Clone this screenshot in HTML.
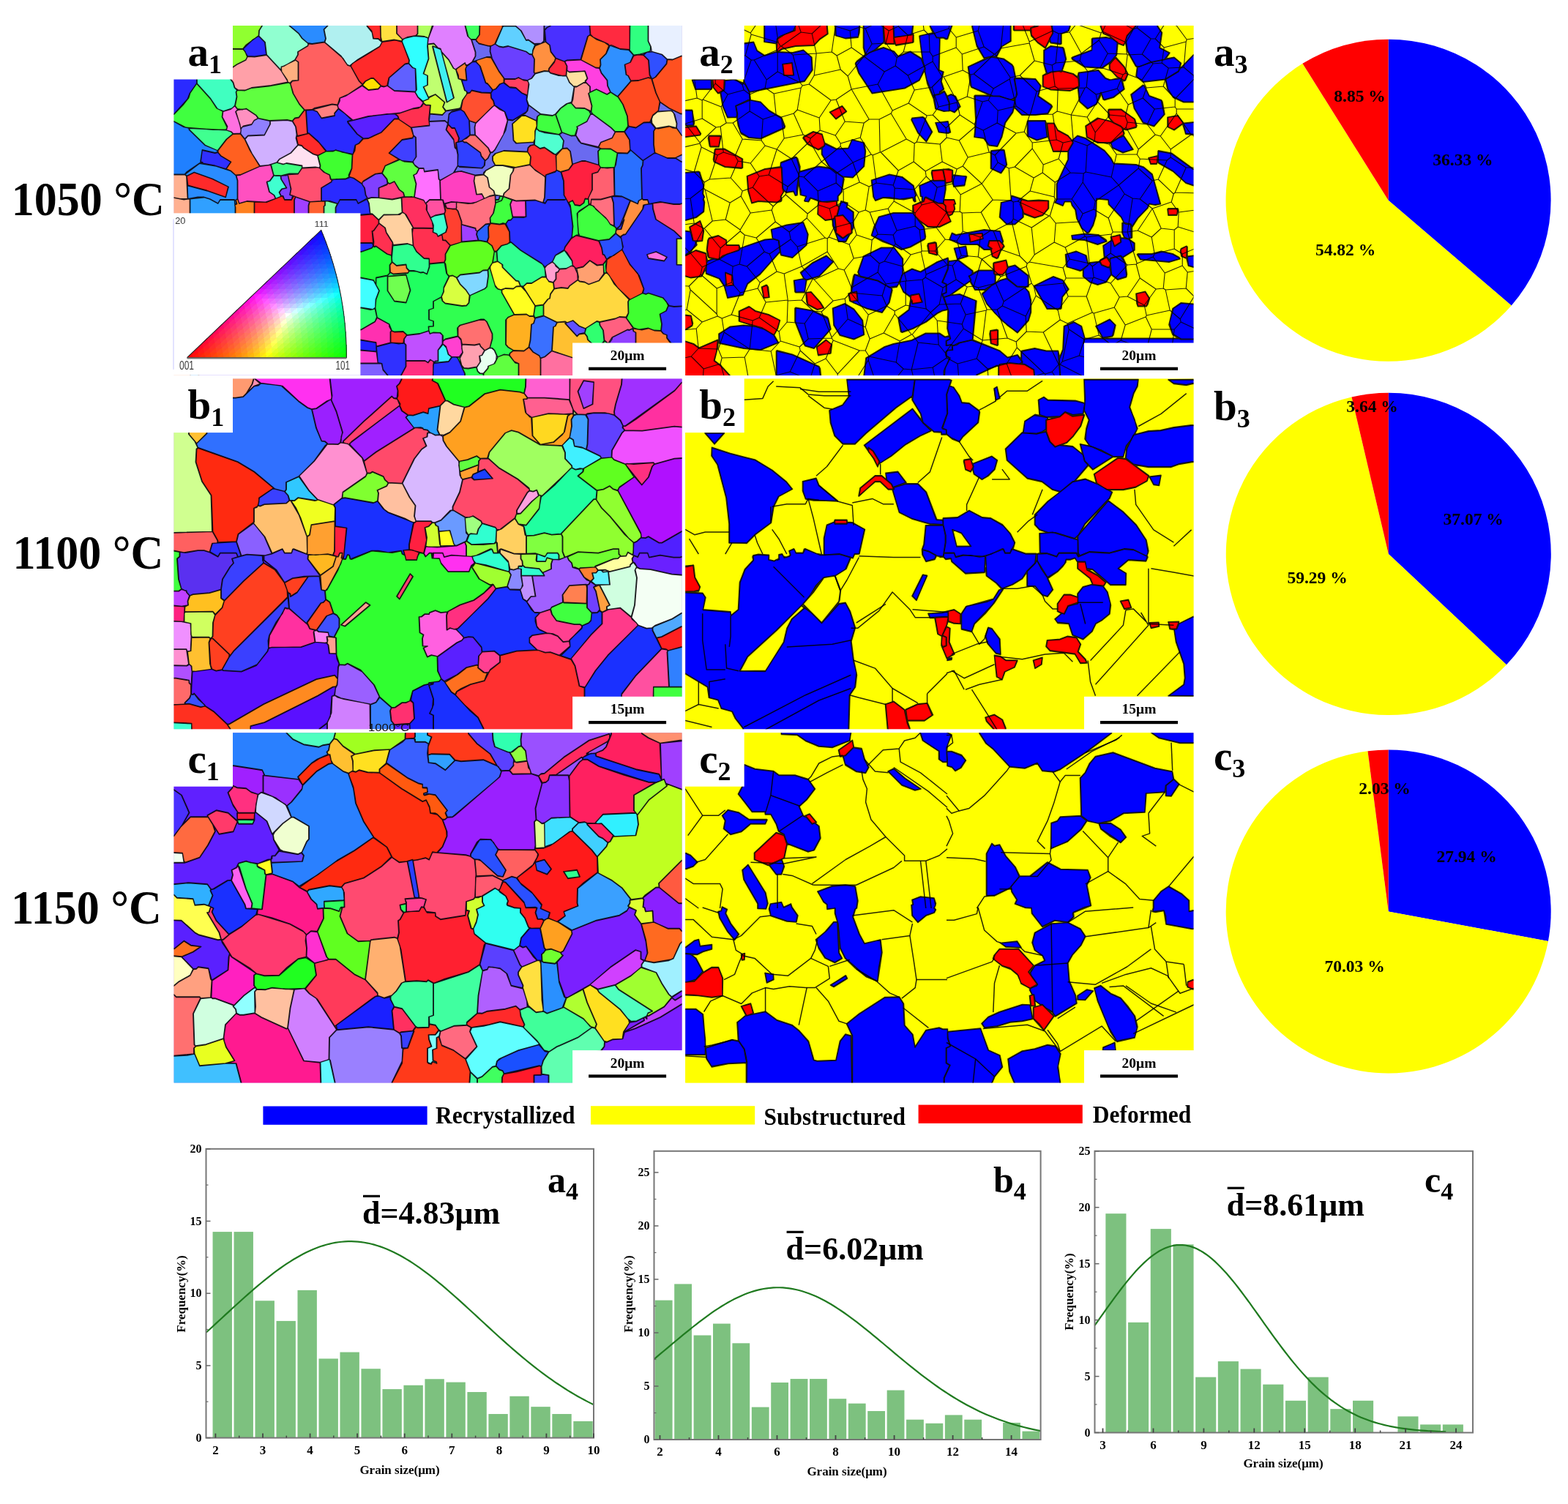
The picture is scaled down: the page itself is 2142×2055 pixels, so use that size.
<!DOCTYPE html>
<html><head><meta charset="utf-8"><title>EBSD figure</title><style>html,body{margin:0;padding:0;background:#fff;width:2142px;height:2055px;overflow:hidden}svg{display:block}</style></head><body>
<svg xmlns="http://www.w3.org/2000/svg" width="2142" height="2055" viewBox="0 0 2142 2055">
<rect x="0" y="0" width="2142" height="2055" fill="#fff"/>
<svg x="237.5" y="35.0" width="694.1" height="478.0" viewBox="0 0 694.1 478.0" preserveAspectRatio="none" overflow="hidden">
<rect width="694.1" height="478.0" fill="#9a7ad8"/>
<g transform="translate(-5.75,-5.75) scale(0.5)">
<path d="M890 475l0 12l9 0l3 -11zM1382 373l16 10l13 0l0 -18l-12 0zM1065 309l12 17l-3 21l12 -1l9 9l6 35l25 -9l10 0l36 11l-2 -37l6 -7l-2 -2l-50 -13l-7 -7l-7 -14l-13 1l-24 -9zM819 272l2 38l13 0l-1 -21l3 -11zM1316 271l-3 4l4 2zM1148 246l2 6l5 1l-4 -7zM795 236l-4 3l-36 6l-10 11l-34 -3l-2 20l43 -2l8 7l3 -25l8 -7l23 -5zM1013 253l-32 -24l-3 15l-7 8l-34 19l-13 -2l-6 29l-29 53l-7 7l-5 1l-7 15l-8 7l-1 12l-7 8l-62 -3l-5 -3l-9 17l20 -3l37 11l22 -2l1 -5l6 -6l25 -14l-7 -13l0 -11l7 -8l24 -8l64 3l2 -11l6 -6l10 -2l0 -7l-49 3l-7 -8l-3 -45l26 -23l10 0l30 14l2 -11zM1340 221l-5 25l37 -2l8 11l6 24l-1 12l14 20l12 0l0 -58l-15 0l-31 -15zM1299 86l-14 4l10 1zM1013 61l-15 2l2 3zM825 50l11 34l0 11l-8 15l38 -13l10 0l4 3l-5 -18l1 -14l-31 -7l-9 -11zM1040 0l-16 0l0 52l-6 7l9 -4l-3 -31l7 -8l9 -4zM910 0l0 14l3 -2l31 0l0 -12z" fill="#6a6af0" fill-rule="evenodd"/>
<path d="M786 918l21 44l0 17l50 0l0 -16l-10 -1l-6 -6l-3 -11l-22 4l-12 -1l-7 -8l-5 -23zM1104 920l2 3l0 56l305 0l0 -94l-39 -4l-9 11l-156 0l-19 -20l-2 6l-8 7l-22 -2l3 28l-7 8zM1021 775l-22 3l-4 24l3 8l23 -6zM962 725l8 9l-4 -8zM875 673l-5 6l1 17l-4 29l-6 6l-40 18l-3 20l-7 8l-12 1l-46 -7l-8 -7l-3 -10l-21 11l0 19l-12 4l0 27l12 4l0 14l-13 1l0 10l3 9l9 -3l20 1l7 8l0 14l6 -5l34 -8l-1 -22l7 -8l56 -16l10 0l8 7l15 33l0 13l-7 25l7 1l6 6l8 18l17 -7l15 2l1 -5l10 -8l-14 -8l-7 -8l0 -67l7 -8l16 -7l-34 -60l0 -7l-11 -3l-6 -6zM1194 652l-9 12l2 24l6 -1l-2 -19zM893 629l-6 1l-4 29l12 -4zM1144 486l-9 -1l-3 11l-11 8l-14 -2l-6 -12l-10 5l4 8l7 57l-3 31l12 -7l6 0l-4 -59l7 -8l25 -16zM911 479l-8 -2l-4 11l-9 0l1 7l16 -6z" fill="#30ff50" fill-rule="evenodd"/>
<path d="M0 0l0 13l12 0l23 24l28 37l137 1l9 -11l34 -25l1 -14l8 -13l0 -12z" fill="#90ff30" fill-rule="evenodd"/>
<path d="M243 40l-16 10l-26 25l12 20l19 1l32 -5l-4 -34z" fill="#2a2aff" fill-rule="evenodd"/>
<path d="M64 75l10 14l75 47l10 -2l25 -17l24 -12l4 -8l-6 -15l-6 -6z" fill="#90ff30" fill-rule="evenodd"/>
<path d="M322 163l-18 -29l-39 -42l-33 5l-19 -1l-5 10l-24 12l-25 17l-8 2l23 30l4 14l10 7l18 0l18 -7l53 -6l45 -9z" fill="#ffa0a8" fill-rule="evenodd"/>
<path d="M253 0l0 12l-8 13l-1 15l17 17l4 34l39 42l1 -9l8 -2l29 -17l8 -14l0 -8l28 -17l0 -6l-17 -14l-9 -13l-25 -21l0 -12z" fill="#90ffd0" fill-rule="evenodd"/>
<path d="M328 0l0 12l24 20l10 14l15 13l12 2l34 -5l3 -9l-5 -25l10 -10l0 -12z" fill="#2a8cff" fill-rule="evenodd"/>
<path d="M422 22l5 25l-3 10l44 37l17 24l7 3l22 -17l60 -36l6 -11l-10 -9l-14 -1l-3 -17l-14 -17l0 -13l-107 0l0 12z" fill="#b0f0f0" fill-rule="evenodd"/>
<path d="M423 57l-34 5l-10 -1l-1 6l-27 16l0 8l-8 14l9 6l0 50l-17 2l-5 7l8 27l17 29l14 16l20 -1l6 -4l49 -11l15 2l6 -19l23 -10l39 -26l-10 -10l-22 -40l-9 -3l-12 -19z" fill="#ff6060" fill-rule="evenodd"/>
<path d="M344 106l-39 19l1 12l15 22l2 7l6 2l6 -6l16 -1l0 -50z" fill="#ffb080" fill-rule="evenodd"/>
<path d="M635 56l-18 -5l-36 5l-7 13l-75 46l-4 7l23 41l9 9l8 -9l15 -8l7 0l21 21l8 2l8 -2l5 -22l44 -38l10 -2l1 -8z" fill="#ff2a2a" fill-rule="evenodd"/>
<path d="M668 40l-25 6l-6 4l-2 5l20 51l-1 9l10 11l8 3l3 58l-4 6l8 14l13 11l16 -7l-15 -32l11 -5l0 -26l-11 -5l14 -41l-3 -34l2 -22l-10 -4z" fill="#30ffff" fill-rule="evenodd"/>
<path d="M459 230l2 7l40 33l42 -11l86 -9l35 -12l21 -4l8 -12l-15 -15l-8 -14l-56 -3l-19 -14l-9 3l-9 -2l-7 8l-27 3l-17 -12l-45 28l-16 6l0 7z" fill="#ff40d0" fill-rule="evenodd"/>
<path d="M368 242l-14 -16l-17 -29l-7 -26l-4 -4l-55 10l-47 5l-18 7l-21 -1l-3 5l2 13l-5 25l6 8l15 2l9 -3l27 18l7 9l29 6l49 -2l14 3l7 -8l11 -2z" fill="#60ff40" fill-rule="evenodd"/>
<path d="M74 90l1 80l37 41l19 28l16 6l24 -8l7 -7l5 -24l-2 -13l3 -5l-7 -7l-4 -14l-23 -30z" fill="#40ffc0" fill-rule="evenodd"/>
<path d="M0 254l0 19l12 0l33 17l74 6l35 0l3 -6l-14 -29l2 -15l-17 -9l-17 -26l-37 -41l-18 26l-4 13l-15 19l-25 26z" fill="#40ff40" fill-rule="evenodd"/>
<path d="M0 14l0 239l12 0l37 -41l6 -16l19 -27l-1 -80l-45 -59l-16 -16z" fill="#2a2aff" fill-rule="evenodd"/>
<path d="M373 243l4 63l3 -1l24 21l25 29l18 -1l7 -3l16 6l31 6l6 -25l10 -5l11 -13l-16 -12l-25 -31l-1 -4l12 -3l-19 -18l-18 -13l-10 12l0 7l-36 7l-12 -18l-13 -5z" fill="#2a2aff" fill-rule="evenodd"/>
<path d="M625 266l-2 -7l-8 -6l-21 0l-51 7l-57 14l27 34l17 12l13 -1l35 -16l36 -37z" fill="#5a20ff" fill-rule="evenodd"/>
<path d="M659 290l-34 -23l-11 0l-36 37l-35 16l-14 1l-12 13l-9 4l-2 16l-6 10l-2 38l-8 22l13 4l22 15l4 -7l32 -19l19 -3l9 -20l37 -17l-27 -17l36 -37l29 -5l2 -6z" fill="#ff5020" fill-rule="evenodd"/>
<path d="M335 273l-14 -3l-46 2l0 9l-16 30l-45 2l-8 9l19 39l22 34l21 -2l25 -8l7 -9l31 -17l19 -21l-5 -19l2 -9l-3 -22z" fill="#d0b0ff" fill-rule="evenodd"/>
<path d="M132 353l1 6l7 8l28 17l-13 19l12 5l13 12l13 -1l53 -23l-27 -44l-14 -30l-12 -15l-20 1l-17 14z" fill="#ff6020" fill-rule="evenodd"/>
<path d="M54 292l0 4l43 42l34 15l24 -31l18 -15l-5 -5l-14 -5z" fill="#40ff90" fill-rule="evenodd"/>
<path d="M0 274l0 144l41 0l6 -7l35 -24l8 0l-6 -3l5 -33l35 8l8 -2l-3 -5l-32 -13l-44 -43l0 -4l-16 -4l-25 -14z" fill="#2080ff" fill-rule="evenodd"/>
<path d="M89 352l-4 32l5 1l1 3l33 6l30 9l13 -19l-27 -16l-8 -10l-8 2z" fill="#3030ff" fill-rule="evenodd"/>
<path d="M42 418l5 4l20 -10l50 18l44 22l-8 29l-51 -18l-52 -14l-2 -10l2 46l27 -5l17 0l16 5l22 12l6 -10l39 0l2 13l4 -1l-3 -11l5 -3l0 -50l-4 -14l-14 -12l-43 -14l-42 -7z" fill="#2a8cff" fill-rule="evenodd"/>
<path d="M47 423l3 25l52 14l51 18l7 -28l-43 -21l-50 -18z" fill="#ff2a2a" fill-rule="evenodd"/>
<path d="M0 419l0 60l29 6l20 0l-3 -62l-4 -4z" fill="#ffb090" fill-rule="evenodd"/>
<path d="M276 392l-29 4l-54 24l-11 1l4 14l0 50l4 12l21 -6l50 3l28 -10l-4 -9l-13 -9l-7 -27l9 -4l10 -14z" fill="#ff50c0" fill-rule="evenodd"/>
<path d="M294 386l16 4l9 -3l43 7l0 6l36 -2l11 2l2 -5l-7 -28l-12 -4l-26 -17l-5 -6l-10 -2l-20 22l-31 17z" fill="#ffe0f0" fill-rule="evenodd"/>
<path d="M405 367l7 27l-1 8l13 11l13 6l4 13l40 -2l9 -5l-1 -5l8 -18l2 -38l-45 -12l-7 3l-19 0z" fill="#40ff30" fill-rule="evenodd"/>
<path d="M443 434l-4 -3l-2 -11l-16 -8l-11 -11l-7 -2l-41 2l-11 16l-34 2l2 2l4 -2l9 39l-3 16l56 19l29 -2l0 -36l28 -17z" fill="#ff5070" fill-rule="evenodd"/>
<path d="M540 483l-5 -9l-3 -19l-7 -11l-22 -15l-9 -3l-13 5l-27 0l-10 3l-2 5l-27 16l0 36l24 0l21 7l5 -11l45 0l5 10z" fill="#2a2aff" fill-rule="evenodd"/>
<path d="M589 395l-8 20l13 16l2 9l5 3l13 -6l14 23l11 8l3 11l26 1l5 -36l-7 -24l8 -4l7 -14l-9 -6l-8 -11l-24 -2l-11 -5z" fill="#60ff40" fill-rule="evenodd"/>
<path d="M580 415l-17 2l-36 22l-1 6l7 10l3 19l5 10l11 -3l19 1l0 -27l24 -11l-2 -13z" fill="#8040ff" fill-rule="evenodd"/>
<path d="M638 468l-11 -8l-13 -22l-13 6l-4 -2l-4 5l-21 8l0 27l36 4l33 -7z" fill="#ff4080" fill-rule="evenodd"/>
<path d="M672 317l-6 -4l-2 6l-29 5l-35 36l35 21l29 3l9 -14z" fill="#4040ff" fill-rule="evenodd"/>
<path d="M710 284l-2 -17l4 -38l-12 0l-7 -5l-4 8l-9 5l-16 2l-35 12l-13 1l8 7l3 9l33 22z" fill="#ff3050" fill-rule="evenodd"/>
<path d="M372 243l-4 0l-15 20l-11 2l-6 7l9 16l4 25l27 -6z" fill="#ff4040" fill-rule="evenodd"/>
<path d="M346 315l5 22l10 2l5 6l28 18l11 3l22 -11l-18 -23l-29 -26z" fill="#ff2a2a" fill-rule="evenodd"/>
<path d="M461 238l-3 -9l-14 -2l-54 14l13 5l12 18l36 -7l-1 -6z" fill="#ff8080" fill-rule="evenodd"/>
<path d="M653 115l-10 2l-43 37l-4 22l18 13l57 3l2 -3l-2 -60l-7 -2z" fill="#6060ff" fill-rule="evenodd"/>
<path d="M527 174l16 13l27 -3l7 -8l-20 -20l-7 0l-15 8z" fill="#ffe000" fill-rule="evenodd"/>
<path d="M576 0l1 43l3 12l33 -5l22 4l0 -6l-15 -15l0 -33z" fill="#ffe040" fill-rule="evenodd"/>
<path d="M540 0l0 13l12 13l5 21l13 0l7 5l-2 -52z" fill="#ff2a2a" fill-rule="evenodd"/>
<path d="M621 0l0 33l15 16l13 -6l23 -4l5 -5l0 -34z" fill="#ff6080" fill-rule="evenodd"/>
<path d="M274 272l-32 -7l-11 6l-7 11l-25 6l-4 6l-1 13l11 14l9 -9l45 -2l15 -29z" fill="#9080ff" fill-rule="evenodd"/>
<path d="M178 231l-11 9l-21 6l-2 15l14 26l-3 10l13 4l6 6l19 -1l2 -7l-3 -18l-12 -34l6 -6z" fill="#ff70e0" fill-rule="evenodd"/>
<path d="M209 239l-22 3l-6 4l14 47l6 -7l23 -5l7 -11l10 -5l-5 -8z" fill="#ff90c0" fill-rule="evenodd"/>
<path d="M678 0l0 34l-5 5l23 2l11 4l14 -45z" fill="#b0ff60" fill-rule="evenodd"/>
<path d="M304 422l1 9l15 24l-13 3l-7 9l5 10l5 0l4 10l19 0l3 -11l-8 -2l3 -16l-8 -38z" fill="#8040ff" fill-rule="evenodd"/>
<path d="M303 422l-18 -1l-11 15l-8 2l7 28l13 9l4 9l14 -6l-5 -11l7 -9l13 -3l-15 -24z" fill="#40ffd0" fill-rule="evenodd"/>
<path d="M277 391l7 28l5 3l18 -1l20 -5l24 0l10 -15l1 -6l-43 -7l-9 3l-17 -5z" fill="#40ff80" fill-rule="evenodd"/>
<path d="M722 0l-2 12l-13 34l-2 16l17 -2l11 12l7 2l3 9l20 22l13 23l5 3l26 -18l2 6l5 0l12 -8l9 -16l0 -11l-11 -34l-10 -10l-7 -28l0 -12z" fill="#e080ff" fill-rule="evenodd"/>
<path d="M705 63l3 39l-14 41l11 5l0 26l-11 5l13 28l19 -8l26 22l-5 13l8 10l36 -6l4 -3l5 -20l12 -17l-1 -7l-5 -2l-9 -29l-8 -3l-7 -25l-7 -4l-13 -23l-19 -21l34 125l-20 12l-39 -152l1 -2l13 5l-10 -11z" fill="#c0ff70" fill-rule="evenodd"/>
<path d="M719 68l39 153l18 -11l-35 -133z" fill="#40f0f0" fill-rule="evenodd"/>
<path d="M848 0l-1 36l-10 14l1 4l7 6l25 7l8 0l10 -5l21 -46l0 -16z" fill="#ff6020" fill-rule="evenodd"/>
<path d="M910 15l-20 47l10 6l11 2l14 -3l49 15l9 7l8 1l1 -11l6 -15l-18 -13l-6 1l-15 -27l-14 -12l-32 0z" fill="#60d0ff" fill-rule="evenodd"/>
<path d="M808 0l0 12l8 30l7 7l14 0l9 -13l1 -36z" fill="#40ff60" fill-rule="evenodd"/>
<path d="M945 0l0 12l16 14l13 25l6 -1l17 11l18 -1l7 -6l1 -54z" fill="#b090ff" fill-rule="evenodd"/>
<path d="M1041 0l0 12l-10 5l-6 7l3 32l11 9l3 18l13 17l23 9l7 -3l38 -2l19 -63l7 -5l-3 -36z" fill="#4a30ff" fill-rule="evenodd"/>
<path d="M1147 0l3 36l7 7l40 18l4 5l7 -1l23 10l26 2l0 -77z" fill="#ff2a40" fill-rule="evenodd"/>
<path d="M1258 0l-1 79l11 13l16 -2l29 -9l1 -12l-7 -15l0 -54z" fill="#30ff80" fill-rule="evenodd"/>
<path d="M1308 0l0 54l7 15l2 13l28 8l14 13l15 1l24 -10l13 0l0 -94z" fill="#e8f0ff" fill-rule="evenodd"/>
<path d="M1148 37l-5 4l-19 64l40 21l10 1l3 -8l-1 -15l16 -16l8 -22l-11 -8l-22 -8z" fill="#ff7020" fill-rule="evenodd"/>
<path d="M1027 56l-28 11l-6 12l-2 12l6 12l-1 36l2 3l26 -7l11 1l1 -7l16 -21l2 -8l-13 -17l-3 -18z" fill="#ff9040" fill-rule="evenodd"/>
<path d="M1203 66l-10 22l-16 16l1 15l-3 9l5 13l16 20l1 15l8 17l19 12l36 -42l-8 -15l-5 -2l-4 -28l15 -6l9 -20l-13 -14l-23 -2z" fill="#3090ff" fill-rule="evenodd"/>
<path d="M1294 92l-15 -1l-11 3l-9 18l-15 6l4 28l5 2l7 14l21 -1l27 -8l7 2l-4 -9l-3 -40z" fill="#ff2a40" fill-rule="evenodd"/>
<path d="M1304 84l-9 8l14 14l3 40l6 11l9 -5l30 -36l2 -12l-14 -13l-27 -8z" fill="#3050ff" fill-rule="evenodd"/>
<path d="M1398 95l-24 10l-14 -1l-2 12l-30 36l-10 6l11 37l11 25l25 17l31 15l15 0l0 -157z" fill="#ff5020" fill-rule="evenodd"/>
<path d="M1316 156l-8 -2l-27 8l-20 1l-36 42l14 22l12 32l2 25l3 3l18 3l21 -14l17 -1l8 -19l15 -12l4 -25l-11 -24z" fill="#ff4a20" fill-rule="evenodd"/>
<path d="M1080 110l6 12l0 12l6 4l43 -2l7 20l-6 9l13 13l0 15l17 -8l29 14l9 -6l-8 -17l-1 -15l-16 -20l-5 -13l-10 -1l-41 -22l-38 2z" fill="#ff40e0" fill-rule="evenodd"/>
<path d="M1085 134l-1 14l9 19l10 10l9 1l19 -11l5 0l-1 -4l6 -7l-7 -20l-42 3z" fill="#ffe0a0" fill-rule="evenodd"/>
<path d="M1106 179l-4 34l-4 11l11 12l25 1l17 8l2 -14l-9 -34l4 -3l0 -16l-10 -10l-7 0l-19 11z" fill="#ff9a90" fill-rule="evenodd"/>
<path d="M1055 101l-4 11l-14 17l-1 7l5 5l33 8l9 -1l2 -26l-6 -12z" fill="#ff2a40" fill-rule="evenodd"/>
<path d="M999 143l-10 13l-11 5l4 11l-6 42l5 14l33 25l32 4l8 -4l14 -16l16 -12l14 -5l7 -41l-13 -12l-8 -18l-23 -1l-20 -6l-5 -5l-12 -1z" fill="#b8e0ff" fill-rule="evenodd"/>
<path d="M877 68l-1 14l5 19l19 35l15 21l29 0l9 -4l11 6l13 2l12 -6l9 -12l-3 -4l1 -36l-6 -12l-7 -1l-9 -7l-49 -15l-14 3l-11 -2l-11 -7z" fill="#6a40ff" fill-rule="evenodd"/>
<path d="M810 124l-1 6l3 31l-14 0l9 28l5 2l1 5l8 -2l4 -6l27 6l26 1l4 -8l-11 -14l-8 -5l-16 -47l-11 -11l-9 1z" fill="#3030ff" fill-rule="evenodd"/>
<path d="M840 106l-3 4l12 13l15 45l4 1l15 18l8 -3l11 -13l11 -4l0 -12l-14 -19l-21 -37l-12 -1z" fill="#ff7a20" fill-rule="evenodd"/>
<path d="M807 114l-22 15l-2 4l6 14l1 10l21 4l-3 -31l5 -10l-4 0z" fill="#ff8030" fill-rule="evenodd"/>
<path d="M915 158l-1 9l14 12l18 2l16 14l14 6l2 -2l3 -31l-4 -6l-10 -1l-14 -7l-9 4z" fill="#ff4060" fill-rule="evenodd"/>
<path d="M912 168l-10 4l-11 13l-8 3l-5 8l1 13l6 8l3 12l28 18l8 21l13 2l39 -24l4 -15l-5 -17l1 -11l-14 -7l-16 -14l-16 -1z" fill="#2020ff" fill-rule="evenodd"/>
<path d="M877 196l-25 -1l-27 -6l-4 6l-8 2l-12 18l-5 26l9 6l14 24l18 6l50 -48l-3 -12l-6 -8z" fill="#ff5030" fill-rule="evenodd"/>
<path d="M693 218l1 5l6 5l13 1l-2 23l34 3l9 -9l-8 -12l5 -13l-25 -21l-18 9l0 3z" fill="#d0ff30" fill-rule="evenodd"/>
<path d="M1145 196l9 35l-2 16l4 6l50 37l11 11l25 0l10 -15l-2 -27l-12 -32l-13 -20l-20 -13l-10 6l-29 -14z" fill="#40ff40" fill-rule="evenodd"/>
<path d="M1088 224l-20 14l-13 16l17 49l25 9l10 0l7 -21l-2 -3l28 -15l10 -20l-4 -8l-12 -7l-25 -1l-12 -14z" fill="#40ff50" fill-rule="evenodd"/>
<path d="M1005 260l-2 33l7 6l53 10l8 -6l-17 -49l-8 4l-34 -4z" fill="#40ff40" fill-rule="evenodd"/>
<path d="M1002 293l-3 7l-2 37l15 10l12 -3l30 20l19 -17l3 -21l-11 -16l-42 -6l-13 -4z" fill="#50ffd0" fill-rule="evenodd"/>
<path d="M795 241l-26 7l-6 7l-2 26l10 10l8 0l12 28l-2 10l10 -3l21 -15l-2 -41l-14 -23z" fill="#2a30ff" fill-rule="evenodd"/>
<path d="M888 230l-6 3l-46 46l-2 10l1 21l36 36l6 12l5 -1l6 -6l24 -42l11 -38l-8 -24l-13 -6z" fill="#ff80f0" fill-rule="evenodd"/>
<path d="M962 258l-25 22l3 45l8 8l46 -3l4 -9l0 -21l5 -14l-1 -14l-30 -14z" fill="#ffe020" fill-rule="evenodd"/>
<path d="M761 282l-5 14l20 26l4 23l3 2l-1 -16l6 -2l2 -10l-11 -27l-8 0z" fill="#ff3050" fill-rule="evenodd"/>
<path d="M801 324l-1 2l5 4l6 0l38 28l3 10l10 12l7 -6l7 -14l-6 -14l-35 -35l-14 0l-10 9z" fill="#ff7070" fill-rule="evenodd"/>
<path d="M661 290l5 21l7 6l1 53l-9 13l3 8l13 10l13 0l2 9l37 -5l3 26l3 3l36 -20l12 -20l0 -30l-3 -14l-5 -5l-3 -21l-21 -28l5 -17l-8 -7l-43 2l1 11z" fill="#9070ff" fill-rule="evenodd"/>
<path d="M783 331l5 33l-1 29l3 3l62 5l7 -6l2 -15l-10 -12l-2 -9l-38 -28l-6 0l-5 -4z" fill="#3040ff" fill-rule="evenodd"/>
<path d="M980 345l-2 11l9 14l-2 22l10 11l31 22l2 -6l27 -10l2 -4l-2 -38l2 -3l-9 -2l-24 -17l-12 3l-16 -11l-9 2z" fill="#ff3030" fill-rule="evenodd"/>
<path d="M1086 347l-13 1l-17 19l1 39l11 5l22 -6l10 -14l-6 -36z" fill="#ff9030" fill-rule="evenodd"/>
<path d="M883 369l0 11l7 13l20 0l35 6l39 -8l2 -21l-8 -13l-65 -3l-22 7z" fill="#ffe020" fill-rule="evenodd"/>
<path d="M1173 393l-37 -11l-10 0l-24 8l-12 16l-20 6l7 24l1 39l11 20l12 -6l6 12l14 2l10 -7l4 -12l8 1l11 -25l0 -44l16 -5l7 -12z" fill="#ff2040" fill-rule="evenodd"/>
<path d="M1213 399l-17 2l-18 -2l-8 13l-15 4l0 44l-11 22l2 18l5 -1l1 -13l26 0l37 -10z" fill="#ff6070" fill-rule="evenodd"/>
<path d="M1224 360l-5 32l-4 8l1 76l20 2l43 20l2 -8l9 -5l-2 -84l4 -8l1 -12l-33 -29l-9 9z" fill="#2a70ff" fill-rule="evenodd"/>
<path d="M1294 380l-1 13l-4 8l2 83l3 3l12 0l4 12l30 -6l37 6l17 0l17 -5l0 -110l-13 0l-16 -10l-22 0l-31 -14l-6 1z" fill="#2a30ff" fill-rule="evenodd"/>
<path d="M1328 292l-5 8l0 36l3 23l34 14l21 0l18 -9l12 0l0 -52l-12 0l-14 -20l-11 -1l-8 -4l-31 6z" fill="#ff7020" fill-rule="evenodd"/>
<path d="M1256 324l-14 -22l-24 0l-9 17l-31 12l-6 13l8 4l25 0l18 11l28 1l7 -9z" fill="#ff6a30" fill-rule="evenodd"/>
<path d="M1150 254l-10 20l-27 14l2 3l-5 20l14 21l47 11l7 -13l31 -12l8 -16l-11 -11l-50 -37z" fill="#c080ff" fill-rule="evenodd"/>
<path d="M1314 276l-19 1l-21 14l-19 -4l-12 14l14 23l1 26l35 30l32 -21l-3 -23l0 -36l5 -8z" fill="#2a30ff" fill-rule="evenodd"/>
<path d="M1177 348l-6 7l2 37l4 6l4 2l35 -1l7 -39l-18 -11z" fill="#40ff40" fill-rule="evenodd"/>
<path d="M1377 250l-7 -6l-37 3l-13 11l-3 9l1 11l11 14l35 -6l20 5l1 -12z" fill="#fff0b0" fill-rule="evenodd"/>
<path d="M739 435l2 52l6 1l3 10l20 -5l53 4l15 -3l21 -10l-6 -12l-15 1l-7 -37l3 -16l-36 -10l-10 0l-11 3z" fill="#ff40c0" fill-rule="evenodd"/>
<path d="M941 400l-2 9l-7 11l-4 37l-14 13l-2 8l35 12l52 -2l21 7l4 -14l2 -54l-2 -4l-24 -15l-16 -16z" fill="#ffa090" fill-rule="evenodd"/>
<path d="M889 394l-25 14l-6 10l11 9l5 26l12 10l3 11l22 4l2 -8l14 -13l4 -37l7 -11l1 -8l-29 -7z" fill="#f0ffc0" fill-rule="evenodd"/>
<path d="M1057 407l-4 5l-25 8l-3 61l-4 12l4 4l7 -10l47 0l4 -2l-6 -10l-1 -39l-7 -24z" fill="#2a40ff" fill-rule="evenodd"/>
<path d="M682 402l-7 14l-8 4l7 24l-5 36l25 8l5 9l11 -10l30 0l-2 -53l-3 -3l-2 -25l-37 5l-2 -9z" fill="#ff70ff" fill-rule="evenodd"/>
<path d="M834 422l-2 14l7 37l14 -2l7 13l14 -7l14 -3l-3 -11l-12 -10l-5 -26l-10 -8z" fill="#ffc0a0" fill-rule="evenodd"/>
<path d="M0 480l0 499l56 0l-1 -494l-16 2z" fill="#ffb090" fill-rule="evenodd"/>
<path d="M177 488l-39 0l-6 10l-22 -12l-16 -5l-38 4l1 494l21 0l0 -12l101 -102l0 -357z" fill="#30a0ff" fill-rule="evenodd"/>
<path d="M186 486l-5 2l3 11l-6 3l2 6l0 356l50 -49l1 -322l-20 -1l-21 6z" fill="#ff8020" fill-rule="evenodd"/>
<path d="M339 477l-6 11l-19 0l-6 -11l-42 17l-34 -1l-1 321l109 -109l0 -217l4 -9z" fill="#ff2020" fill-rule="evenodd"/>
<path d="M344 480l-3 8l0 216l38 -38l0 -163l3 -10z" fill="#a040ff" fill-rule="evenodd"/>
<path d="M424 491l-41 2l-3 10l0 162l41 -41l0 -119l3 -2z" fill="#ff6030" fill-rule="evenodd"/>
<path d="M432 491l-7 0l0 12l-3 2l0 118l31 -31l0 -83l5 -11z" fill="#80ffa0" fill-rule="evenodd"/>
<path d="M417 629l107 0l30 -11l2 -6l-3 -6l-113 0zM539 486l-24 12l-5 -10l-45 0l-11 21l0 82l62 -62l32 -3l-4 -29z" fill="#2a30ff" fill-rule="evenodd"/>
<path d="M540 486l5 11l3 28l6 1l17 16l14 -14l38 0l12 -6l-2 -40l-25 5l-38 -5l-18 0z" fill="#d0ffb0" fill-rule="evenodd"/>
<path d="M634 481l2 40l10 7l20 36l54 1l-3 -18l-16 -33l1 -12l-8 -13l-32 -10z" fill="#ff3060" fill-rule="evenodd"/>
<path d="M571 543l-17 -16l-38 3l-75 75l112 0l3 2l-3 -34l4 -1l14 -19z" fill="#ff2040" fill-rule="evenodd"/>
<path d="M572 543l0 8l17 13l3 12l17 27l2 8l39 -4l15 5l-3 -45l3 -3l-22 -38l-7 -4l-7 6l-44 1z" fill="#ffd0a0" fill-rule="evenodd"/>
<path d="M572 552l-14 20l-4 1l4 29l-1 13l7 -1l30 21l12 4l3 -34l-17 -27l-4 -14z" fill="#ff3050" fill-rule="evenodd"/>
<path d="M606 640l-12 -4l-30 -21l-4 2l-4 -2l-4 5l-28 10l-108 0l-70 70l176 0l35 7l6 11l1 -18l31 -6l6 -6l0 -22l6 -8z" fill="#20ff40" fill-rule="evenodd"/>
<path d="M610 613l-3 34l1 10l12 10l26 -3l2 10l7 7l12 0l18 5l8 -1l10 5l6 -19l0 -22l-14 -1l-21 -19l-9 -16l-15 -5z" fill="#30ff90" fill-rule="evenodd"/>
<path d="M602 666l1 19l8 5l40 -3l3 -5l-7 -8l-1 -9l-26 3l-12 -10z" fill="#ff9040" fill-rule="evenodd"/>
<path d="M751 659l-41 4l0 8l-7 20l-10 -5l-8 1l-12 -4l-18 -1l-4 6l-40 3l-8 -5l-8 9l-31 6l0 19l9 16l-9 24l-2 23l5 26l33 18l7 18l7 3l24 -1l11 10l34 -4l25 -8l-1 -11l13 -1l0 -14l-12 -4l0 -27l12 -4l0 -19l22 -12l6 -14l1 -13l14 -29l-7 -9zM646 692l12 43l-12 34l-32 -4l-19 -29l0 -39z" fill="#20ff60" fill-rule="evenodd"/>
<path d="M646 693l-50 4l0 39l18 28l32 4l11 -33z" fill="#70ff50" fill-rule="evenodd"/>
<path d="M264 782l260 0l31 5l7 -5l1 -22l9 -24l-15 -28l-35 -7l-177 0z" fill="#40ffff" fill-rule="evenodd"/>
<path d="M204 842l319 0l38 -22l5 -12l-5 -23l-12 3l-25 -5l-261 0z" fill="#30ff70" fill-rule="evenodd"/>
<path d="M606 845l-6 -11l0 -6l-33 -18l-6 11l-38 22l-320 0l-27 27l346 0l42 7l1 11l38 -10l0 -29z" fill="#ff30b0" fill-rule="evenodd"/>
<path d="M606 846l-2 3l0 29l34 2l2 -12l8 -11l-10 -9l-24 1z" fill="#ff3030" fill-rule="evenodd"/>
<path d="M565 889l4 44l11 2l3 16l13 16l0 12l36 0l0 -12l13 -24l0 -59l-5 -5l-14 2l-19 -3z" fill="#3030ff" fill-rule="evenodd"/>
<path d="M745 857l-7 -6l-18 0l-9 3l-3 -8l-25 8l-35 4l-7 10l0 11l5 5l0 43l52 0l8 5l6 -8l11 7l3 -3l7 0l0 -30l12 -17z" fill="#c050ff" fill-rule="evenodd"/>
<path d="M148 898l374 0l43 4l-1 -24l-42 -7l-347 0z" fill="#2020ff" fill-rule="evenodd"/>
<path d="M112 934l457 0l-4 -31l-43 -4l-375 0z" fill="#ff40d0" fill-rule="evenodd"/>
<path d="M79 967l0 12l516 0l0 -12l-12 -14l-4 -18l-468 0z" fill="#8060ff" fill-rule="evenodd"/>
<path d="M721 929l-9 -4l-6 8l-8 -5l-52 0l0 15l-13 24l0 12l86 0z" fill="#ff3080" fill-rule="evenodd"/>
<path d="M753 499l4 11l17 3l8 -1l2 -3l-1 -15l-13 0zM700 498l3 4l0 15l10 19l12 -6l25 -5l3 -6l-7 -31l-36 0z" fill="#ff50a0" fill-rule="evenodd"/>
<path d="M889 475l-15 3l-44 19l-15 1l-31 -4l-1 19l5 5l10 29l0 8l38 10l1 6l4 2l22 -19l13 -2l-1 -15l9 -13l6 -26z" fill="#ff7080" fill-rule="evenodd"/>
<path d="M665 565l-2 14l3 34l9 16l20 18l14 1l1 14l40 -4l3 -7l0 -15l13 -24l-12 -13l-8 -1l-2 -15l-11 5l-3 -7l-11 -5l1 -10z" fill="#ff3050" fill-rule="evenodd"/>
<path d="M750 499l4 18l-3 9l8 37l-4 13l-11 6l3 16l7 0l13 14l30 -9l0 -56l-10 -29l-5 -5l-25 -2z" fill="#ff4030" fill-rule="evenodd"/>
<path d="M750 526l-25 5l-12 6l8 20l-1 19l10 4l3 7l21 -11l4 -13z" fill="#40ffd0" fill-rule="evenodd"/>
<path d="M797 555l1 47l45 -4l-5 -16l2 -9l-4 -2l0 -5z" fill="#a040ff" fill-rule="evenodd"/>
<path d="M874 553l-11 2l-22 19l-2 8l5 16l23 4l4 -12l-1 -28z" fill="#2a60ff" fill-rule="evenodd"/>
<path d="M916 553l-15 2l-24 -3l-6 10l1 28l-4 13l13 10l6 15l6 0l13 -15l18 -5l5 -5l-1 -28z" fill="#ff5020" fill-rule="evenodd"/>
<path d="M935 488l-23 -9l-5 11l-16 6l-6 28l-9 13l1 14l24 3l9 -3l8 2l7 -10l7 -1l5 -5l-7 -37z" fill="#40ff40" fill-rule="evenodd"/>
<path d="M936 488l-5 12l6 32l2 2l34 0l-1 -44l-25 1z" fill="#ff50c0" fill-rule="evenodd"/>
<path d="M1084 486l-5 2l-47 0l-6 10l-27 -9l-26 1l1 44l-6 2l-29 -1l-7 8l-7 1l-6 9l10 22l1 28l3 0l26 22l56 35l10 11l21 -15l8 -17l24 -15l2 -8l19 -27l2 -29l-6 -51z" fill="#2a30ff" fill-rule="evenodd"/>
<path d="M1241 541l-10 18l-10 9l12 0zM1297 501l-4 12l-47 69l-8 2l-5 5l6 27l-3 8l22 40l25 31l13 36l-3 12l8 2l7 -3l40 13l17 22l13 2l33 -2l0 -111l-26 -1l0 -71l26 -1l-12 0l-21 -20l-50 -32l-8 -29l-1 -14zM1304 637l25 -8l30 15l-8 11l-43 -7z" fill="#3030ff" fill-rule="evenodd"/>
<path d="M1320 497l1 15l8 29l49 31l21 20l12 0l0 -97l-17 5l-17 0l-33 -6z" fill="#ff5080" fill-rule="evenodd"/>
<path d="M1152 487l-2 14l9 4l5 8l28 24l12 17l10 4l-2 -62l-5 -17l-29 8z" fill="#ff7080" fill-rule="evenodd"/>
<path d="M1208 478l5 18l2 63l6 7l9 -7l28 -69l-22 -11z" fill="#3040ff" fill-rule="evenodd"/>
<path d="M1306 488l-12 0l-3 -3l-9 5l-3 9l-20 -9l-19 50l2 2l-8 26l-13 1l-2 7l2 5l10 7l9 -6l5 0l47 -69l2 -11l15 -3z" fill="#ff9040" fill-rule="evenodd"/>
<path d="M1115 523l-1 18l3 37l3 8l52 13l29 -4l17 -16l2 -13l-3 -4l-13 -7l-8 -13l-40 -38l-10 -3z" fill="#40ff40" fill-rule="evenodd"/>
<path d="M1081 616l-3 9l8 7l14 22l1 12l9 9l20 -5l18 -17l21 13l15 -2l10 -13l-7 -13l-4 -1l-3 -18l-8 -19l-61 -15l-14 9z" fill="#ff2060" fill-rule="evenodd"/>
<path d="M1219 580l-18 16l-28 3l8 20l3 18l4 1l6 12l9 -7l10 -3l22 -16l3 -5l-4 -26z" fill="#2a50ff" fill-rule="evenodd"/>
<path d="M1234 625l-39 26l-3 31l33 47l33 31l33 -17l4 -12l-16 -42l-22 -25l-20 -39z" fill="#ff4a20" fill-rule="evenodd"/>
<path d="M1256 761l-3 5l1 31l-6 14l19 26l16 5l25 -4l16 6l18 1l2 -18l-5 -27l17 -9l6 -14l-5 -11l-9 -10l-40 -13l-7 3l-9 -3z" fill="#40ff30" fill-rule="evenodd"/>
<path d="M1363 777l-6 14l-17 9l5 27l-2 19l6 7l10 4l0 8l12 15l40 4l0 -106l-33 2z" fill="#3030ff" fill-rule="evenodd"/>
<path d="M1255 760l-41 -43l-13 -23l-6 -6l-5 0l-17 21l-28 10l-11 -6l-14 -2l-5 -4l-22 16l-5 7l-18 -2l-19 3l-10 14l-2 12l-4 1l-13 16l0 30l37 18l22 -2l5 3l16 -6l17 15l17 7l31 -20l8 2l42 -9l12 -5l18 1l6 -11l-1 -31z" fill="#ffd840" fill-rule="evenodd"/>
<path d="M1028 699l-11 0l-28 17l-13 0l-10 9l33 52l22 -3l12 -15l5 -2l2 -12l10 -14l-2 -17l-12 -3z" fill="#ffee20" fill-rule="evenodd"/>
<path d="M882 660l-6 10l0 8l13 43l7 9l9 3l12 -4l22 1l8 -6l11 -1l-5 -13l-7 -1l-37 -37l-1 -8l-12 -8z" fill="#ffff30" fill-rule="evenodd"/>
<path d="M908 734l0 7l34 60l33 -1l8 5l11 0l4 -28l-25 -39l-13 -14l-13 1l-8 6l-22 -1z" fill="#ffff20" fill-rule="evenodd"/>
<path d="M894 628l2 27l14 10l0 7l36 36l8 2l5 13l7 1l10 -9l13 0l28 -17l10 0l-2 -23l-6 -11l-60 -38l-26 -22l-27 10z" fill="#30ff90" fill-rule="evenodd"/>
<path d="M869 680l-13 1l-9 6l-53 6l-9 8l9 17l16 16l10 15l41 -19l5 -5l4 -29z" fill="#80d8ff" fill-rule="evenodd"/>
<path d="M765 696l-16 33l0 10l-6 13l3 12l7 6l46 7l12 -1l6 -7l2 -20l-10 -15l-16 -16l-10 -18l-10 -5z" fill="#d8ff40" fill-rule="evenodd"/>
<path d="M880 613l-13 -10l-20 -4l-49 4l-31 10l-13 23l0 15l-3 7l3 5l4 27l6 6l9 -2l12 6l9 -8l53 -6l9 -6l13 -1l13 -20l5 -30z" fill="#60ff20" fill-rule="evenodd"/>
<path d="M1185 665l-18 2l-19 -13l-18 17l-18 4l5 23l-1 8l4 4l14 2l11 6l28 -10l13 -18z" fill="#ffa070" fill-rule="evenodd"/>
<path d="M1045 658l-15 9l-5 7l5 28l6 8l12 3l7 -9l0 -18l6 -2l4 -7l-10 -8l-3 -7z" fill="#ffa0d0" fill-rule="evenodd"/>
<path d="M1106 671l-9 -3l-14 8l-17 1l-5 8l-5 1l0 18l-7 9l2 17l19 -3l18 2l5 -7l22 -16l-1 -17z" fill="#ff6080" fill-rule="evenodd"/>
<path d="M1079 626l-25 14l-8 17l19 19l18 -1l18 -8l-2 -13z" fill="#60ffc0" fill-rule="evenodd"/>
<path d="M994 806l-11 0l-8 -5l-34 1l-16 7l-5 5l-1 69l6 7l15 9l28 1l13 -10l4 -19l3 -43l6 -3l4 -12z" fill="#ffb020" fill-rule="evenodd"/>
<path d="M1022 805l-23 6l-4 14l-6 3l-3 43l-4 18l11 14l17 10l3 7l12 -4l19 -16l4 -65l5 -2l5 -10z" fill="#3a70ff" fill-rule="evenodd"/>
<path d="M1059 823l-5 10l-5 2l-4 65l57 19l48 0l7 -6l1 -14l-3 -17l-13 -12l-2 -9l-6 -8l-15 2l-6 6l-33 -36l3 -1l-2 -3z" fill="#ffc030" fill-rule="evenodd"/>
<path d="M1246 809l-17 -1l-12 5l-42 9l1 8l9 14l3 27l10 9l11 -17l42 -21l5 1l10 -5z" fill="#ff6080" fill-rule="evenodd"/>
<path d="M1266 839l2 8l6 3l0 41l89 0l8 -8l-13 -18l0 -8l-9 -3l-7 -8l-18 -1l-16 -6l-18 4z" fill="#ff8030" fill-rule="evenodd"/>
<path d="M1273 850l-6 -3l-2 -7l-9 4l-5 -1l-42 21l0 4l-10 15l8 8l66 0z" fill="#9040ff" fill-rule="evenodd"/>
<path d="M1081 825l32 35l6 -6l15 -3l2 -11l-17 -7l-17 -15z" fill="#6050ff" fill-rule="evenodd"/>
<path d="M1167 820l-29 18l-4 14l7 9l2 9l13 12l22 2l9 -11l-3 -29l-9 -14l-1 -8z" fill="#30ff70" fill-rule="evenodd"/>
<path d="M788 836l0 24l8 8l3 14l34 2l14 -3l3 7l11 11l14 -8l6 -24l0 -13l-15 -33l-5 -5l-16 0l-50 14z" fill="#ff7070" fill-rule="evenodd"/>
<path d="M847 882l-14 3l-34 -2l-1 10l3 12l-8 16l5 19l6 7l12 1l23 -4l9 -13l-2 -17l7 -2l7 -13l-11 -11z" fill="#ffa0b0" fill-rule="evenodd"/>
<path d="M880 893l-6 0l-13 7l-7 12l-7 2l3 15l-11 17l3 10l7 6l8 0l12 -14l1 -6l16 -6l6 -11l1 -12l-6 -14z" fill="#e8fff0" fill-rule="evenodd"/>
<path d="M747 882l-13 16l0 30l-8 1l-3 4l39 -4l8 -12l-9 -7l-5 -18z" fill="#40f0ff" fill-rule="evenodd"/>
<path d="M788 861l-35 8l-6 5l-1 7l9 7l7 22l9 7l20 0l9 -12l-4 -34z" fill="#ff40d0" fill-rule="evenodd"/>
<path d="M788 921l-6 -4l-10 0l-10 13l-39 4l-3 4l0 41l86 0l0 -17z" fill="#2a30ff" fill-rule="evenodd"/>
<path d="M930 907l-1 6l12 16l13 6l0 44l59 0l0 -58l-3 -7l-17 -10l-11 -13l-14 10l-29 -1z" fill="#ff7a30" fill-rule="evenodd"/>
<path d="M1014 921l0 58l91 0l0 -56l-2 -3l-59 -19l-19 16z" fill="#ff70a0" fill-rule="evenodd"/>
<path d="M953 935l-9 -2l-15 -19l-6 -3l-10 0l-16 6l-9 18l-17 7l-1 6l-12 14l0 17l95 0z" fill="#60ff40" fill-rule="evenodd"/>
<path d="M1305 637l3 10l43 7l7 -10l-29 -14z" fill="#ff70e0" fill-rule="evenodd"/>
<path d="M1386 594l0 71l25 0l0 -71z" fill="#d0ff40" fill-rule="evenodd"/>
<path d="M890 475l0 12l9 0l3 -11zM1382 373l16 10l13 0l0 -18l-12 0zM1065 309l12 17l-3 21l12 -1l9 9l6 35l25 -9l10 0l36 11l-2 -37l6 -7l-2 -2l-50 -13l-7 -7l-7 -14l-13 1l-24 -9zM819 272l2 38l13 0l-1 -21l3 -11zM1316 271l-3 4l4 2zM1148 246l2 6l5 1l-4 -7zM795 236l-4 3l-36 6l-10 11l-34 -3l-2 20l43 -2l8 7l3 -25l8 -7l23 -5zM1013 253l-32 -24l-3 15l-7 8l-34 19l-13 -2l-6 29l-29 53l-7 7l-5 1l-7 15l-8 7l-1 12l-7 8l-62 -3l-5 -3l-9 17l20 -3l37 11l22 -2l1 -5l6 -6l25 -14l-7 -13l0 -11l7 -8l24 -8l64 3l2 -11l6 -6l10 -2l0 -7l-49 3l-7 -8l-3 -45l26 -23l10 0l30 14l2 -11zM1340 221l-5 25l37 -2l8 11l6 24l-1 12l14 20l12 0l0 -58l-15 0l-31 -15zM1299 86l-14 4l10 1zM1013 61l-15 2l2 3zM825 50l11 34l0 11l-8 15l38 -13l10 0l4 3l-5 -18l1 -14l-31 -7l-9 -11zM1040 0l-16 0l0 52l-6 7l9 -4l-3 -31l7 -8l9 -4zM910 0l0 14l3 -2l31 0l0 -12zM786 918l21 44l0 17l50 0l0 -16l-10 -1l-6 -6l-3 -11l-22 4l-12 -1l-7 -8l-5 -23zM1104 920l2 3l0 56l305 0l0 -94l-39 -4l-9 11l-156 0l-19 -20l-2 6l-8 7l-22 -2l3 28l-7 8zM1021 775l-22 3l-4 24l3 8l23 -6zM962 725l8 9l-4 -8zM875 673l-5 6l1 17l-4 29l-6 6l-40 18l-3 20l-7 8l-12 1l-46 -7l-8 -7l-3 -10l-21 11l0 19l-12 4l0 27l12 4l0 14l-13 1l0 10l3 9l9 -3l20 1l7 8l0 14l6 -5l34 -8l-1 -22l7 -8l56 -16l10 0l8 7l15 33l0 13l-7 25l7 1l6 6l8 18l17 -7l15 2l1 -5l10 -8l-14 -8l-7 -8l0 -67l7 -8l16 -7l-34 -60l0 -7l-11 -3l-6 -6zM1194 652l-9 12l2 24l6 -1l-2 -19zM893 629l-6 1l-4 29l12 -4zM1144 486l-9 -1l-3 11l-11 8l-14 -2l-6 -12l-10 5l4 8l7 57l-3 31l12 -7l6 0l-4 -59l7 -8l25 -16zM911 479l-8 -2l-4 11l-9 0l1 7l16 -6zM0 0l0 13l12 0l23 24l28 37l137 1l9 -11l34 -25l1 -14l8 -13l0 -12zM243 40l-16 10l-26 25l12 20l19 1l32 -5l-4 -34zM64 75l10 14l75 47l10 -2l25 -17l24 -12l4 -8l-6 -15l-6 -6zM322 163l-18 -29l-39 -42l-33 5l-19 -1l-5 10l-24 12l-25 17l-8 2l23 30l4 14l10 7l18 0l18 -7l53 -6l45 -9zM253 0l0 12l-8 13l-1 15l17 17l4 34l39 42l1 -9l8 -2l29 -17l8 -14l0 -8l28 -17l0 -6l-17 -14l-9 -13l-25 -21l0 -12zM328 0l0 12l24 20l10 14l15 13l12 2l34 -5l3 -9l-5 -25l10 -10l0 -12zM422 22l5 25l-3 10l44 37l17 24l7 3l22 -17l60 -36l6 -11l-10 -9l-14 -1l-3 -17l-14 -17l0 -13l-107 0l0 12zM423 57l-34 5l-10 -1l-1 6l-27 16l0 8l-8 14l9 6l0 50l-17 2l-5 7l8 27l17 29l14 16l20 -1l6 -4l49 -11l15 2l6 -19l23 -10l39 -26l-10 -10l-22 -40l-9 -3l-12 -19zM344 106l-39 19l1 12l15 22l2 7l6 2l6 -6l16 -1l0 -50zM635 56l-18 -5l-36 5l-7 13l-75 46l-4 7l23 41l9 9l8 -9l15 -8l7 0l21 21l8 2l8 -2l5 -22l44 -38l10 -2l1 -8zM668 40l-25 6l-6 4l-2 5l20 51l-1 9l10 11l8 3l3 58l-4 6l8 14l13 11l16 -7l-15 -32l11 -5l0 -26l-11 -5l14 -41l-3 -34l2 -22l-10 -4zM459 230l2 7l40 33l42 -11l86 -9l35 -12l21 -4l8 -12l-15 -15l-8 -14l-56 -3l-19 -14l-9 3l-9 -2l-7 8l-27 3l-17 -12l-45 28l-16 6l0 7zM368 242l-14 -16l-17 -29l-7 -26l-4 -4l-55 10l-47 5l-18 7l-21 -1l-3 5l2 13l-5 25l6 8l15 2l9 -3l27 18l7 9l29 6l49 -2l14 3l7 -8l11 -2zM74 90l1 80l37 41l19 28l16 6l24 -8l7 -7l5 -24l-2 -13l3 -5l-7 -7l-4 -14l-23 -30zM0 254l0 19l12 0l33 17l74 6l35 0l3 -6l-14 -29l2 -15l-17 -9l-17 -26l-37 -41l-18 26l-4 13l-15 19l-25 26zM0 14l0 239l12 0l37 -41l6 -16l19 -27l-1 -80l-45 -59l-16 -16zM373 243l4 63l3 -1l24 21l25 29l18 -1l7 -3l16 6l31 6l6 -25l10 -5l11 -13l-16 -12l-25 -31l-1 -4l12 -3l-19 -18l-18 -13l-10 12l0 7l-36 7l-12 -18l-13 -5zM625 266l-2 -7l-8 -6l-21 0l-51 7l-57 14l27 34l17 12l13 -1l35 -16l36 -37zM659 290l-34 -23l-11 0l-36 37l-35 16l-14 1l-12 13l-9 4l-2 16l-6 10l-2 38l-8 22l13 4l22 15l4 -7l32 -19l19 -3l9 -20l37 -17l-27 -17l36 -37l29 -5l2 -6zM335 273l-14 -3l-46 2l0 9l-16 30l-45 2l-8 9l19 39l22 34l21 -2l25 -8l7 -9l31 -17l19 -21l-5 -19l2 -9l-3 -22zM132 353l1 6l7 8l28 17l-13 19l12 5l13 12l13 -1l53 -23l-27 -44l-14 -30l-12 -15l-20 1l-17 14zM54 292l0 4l43 42l34 15l24 -31l18 -15l-5 -5l-14 -5zM0 274l0 144l41 0l6 -7l35 -24l8 0l-6 -3l5 -33l35 8l8 -2l-3 -5l-32 -13l-44 -43l0 -4l-16 -4l-25 -14zM89 352l-4 32l5 1l1 3l33 6l30 9l13 -19l-27 -16l-8 -10l-8 2zM42 418l5 4l20 -10l50 18l44 22l-8 29l-51 -18l-52 -14l-2 -10l2 46l27 -5l17 0l16 5l22 12l6 -10l39 0l2 13l4 -1l-3 -11l5 -3l0 -50l-4 -14l-14 -12l-43 -14l-42 -7zM47 423l3 25l52 14l51 18l7 -28l-43 -21l-50 -18zM0 419l0 60l29 6l20 0l-3 -62l-4 -4zM276 392l-29 4l-54 24l-11 1l4 14l0 50l4 12l21 -6l50 3l28 -10l-4 -9l-13 -9l-7 -27l9 -4l10 -14zM294 386l16 4l9 -3l43 7l0 6l36 -2l11 2l2 -5l-7 -28l-12 -4l-26 -17l-5 -6l-10 -2l-20 22l-31 17zM405 367l7 27l-1 8l13 11l13 6l4 13l40 -2l9 -5l-1 -5l8 -18l2 -38l-45 -12l-7 3l-19 0zM443 434l-4 -3l-2 -11l-16 -8l-11 -11l-7 -2l-41 2l-11 16l-34 2l2 2l4 -2l9 39l-3 16l56 19l29 -2l0 -36l28 -17zM540 483l-5 -9l-3 -19l-7 -11l-22 -15l-9 -3l-13 5l-27 0l-10 3l-2 5l-27 16l0 36l24 0l21 7l5 -11l45 0l5 10zM589 395l-8 20l13 16l2 9l5 3l13 -6l14 23l11 8l3 11l26 1l5 -36l-7 -24l8 -4l7 -14l-9 -6l-8 -11l-24 -2l-11 -5zM580 415l-17 2l-36 22l-1 6l7 10l3 19l5 10l11 -3l19 1l0 -27l24 -11l-2 -13zM638 468l-11 -8l-13 -22l-13 6l-4 -2l-4 5l-21 8l0 27l36 4l33 -7zM672 317l-6 -4l-2 6l-29 5l-35 36l35 21l29 3l9 -14zM710 284l-2 -17l4 -38l-12 0l-7 -5l-4 8l-9 5l-16 2l-35 12l-13 1l8 7l3 9l33 22zM372 243l-4 0l-15 20l-11 2l-6 7l9 16l4 25l27 -6zM346 315l5 22l10 2l5 6l28 18l11 3l22 -11l-18 -23l-29 -26zM461 238l-3 -9l-14 -2l-54 14l13 5l12 18l36 -7l-1 -6zM653 115l-10 2l-43 37l-4 22l18 13l57 3l2 -3l-2 -60l-7 -2zM527 174l16 13l27 -3l7 -8l-20 -20l-7 0l-15 8zM576 0l1 43l3 12l33 -5l22 4l0 -6l-15 -15l0 -33zM540 0l0 13l12 13l5 21l13 0l7 5l-2 -52zM621 0l0 33l15 16l13 -6l23 -4l5 -5l0 -34zM274 272l-32 -7l-11 6l-7 11l-25 6l-4 6l-1 13l11 14l9 -9l45 -2l15 -29zM178 231l-11 9l-21 6l-2 15l14 26l-3 10l13 4l6 6l19 -1l2 -7l-3 -18l-12 -34l6 -6zM209 239l-22 3l-6 4l14 47l6 -7l23 -5l7 -11l10 -5l-5 -8zM678 0l0 34l-5 5l23 2l11 4l14 -45zM304 422l1 9l15 24l-13 3l-7 9l5 10l5 0l4 10l19 0l3 -11l-8 -2l3 -16l-8 -38zM303 422l-18 -1l-11 15l-8 2l7 28l13 9l4 9l14 -6l-5 -11l7 -9l13 -3l-15 -24zM277 391l7 28l5 3l18 -1l20 -5l24 0l10 -15l1 -6l-43 -7l-9 3l-17 -5zM722 0l-2 12l-13 34l-2 16l17 -2l11 12l7 2l3 9l20 22l13 23l5 3l26 -18l2 6l5 0l12 -8l9 -16l0 -11l-11 -34l-10 -10l-7 -28l0 -12zM705 63l3 39l-14 41l11 5l0 26l-11 5l13 28l19 -8l26 22l-5 13l8 10l36 -6l4 -3l5 -20l12 -17l-1 -7l-5 -2l-9 -29l-8 -3l-7 -25l-7 -4l-13 -23l-19 -21l34 125l-20 12l-39 -152l1 -2l13 5l-10 -11zM719 68l39 153l18 -11l-35 -133zM848 0l-1 36l-10 14l1 4l7 6l25 7l8 0l10 -5l21 -46l0 -16zM910 15l-20 47l10 6l11 2l14 -3l49 15l9 7l8 1l1 -11l6 -15l-18 -13l-6 1l-15 -27l-14 -12l-32 0zM808 0l0 12l8 30l7 7l14 0l9 -13l1 -36zM945 0l0 12l16 14l13 25l6 -1l17 11l18 -1l7 -6l1 -54zM1041 0l0 12l-10 5l-6 7l3 32l11 9l3 18l13 17l23 9l7 -3l38 -2l19 -63l7 -5l-3 -36zM1147 0l3 36l7 7l40 18l4 5l7 -1l23 10l26 2l0 -77zM1258 0l-1 79l11 13l16 -2l29 -9l1 -12l-7 -15l0 -54zM1308 0l0 54l7 15l2 13l28 8l14 13l15 1l24 -10l13 0l0 -94zM1148 37l-5 4l-19 64l40 21l10 1l3 -8l-1 -15l16 -16l8 -22l-11 -8l-22 -8zM1027 56l-28 11l-6 12l-2 12l6 12l-1 36l2 3l26 -7l11 1l1 -7l16 -21l2 -8l-13 -17l-3 -18zM1203 66l-10 22l-16 16l1 15l-3 9l5 13l16 20l1 15l8 17l19 12l36 -42l-8 -15l-5 -2l-4 -28l15 -6l9 -20l-13 -14l-23 -2zM1294 92l-15 -1l-11 3l-9 18l-15 6l4 28l5 2l7 14l21 -1l27 -8l7 2l-4 -9l-3 -40zM1304 84l-9 8l14 14l3 40l6 11l9 -5l30 -36l2 -12l-14 -13l-27 -8zM1398 95l-24 10l-14 -1l-2 12l-30 36l-10 6l11 37l11 25l25 17l31 15l15 0l0 -157zM1316 156l-8 -2l-27 8l-20 1l-36 42l14 22l12 32l2 25l3 3l18 3l21 -14l17 -1l8 -19l15 -12l4 -25l-11 -24zM1080 110l6 12l0 12l6 4l43 -2l7 20l-6 9l13 13l0 15l17 -8l29 14l9 -6l-8 -17l-1 -15l-16 -20l-5 -13l-10 -1l-41 -22l-38 2zM1085 134l-1 14l9 19l10 10l9 1l19 -11l5 0l-1 -4l6 -7l-7 -20l-42 3zM1106 179l-4 34l-4 11l11 12l25 1l17 8l2 -14l-9 -34l4 -3l0 -16l-10 -10l-7 0l-19 11zM1055 101l-4 11l-14 17l-1 7l5 5l33 8l9 -1l2 -26l-6 -12zM999 143l-10 13l-11 5l4 11l-6 42l5 14l33 25l32 4l8 -4l14 -16l16 -12l14 -5l7 -41l-13 -12l-8 -18l-23 -1l-20 -6l-5 -5l-12 -1zM877 68l-1 14l5 19l19 35l15 21l29 0l9 -4l11 6l13 2l12 -6l9 -12l-3 -4l1 -36l-6 -12l-7 -1l-9 -7l-49 -15l-14 3l-11 -2l-11 -7zM810 124l-1 6l3 31l-14 0l9 28l5 2l1 5l8 -2l4 -6l27 6l26 1l4 -8l-11 -14l-8 -5l-16 -47l-11 -11l-9 1zM840 106l-3 4l12 13l15 45l4 1l15 18l8 -3l11 -13l11 -4l0 -12l-14 -19l-21 -37l-12 -1zM807 114l-22 15l-2 4l6 14l1 10l21 4l-3 -31l5 -10l-4 0zM915 158l-1 9l14 12l18 2l16 14l14 6l2 -2l3 -31l-4 -6l-10 -1l-14 -7l-9 4zM912 168l-10 4l-11 13l-8 3l-5 8l1 13l6 8l3 12l28 18l8 21l13 2l39 -24l4 -15l-5 -17l1 -11l-14 -7l-16 -14l-16 -1zM877 196l-25 -1l-27 -6l-4 6l-8 2l-12 18l-5 26l9 6l14 24l18 6l50 -48l-3 -12l-6 -8zM693 218l1 5l6 5l13 1l-2 23l34 3l9 -9l-8 -12l5 -13l-25 -21l-18 9l0 3zM1145 196l9 35l-2 16l4 6l50 37l11 11l25 0l10 -15l-2 -27l-12 -32l-13 -20l-20 -13l-10 6l-29 -14zM1088 224l-20 14l-13 16l17 49l25 9l10 0l7 -21l-2 -3l28 -15l10 -20l-4 -8l-12 -7l-25 -1l-12 -14zM1005 260l-2 33l7 6l53 10l8 -6l-17 -49l-8 4l-34 -4zM1002 293l-3 7l-2 37l15 10l12 -3l30 20l19 -17l3 -21l-11 -16l-42 -6l-13 -4zM795 241l-26 7l-6 7l-2 26l10 10l8 0l12 28l-2 10l10 -3l21 -15l-2 -41l-14 -23zM888 230l-6 3l-46 46l-2 10l1 21l36 36l6 12l5 -1l6 -6l24 -42l11 -38l-8 -24l-13 -6zM962 258l-25 22l3 45l8 8l46 -3l4 -9l0 -21l5 -14l-1 -14l-30 -14zM761 282l-5 14l20 26l4 23l3 2l-1 -16l6 -2l2 -10l-11 -27l-8 0zM801 324l-1 2l5 4l6 0l38 28l3 10l10 12l7 -6l7 -14l-6 -14l-35 -35l-14 0l-10 9zM661 290l5 21l7 6l1 53l-9 13l3 8l13 10l13 0l2 9l37 -5l3 26l3 3l36 -20l12 -20l0 -30l-3 -14l-5 -5l-3 -21l-21 -28l5 -17l-8 -7l-43 2l1 11zM783 331l5 33l-1 29l3 3l62 5l7 -6l2 -15l-10 -12l-2 -9l-38 -28l-6 0l-5 -4zM980 345l-2 11l9 14l-2 22l10 11l31 22l2 -6l27 -10l2 -4l-2 -38l2 -3l-9 -2l-24 -17l-12 3l-16 -11l-9 2zM1086 347l-13 1l-17 19l1 39l11 5l22 -6l10 -14l-6 -36zM883 369l0 11l7 13l20 0l35 6l39 -8l2 -21l-8 -13l-65 -3l-22 7zM1173 393l-37 -11l-10 0l-24 8l-12 16l-20 6l7 24l1 39l11 20l12 -6l6 12l14 2l10 -7l4 -12l8 1l11 -25l0 -44l16 -5l7 -12zM1213 399l-17 2l-18 -2l-8 13l-15 4l0 44l-11 22l2 18l5 -1l1 -13l26 0l37 -10zM1224 360l-5 32l-4 8l1 76l20 2l43 20l2 -8l9 -5l-2 -84l4 -8l1 -12l-33 -29l-9 9zM1294 380l-1 13l-4 8l2 83l3 3l12 0l4 12l30 -6l37 6l17 0l17 -5l0 -110l-13 0l-16 -10l-22 0l-31 -14l-6 1zM1328 292l-5 8l0 36l3 23l34 14l21 0l18 -9l12 0l0 -52l-12 0l-14 -20l-11 -1l-8 -4l-31 6zM1256 324l-14 -22l-24 0l-9 17l-31 12l-6 13l8 4l25 0l18 11l28 1l7 -9zM1150 254l-10 20l-27 14l2 3l-5 20l14 21l47 11l7 -13l31 -12l8 -16l-11 -11l-50 -37zM1314 276l-19 1l-21 14l-19 -4l-12 14l14 23l1 26l35 30l32 -21l-3 -23l0 -36l5 -8zM1177 348l-6 7l2 37l4 6l4 2l35 -1l7 -39l-18 -11zM1377 250l-7 -6l-37 3l-13 11l-3 9l1 11l11 14l35 -6l20 5l1 -12zM739 435l2 52l6 1l3 10l20 -5l53 4l15 -3l21 -10l-6 -12l-15 1l-7 -37l3 -16l-36 -10l-10 0l-11 3zM941 400l-2 9l-7 11l-4 37l-14 13l-2 8l35 12l52 -2l21 7l4 -14l2 -54l-2 -4l-24 -15l-16 -16zM889 394l-25 14l-6 10l11 9l5 26l12 10l3 11l22 4l2 -8l14 -13l4 -37l7 -11l1 -8l-29 -7zM1057 407l-4 5l-25 8l-3 61l-4 12l4 4l7 -10l47 0l4 -2l-6 -10l-1 -39l-7 -24zM682 402l-7 14l-8 4l7 24l-5 36l25 8l5 9l11 -10l30 0l-2 -53l-3 -3l-2 -25l-37 5l-2 -9zM834 422l-2 14l7 37l14 -2l7 13l14 -7l14 -3l-3 -11l-12 -10l-5 -26l-10 -8zM0 480l0 499l56 0l-1 -494l-16 2zM177 488l-39 0l-6 10l-22 -12l-16 -5l-38 4l1 494l21 0l0 -12l101 -102l0 -357zM186 486l-5 2l3 11l-6 3l2 6l0 356l50 -49l1 -322l-20 -1l-21 6zM339 477l-6 11l-19 0l-6 -11l-42 17l-34 -1l-1 321l109 -109l0 -217l4 -9zM344 480l-3 8l0 216l38 -38l0 -163l3 -10zM424 491l-41 2l-3 10l0 162l41 -41l0 -119l3 -2zM432 491l-7 0l0 12l-3 2l0 118l31 -31l0 -83l5 -11zM417 629l107 0l30 -11l2 -6l-3 -6l-113 0zM539 486l-24 12l-5 -10l-45 0l-11 21l0 82l62 -62l32 -3l-4 -29zM540 486l5 11l3 28l6 1l17 16l14 -14l38 0l12 -6l-2 -40l-25 5l-38 -5l-18 0zM634 481l2 40l10 7l20 36l54 1l-3 -18l-16 -33l1 -12l-8 -13l-32 -10zM571 543l-17 -16l-38 3l-75 75l112 0l3 2l-3 -34l4 -1l14 -19zM572 543l0 8l17 13l3 12l17 27l2 8l39 -4l15 5l-3 -45l3 -3l-22 -38l-7 -4l-7 6l-44 1zM572 552l-14 20l-4 1l4 29l-1 13l7 -1l30 21l12 4l3 -34l-17 -27l-4 -14zM606 640l-12 -4l-30 -21l-4 2l-4 -2l-4 5l-28 10l-108 0l-70 70l176 0l35 7l6 11l1 -18l31 -6l6 -6l0 -22l6 -8zM610 613l-3 34l1 10l12 10l26 -3l2 10l7 7l12 0l18 5l8 -1l10 5l6 -19l0 -22l-14 -1l-21 -19l-9 -16l-15 -5zM602 666l1 19l8 5l40 -3l3 -5l-7 -8l-1 -9l-26 3l-12 -10zM751 659l-41 4l0 8l-7 20l-10 -5l-8 1l-12 -4l-18 -1l-4 6l-40 3l-8 -5l-8 9l-31 6l0 19l9 16l-9 24l-2 23l5 26l33 18l7 18l7 3l24 -1l11 10l34 -4l25 -8l-1 -11l13 -1l0 -14l-12 -4l0 -27l12 -4l0 -19l22 -12l6 -14l1 -13l14 -29l-7 -9zM646 692l12 43l-12 34l-32 -4l-19 -29l0 -39zM646 693l-50 4l0 39l18 28l32 4l11 -33zM264 782l260 0l31 5l7 -5l1 -22l9 -24l-15 -28l-35 -7l-177 0zM204 842l319 0l38 -22l5 -12l-5 -23l-12 3l-25 -5l-261 0zM606 845l-6 -11l0 -6l-33 -18l-6 11l-38 22l-320 0l-27 27l346 0l42 7l1 11l38 -10l0 -29zM606 846l-2 3l0 29l34 2l2 -12l8 -11l-10 -9l-24 1zM565 889l4 44l11 2l3 16l13 16l0 12l36 0l0 -12l13 -24l0 -59l-5 -5l-14 2l-19 -3zM745 857l-7 -6l-18 0l-9 3l-3 -8l-25 8l-35 4l-7 10l0 11l5 5l0 43l52 0l8 5l6 -8l11 7l3 -3l7 0l0 -30l12 -17zM148 898l374 0l43 4l-1 -24l-42 -7l-347 0zM112 934l457 0l-4 -31l-43 -4l-375 0zM79 967l0 12l516 0l0 -12l-12 -14l-4 -18l-468 0zM721 929l-9 -4l-6 8l-8 -5l-52 0l0 15l-13 24l0 12l86 0zM753 499l4 11l17 3l8 -1l2 -3l-1 -15l-13 0zM700 498l3 4l0 15l10 19l12 -6l25 -5l3 -6l-7 -31l-36 0zM889 475l-15 3l-44 19l-15 1l-31 -4l-1 19l5 5l10 29l0 8l38 10l1 6l4 2l22 -19l13 -2l-1 -15l9 -13l6 -26zM665 565l-2 14l3 34l9 16l20 18l14 1l1 14l40 -4l3 -7l0 -15l13 -24l-12 -13l-8 -1l-2 -15l-11 5l-3 -7l-11 -5l1 -10zM750 499l4 18l-3 9l8 37l-4 13l-11 6l3 16l7 0l13 14l30 -9l0 -56l-10 -29l-5 -5l-25 -2zM750 526l-25 5l-12 6l8 20l-1 19l10 4l3 7l21 -11l4 -13zM797 555l1 47l45 -4l-5 -16l2 -9l-4 -2l0 -5zM874 553l-11 2l-22 19l-2 8l5 16l23 4l4 -12l-1 -28zM916 553l-15 2l-24 -3l-6 10l1 28l-4 13l13 10l6 15l6 0l13 -15l18 -5l5 -5l-1 -28zM935 488l-23 -9l-5 11l-16 6l-6 28l-9 13l1 14l24 3l9 -3l8 2l7 -10l7 -1l5 -5l-7 -37zM936 488l-5 12l6 32l2 2l34 0l-1 -44l-25 1zM1084 486l-5 2l-47 0l-6 10l-27 -9l-26 1l1 44l-6 2l-29 -1l-7 8l-7 1l-6 9l10 22l1 28l3 0l26 22l56 35l10 11l21 -15l8 -17l24 -15l2 -8l19 -27l2 -29l-6 -51zM1241 541l-10 18l-10 9l12 0zM1297 501l-4 12l-47 69l-8 2l-5 5l6 27l-3 8l22 40l25 31l13 36l-3 12l8 2l7 -3l40 13l17 22l13 2l33 -2l0 -111l-26 -1l0 -71l26 -1l-12 0l-21 -20l-50 -32l-8 -29l-1 -14zM1304 637l25 -8l30 15l-8 11l-43 -7zM1320 497l1 15l8 29l49 31l21 20l12 0l0 -97l-17 5l-17 0l-33 -6zM1152 487l-2 14l9 4l5 8l28 24l12 17l10 4l-2 -62l-5 -17l-29 8zM1208 478l5 18l2 63l6 7l9 -7l28 -69l-22 -11zM1306 488l-12 0l-3 -3l-9 5l-3 9l-20 -9l-19 50l2 2l-8 26l-13 1l-2 7l2 5l10 7l9 -6l5 0l47 -69l2 -11l15 -3zM1115 523l-1 18l3 37l3 8l52 13l29 -4l17 -16l2 -13l-3 -4l-13 -7l-8 -13l-40 -38l-10 -3zM1081 616l-3 9l8 7l14 22l1 12l9 9l20 -5l18 -17l21 13l15 -2l10 -13l-7 -13l-4 -1l-3 -18l-8 -19l-61 -15l-14 9zM1219 580l-18 16l-28 3l8 20l3 18l4 1l6 12l9 -7l10 -3l22 -16l3 -5l-4 -26zM1234 625l-39 26l-3 31l33 47l33 31l33 -17l4 -12l-16 -42l-22 -25l-20 -39zM1256 761l-3 5l1 31l-6 14l19 26l16 5l25 -4l16 6l18 1l2 -18l-5 -27l17 -9l6 -14l-5 -11l-9 -10l-40 -13l-7 3l-9 -3zM1363 777l-6 14l-17 9l5 27l-2 19l6 7l10 4l0 8l12 15l40 4l0 -106l-33 2zM1255 760l-41 -43l-13 -23l-6 -6l-5 0l-17 21l-28 10l-11 -6l-14 -2l-5 -4l-22 16l-5 7l-18 -2l-19 3l-10 14l-2 12l-4 1l-13 16l0 30l37 18l22 -2l5 3l16 -6l17 15l17 7l31 -20l8 2l42 -9l12 -5l18 1l6 -11l-1 -31zM1028 699l-11 0l-28 17l-13 0l-10 9l33 52l22 -3l12 -15l5 -2l2 -12l10 -14l-2 -17l-12 -3zM882 660l-6 10l0 8l13 43l7 9l9 3l12 -4l22 1l8 -6l11 -1l-5 -13l-7 -1l-37 -37l-1 -8l-12 -8zM908 734l0 7l34 60l33 -1l8 5l11 0l4 -28l-25 -39l-13 -14l-13 1l-8 6l-22 -1zM894 628l2 27l14 10l0 7l36 36l8 2l5 13l7 1l10 -9l13 0l28 -17l10 0l-2 -23l-6 -11l-60 -38l-26 -22l-27 10zM869 680l-13 1l-9 6l-53 6l-9 8l9 17l16 16l10 15l41 -19l5 -5l4 -29zM765 696l-16 33l0 10l-6 13l3 12l7 6l46 7l12 -1l6 -7l2 -20l-10 -15l-16 -16l-10 -18l-10 -5zM880 613l-13 -10l-20 -4l-49 4l-31 10l-13 23l0 15l-3 7l3 5l4 27l6 6l9 -2l12 6l9 -8l53 -6l9 -6l13 -1l13 -20l5 -30zM1185 665l-18 2l-19 -13l-18 17l-18 4l5 23l-1 8l4 4l14 2l11 6l28 -10l13 -18zM1045 658l-15 9l-5 7l5 28l6 8l12 3l7 -9l0 -18l6 -2l4 -7l-10 -8l-3 -7zM1106 671l-9 -3l-14 8l-17 1l-5 8l-5 1l0 18l-7 9l2 17l19 -3l18 2l5 -7l22 -16l-1 -17zM1079 626l-25 14l-8 17l19 19l18 -1l18 -8l-2 -13zM994 806l-11 0l-8 -5l-34 1l-16 7l-5 5l-1 69l6 7l15 9l28 1l13 -10l4 -19l3 -43l6 -3l4 -12zM1022 805l-23 6l-4 14l-6 3l-3 43l-4 18l11 14l17 10l3 7l12 -4l19 -16l4 -65l5 -2l5 -10zM1059 823l-5 10l-5 2l-4 65l57 19l48 0l7 -6l1 -14l-3 -17l-13 -12l-2 -9l-6 -8l-15 2l-6 6l-33 -36l3 -1l-2 -3zM1246 809l-17 -1l-12 5l-42 9l1 8l9 14l3 27l10 9l11 -17l42 -21l5 1l10 -5zM1266 839l2 8l6 3l0 41l89 0l8 -8l-13 -18l0 -8l-9 -3l-7 -8l-18 -1l-16 -6l-18 4zM1273 850l-6 -3l-2 -7l-9 4l-5 -1l-42 21l0 4l-10 15l8 8l66 0zM1081 825l32 35l6 -6l15 -3l2 -11l-17 -7l-17 -15zM1167 820l-29 18l-4 14l7 9l2 9l13 12l22 2l9 -11l-3 -29l-9 -14l-1 -8zM788 836l0 24l8 8l3 14l34 2l14 -3l3 7l11 11l14 -8l6 -24l0 -13l-15 -33l-5 -5l-16 0l-50 14zM847 882l-14 3l-34 -2l-1 10l3 12l-8 16l5 19l6 7l12 1l23 -4l9 -13l-2 -17l7 -2l7 -13l-11 -11zM880 893l-6 0l-13 7l-7 12l-7 2l3 15l-11 17l3 10l7 6l8 0l12 -14l1 -6l16 -6l6 -11l1 -12l-6 -14zM747 882l-13 16l0 30l-8 1l-3 4l39 -4l8 -12l-9 -7l-5 -18zM788 861l-35 8l-6 5l-1 7l9 7l7 22l9 7l20 0l9 -12l-4 -34zM788 921l-6 -4l-10 0l-10 13l-39 4l-3 4l0 41l86 0l0 -17zM930 907l-1 6l12 16l13 6l0 44l59 0l0 -58l-3 -7l-17 -10l-11 -13l-14 10l-29 -1zM1014 921l0 58l91 0l0 -56l-2 -3l-59 -19l-19 16zM953 935l-9 -2l-15 -19l-6 -3l-10 0l-16 6l-9 18l-17 7l-1 6l-12 14l0 17l95 0zM1305 637l3 10l43 7l7 -10l-29 -14zM1386 594l0 71l25 0l0 -71z" fill="none" stroke="#000" stroke-width="2.6" stroke-opacity="0.85" stroke-linejoin="round"/>
</g>
</svg>
<svg x="936.2" y="35.0" width="694.3" height="478.0" viewBox="0 0 694.3 478.0" preserveAspectRatio="none" overflow="hidden">
<rect width="694.3" height="478.0" fill="#ffff00"/>
<g transform="translate(-5.75,-5.75) scale(0.5)">
<path d="M867 942l-4 -1l-56 26l0 12l60 0zM1104 882l0 97l308 0l0 -97zM886 685l-8 8l-19 0l0 22l13 -8l18 -5zM912 210l-8 3l7 2zM311 18l-4 7l4 -1zM1302 0l0 13l12 18l-6 41l27 14l-11 16l23 -4l19 16l-4 16l38 -39l12 0l0 -91zM966 0l0 13l9 -1l0 -12zM680 0l-45 0l-3 32l3 4l0 20l-2 2l-46 8l-3 -6l-2 2l-24 0l-3 -12l0 6l-25 22l23 -7l29 11l11 13l33 -13l29 18l5 9l-9 -69l37 -9l-8 -17zM0 0l0 242l30 0l6 35l-2 8l-34 0l0 5l41 -4l13 21l-2 4l-52 7l0 96l47 -4l4 2l11 36l-2 23l4 9l-3 4l3 10l-2 26l-21 16l-29 8l-12 0l0 27l25 3l-2 -12l29 -17l10 27l-4 28l-17 2l2 9l-21 21l-10 7l-12 0l13 0l28 -14l26 8l5 21l15 -5l-11 -3l-3 -5l-3 -17l3 -26l3 -6l25 -7l23 13l0 13l34 0l3 9l68 -24l21 -2l-4 -25l42 -13l46 -7l13 33l-4 29l-39 35l-31 -7l-3 -9l-54 61l-34 26l-13 31l-42 8l-9 -32l-14 -21l-35 -13l-2 -13l-11 20l-29 4l-14 -4l-13 0l0 104l27 3l5 21l-2 7l-16 10l-14 1l0 31l12 0l22 7l15 11l51 -22l2 2l-2 18l-9 37l18 14l24 26l0 12l127 0l0 -78l2 -2l42 11l73 33l3 6l3 30l115 0l7 -59l51 -31l24 -8l50 -10l38 -19l38 0l15 10l11 -3l-5 -20l2 -51l-15 3l-14 7l-30 23l-37 19l-29 10l-4 -2l-7 -38l29 -22l5 -29l-1 -6l-19 -14l-11 -25l-7 12l-15 2l3 6l-8 34l-20 28l-42 -11l-46 -21l-4 -20l9 -4l-1 -12l6 -32l3 -5l12 3l-3 -9l15 -43l49 -24l35 0l24 31l0 40l25 -13l23 8l46 -27l29 -11l2 9l26 -3l40 30l0 6l17 -8l39 0l0 -19l2 -2l33 -7l5 19l19 -5l37 29l0 30l-10 2l11 12l6 24l0 32l-7 23l-30 33l-44 -35l-40 -44l-13 -28l20 -18l-12 8l-27 0l-14 -24l-53 38l25 -3l46 19l-10 106l74 30l21 18l27 -7l10 12l0 -21l2 -2l35 -7l32 7l32 0l4 18l9 -22l3 -63l26 -12l22 12l9 33l256 0l-16 -10l-10 -27l10 -44l23 -16l46 4l0 -101l-12 0l-14 -4l-5 -20l-14 -6l-3 -15l2 -6l15 -7l2 2l0 26l29 -4l0 -189l-12 0l-21 -7l-35 -32l-40 -23l-2 -7l-3 10l-16 0l-6 -17l25 -6l2 -14l36 7l59 43l13 0l0 -92l-33 -3l-8 -25l2 -5l39 -4l0 -53l-39 0l-28 -13l-16 -23l-6 -26l-61 7l-19 -16l3 -25l-4 -3l-23 -41l-5 -25l-5 10l-16 -6l-3 32l-17 20l-23 16l-47 -3l-34 -21l-2 -4l4 -3l51 -19l0 -30l2 -2l37 -3l16 4l-6 -6l-18 -8l-7 -19l0 -14l-83 0l0 14l-4 12l-20 8l0 27l-4 2l-25 -4l-4 -6l-11 20l-21 -15l-17 -18l-3 -15l-44 0l-2 -2l0 -23l-7 0l0 54l-24 14l-14 27l-9 2l27 5l23 16l4 6l6 30l54 3l15 19l-7 28l35 24l3 5l-12 19l-34 4l-37 0l-21 -21l-4 14l-20 28l-10 40l-12 25l-23 -3l-14 -19l-26 -4l4 -44l-4 -68l2 -2l41 0l-51 -22l-3 -6l-6 -50l51 -24l-7 1l-20 -33l-13 -53l0 -15l-65 0l2 4l10 3l-14 41l-4 1l-8 -4l-9 1l-2 87l12 5l-6 26l7 21l-8 5l-2 5l11 -5l8 14l11 -5l12 6l13 28l-16 16l-11 -5l-18 2l-23 -7l-5 -27l-17 -41l-8 -37l-14 27l-40 22l-89 14l-37 -56l-9 -25l4 -7l23 -18l-5 -19l0 -72l-9 0l-2 31l-4 13l-33 3l-29 -9l0 -38l-23 0l3 34l-22 15l-16 17l-50 2l-37 8l-11 7l40 2l29 -7l23 20l2 35l-22 31l-150 30l3 21l27 5l23 23l35 21l9 23l-2 5l-65 29l-32 -3l-21 -11l-8 -22l-4 -23l-25 1l-13 -30l-7 -38l-6 2l-13 -16l-3 -22l2 -2l31 0l2 4l24 -3l30 12l-9 -35l0 -73l2 -2l31 -4l10 24l20 13l33 -10l-1 -22l-33 -5l0 -56zM396 870l16 13l-3 24l-34 6l-5 -23zM845 845l17 -3l4 2l0 40l-2 2l-18 -6l-3 -26zM1171 814l16 16l-6 27l-3 4l-26 4l-19 -32zM313 782l46 8l40 18l3 4l7 29l-46 53l-24 -7l-4 -6l-24 -61l0 -36zM103 854l31 -20l37 -4l29 3l-42 -14l0 -27l27 -13l18 12l36 10l31 16l-6 22l-10 18l12 21l-49 20l-46 -4l-66 -14l-2 -2zM414 784l33 -13l25 15l24 31l4 39l-28 13l-38 -11l-17 -28zM341 741l14 -2l25 28l10 16l-18 5l-26 -14l-3 -7zM1268 738l12 19l-5 16l-4 6l-23 0l-3 -8l-2 -27zM233 720l5 6l3 28l-15 2l-6 -30zM964 723l53 -26l26 10l16 25l-17 21l-3 31l-2 2l-37 0zM416 657l-39 40l-34 10l-6 34l-24 0l-2 -2l-3 -31l27 -5l-9 -17l32 -26l39 -20zM1363 649l-30 9l-78 -7l-9 -14l2 -2l38 0l26 -7l31 7l18 10zM778 614l5 28l-28 9l-9 -31zM675 607l18 -4l4 2l4 27l-2 7l-22 -6l-4 -20zM1067 585l36 -5l37 3l21 14l2 4l-25 9l-36 -12l-33 -2zM883 615l-10 13l-7 18l-4 2l-12 -6l-4 -18l-18 0l-18 -14l-45 0l-32 -14l7 -18l11 5l77 -14l43 4l9 28l-2 5zM1329 513l2 -2l26 0l2 6l-5 13l-23 0zM870 535l4 -40l28 -7l1 -12l44 14l30 -2l27 2l0 21l-16 19l-22 7l-28 -10l-3 -4l0 12l-23 20l-22 0zM520 434l49 -16l35 7l31 24l7 27l-3 4l2 12l-3 1l-3 -3l-2 -8l-25 5l-56 -5l-21 8l-6 -11zM780 424l-6 25l-29 3l-4 -14l-18 5l0 16l-5 28l28 0l4 12l-4 1l2 13l-7 14l-10 5l6 15l-31 15l-31 0l-27 -20l16 20l4 26l-2 7l-40 22l-24 7l-23 -12l-28 -10l-31 -17l7 -24l13 -27l40 -11l53 0l0 -20l25 -11l0 -13l-4 -1l-3 -29l37 -16l-4 -19l2 -7l45 -4l11 4l0 12zM848 353l31 -3l4 2l7 40l-16 23l-28 -13l0 -47zM92 350l2 -2l24 0l50 28l0 24l-4 2l-44 -4l-30 -14l-2 -7zM76 312l31 0l2 2l-6 29l-23 0l-2 -2l-4 -22zM180 423l49 -20l42 -6l2 -12l40 -15l5 4l7 23l-1 13l51 -14l32 4l-23 -37l0 -16l-9 4l-29 -15l-13 -17l2 -4l26 -14l24 7l7 24l32 16l33 -2l10 -23l33 9l4 23l-4 41l-31 31l-26 -2l2 6l-6 35l-10 12l0 12l-3 1l0 12l7 1l4 -13l18 5l-2 12l18 13l0 43l-4 7l0 7l-7 6l-10 18l-20 0l-16 -45l0 -16l-20 3l-21 -17l2 -36l-21 -8l-6 10l-11 -2l4 -13l-15 -4l-5 -41l-4 42l-5 1l-5 -11l-19 3l-7 -5l-8 16l2 9l-2 4l-12 3l-50 -3l-18 5l-10 -34zM1000 278l19 0l10 19l28 15l11 13l15 -13l22 7l52 34l17 20l8 15l61 3l21 7l23 19l23 82l-14 3l-17 -3l-4 11l-27 28l-16 25l0 28l-10 3l17 12l0 19l-32 20l7 15l4 31l-2 8l-23 7l-18 -14l-14 21l-23 7l-21 -7l-19 -16l0 -18l-8 3l-37 -12l-3 -33l29 -9l28 12l5 22l5 -3l26 -3l2 -4l11 -6l-3 -33l23 -15l-2 -9l25 -6l3 9l9 -1l-6 -13l0 -27l4 -2l-7 -14l-34 -35l-1 -12l-32 -3l-1 45l-8 27l-11 19l-5 3l-16 -14l-13 -26l-4 -24l-9 -12l-3 -10l-17 0l-5 11l-22 -9l5 -9l0 -42l31 -67l0 -21l-40 0l-13 -36l-6 -36zM695 277l34 -4l7 30l-7 3l-25 -3zM946 273l2 -2l47 0l3 8l3 37l-29 9l-26 -12zM631 264l29 -3l5 3l21 38l-16 27l-23 -24l-18 -36zM1357 257l16 21l-26 19l-18 -9l0 -26zM1105 286l33 -22l41 11l-12 -14l0 -19l2 -2l33 0l38 28l5 17l-2 5l-27 7l-10 -5l5 14l-5 7l3 -1l26 38l-28 9l-28 -13l-6 -14l-35 0l-30 -16zM440 231l12 15l-29 21l-17 -19zM1262 174l4 2l13 27l33 12l3 5l6 34l-29 33l-30 -10l-24 -39l-9 -38zM30 160l2 -2l50 0l2 2l0 24l-2 2l-43 0zM991 79l19 -12l33 4l3 4l6 28l-11 32l30 8l12 9l3 -12l54 -7l20 22l13 5l22 -5l-25 -25l0 -13l18 -19l23 26l10 20l-7 17l-4 2l-5 -3l6 25l-30 23l-24 7l-4 -2l-6 -18l-2 11l-10 20l-25 13l-22 -20l-4 -38l-22 9l-52 -3l-22 -9l0 -30l10 -6l-7 -25z" fill="#ffff00" fill-rule="evenodd"/>
<path d="M228 56l33 4l1 -12l8 -7l36 -15l6 -12l0 -14l-84 0z" fill="#0000ff" fill-rule="evenodd"/>
<path d="M166 62l0 73l7 32l14 26l150 -30l21 -30l-2 -35l-22 -19l-29 7l-46 -2l-31 10l-21 -14l-9 -23zM303 113l5 34l-27 1l-4 -31z" fill="#0000ff" fill-rule="evenodd"/>
<path d="M144 159l-24 3l-2 25l-10 7l7 39l12 29l24 0l2 -9l-4 -22l34 -16l5 0l-2 -22l-11 -21z" fill="#0000ff" fill-rule="evenodd"/>
<path d="M150 231l4 22l-1 13l9 37l23 14l32 3l66 -30l-7 -24l-36 -22l-23 -23l-28 -6z" fill="#0000ff" fill-rule="evenodd"/>
<path d="M31 160l8 25l44 -1l-1 -25z" fill="#0000ff" fill-rule="evenodd"/>
<path d="M0 243l0 41l34 0l-3 -40z" fill="#0000ff" fill-rule="evenodd"/>
<path d="M422 0l1 39l25 7l36 -4l4 -42z" fill="#0000ff" fill-rule="evenodd"/>
<path d="M551 0l-52 0l0 72l6 19l24 -13l25 -22z" fill="#0000ff" fill-rule="evenodd"/>
<path d="M477 113l9 28l36 55l89 -14l40 -22l15 -32l-10 -26l-30 -19l-33 13l-11 -13l-29 -11l-38 13z" fill="#0000ff" fill-rule="evenodd"/>
<path d="M580 0l2 43l48 -6l4 -37z" fill="#0000ff" fill-rule="evenodd"/>
<path d="M685 32l-32 7l-1 6l9 66l6 17l-1 9l5 22l20 52l0 -10l15 -3l1 -6l10 -6l-7 -22l6 -26l-12 -5l3 -86l-5 -3l-4 1l-6 -12z" fill="#0000ff" fill-rule="evenodd"/>
<path d="M681 0l0 14l17 30l18 0l11 4l14 -41l-9 -2l-3 -5z" fill="#0000ff" fill-rule="evenodd"/>
<path d="M691 202l5 37l22 6l14 0l0 -23l-12 -30l-16 8z" fill="#0000ff" fill-rule="evenodd"/>
<path d="M631 265l-1 4l18 36l22 23l15 -26l-21 -38l-4 -2z" fill="#0000ff" fill-rule="evenodd"/>
<path d="M696 277l8 25l17 3l14 -2l-6 -29z" fill="#0000ff" fill-rule="evenodd"/>
<path d="M498 331l-31 -7l-10 23l-33 2l-32 -15l0 6l-7 6l0 17l18 32l28 23l11 6l27 2l30 -30l4 -41z" fill="#0000ff" fill-rule="evenodd"/>
<path d="M322 412l-1 20l2 20l4 9l0 13l15 4l-5 11l2 3l9 0l5 -10l32 11l43 -3l0 -12l10 -12l6 -39l-31 -24l-38 -6z" fill="#0000ff" fill-rule="evenodd"/>
<path d="M315 371l-43 16l0 10l3 2l3 57l3 6l7 5l19 -3l5 11l5 -1l-1 -15l8 -56z" fill="#0000ff" fill-rule="evenodd"/>
<path d="M49 411l-49 4l0 128l12 0l29 -8l20 -15l2 -26l-3 -7l3 -7l-4 -9l2 -23z" fill="#0000ff" fill-rule="evenodd"/>
<path d="M521 434l5 45l5 10l21 -8l18 0l27 5l36 -5l3 9l4 2l-2 -12l3 -4l-7 -27l-30 -23l-35 -7z" fill="#0000ff" fill-rule="evenodd"/>
<path d="M652 449l3 29l4 1l0 12l4 0l3 -10l3 -1l32 16l15 1l6 -38l-1 -24l-30 1l-3 -2z" fill="#0000ff" fill-rule="evenodd"/>
<path d="M397 0l-84 0l-2 25l-29 11l-19 12l-2 34l3 1l12 -8l37 -8l50 -2l16 -17l21 -14z" fill="#ff0000" fill-rule="evenodd"/>
<path d="M303 114l-25 3l3 30l26 0z" fill="#ff0000" fill-rule="evenodd"/>
<path d="M552 0l5 60l25 1l-3 -61z" fill="#ff0000" fill-rule="evenodd"/>
<path d="M634 36l-53 8l5 20l47 -7z" fill="#ff0000" fill-rule="evenodd"/>
<path d="M86 159l3 22l12 15l16 -9l1 -29z" fill="#ff0000" fill-rule="evenodd"/>
<path d="M53 307l-12 -20l-41 4l0 26l52 -7z" fill="#ff0000" fill-rule="evenodd"/>
<path d="M76 313l3 28l24 1l5 -28z" fill="#ff0000" fill-rule="evenodd"/>
<path d="M93 350l-3 33l30 14l47 3l-1 -25l-48 -26z" fill="#ff0000" fill-rule="evenodd"/>
<path d="M274 399l-45 5l-48 19l3 40l9 33l18 -5l50 3l13 -4l-2 -11l8 -13l-3 -10z" fill="#ff0000" fill-rule="evenodd"/>
<path d="M334 317l12 18l29 15l16 -10l1 -7l-7 -24l-24 -7z" fill="#ff0000" fill-rule="evenodd"/>
<path d="M440 232l-33 16l16 18l28 -20z" fill="#ff0000" fill-rule="evenodd"/>
<path d="M715 406l-30 3l3 23l3 3l30 -1z" fill="#ff0000" fill-rule="evenodd"/>
<path d="M796 0l0 15l12 50l20 35l18 -4l15 0l13 -26l26 -16l0 -54z" fill="#0000ff" fill-rule="evenodd"/>
<path d="M785 124l8 55l59 25l18 0l26 9l7 0l12 -6l2 -12l-7 -37l3 -5l-6 -29l-3 -5l-23 -16l-35 -6z" fill="#0000ff" fill-rule="evenodd"/>
<path d="M803 203l3 69l-4 44l25 3l14 19l23 3l12 -27l9 -37l21 -30l6 -30l-42 -12z" fill="#0000ff" fill-rule="evenodd"/>
<path d="M911 156l7 44l-5 10l-3 24l21 21l37 0l34 -4l11 -20l-38 -27l7 -28l-14 -18z" fill="#0000ff" fill-rule="evenodd"/>
<path d="M1043 72l-33 -4l-18 11l0 38l8 26l11 -5l29 -3l11 -32z" fill="#0000ff" fill-rule="evenodd"/>
<path d="M1062 0l-50 0l4 32l-9 15l3 11l28 3l0 -27l20 -8l4 -12z" fill="#0000ff" fill-rule="evenodd"/>
<path d="M1192 57l-13 -9l-18 -4l-37 3l-2 32l-51 19l-3 4l35 22l47 3l23 -16l16 -19z" fill="#0000ff" fill-rule="evenodd"/>
<path d="M1202 156l-32 4l-12 -5l-18 -21l-54 7l2 36l-3 4l4 38l23 19l22 -12l13 -32l8 20l26 -7l29 -22z" fill="#0000ff" fill-rule="evenodd"/>
<path d="M1243 0l0 12l-24 27l-4 11l5 31l23 41l8 2l33 -13l37 -7l13 -18l-27 -14l6 -41l-12 -18l0 -13z" fill="#0000ff" fill-rule="evenodd"/>
<path d="M1365 114l-18 -15l-63 13l-37 13l-3 25l18 15l61 -7l36 -22z" fill="#0000ff" fill-rule="evenodd"/>
<path d="M1412 92l-12 0l-38 39l-3 6l-35 21l6 27l13 20l30 15l39 0z" fill="#0000ff" fill-rule="evenodd"/>
<path d="M1262 175l-32 25l9 38l23 38l30 10l28 -32l-8 -38l-33 -12l-14 -28z" fill="#0000ff" fill-rule="evenodd"/>
<path d="M947 273l1 41l24 10l28 -8l-5 -44z" fill="#0000ff" fill-rule="evenodd"/>
<path d="M1069 325l2 7l-13 22l0 23l-31 67l0 42l-5 9l21 8l5 -11l17 0l4 11l9 12l4 24l13 26l15 13l4 -2l11 -19l8 -27l2 -46l32 3l2 13l34 35l7 15l19 4l2 8l16 -24l27 -28l5 -12l13 3l17 -2l-22 -80l-23 -20l-21 -7l-61 -3l-9 -16l-16 -19l-52 -34l-22 -7z" fill="#0000ff" fill-rule="evenodd"/>
<path d="M1174 332l5 13l28 13l27 -8l-25 -37l-15 6z" fill="#0000ff" fill-rule="evenodd"/>
<path d="M1303 355l1 31l40 23l35 32l21 7l12 0l0 -44l-13 0l-59 -43z" fill="#0000ff" fill-rule="evenodd"/>
<path d="M1412 275l-39 4l5 27l34 4z" fill="#0000ff" fill-rule="evenodd"/>
<path d="M737 200l-10 5l6 17l0 21l14 5l15 -17l-13 -26z" fill="#0000ff" fill-rule="evenodd"/>
<path d="M741 421l4 30l30 -4l3 -24z" fill="#0000ff" fill-rule="evenodd"/>
<path d="M848 354l-1 48l27 12l15 -22l-7 -40z" fill="#0000ff" fill-rule="evenodd"/>
<path d="M909 0l1 24l45 0l0 -6l10 -4l0 -14z" fill="#ff0000" fill-rule="evenodd"/>
<path d="M976 0l-1 13l-19 5l1 19l17 20l21 15l20 -40l-4 -32z" fill="#ff0000" fill-rule="evenodd"/>
<path d="M1147 0l0 14l7 19l17 7l22 19l14 6l5 -5l6 -21l24 -27l0 -12z" fill="#ff0000" fill-rule="evenodd"/>
<path d="M989 148l0 30l21 8l54 3l23 -12l-2 -22l-14 -11l-30 -8l-3 2l-6 -2l-21 3z" fill="#ff0000" fill-rule="evenodd"/>
<path d="M1186 99l-15 18l0 13l19 21l22 11l8 -18l-10 -20z" fill="#ff0000" fill-rule="evenodd"/>
<path d="M1168 242l2 22l12 13l19 9l9 8l6 2l28 -8l-6 -22l-36 -25z" fill="#ff0000" fill-rule="evenodd"/>
<path d="M1106 286l3 30l29 15l36 0l36 -22l-5 -18l-4 -4l-30 -15l-31 -7z" fill="#ff0000" fill-rule="evenodd"/>
<path d="M1000 279l5 41l11 34l41 1l13 -23l-2 -6l-11 -13l-28 -15l-10 -19z" fill="#ff0000" fill-rule="evenodd"/>
<path d="M1357 258l-27 4l1 27l16 7l25 -18z" fill="#ff0000" fill-rule="evenodd"/>
<path d="M1302 368l-24 5l5 16l17 -1z" fill="#ff0000" fill-rule="evenodd"/>
<path d="M716 404l7 38l17 -4l1 -31z" fill="#ff0000" fill-rule="evenodd"/>
<path d="M0 572l0 66l12 0l10 -7l20 -20l-4 -11l-6 -1l-6 -24z" fill="#0000ff" fill-rule="evenodd"/>
<path d="M266 599l-13 -4l-24 2l-65 22l-7 7l-32 10l-23 15l-14 -2l-14 5l-4 4l-2 30l37 15l14 21l8 31l42 -8l12 -30l35 -27l54 -61zM121 686l19 8l3 27l-20 2z" fill="#0000ff" fill-rule="evenodd"/>
<path d="M334 550l-46 7l-41 12l3 24l17 6l6 39l31 7l38 -34l4 -29z" fill="#0000ff" fill-rule="evenodd"/>
<path d="M422 578l8 23l20 0l10 -18l-4 0l-14 10zM418 538l-3 3l0 16l6 19l2 0l-3 -37zM437 492l-3 12l-3 1l1 5l-6 22l16 -3l23 26l0 14l2 1l3 -6l0 -43l-18 -13l3 -11z" fill="#0000ff" fill-rule="evenodd"/>
<path d="M521 582l1 4l80 37l24 -7l41 -23l-4 -31l-30 -38l-53 0l-40 11z" fill="#0000ff" fill-rule="evenodd"/>
<path d="M499 642l-15 43l5 11l48 12l32 19l22 -4l14 -32l0 -42l-23 -30l-35 0z" fill="#0000ff" fill-rule="evenodd"/>
<path d="M474 692l-8 45l3 4l11 -3l3 25l-12 1l-2 4l38 16l42 11l19 -27l8 -38l-39 -21l-44 -10z" fill="#0000ff" fill-rule="evenodd"/>
<path d="M729 647l-29 11l-46 27l-23 -8l-25 13l-3 4l-6 23l11 22l17 12l3 -3l22 -4l9 23l-27 5l-2 -9l-2 0l-5 25l-29 22l8 39l31 -10l37 -19l30 -23l14 -7l15 -3l-16 -41l11 -5l0 -23l-11 -5l16 -39z" fill="#0000ff" fill-rule="evenodd"/>
<path d="M342 706l-10 -2l-23 4l4 32l25 -1z" fill="#0000ff" fill-rule="evenodd"/>
<path d="M415 657l-18 -16l-39 20l-31 27l9 15l7 3l34 -10z" fill="#0000ff" fill-rule="evenodd"/>
<path d="M313 783l-1 37l27 66l24 7l45 -52l-7 -29l-42 -21z" fill="#0000ff" fill-rule="evenodd"/>
<path d="M415 784l3 46l16 27l38 11l27 -12l-4 -39l-23 -30l-25 -15z" fill="#0000ff" fill-rule="evenodd"/>
<path d="M104 854l1 25l66 14l46 4l48 -19l-12 -21l-24 -15l-25 -8l-33 -3l-37 4z" fill="#0000ff" fill-rule="evenodd"/>
<path d="M261 901l0 78l121 0l-5 -35l-73 -33z" fill="#0000ff" fill-rule="evenodd"/>
<path d="M733 861l-12 2l-15 -10l-38 0l-38 19l-50 10l-24 8l-50 30l-7 59l219 0l0 -24l16 -35l-10 -6l0 -11l5 -5l12 0l-1 -14l-16 2l0 -13l11 -5z" fill="#0000ff" fill-rule="evenodd"/>
<path d="M68 635l-29 -9l-26 14l-13 0l0 56l13 0l12 4l31 -4l14 -31z" fill="#ff0000" fill-rule="evenodd"/>
<path d="M52 546l-28 16l9 37l24 1l4 -28z" fill="#ff0000" fill-rule="evenodd"/>
<path d="M75 594l-4 30l5 21l26 5l13 -10l42 -15l2 -4l-1 -9l-34 0l-1 -14l-20 -12z" fill="#ff0000" fill-rule="evenodd"/>
<path d="M425 491l-26 3l-22 -2l-3 7l0 28l20 16l21 -3l4 -3l1 -5l5 0l6 -22l-1 -5l-5 -2z" fill="#ff0000" fill-rule="evenodd"/>
<path d="M420 533l4 39l-2 5l20 15l14 -10l10 -4l-2 -23l-22 -25z" fill="#ff0000" fill-rule="evenodd"/>
<path d="M634 503l2 25l18 19l21 14l31 0l31 -15l-13 -26l-2 -16l-6 -6l-15 -1l-34 -16l-4 11z" fill="#ff0000" fill-rule="evenodd"/>
<path d="M675 608l3 25l21 5l-3 -33z" fill="#ff0000" fill-rule="evenodd"/>
<path d="M121 687l3 36l19 -3l-4 -26z" fill="#ff0000" fill-rule="evenodd"/>
<path d="M342 741l4 32l26 14l17 -4l-10 -16l-24 -27z" fill="#ff0000" fill-rule="evenodd"/>
<path d="M479 738l-21 6l5 21l19 -2z" fill="#ff0000" fill-rule="evenodd"/>
<path d="M650 745l-22 4l-1 9l4 5l1 8l26 -4z" fill="#ff0000" fill-rule="evenodd"/>
<path d="M159 792l1 28l60 17l32 19l3 -1l8 -16l6 -19l-1 -4l-29 -14l-36 -10l-16 -12z" fill="#ff0000" fill-rule="evenodd"/>
<path d="M100 871l-51 22l-15 -11l-22 -7l-12 0l0 104l132 0l0 -12l-23 -25l-19 -15l7 -25z" fill="#ff0000" fill-rule="evenodd"/>
<path d="M0 802l0 40l12 0l19 -12l-4 -25z" fill="#ff0000" fill-rule="evenodd"/>
<path d="M411 883l-15 -12l-25 19l3 21l33 -3z" fill="#ff0000" fill-rule="evenodd"/>
<path d="M235 721l-14 5l5 29l14 -1z" fill="#ff0000" fill-rule="evenodd"/>
<path d="M930 486l-27 -9l-1 12l-27 6l-4 40l19 19l22 0l22 -19l-1 -20l-7 -15z" fill="#0000ff" fill-rule="evenodd"/>
<path d="M879 604l-8 -30l-41 -4l-79 14l-11 -5l-6 17l31 13l45 0l18 14l20 -1l-10 -8l4 -15l28 0l6 7zM823 579l2 15l-35 9l-3 -21z" fill="#0000ff" fill-rule="evenodd"/>
<path d="M778 615l-31 5l8 30l27 -8z" fill="#0000ff" fill-rule="evenodd"/>
<path d="M757 653l-26 3l-2 22l-15 35l11 5l0 23l-11 4l3 9l18 -6l55 -39l1 -3l-5 -10l9 -4l1 -10z" fill="#0000ff" fill-rule="evenodd"/>
<path d="M787 696l5 10l-1 4l12 23l27 0l28 -18l0 -23l-3 -2l-1 -9l-40 0z" fill="#0000ff" fill-rule="evenodd"/>
<path d="M805 763l-44 -17l-27 3l-16 5l13 38l-3 47l8 28l-11 6l0 13l12 -3l7 3l16 -8l36 -8z" fill="#0000ff" fill-rule="evenodd"/>
<path d="M890 703l-18 5l-24 14l-25 24l13 26l22 26l33 32l28 20l30 -34l6 -21l0 -32l-6 -24l-11 -12l-20 -2z" fill="#0000ff" fill-rule="evenodd"/>
<path d="M893 672l-6 11l4 19l27 22l30 1l0 -30l-36 -28z" fill="#0000ff" fill-rule="evenodd"/>
<path d="M965 723l35 62l38 -1l3 -31l17 -21l-15 -24l-26 -10z" fill="#0000ff" fill-rule="evenodd"/>
<path d="M1052 636l3 35l37 10l19 -14l1 -4l-7 -24l-24 -10z" fill="#0000ff" fill-rule="evenodd"/>
<path d="M1068 585l1 10l33 2l36 12l24 -8l-22 -17l-37 -3z" fill="#0000ff" fill-rule="evenodd"/>
<path d="M1238 606l-16 -11l-18 -3l-3 2l1 9l-18 12l-5 -16l-4 0l-21 14l3 31l2 2l4 -2l8 9l2 -6l28 -7l5 5l32 -20z" fill="#0000ff" fill-rule="evenodd"/>
<path d="M1117 660l-18 18l0 19l18 15l21 7l23 -7l14 -21l-4 -20l-4 2l-18 -7l-5 -9z" fill="#0000ff" fill-rule="evenodd"/>
<path d="M1201 641l-28 7l-1 5l4 39l17 13l24 -8l-4 -37z" fill="#0000ff" fill-rule="evenodd"/>
<path d="M1207 550l-1 28l5 12l9 4l10 -2l-1 -37l-13 -1z" fill="#0000ff" fill-rule="evenodd"/>
<path d="M1362 649l-1 -3l-18 -10l-31 -7l-26 7l-39 1l8 13l78 7z" fill="#0000ff" fill-rule="evenodd"/>
<path d="M1366 770l-21 14l-11 40l9 30l23 14l46 0l0 -94z" fill="#0000ff" fill-rule="evenodd"/>
<path d="M1383 643l3 24l14 4l12 0l0 -32z" fill="#0000ff" fill-rule="evenodd"/>
<path d="M1074 822l-27 11l-3 63l-11 28l4 55l66 0l0 -98l-3 -2l2 -16l-9 -30z" fill="#0000ff" fill-rule="evenodd"/>
<path d="M930 902l0 23l3 6l-3 4l9 2l25 15l3 27l69 0l-6 -78l-32 0l-32 -7z" fill="#0000ff" fill-rule="evenodd"/>
<path d="M719 979l87 0l1 -13l56 -26l5 1l2 -4l28 -4l27 3l7 -5l-13 -19l-27 7l-23 -19l-75 -29l-34 8l-7 5l-12 3l1 11l-13 1l-4 4l0 11l10 6l-14 28z" fill="#0000ff" fill-rule="evenodd"/>
<path d="M1171 815l-37 18l18 31l26 -4l8 -30z" fill="#0000ff" fill-rule="evenodd"/>
<path d="M1101 869l0 10l3 2l308 0l0 -12l-46 0l-5 -2l-258 0z" fill="#0000ff" fill-rule="evenodd"/>
<path d="M746 488l-28 0l-1 10l6 6l0 10l8 17l9 -4l7 -14l-2 -13l4 -1z" fill="#ff0000" fill-rule="evenodd"/>
<path d="M927 495l9 29l30 12l22 -7l15 -18l0 -21l-56 1l-16 -4z" fill="#ff0000" fill-rule="evenodd"/>
<path d="M842 600l-3 14l10 7l-2 3l4 18l13 5l8 -19l10 -15l-12 -13z" fill="#ff0000" fill-rule="evenodd"/>
<path d="M888 653l-34 8l2 29l22 2l8 -8l6 -10z" fill="#ff0000" fill-rule="evenodd"/>
<path d="M822 579l-35 4l4 20l34 -10z" fill="#ff0000" fill-rule="evenodd"/>
<path d="M1199 584l-24 5l9 25l17 -11z" fill="#ff0000" fill-rule="evenodd"/>
<path d="M1144 654l5 11l18 7l4 -2l2 -10l-10 -15z" fill="#ff0000" fill-rule="evenodd"/>
<path d="M1379 615l-13 7l-1 5l3 15l13 5l1 -31z" fill="#ff0000" fill-rule="evenodd"/>
<path d="M1330 513l1 16l24 -1l2 -16z" fill="#ff0000" fill-rule="evenodd"/>
<path d="M1268 739l-24 5l4 34l24 -1l7 -20z" fill="#ff0000" fill-rule="evenodd"/>
<path d="M868 942l0 37l98 0l-3 -27l-24 -14l-41 -4l-28 4z" fill="#ff0000" fill-rule="evenodd"/>
<path d="M845 846l2 34l17 5l1 -41z" fill="#ff0000" fill-rule="evenodd"/>
<path d="M867 942l-4 -1l-56 26l0 12l60 0zM1104 882l0 97l308 0l0 -97zM886 685l-8 8l-19 0l0 22l13 -8l18 -5zM912 210l-8 3l7 2zM311 18l-4 7l4 -1zM1302 0l0 13l12 18l-6 41l27 14l-11 16l23 -4l19 16l-4 16l38 -39l12 0l0 -91zM966 0l0 13l9 -1l0 -12zM680 0l-45 0l-3 32l3 4l0 20l-2 2l-46 8l-3 -6l-2 2l-24 0l-3 -12l0 6l-25 22l23 -7l29 11l11 13l33 -13l29 18l5 9l-9 -69l37 -9l-8 -17zM0 0l0 242l30 0l6 35l-2 8l-34 0l0 5l41 -4l13 21l-2 4l-52 7l0 96l47 -4l4 2l11 36l-2 23l4 9l-3 4l3 10l-2 26l-21 16l-29 8l-12 0l0 27l25 3l-2 -12l29 -17l10 27l-4 28l-17 2l2 9l-21 21l-10 7l-12 0l13 0l28 -14l26 8l5 21l15 -5l-11 -3l-3 -5l-3 -17l3 -26l3 -6l25 -7l23 13l0 13l34 0l3 9l68 -24l21 -2l-4 -25l42 -13l46 -7l13 33l-4 29l-39 35l-31 -7l-3 -9l-54 61l-34 26l-13 31l-42 8l-9 -32l-14 -21l-35 -13l-2 -13l-11 20l-29 4l-14 -4l-13 0l0 104l27 3l5 21l-2 7l-16 10l-14 1l0 31l12 0l22 7l15 11l51 -22l2 2l-2 18l-9 37l18 14l24 26l0 12l127 0l0 -78l2 -2l42 11l73 33l3 6l3 30l115 0l7 -59l51 -31l24 -8l50 -10l38 -19l38 0l15 10l11 -3l-5 -20l2 -51l-15 3l-14 7l-30 23l-37 19l-29 10l-4 -2l-7 -38l29 -22l5 -29l-1 -6l-19 -14l-11 -25l-7 12l-15 2l3 6l-8 34l-20 28l-42 -11l-46 -21l-4 -20l9 -4l-1 -12l6 -32l3 -5l12 3l-3 -9l15 -43l49 -24l35 0l24 31l0 40l25 -13l23 8l46 -27l29 -11l2 9l26 -3l40 30l0 6l17 -8l39 0l0 -19l2 -2l33 -7l5 19l19 -5l37 29l0 30l-10 2l11 12l6 24l0 32l-7 23l-30 33l-44 -35l-40 -44l-13 -28l20 -18l-12 8l-27 0l-14 -24l-53 38l25 -3l46 19l-10 106l74 30l21 18l27 -7l10 12l0 -21l2 -2l35 -7l32 7l32 0l4 18l9 -22l3 -63l26 -12l22 12l9 33l256 0l-16 -10l-10 -27l10 -44l23 -16l46 4l0 -101l-12 0l-14 -4l-5 -20l-14 -6l-3 -15l2 -6l15 -7l2 2l0 26l29 -4l0 -189l-12 0l-21 -7l-35 -32l-40 -23l-2 -7l-3 10l-16 0l-6 -17l25 -6l2 -14l36 7l59 43l13 0l0 -92l-33 -3l-8 -25l2 -5l39 -4l0 -53l-39 0l-28 -13l-16 -23l-6 -26l-61 7l-19 -16l3 -25l-4 -3l-23 -41l-5 -25l-5 10l-16 -6l-3 32l-17 20l-23 16l-47 -3l-34 -21l-2 -4l4 -3l51 -19l0 -30l2 -2l37 -3l16 4l-6 -6l-18 -8l-7 -19l0 -14l-83 0l0 14l-4 12l-20 8l0 27l-4 2l-25 -4l-4 -6l-11 20l-21 -15l-17 -18l-3 -15l-44 0l-2 -2l0 -23l-7 0l0 54l-24 14l-14 27l-9 2l27 5l23 16l4 6l6 30l54 3l15 19l-7 28l35 24l3 5l-12 19l-34 4l-37 0l-21 -21l-4 14l-20 28l-10 40l-12 25l-23 -3l-14 -19l-26 -4l4 -44l-4 -68l2 -2l41 0l-51 -22l-3 -6l-6 -50l51 -24l-7 1l-20 -33l-13 -53l0 -15l-65 0l2 4l10 3l-14 41l-4 1l-8 -4l-9 1l-2 87l12 5l-6 26l7 21l-8 5l-2 5l11 -5l8 14l11 -5l12 6l13 28l-16 16l-11 -5l-18 2l-23 -7l-5 -27l-17 -41l-8 -37l-14 27l-40 22l-89 14l-37 -56l-9 -25l4 -7l23 -18l-5 -19l0 -72l-9 0l-2 31l-4 13l-33 3l-29 -9l0 -38l-23 0l3 34l-22 15l-16 17l-50 2l-37 8l-11 7l40 2l29 -7l23 20l2 35l-22 31l-150 30l3 21l27 5l23 23l35 21l9 23l-2 5l-65 29l-32 -3l-21 -11l-8 -22l-4 -23l-25 1l-13 -30l-7 -38l-6 2l-13 -16l-3 -22l2 -2l31 0l2 4l24 -3l30 12l-9 -35l0 -73l2 -2l31 -4l10 24l20 13l33 -10l-1 -22l-33 -5l0 -56zM396 870l16 13l-3 24l-34 6l-5 -23zM845 845l17 -3l4 2l0 40l-2 2l-18 -6l-3 -26zM1171 814l16 16l-6 27l-3 4l-26 4l-19 -32zM313 782l46 8l40 18l3 4l7 29l-46 53l-24 -7l-4 -6l-24 -61l0 -36zM103 854l31 -20l37 -4l29 3l-42 -14l0 -27l27 -13l18 12l36 10l31 16l-6 22l-10 18l12 21l-49 20l-46 -4l-66 -14l-2 -2zM414 784l33 -13l25 15l24 31l4 39l-28 13l-38 -11l-17 -28zM341 741l14 -2l25 28l10 16l-18 5l-26 -14l-3 -7zM1268 738l12 19l-5 16l-4 6l-23 0l-3 -8l-2 -27zM233 720l5 6l3 28l-15 2l-6 -30zM964 723l53 -26l26 10l16 25l-17 21l-3 31l-2 2l-37 0zM416 657l-39 40l-34 10l-6 34l-24 0l-2 -2l-3 -31l27 -5l-9 -17l32 -26l39 -20zM1363 649l-30 9l-78 -7l-9 -14l2 -2l38 0l26 -7l31 7l18 10zM778 614l5 28l-28 9l-9 -31zM675 607l18 -4l4 2l4 27l-2 7l-22 -6l-4 -20zM1067 585l36 -5l37 3l21 14l2 4l-25 9l-36 -12l-33 -2zM883 615l-10 13l-7 18l-4 2l-12 -6l-4 -18l-18 0l-18 -14l-45 0l-32 -14l7 -18l11 5l77 -14l43 4l9 28l-2 5zM1329 513l2 -2l26 0l2 6l-5 13l-23 0zM870 535l4 -40l28 -7l1 -12l44 14l30 -2l27 2l0 21l-16 19l-22 7l-28 -10l-3 -4l0 12l-23 20l-22 0zM520 434l49 -16l35 7l31 24l7 27l-3 4l2 12l-3 1l-3 -3l-2 -8l-25 5l-56 -5l-21 8l-6 -11zM780 424l-6 25l-29 3l-4 -14l-18 5l0 16l-5 28l28 0l4 12l-4 1l2 13l-7 14l-10 5l6 15l-31 15l-31 0l-27 -20l16 20l4 26l-2 7l-40 22l-24 7l-23 -12l-28 -10l-31 -17l7 -24l13 -27l40 -11l53 0l0 -20l25 -11l0 -13l-4 -1l-3 -29l37 -16l-4 -19l2 -7l45 -4l11 4l0 12zM848 353l31 -3l4 2l7 40l-16 23l-28 -13l0 -47zM92 350l2 -2l24 0l50 28l0 24l-4 2l-44 -4l-30 -14l-2 -7zM76 312l31 0l2 2l-6 29l-23 0l-2 -2l-4 -22zM180 423l49 -20l42 -6l2 -12l40 -15l5 4l7 23l-1 13l51 -14l32 4l-23 -37l0 -16l-9 4l-29 -15l-13 -17l2 -4l26 -14l24 7l7 24l32 16l33 -2l10 -23l33 9l4 23l-4 41l-31 31l-26 -2l2 6l-6 35l-10 12l0 12l-3 1l0 12l7 1l4 -13l18 5l-2 12l18 13l0 43l-4 7l0 7l-7 6l-10 18l-20 0l-16 -45l0 -16l-20 3l-21 -17l2 -36l-21 -8l-6 10l-11 -2l4 -13l-15 -4l-5 -41l-4 42l-5 1l-5 -11l-19 3l-7 -5l-8 16l2 9l-2 4l-12 3l-50 -3l-18 5l-10 -34zM1000 278l19 0l10 19l28 15l11 13l15 -13l22 7l52 34l17 20l8 15l61 3l21 7l23 19l23 82l-14 3l-17 -3l-4 11l-27 28l-16 25l0 28l-10 3l17 12l0 19l-32 20l7 15l4 31l-2 8l-23 7l-18 -14l-14 21l-23 7l-21 -7l-19 -16l0 -18l-8 3l-37 -12l-3 -33l29 -9l28 12l5 22l5 -3l26 -3l2 -4l11 -6l-3 -33l23 -15l-2 -9l25 -6l3 9l9 -1l-6 -13l0 -27l4 -2l-7 -14l-34 -35l-1 -12l-32 -3l-1 45l-8 27l-11 19l-5 3l-16 -14l-13 -26l-4 -24l-9 -12l-3 -10l-17 0l-5 11l-22 -9l5 -9l0 -42l31 -67l0 -21l-40 0l-13 -36l-6 -36zM695 277l34 -4l7 30l-7 3l-25 -3zM946 273l2 -2l47 0l3 8l3 37l-29 9l-26 -12zM631 264l29 -3l5 3l21 38l-16 27l-23 -24l-18 -36zM1357 257l16 21l-26 19l-18 -9l0 -26zM1105 286l33 -22l41 11l-12 -14l0 -19l2 -2l33 0l38 28l5 17l-2 5l-27 7l-10 -5l5 14l-5 7l3 -1l26 38l-28 9l-28 -13l-6 -14l-35 0l-30 -16zM440 231l12 15l-29 21l-17 -19zM1262 174l4 2l13 27l33 12l3 5l6 34l-29 33l-30 -10l-24 -39l-9 -38zM30 160l2 -2l50 0l2 2l0 24l-2 2l-43 0zM991 79l19 -12l33 4l3 4l6 28l-11 32l30 8l12 9l3 -12l54 -7l20 22l13 5l22 -5l-25 -25l0 -13l18 -19l23 26l10 20l-7 17l-4 2l-5 -3l6 25l-30 23l-24 7l-4 -2l-6 -18l-2 11l-10 20l-25 13l-22 -20l-4 -38l-22 9l-52 -3l-22 -9l0 -30l10 -6l-7 -25zM228 56l33 4l1 -12l8 -7l36 -15l6 -12l0 -14l-84 0zM166 62l0 73l7 32l14 26l150 -30l21 -30l-2 -35l-22 -19l-29 7l-46 -2l-31 10l-21 -14l-9 -23zM303 113l5 34l-27 1l-4 -31zM144 159l-24 3l-2 25l-10 7l7 39l12 29l24 0l2 -9l-4 -22l34 -16l5 0l-2 -22l-11 -21zM150 231l4 22l-1 13l9 37l23 14l32 3l66 -30l-7 -24l-36 -22l-23 -23l-28 -6zM31 160l8 25l44 -1l-1 -25zM0 243l0 41l34 0l-3 -40zM422 0l1 39l25 7l36 -4l4 -42zM551 0l-52 0l0 72l6 19l24 -13l25 -22zM477 113l9 28l36 55l89 -14l40 -22l15 -32l-10 -26l-30 -19l-33 13l-11 -13l-29 -11l-38 13zM580 0l2 43l48 -6l4 -37zM685 32l-32 7l-1 6l9 66l6 17l-1 9l5 22l20 52l0 -10l15 -3l1 -6l10 -6l-7 -22l6 -26l-12 -5l3 -86l-5 -3l-4 1l-6 -12zM681 0l0 14l17 30l18 0l11 4l14 -41l-9 -2l-3 -5zM691 202l5 37l22 6l14 0l0 -23l-12 -30l-16 8zM631 265l-1 4l18 36l22 23l15 -26l-21 -38l-4 -2zM696 277l8 25l17 3l14 -2l-6 -29zM498 331l-31 -7l-10 23l-33 2l-32 -15l0 6l-7 6l0 17l18 32l28 23l11 6l27 2l30 -30l4 -41zM322 412l-1 20l2 20l4 9l0 13l15 4l-5 11l2 3l9 0l5 -10l32 11l43 -3l0 -12l10 -12l6 -39l-31 -24l-38 -6zM315 371l-43 16l0 10l3 2l3 57l3 6l7 5l19 -3l5 11l5 -1l-1 -15l8 -56zM49 411l-49 4l0 128l12 0l29 -8l20 -15l2 -26l-3 -7l3 -7l-4 -9l2 -23zM521 434l5 45l5 10l21 -8l18 0l27 5l36 -5l3 9l4 2l-2 -12l3 -4l-7 -27l-30 -23l-35 -7zM652 449l3 29l4 1l0 12l4 0l3 -10l3 -1l32 16l15 1l6 -38l-1 -24l-30 1l-3 -2zM397 0l-84 0l-2 25l-29 11l-19 12l-2 34l3 1l12 -8l37 -8l50 -2l16 -17l21 -14zM303 114l-25 3l3 30l26 0zM552 0l5 60l25 1l-3 -61zM634 36l-53 8l5 20l47 -7zM86 159l3 22l12 15l16 -9l1 -29zM53 307l-12 -20l-41 4l0 26l52 -7zM76 313l3 28l24 1l5 -28zM93 350l-3 33l30 14l47 3l-1 -25l-48 -26zM274 399l-45 5l-48 19l3 40l9 33l18 -5l50 3l13 -4l-2 -11l8 -13l-3 -10zM334 317l12 18l29 15l16 -10l1 -7l-7 -24l-24 -7zM440 232l-33 16l16 18l28 -20zM715 406l-30 3l3 23l3 3l30 -1zM796 0l0 15l12 50l20 35l18 -4l15 0l13 -26l26 -16l0 -54zM785 124l8 55l59 25l18 0l26 9l7 0l12 -6l2 -12l-7 -37l3 -5l-6 -29l-3 -5l-23 -16l-35 -6zM803 203l3 69l-4 44l25 3l14 19l23 3l12 -27l9 -37l21 -30l6 -30l-42 -12zM911 156l7 44l-5 10l-3 24l21 21l37 0l34 -4l11 -20l-38 -27l7 -28l-14 -18zM1043 72l-33 -4l-18 11l0 38l8 26l11 -5l29 -3l11 -32zM1062 0l-50 0l4 32l-9 15l3 11l28 3l0 -27l20 -8l4 -12zM1192 57l-13 -9l-18 -4l-37 3l-2 32l-51 19l-3 4l35 22l47 3l23 -16l16 -19zM1202 156l-32 4l-12 -5l-18 -21l-54 7l2 36l-3 4l4 38l23 19l22 -12l13 -32l8 20l26 -7l29 -22zM1243 0l0 12l-24 27l-4 11l5 31l23 41l8 2l33 -13l37 -7l13 -18l-27 -14l6 -41l-12 -18l0 -13zM1365 114l-18 -15l-63 13l-37 13l-3 25l18 15l61 -7l36 -22zM1412 92l-12 0l-38 39l-3 6l-35 21l6 27l13 20l30 15l39 0zM1262 175l-32 25l9 38l23 38l30 10l28 -32l-8 -38l-33 -12l-14 -28zM947 273l1 41l24 10l28 -8l-5 -44zM1069 325l2 7l-13 22l0 23l-31 67l0 42l-5 9l21 8l5 -11l17 0l4 11l9 12l4 24l13 26l15 13l4 -2l11 -19l8 -27l2 -46l32 3l2 13l34 35l7 15l19 4l2 8l16 -24l27 -28l5 -12l13 3l17 -2l-22 -80l-23 -20l-21 -7l-61 -3l-9 -16l-16 -19l-52 -34l-22 -7zM1174 332l5 13l28 13l27 -8l-25 -37l-15 6zM1303 355l1 31l40 23l35 32l21 7l12 0l0 -44l-13 0l-59 -43zM1412 275l-39 4l5 27l34 4zM737 200l-10 5l6 17l0 21l14 5l15 -17l-13 -26zM741 421l4 30l30 -4l3 -24zM848 354l-1 48l27 12l15 -22l-7 -40zM909 0l1 24l45 0l0 -6l10 -4l0 -14zM976 0l-1 13l-19 5l1 19l17 20l21 15l20 -40l-4 -32zM1147 0l0 14l7 19l17 7l22 19l14 6l5 -5l6 -21l24 -27l0 -12zM989 148l0 30l21 8l54 3l23 -12l-2 -22l-14 -11l-30 -8l-3 2l-6 -2l-21 3zM1186 99l-15 18l0 13l19 21l22 11l8 -18l-10 -20zM1168 242l2 22l12 13l19 9l9 8l6 2l28 -8l-6 -22l-36 -25zM1106 286l3 30l29 15l36 0l36 -22l-5 -18l-4 -4l-30 -15l-31 -7zM1000 279l5 41l11 34l41 1l13 -23l-2 -6l-11 -13l-28 -15l-10 -19zM1357 258l-27 4l1 27l16 7l25 -18zM1302 368l-24 5l5 16l17 -1zM716 404l7 38l17 -4l1 -31zM0 572l0 66l12 0l10 -7l20 -20l-4 -11l-6 -1l-6 -24zM266 599l-13 -4l-24 2l-65 22l-7 7l-32 10l-23 15l-14 -2l-14 5l-4 4l-2 30l37 15l14 21l8 31l42 -8l12 -30l35 -27l54 -61zM121 686l19 8l3 27l-20 2zM334 550l-46 7l-41 12l3 24l17 6l6 39l31 7l38 -34l4 -29zM422 578l8 23l20 0l10 -18l-4 0l-14 10zM418 538l-3 3l0 16l6 19l2 0l-3 -37zM437 492l-3 12l-3 1l1 5l-6 22l16 -3l23 26l0 14l2 1l3 -6l0 -43l-18 -13l3 -11zM521 582l1 4l80 37l24 -7l41 -23l-4 -31l-30 -38l-53 0l-40 11zM499 642l-15 43l5 11l48 12l32 19l22 -4l14 -32l0 -42l-23 -30l-35 0zM474 692l-8 45l3 4l11 -3l3 25l-12 1l-2 4l38 16l42 11l19 -27l8 -38l-39 -21l-44 -10zM729 647l-29 11l-46 27l-23 -8l-25 13l-3 4l-6 23l11 22l17 12l3 -3l22 -4l9 23l-27 5l-2 -9l-2 0l-5 25l-29 22l8 39l31 -10l37 -19l30 -23l14 -7l15 -3l-16 -41l11 -5l0 -23l-11 -5l16 -39zM342 706l-10 -2l-23 4l4 32l25 -1zM415 657l-18 -16l-39 20l-31 27l9 15l7 3l34 -10zM313 783l-1 37l27 66l24 7l45 -52l-7 -29l-42 -21zM415 784l3 46l16 27l38 11l27 -12l-4 -39l-23 -30l-25 -15zM104 854l1 25l66 14l46 4l48 -19l-12 -21l-24 -15l-25 -8l-33 -3l-37 4zM261 901l0 78l121 0l-5 -35l-73 -33zM733 861l-12 2l-15 -10l-38 0l-38 19l-50 10l-24 8l-50 30l-7 59l219 0l0 -24l16 -35l-10 -6l0 -11l5 -5l12 0l-1 -14l-16 2l0 -13l11 -5zM68 635l-29 -9l-26 14l-13 0l0 56l13 0l12 4l31 -4l14 -31zM52 546l-28 16l9 37l24 1l4 -28zM75 594l-4 30l5 21l26 5l13 -10l42 -15l2 -4l-1 -9l-34 0l-1 -14l-20 -12zM425 491l-26 3l-22 -2l-3 7l0 28l20 16l21 -3l4 -3l1 -5l5 0l6 -22l-1 -5l-5 -2zM420 533l4 39l-2 5l20 15l14 -10l10 -4l-2 -23l-22 -25zM634 503l2 25l18 19l21 14l31 0l31 -15l-13 -26l-2 -16l-6 -6l-15 -1l-34 -16l-4 11zM675 608l3 25l21 5l-3 -33zM121 687l3 36l19 -3l-4 -26zM342 741l4 32l26 14l17 -4l-10 -16l-24 -27zM479 738l-21 6l5 21l19 -2zM650 745l-22 4l-1 9l4 5l1 8l26 -4zM159 792l1 28l60 17l32 19l3 -1l8 -16l6 -19l-1 -4l-29 -14l-36 -10l-16 -12zM100 871l-51 22l-15 -11l-22 -7l-12 0l0 104l132 0l0 -12l-23 -25l-19 -15l7 -25zM0 802l0 40l12 0l19 -12l-4 -25zM411 883l-15 -12l-25 19l3 21l33 -3zM235 721l-14 5l5 29l14 -1zM930 486l-27 -9l-1 12l-27 6l-4 40l19 19l22 0l22 -19l-1 -20l-7 -15zM879 604l-8 -30l-41 -4l-79 14l-11 -5l-6 17l31 13l45 0l18 14l20 -1l-10 -8l4 -15l28 0l6 7zM823 579l2 15l-35 9l-3 -21zM778 615l-31 5l8 30l27 -8zM757 653l-26 3l-2 22l-15 35l11 5l0 23l-11 4l3 9l18 -6l55 -39l1 -3l-5 -10l9 -4l1 -10zM787 696l5 10l-1 4l12 23l27 0l28 -18l0 -23l-3 -2l-1 -9l-40 0zM805 763l-44 -17l-27 3l-16 5l13 38l-3 47l8 28l-11 6l0 13l12 -3l7 3l16 -8l36 -8zM890 703l-18 5l-24 14l-25 24l13 26l22 26l33 32l28 20l30 -34l6 -21l0 -32l-6 -24l-11 -12l-20 -2zM893 672l-6 11l4 19l27 22l30 1l0 -30l-36 -28zM965 723l35 62l38 -1l3 -31l17 -21l-15 -24l-26 -10zM1052 636l3 35l37 10l19 -14l1 -4l-7 -24l-24 -10zM1068 585l1 10l33 2l36 12l24 -8l-22 -17l-37 -3zM1238 606l-16 -11l-18 -3l-3 2l1 9l-18 12l-5 -16l-4 0l-21 14l3 31l2 2l4 -2l8 9l2 -6l28 -7l5 5l32 -20zM1117 660l-18 18l0 19l18 15l21 7l23 -7l14 -21l-4 -20l-4 2l-18 -7l-5 -9zM1201 641l-28 7l-1 5l4 39l17 13l24 -8l-4 -37zM1207 550l-1 28l5 12l9 4l10 -2l-1 -37l-13 -1zM1362 649l-1 -3l-18 -10l-31 -7l-26 7l-39 1l8 13l78 7zM1366 770l-21 14l-11 40l9 30l23 14l46 0l0 -94zM1383 643l3 24l14 4l12 0l0 -32zM1074 822l-27 11l-3 63l-11 28l4 55l66 0l0 -98l-3 -2l2 -16l-9 -30zM930 902l0 23l3 6l-3 4l9 2l25 15l3 27l69 0l-6 -78l-32 0l-32 -7zM719 979l87 0l1 -13l56 -26l5 1l2 -4l28 -4l27 3l7 -5l-13 -19l-27 7l-23 -19l-75 -29l-34 8l-7 5l-12 3l1 11l-13 1l-4 4l0 11l10 6l-14 28zM1171 815l-37 18l18 31l26 -4l8 -30zM1101 869l0 10l3 2l308 0l0 -12l-46 0l-5 -2l-258 0zM746 488l-28 0l-1 10l6 6l0 10l8 17l9 -4l7 -14l-2 -13l4 -1zM927 495l9 29l30 12l22 -7l15 -18l0 -21l-56 1l-16 -4zM842 600l-3 14l10 7l-2 3l4 18l13 5l8 -19l10 -15l-12 -13zM888 653l-34 8l2 29l22 2l8 -8l6 -10zM822 579l-35 4l4 20l34 -10zM1199 584l-24 5l9 25l17 -11zM1144 654l5 11l18 7l4 -2l2 -10l-10 -15zM1379 615l-13 7l-1 5l3 15l13 5l1 -31zM1330 513l1 16l24 -1l2 -16zM1268 739l-24 5l4 34l24 -1l7 -20zM868 942l0 37l98 0l-3 -27l-24 -14l-41 -4l-28 4zM845 846l2 34l17 5l1 -41z" fill="none" stroke="#000" stroke-width="3.2" stroke-opacity="0.85" stroke-linejoin="round"/>
</g>
<path d="M708,476L698,473M668,493L698,473M720,383L696,414M708,429L696,414M23,497L25,469M25,469L48,462M55,486L48,462M75,365L99,359M75,365L63,395M99,359L110,378M110,378L101,399M101,399L92,403M92,403L63,395M705,252L699,283M699,283L700,284M704,251L674,255M674,255L673,275M699,283L673,275M698,473L680,453M708,429L680,451M680,453L680,451M12,200L26,214M12,200L22,166M44,177L22,166M44,177L33,210M33,210L26,214M44,177L52,173M33,210L62,208M52,173L68,178M68,178L72,185M62,208L72,185M104,157L109,164M104,157L78,155M109,164L89,188M68,178L78,155M72,185L89,188M244,42L222,69M244,42L244,42M244,42L272,63M227,87L263,80M227,87L227,87M272,63L263,80M227,87L222,69M-10,120L-2,103M-2,103L-16,83M-6,195L12,200M22,166L20,161M-6,167L20,161M44,397L43,394M44,397L50,400M75,365L63,351M43,394L43,359M63,395L50,400M43,359L63,351M102,351L99,359M102,351L125,336M125,336L135,339M110,378L140,375M135,339L140,375M60,489L86,481M48,462L50,454M50,454L81,453M81,453L86,481M45,442L50,454M45,442L53,419M53,419L88,442M81,453L88,442M92,403L88,442M50,400L53,419M88,442L88,442M341,308L323,308M341,308L358,327M323,308L322,309M322,309L329,340M358,327L329,340M277,250L289,280M277,250L252,255M289,280L284,286M284,286L263,285M252,255L263,285M439,462L413,469M439,462L449,488M413,469L414,485M668,305L668,279M668,305L641,312M641,312L637,289M637,289L650,277M668,279L650,277M700,303L679,312M679,312L668,305M673,275L668,279M639,316L617,325M639,316L641,312M604,282L617,325M604,282L618,280M618,280L637,289M618,280L638,250M638,250L650,277M638,250L638,250M664,241L674,255M664,241L638,250M385,97L390,67M385,97L406,104M421,86L394,66M421,86L414,102M406,104L414,102M394,66L390,67M385,97L371,103M379,61L390,67M379,61L353,70M371,103L353,70M334,36L338,42M334,36L298,36M304,68L338,49M304,68L287,55M338,49L338,42M298,36L289,44M287,55L289,44M313,88L337,84M313,88L304,68M337,84L351,70M351,70L338,49M313,88L305,106M305,106L283,116M283,116L263,80M272,63L287,55M370,30L378,39M370,30L338,42M379,61L378,39M353,70L351,70M370,30L370,16M370,16L360,4M334,36L333,13M360,4L333,13M405,216L405,216M405,216L379,192M405,216L376,231M379,192L371,196M371,196L365,216M376,231L365,216M329,206L344,221M329,206L328,199M344,221L365,216M351,186L328,199M351,186L371,196M23,330L46,319M23,330L21,340M21,340L43,359M63,351L65,329M65,329L46,319M7,311L25,277M7,311L23,330M26,277L25,277M26,277L48,304M48,304L46,319M-3,237L7,236M-3,237L-19,252M7,236L12,270M-19,252L-2,272M-2,272L12,270M-25,214L-3,237M26,214L25,222M25,222L7,236M27,224L25,222M27,224L37,267M37,267L26,277M25,277L12,270M-16,288L-2,272M-16,288L7,311M7,311L7,311M61,242L76,233M61,242L55,265M76,233L89,256M89,256L75,279M75,279L55,265M27,224L61,242M62,208L78,226M78,226L76,233M37,267L55,265M75,281L48,304M75,281L75,279M101,206L92,221M101,206L114,204M92,221L120,247M114,204L140,220M120,247L137,231M137,231L140,220M89,188L101,206M78,226L92,221M109,164L125,169M125,169L125,169M125,169L114,204M118,252L120,247M118,252L89,256M156,206L140,220M156,206L145,182M145,182L125,169M123,268L142,282M123,268L118,252M142,282L166,263M166,263L167,257M167,257L137,231M274,24L255,25M274,24L278,7M278,7L262,-4M255,25L246,4M246,4L262,-4M244,42L255,25M289,44L274,24M297,-28L291,1M291,1L304,13M304,13L326,6M324,-9L326,6M277,-75L262,-4M278,7L291,1M298,36L304,13M333,13L326,6M362,-8L360,4M176,68L212,60M176,68L179,38M179,38L179,38M179,38L200,36M212,60L207,41M207,41L200,36M244,42L227,30M222,69L212,60M227,30L207,41M227,87L206,101M206,101L199,102M176,68L169,80M199,102L169,80M302,155L313,161M302,155L267,173M313,161L312,186M312,186L291,198M267,173L291,198M286,222L313,224M286,222L284,218M313,224L329,206M312,186L328,199M291,198L284,218M285,240L286,222M285,240L277,250M252,255L246,252M284,218L261,215M261,215L251,220M251,220L246,252M161,149L135,154M161,149L148,120M135,154L131,125M148,120L131,125M170,158L171,154M170,158L145,182M171,154L161,149M125,169L135,154M184,143L183,126M184,143L171,154M183,126L153,115M153,115L148,120M104,157L106,128M106,128L124,122M124,122L131,125M124,122L121,93M153,115L158,85M121,93L158,85M179,38L147,40M169,80L160,82M147,40L157,78M157,78L160,82M183,126L199,102M158,85L160,82M-32,31L10,38M-11,68L5,65M5,65L10,38M15,414L-3,416M15,414L18,441M-3,416L-16,449M18,441L8,452M8,452L-6,455M44,397L23,405M45,442L18,441M23,405L15,414M25,469L8,452M-5,489L-6,455M-3,416L-14,407M7,311L-72,347M-5,489L-287,454M586,385L601,409M586,385L558,393M601,409L595,430M558,393L565,423M595,430L583,437M565,423L583,437M558,393L556,392M556,392L522,407M565,423L545,429M545,429L524,415M524,415L522,407M101,399L128,418M128,418L139,405M140,375L140,376M139,405L140,376M287,298L308,313M287,298L272,322M308,313L297,329M297,329L272,322M128,418L130,431M88,442L117,445M130,431L117,445M95,487L123,481M123,481L161,568M86,481L95,487M124,478L117,445M124,478L123,481M323,245L339,241M323,245L314,256M314,256L314,274M343,276L320,279M343,276L357,255M314,274L320,279M357,255L339,241M313,224L323,245M344,221L339,241M285,240L314,256M289,280L314,274M341,308L355,292M355,292L343,276M323,308L320,279M284,286L287,298M322,309L308,313M375,254L376,231M375,254L357,255M407,143L396,138M407,143L415,173M396,138L374,157M374,157L386,180M415,173L386,180M395,135L396,138M395,135L406,104M414,102L427,116M427,116L426,133M426,133L407,143M423,177L452,147M423,177L415,173M426,133L452,147M427,187L423,177M427,187L405,216M379,192L386,180M706,141L694,150M694,150L716,194M581,311L604,327M581,311L582,285M604,282L604,282M617,325L616,326M604,327L616,326M582,285L584,282M604,282L584,282M604,327L581,352M616,326L621,345M581,352L593,371M593,371L604,370M621,345L604,370M639,316L655,338M679,312L679,328M655,338L679,328M701,370L695,370M709,333L686,337M695,370L684,359M684,359L686,337M679,328L686,337M634,460L618,481M634,460L661,474M635,502L618,483M618,483L618,481M668,493L661,474M595,430L630,443M583,437L578,454M578,454L585,467M630,443L634,449M634,449L634,460M585,467L618,481M680,453L661,474M680,451L665,438M665,438L634,449M591,516L618,483M585,467L574,495M423,39L431,31M423,39L422,39M422,39L408,29M431,31L435,-7M408,29L400,7M403,-6L400,7M378,39L408,29M394,66L422,39M370,16L400,7M313,161L316,159M351,186L348,162M316,159L348,162M302,155L281,120M305,106L330,123M283,116L281,120M316,159L330,123M374,157L357,153M357,153L348,162M457,315L431,306M457,315L446,268M431,306L421,281M446,268L421,281M519,303L546,288M519,303L504,296M538,268L546,288M538,268L506,270M504,296L506,270M84,329L74,326M84,329L108,309M74,326L81,286M108,309L97,290M97,290L81,286M102,351L84,329M65,329L74,326M125,336L115,312M115,312L108,309M75,281L81,286M115,312L144,292M123,268L97,290M144,292L142,282M0,134L20,160M0,134L23,127M23,127L42,139M20,160L42,139M-9,132L0,134M20,161L20,160M52,173L48,138M48,138L42,139M-2,103L16,99M5,65L12,69M16,99L12,69M23,127L23,102M16,99L23,102M78,155L65,133M48,138L56,133M65,133L56,133M106,128L88,117M65,133L88,117M198,-5L205,1M205,1L225,7M233,-88L238,2M238,2L225,7M190,-5L198,-5M190,-5L173,11M173,11L179,38M200,36L205,1M168,-26L190,-5M227,30L225,7M246,4L238,2M184,143L205,150M206,101L218,131M218,131L205,150M170,158L186,186M205,150L212,161M212,161L212,165M212,165L186,186M256,177L266,173M256,177L254,176M254,176L239,153M266,173L265,128M239,153L244,133M244,133L251,128M251,128L265,128M267,173L266,173M261,215L256,177M281,120L265,128M218,131L244,133M212,161L239,153M227,87L251,128M237,255L216,241M237,255L229,269M229,269L203,276M203,276L197,250M216,241L197,250M-9,1L25,15M10,38L25,27M25,27L25,15M35,-27L32,8M25,15L32,8M2,388L-14,393M2,388L7,361M-53,354L5,356M5,356L7,361M23,405L2,388M43,394L7,361M21,340L5,356M549,482L566,458M549,482L512,463M566,458L538,451M538,451L515,459M515,459L512,463M553,496L549,482M578,454L566,458M545,429L538,451M524,415L515,459M548,289L546,288M548,289L552,325M519,303L525,319M525,319L552,325M470,323L516,331M470,323L477,313M477,313L504,296M525,319L516,331M581,311L556,329M581,352L558,344M558,344L556,329M548,289L582,285M556,329L552,325M159,329L159,329M159,329L153,302M159,329L194,309M153,302L191,290M194,309L194,291M191,290L194,291M144,292L153,302M135,339L159,329M166,263L191,290M167,257L182,245M203,276L196,289M196,289L194,291M182,245L197,250M140,376L159,375M159,329L174,346M159,375L174,346M209,332L194,309M209,332L176,347M176,347L174,346M226,365L227,358M226,365L226,365M209,332L217,334M226,365L218,373M218,373L202,376M227,358L217,334M176,347L202,376M302,349L297,329M302,349L301,349M272,322L265,325M265,325L263,337M263,337L274,353M301,349L274,353M226,365L269,369M263,337L227,358M274,353L269,369M413,469L398,455M398,455L372,462M372,462L375,499M329,340L328,344M302,349L324,347M324,347L328,344M301,349L301,382M301,382L329,387M324,347L329,387M255,293L234,286M255,293L253,314M253,314L230,318M230,318L224,299M224,299L234,286M263,285L255,293M246,252L237,255M229,269L234,286M265,325L253,314M217,334L230,318M196,289L224,299M709,-1L698,17M725,42L698,17M601,65L604,40M601,65L624,74M624,39L639,52M624,39L604,40M639,52L624,74M725,42L694,68M694,68L695,73M695,73L724,99M421,86L443,73M423,39L444,71M443,73L444,71M427,116L452,110M443,73L452,110M681,57L694,68M681,57L660,58M660,58L653,83M695,73L669,100M669,100L653,83M651,51L639,52M651,51L660,58M624,74L630,85M630,85L653,83M701,229L669,228M716,194L684,194M684,194L669,228M664,241L667,230M667,230L669,228M558,251L543,257M558,251L560,240M560,240L543,214M543,257L528,237M528,237L543,214M538,268L543,257M578,263L584,282M578,263L558,251M506,270L498,260M498,260L505,237M505,237L528,237M638,250L621,237M646,210L667,230M646,210L638,212M638,212L621,237M578,263L600,230M604,282L611,236M600,230L611,236M621,237L611,236M601,409L629,398M630,443L637,415M629,398L637,415M665,438L668,415M637,415L668,415M696,414L677,405M668,415L677,405M695,370L676,401M677,405L676,401M346,111L371,105M346,111L338,122M338,122L356,140M356,140L375,122M375,122L371,105M337,84L346,111M371,103L371,105M330,123L338,122M357,153L356,140M395,135L375,122M403,289L417,280M403,289L379,281M417,280L404,255M404,255L378,256M379,281L378,256M375,254L378,256M405,216L420,238M420,238L404,255M371,294L355,292M371,294L379,281M488,201L505,214M488,201L476,208M505,214L504,234M504,234L471,226M471,226L476,208M427,187L442,195M420,238L445,239M445,239L442,195M474,168L450,193M474,168L489,190M489,190L488,201M476,208L450,193M473,276L497,260M473,276L448,264M497,260L454,240M448,264L448,241M454,240L448,241M477,313L473,276M498,260L497,260M470,323L467,325M467,325L457,315M446,268L448,264M505,237L504,234M471,226L454,240M421,281L417,280M445,239L448,241M450,193L442,195M41,79L24,101M41,79L58,94M24,101L49,111M58,94L49,111M23,102L24,101M56,133L49,111M173,11L158,9M150,-14L158,9M147,40L131,28M158,9L131,28M251,220L238,214M216,241L216,224M238,214L216,224M254,176L229,187M238,214L229,187M212,165L229,187M229,187L229,187M88,117L88,94M58,94L80,88M80,88L88,94M121,93L109,85M88,94L109,85M126,63L157,78M126,63L111,74M109,85L111,74M126,63L126,33M131,28L130,28M126,33L130,28M111,74L94,47M126,33L94,47M122,-12L127,23M130,28L127,23M516,352L520,345M516,352L523,370M520,345L557,345M523,370L548,370M548,370L557,345M516,331L520,345M558,344L557,345M556,392L548,370M522,407L512,402M509,389L512,402M509,389L523,370M586,385L593,371M509,389L479,369M516,352L476,356M479,369L476,356M466,329L467,325M466,329L473,352M473,352L476,356M439,462L453,440M449,488L490,475M453,440L490,475M512,463L510,463M512,402L489,419M489,419L510,463M452,592L492,476M492,476L490,475M511,489L501,473M492,476L501,473M501,473L510,463M159,375L175,390M202,376L186,391M186,391L175,390M218,373L222,401M222,401L200,426M186,391L200,426M139,405L163,407M175,390L163,407M124,478L143,473M143,473L170,484M246,412L252,428M246,412L250,395M252,428L271,420M271,420L286,394M250,395L275,383M275,383L286,390M286,394L286,390M226,365L250,395M222,401L246,412M269,369L275,383M301,382L286,390M378,408L344,403M378,408L380,414M380,414L355,447M344,403L346,436M346,436L355,447M328,344L352,358M329,387L335,392M335,392L347,381M352,358L347,381M335,392L335,392M335,392L344,403M383,395L376,380M383,395L378,408M347,381L376,380M654,30L642,18M654,30L684,22M642,18L656,-4M656,-4L671,0M671,0L685,19M685,19L684,22M636,18L642,18M636,18L624,39M651,51L654,30M681,57L684,22M636,18L617,3M617,3L622,-9M649,-15L656,-4M690,-30L671,0M698,17L685,19M575,-3L570,8M575,-3L587,-9M570,8L602,23M587,-9L612,5M612,5L602,23M544,-49L575,-3M535,-32L534,-2M534,-2L568,10M568,10L570,8M577,38L603,39M577,38L565,20M603,39L602,23M565,20L568,10M617,3L612,5M604,40L603,39M534,-2L525,9M565,20L541,38M541,38L525,9M601,65L598,67M577,38L567,57M567,57L598,67M694,150L691,149M707,114L671,114M691,149L671,120M671,120L671,114M669,100L669,111M671,114L669,111M691,149L663,169M671,120L649,151M663,169L649,151M684,194L663,180M663,169L663,180M646,210L658,184M658,184L663,180M627,382L643,360M627,382L630,396M630,396L662,389M662,389L656,361M643,360L653,359M653,359L656,361M621,345L643,360M604,370L627,382M629,398L630,396M676,401L662,389M684,359L656,361M655,338L653,359M206,202L206,215M206,202L186,186M206,215L181,226M186,186L162,207M162,207L181,226M229,187L206,202M216,224L206,215M186,186L186,186M182,245L181,226M156,206L162,207M12,69L33,65M25,27L35,39M35,39L33,65M41,79L41,72M41,72L33,65M383,395L411,389M380,414L406,430M411,389L406,430M398,455L406,430M372,462L357,454M357,454L355,447M406,430L406,430M172,488L208,482M219,498L208,482M143,473L157,444M170,484L177,462M177,462L157,444M163,407L168,428M200,426L200,427M168,428L200,427M130,431L156,439M168,428L156,439M156,439L157,444M309,470L338,467M309,470L341,599M338,467L354,545M357,454L338,467M298,469L288,460M298,469L309,470M309,470L318,433M288,460L293,431M293,431L309,422M318,433L310,422M310,422L309,422M283,488L298,469M309,470L309,470M346,436L318,433M252,428L246,444M271,420L293,431M246,444L251,452M251,452L288,460M286,394L309,422M335,392L310,422M352,358L370,347M376,380L385,357M385,357L370,347M371,294L377,314M403,289L400,316M400,316L377,314M358,327L365,328M370,347L365,328M377,314L365,328M431,31L470,24M457,68L444,71M457,68L477,48M477,48L470,24M457,-11L470,22M497,-8L502,7M470,22L502,7M470,22L470,24M525,9L510,11M502,7L510,11M638,212L619,195M600,230L592,218M619,195L592,218M658,184L621,182M619,195L621,182M560,240L592,218M592,218L592,218M457,68L480,90M452,110L470,123M480,90L471,122M470,123L471,122M452,147L463,145M470,123L463,145M474,168L474,160M474,160L463,145M631,135L641,114M631,135L604,132M605,108L601,124M605,108L625,99M625,99L641,114M604,132L601,124M669,111L641,114M642,149L649,151M642,149L631,135M630,85L625,99M598,67L590,86M590,86L605,108M80,88L78,81M94,47L90,47M90,47L78,81M41,72L59,65M78,81L59,65M35,39L65,41M59,65L65,41M433,383L465,397M433,383L426,388M426,388L440,427M465,397L466,418M466,418L452,432M452,432L440,427M479,369L465,397M473,352L435,377M435,377L433,383M411,389L412,388M412,388L426,388M406,430L440,427M489,419L466,418M453,440L452,432M226,495L250,457M250,457L262,493M251,452L250,457M208,476L238,444M208,476L192,455M192,455L202,430M238,444L202,430M208,482L208,476M246,444L238,444M177,462L192,455M200,427L202,430M400,358L394,356M400,358L424,352M394,356L405,319M431,343L405,319M431,343L424,352M405,319L405,319M412,388L400,358M385,357L394,356M435,377L424,352M400,316L405,319M466,329L431,343M431,306L405,319M550,63L548,84M550,63L539,48M539,48L506,51M548,84L546,85M546,85L509,86M501,54L506,51M501,54L505,83M505,83L509,86M567,57L550,63M561,94L590,86M561,94L548,84M541,38L539,48M510,11L506,51M477,48L501,54M480,90L505,83M602,139L579,162M602,139L619,169M619,169L617,176M617,176L589,176M579,162L589,176M642,149L619,169M604,132L602,139M621,182L617,176M592,218L582,207M582,207L589,176M546,85L527,122M509,86L508,117M508,117L527,122M471,122L502,121M508,117L502,121M474,160L507,156M502,121L507,156M563,104L580,122M563,104L549,125M580,122L560,146M549,125L560,146M561,94L563,104M601,124L580,122M527,122L527,122M527,122L549,125M579,162L559,158M559,158L560,146M66,40L82,41M66,40L59,10M82,41L90,12M70,1L59,10M70,1L89,10M89,10L90,12M90,47L82,41M65,41L66,40M32,8L59,10M127,23L90,12M69,-12L70,1M104,-12L89,10M549,164L530,157M549,164L547,200M526,201L544,202M526,201L510,182M510,182L516,160M544,202L547,200M516,160L530,157M559,158L549,164M527,122L530,157M582,207L547,200M505,214L526,201M543,214L544,202M489,190L510,182M507,156L516,160" fill="none" stroke="#000" stroke-width="1.1" stroke-opacity="0.85"/>
</svg>
<svg x="237.5" y="517.6" width="694.1" height="478.7" viewBox="0 0 694.1 478.7" preserveAspectRatio="none" overflow="hidden">
<rect width="694.1" height="478.7" fill="#8a60c0"/>
<g transform="translate(-5.75,-5.75) scale(0.5)">
<path d="M1103 98l0 12l10 -2z" fill="#a0c070" fill-rule="evenodd"/>
<path d="M656 955l-42 2l0 23l42 0zM430 953l-20 15l0 12l20 0zM254 495l0 12l3 7l30 18l9 10l-6 -9l-33 -26l0 -12z" fill="#5a20ff" fill-rule="evenodd"/>
<path d="M709 849l12 37l0 16l-10 24l10 5l0 49l136 0l0 -13l-15 -30l-23 -20l-39 -42l-11 -8l-18 -28l-9 -7l-6 7l-15 1l-1 6zM1319 692l-16 2l-23 -9l-82 82l-34 42l-30 47l0 30l-18 74l-1 20l296 0l0 -87l-168 0l-9 -9l1 -12l37 -48l72 -75l-25 -50zM1181 650l-6 -5l-7 6l-15 1l-2 21l-6 6l-17 7l-2 8l-33 31l1 19l-25 24l27 9l54 -65l31 -31zM784 697l20 22l13 -3l12 1l23 27l2 13l33 -2l15 12l46 -12l55 -3l-20 -19l0 -14l8 -7l39 -6l-20 -9l-6 -6l-5 -16l0 -11l12 -13l-13 0l-9 -8l-14 -23l-10 -7l-7 -24l-28 -1l-8 -8l-30 5l-23 29z" fill="#1a30ff" fill-rule="evenodd"/>
<path d="M24 0l0 12l51 51l105 0l21 -3l8 -8l16 -26l4 -14l0 -12z" fill="#ff9a70" fill-rule="evenodd"/>
<path d="M233 0l-3 0l0 12l-4 14l-16 25l21 -20l17 -6l-15 -13z" fill="#ff90b0" fill-rule="evenodd"/>
<path d="M76 64l26 27l0 70l-29 28l4 10l109 39l45 27l56 47l27 7l4 -5l0 -20l35 -16l41 -41l30 -42l7 -6l-7 -6l-9 -1l-15 -36l-12 -51l-11 -4l-25 -18l-48 -43l-55 -6l-7 6l-11 2l-30 29l-21 3z" fill="#3070ff" fill-rule="evenodd"/>
<path d="M234 0l0 12l15 11l59 8l44 41l25 18l11 4l13 -2l29 -20l11 -4l2 -6l-7 -62z" fill="#ff30f0" fill-rule="evenodd"/>
<path d="M468 186l6 0l0 -4l57 -55l76 -68l5 5l9 0l2 -20l-3 -12l7 -7l6 -12l0 -13l-196 0l7 57l-2 13l14 31l17 57l-4 11z" fill="#a020ff" fill-rule="evenodd"/>
<path d="M437 69l-36 24l-12 2l12 51l14 35l9 1l8 7l28 1l6 -4l6 -28l-17 -57l-14 -32z" fill="#9a20ff" fill-rule="evenodd"/>
<path d="M622 67l-10 -2l-5 -5l-76 68l-56 54l0 4l16 5l6 -8l132 -99z" fill="#ff4070" fill-rule="evenodd"/>
<path d="M628 85l-136 103l0 3l35 37l4 8l33 -25l104 -65l-23 -29l6 -6l-17 -12z" fill="#a020ff" fill-rule="evenodd"/>
<path d="M634 0l0 13l-6 12l-7 7l3 12l0 14l-3 7l9 15l-1 5l6 14l16 11l14 1l28 -9l13 4l2 -14l31 -7l14 -14l-21 -47l-15 -8l4 -16z" fill="#ff1a1a" fill-rule="evenodd"/>
<path d="M710 158l-6 -6l-11 -2l-1 -3l-21 -2l-107 67l-33 25l8 31l9 1l6 -4l30 13l5 10l8 7l38 2l33 -67l20 -26l13 -9l-9 -21l11 -4l1 -11z" fill="#ff4a6a" fill-rule="evenodd"/>
<path d="M487 189l-20 -3l-7 5l-29 -1l-36 47l-41 40l28 41l22 23l43 15l24 -19l2 -16l63 -44l3 -8l-13 -41z" fill="#ff90d0" fill-rule="evenodd"/>
<path d="M597 296l-9 -8l-4 -9l-30 -13l-6 4l-8 0l-5 9l-62 43l-1 15l7 -1l79 14l10 -5l2 -21l-3 -8l26 -12z" fill="#80ff30" fill-rule="evenodd"/>
<path d="M568 316l3 8l-2 22l18 23l10 7l46 17l17 9l9 2l4 -3l-5 -14l3 -29l-16 -23l-19 -37l-38 -2l-5 9z" fill="#ffc0a0" fill-rule="evenodd"/>
<path d="M449 355l4 9l0 50l31 5l-9 84l6 1l5 -12l5 1l3 11l58 -23l18 0l27 5l36 -5l3 9l6 2l-4 -12l16 -2l0 -14l12 -60l-69 -27l-14 -11l-15 -20l-12 5l-77 -14l-10 2z" fill="#1a30ff" fill-rule="evenodd"/>
<path d="M78 201l-4 2l-2 36l17 53l25 38l4 99l14 25l-1 4l51 -2l5 -20l43 -33l0 -38l10 -5l4 -12l0 -11l40 -27l-53 -44l-45 -27z" fill="#ff2a10" fill-rule="evenodd"/>
<path d="M0 0l0 432l116 -3l-3 -99l-25 -38l-17 -53l2 -36l4 -3l-8 -17l-17 -20l0 -122l-29 -29l0 -12z" fill="#d0ff90" fill-rule="evenodd"/>
<path d="M53 42l0 121l21 25l27 -27l0 -70z" fill="#ffc030" fill-rule="evenodd"/>
<path d="M319 294l0 20l-4 6l9 10l4 13l13 1l10 -8l51 8l1 -3l-22 -23l-28 -39z" fill="#30c8ff" fill-rule="evenodd"/>
<path d="M323 330l-10 -11l-28 -7l-5 1l-35 24l-3 20l5 2l12 -5l60 -3l8 -7z" fill="#3a40ff" fill-rule="evenodd"/>
<path d="M231 365l0 38l-2 3l31 37l20 45l28 -12l6 11l19 0l3 -10l3 -1l35 14l2 -6l-1 -41l-22 -60l-22 -38l-3 -1l-9 8l-60 3l-12 5l-5 -2l-4 5z" fill="#ffc070" fill-rule="evenodd"/>
<path d="M332 345l13 19l13 28l17 50l7 -4l5 -28l64 -10l1 -36l-4 -8l-43 -14l-8 3l-46 -8l-10 8z" fill="#f0ff20" fill-rule="evenodd"/>
<path d="M451 401l-64 10l-4 27l-7 5l0 48l23 2l33 -3l14 3l4 -10z" fill="#ffa030" fill-rule="evenodd"/>
<path d="M451 415l0 68l-4 10l13 5l5 -11l7 0l-2 14l3 1l3 -9l7 -74z" fill="#ff2040" fill-rule="evenodd"/>
<path d="M188 436l-5 21l13 38l15 -4l50 3l18 -5l-20 -46l-28 -35l-3 -1z" fill="#8a60ff" fill-rule="evenodd"/>
<path d="M131 454l-14 -25l-117 4l0 46l39 7l38 -6l17 0l15 5l7 -24l14 -1z" fill="#ff6060" fill-rule="evenodd"/>
<path d="M195 495l-13 -38l-65 4l-7 23l22 13l6 -10l44 0l5 11z" fill="#3030ff" fill-rule="evenodd"/>
<path d="M714 401l-40 0l-7 5l-12 58l0 14l39 10l8 -36l-5 -34l11 -4l9 -9z" fill="#ff2040" fill-rule="evenodd"/>
<path d="M718 16l15 8l21 47l5 0l17 10l30 8l12 -3l43 -34l42 -11l54 6l11 4l4 -18l1 -33l-251 0z" fill="#20ff20" fill-rule="evenodd"/>
<path d="M974 0l-1 33l-4 18l9 12l46 0l69 5l0 -68z" fill="#ff60d0" fill-rule="evenodd"/>
<path d="M737 164l-6 -13l8 -65l-31 7l-2 14l-13 -4l-28 9l-13 -1l-6 6l21 28l19 -1l6 2l1 3l11 2l7 7l15 7z" fill="#2aa0ff" fill-rule="evenodd"/>
<path d="M805 89l-29 -7l-17 -10l-6 0l-13 13l-8 66l6 13l11 1l17 -8l28 -29z" fill="#ffd8a0" fill-rule="evenodd"/>
<path d="M1102 107l-7 1l-7 5l-9 43l-6 8l-24 21l-35 6l58 3l21 -23l5 -30l-1 -18l6 -11zM969 52l-12 -4l-54 -6l-42 11l-43 34l-12 3l-11 38l-29 30l-19 10l1 12l9 16l34 41l23 -5l25 -10l9 7l20 -1l5 -16l43 -52l18 -8l19 5l59 34l-21 -24l-3 -50l-4 -1l-12 -13l-6 -36l10 -1l1 -3z" fill="#ffa020" fill-rule="evenodd"/>
<path d="M1092 109l-57 -2l-45 10l2 50l21 24l36 -7l28 -25l10 -46z" fill="#ffd820" fill-rule="evenodd"/>
<path d="M967 67l7 39l15 11l46 -11l42 2l25 -2l0 -11l-11 -26l-67 -5l-46 0l-2 3z" fill="#ff6090" fill-rule="evenodd"/>
<path d="M705 159l-1 11l-11 4l9 21l-13 9l-20 26l-33 67l20 38l16 23l-3 29l4 13l41 0l4 4l7 0l17 -7l25 -26l6 -1l0 -9l19 -40l8 -34l-7 -12l-3 -38l-34 -41l-9 -16l-1 -11l-7 -4l-13 1l-11 -6z" fill="#d8b8ff" fill-rule="evenodd"/>
<path d="M918 159l-44 53l-4 16l29 26l52 31l31 25l2 7l9 2l10 -4l6 14l9 2l81 -77l-1 -5l-18 -19l0 -17l-8 -18l-60 -3l-59 -34l-19 -5z" fill="#a0ff60" fill-rule="evenodd"/>
<path d="M850 230l-5 6l-2 29l18 -7l22 26l-51 4l-8 -7l-23 6l-8 34l-19 40l0 9l33 19l12 1l10 -4l22 14l3 6l36 11l5 7l8 -1l40 -31l5 -12l0 -9l29 -49l6 -5l0 -4l-32 -27l-52 -31l-28 -25z" fill="#ff4a6a" fill-rule="evenodd"/>
<path d="M1129 257l-20 3l-10 -5l-4 2l-41 43l-39 34l-6 34l-35 44l-11 -1l5 4l6 25l21 -1l29 -7l20 5l25 -2l90 -95l6 0l2 -23l-52 -40l14 -12z" fill="#20ffa0" fill-rule="evenodd"/>
<path d="M1073 193l8 20l0 17l18 19l1 6l9 4l12 -3l9 1l49 -29l-3 -5l-46 -22l-24 -5l-4 -18l-9 -5z" fill="#40f0ff" fill-rule="evenodd"/>
<path d="M1112 109l-8 3l-6 11l1 18l-6 31l10 6l3 17l19 3l13 6l3 -14l2 -68l-7 -12z" fill="#40a0ff" fill-rule="evenodd"/>
<path d="M1138 109l6 13l-2 68l-3 14l37 18l4 6l27 -2l1 -19l27 -47l8 -8l-6 -7l1 -6l-7 -14l-16 -14l-16 -5l-40 -1z" fill="#6040ff" fill-rule="evenodd"/>
<path d="M1094 0l-1 69l10 28l11 11l23 1l5 -3l17 -2l30 0l26 6l-1 -9l4 -20l16 -54l2 -27zM1159 20l-3 61l-25 12l-16 -47l16 -30z" fill="#ff5080" fill-rule="evenodd"/>
<path d="M1159 21l-28 -4l-15 29l15 46l24 -11z" fill="#a040ff" fill-rule="evenodd"/>
<path d="M1216 111l16 14l7 15l6 0l135 -97l19 -22l12 0l0 -21l-174 0l-2 27l-16 54l-4 20z" fill="#a030ff" fill-rule="evenodd"/>
<path d="M1411 22l-12 0l-19 22l-106 78l-29 19l-6 0l0 6l5 5l47 1l88 -12l32 3z" fill="#ff30a0" fill-rule="evenodd"/>
<path d="M1411 145l-32 -3l-88 12l-48 -1l-7 7l-27 47l-1 18l6 7l30 12l78 -4l3 4l54 -15l32 -2z" fill="#f050ff" fill-rule="evenodd"/>
<path d="M1411 228l-32 2l-54 15l-6 6l-10 29l-19 22l-20 -23l-42 30l-3 8l62 115l2 13l11 1l8 -4l29 17l8 0l54 -31l12 0z" fill="#b010ff" fill-rule="evenodd"/>
<path d="M1269 280l-24 -35l-31 -12l-6 -7l-29 3l-47 27l-2 9l-14 12l51 39l18 -3l17 -9l9 8l13 4l5 -9z" fill="#60ff20" fill-rule="evenodd"/>
<path d="M1324 244l-2 -3l-54 4l-19 -2l-3 3l44 55l18 -21l10 -29z" fill="#ff3080" fill-rule="evenodd"/>
<path d="M1168 317l-2 25l15 23l24 24l50 59l13 11l9 -4l11 -10l0 -9l-63 -118l-14 -5l-9 -8l-17 9z" fill="#90ff30" fill-rule="evenodd"/>
<path d="M1070 435l4 8l0 41l6 15l36 -15l55 3l41 -11l15 0l1 15l5 5l14 -1l5 -10l12 7l3 -5l0 -28l-24 -22l-39 -48l-24 -24l-15 -24l-6 0z" fill="#90ff30" fill-rule="evenodd"/>
<path d="M975 441l0 48l24 -1l27 9l6 -10l28 0l4 6l0 12l15 -5l-6 -16l0 -41l-3 -7l-26 2l-20 -5l-29 7z" fill="#80ff40" fill-rule="evenodd"/>
<path d="M943 393l-37 29l-13 5l-1 30l3 3l2 27l5 -10l4 -1l35 13l33 0l0 -48l-3 -3l-4 -23l-14 -6z" fill="#ffd060" fill-rule="evenodd"/>
<path d="M893 422l-3 -4l-36 -11l-10 15l-4 14l-17 -1l-4 2l-7 18l13 9l62 -3l4 -4z" fill="#30ffd0" fill-rule="evenodd"/>
<path d="M770 371l-28 27l-17 7l3 7l6 3l2 13l30 -2l10 36l3 4l5 1l26 -12l6 -16l-6 -6l-3 -43l-30 -18z" fill="#6a9aff" fill-rule="evenodd"/>
<path d="M829 387l-22 5l3 36l6 10l7 -4l16 2l4 -14l10 -14l-2 -7z" fill="#a0ff80" fill-rule="evenodd"/>
<path d="M718 405l-10 10l-10 3l5 27l-3 24l8 2l33 -1l-3 -7l-5 -48l-6 -3l-3 -7z" fill="#d0ff30" fill-rule="evenodd"/>
<path d="M765 426l-29 3l4 39l38 -1z" fill="#ffff20" fill-rule="evenodd"/>
<path d="M810 468l-4 -10l-22 10l-53 4l-31 -2l-5 19l5 8l10 -10l5 0l3 3l0 12l1 -15l27 0l4 11l20 -5l40 3z" fill="#ff30e0" fill-rule="evenodd"/>
<path d="M807 458l4 10l0 28l12 1l15 -3l39 -18l4 1l4 10l11 0l-3 -29l-6 4l-30 3l-32 0l-14 -10z" fill="#90ff40" fill-rule="evenodd"/>
<path d="M1411 429l-12 0l-54 31l-8 0l-29 -17l-8 4l-12 -1l-11 10l-9 4l-2 33l13 5l5 -11l22 0l4 12l30 -6l37 6l17 0l17 -5z" fill="#5020ff" fill-rule="evenodd"/>
<path d="M849 230l-10 -7l-25 10l-22 4l-2 10l3 18l51 -19l0 -10z" fill="#60ff40" fill-rule="evenodd"/>
<path d="M844 247l-51 19l3 16l4 4l25 -6l4 -8l12 -5z" fill="#ffa030" fill-rule="evenodd"/>
<path d="M882 284l-21 -25l-32 14l-3 7l6 7z" fill="#1a40ff" fill-rule="evenodd"/>
<path d="M1003 316l-10 4l-10 -2l-5 4l-29 49l0 8l10 0l31 -33l18 -15z" fill="#ffa0e0" fill-rule="evenodd"/>
<path d="M1014 330l-5 0l-19 17l-31 33l-12 2l-3 11l9 15l21 3l36 -46z" fill="#90ff40" fill-rule="evenodd"/>
<path d="M0 480l0 111l25 0l7 -5l-8 -27l-4 -56l7 -6l0 -12z" fill="#40ff40" fill-rule="evenodd"/>
<path d="M182 488l-44 0l-6 10l-22 -12l-16 -5l-17 0l-34 6l-15 -2l0 12l-7 6l4 56l7 26l11 6l3 -1l1 5l8 9l9 -4l45 -4l31 -9l4 -28l21 -34l9 -10l-4 -12l16 -5z" fill="#5a30f0" fill-rule="evenodd"/>
<path d="M253 495l-42 -3l-40 11l4 12l-9 10l-21 34l-4 27l0 25l9 6l52 -53l54 -49z" fill="#3a40ff" fill-rule="evenodd"/>
<path d="M257 515l-55 50l-53 54l-5 18l-20 21l-5 20l-1 38l-4 4l4 1l46 44l-1 6l11 -15l148 -148l-1 -19l-8 -21l-26 -35z" fill="#ff4020" fill-rule="evenodd"/>
<path d="M323 609l-148 147l-13 17l-18 32l2 3l50 3l43 -19l28 -36l3 -8l-1 -21l3 -14l19 -37l17 -23l7 -16l11 2z" fill="#3a40ff" fill-rule="evenodd"/>
<path d="M113 721l-5 11l4 63l4 10l11 4l16 -3l19 -34l1 -7l-45 -43z" fill="#ff4020" fill-rule="evenodd"/>
<path d="M140 588l-31 9l-45 4l-8 3l-6 15l1 11l-9 4l-1 12l2 2l75 -1l7 8l18 -18l6 -19l-9 -7z" fill="#ffc020" fill-rule="evenodd"/>
<path d="M118 648l-75 1l-3 3l0 24l18 4l0 30l3 7l46 0l5 4l5 -5l1 -38l6 -21z" fill="#d0ff60" fill-rule="evenodd"/>
<path d="M60 717l-2 38l-9 2l4 34l7 6l1 13l10 1l43 -6l-4 -15l-3 -58l4 -11l-4 -3l-44 1z" fill="#ffc030" fill-rule="evenodd"/>
<path d="M46 591l-14 -4l-7 5l-25 0l0 38l33 3l17 -3l-1 -11l5 -15l-8 -9z" fill="#c040ff" fill-rule="evenodd"/>
<path d="M0 631l0 42l39 2l2 -41z" fill="#ff2080" fill-rule="evenodd"/>
<path d="M0 674l0 76l46 0l2 6l9 -1l2 -38l-2 -37l-25 -5z" fill="#f090ff" fill-rule="evenodd"/>
<path d="M0 751l0 43l47 1l5 -4l-6 -40z" fill="#ff90d0" fill-rule="evenodd"/>
<path d="M59 797l-5 -5l-7 4l-47 -1l0 34l17 0l36 6l1 8l5 4l2 -35z" fill="#b050ff" fill-rule="evenodd"/>
<path d="M0 830l0 72l42 -1l-1 -4l13 -13l4 -10l0 -26l-5 -5l0 -7l-36 -6z" fill="#ff6a6a" fill-rule="evenodd"/>
<path d="M454 853l-8 1l-41 24l-146 73l-38 10l0 19l188 0l0 -12l21 -16l9 -18l4 -55l7 -3zM463 790l-6 -13l-2 -14l-19 -1l-3 -23l-4 -5l-30 -3l-40 14l-80 0l-9 4l-2 7l-31 39l-41 17l-50 -3l-1 -2l-18 3l-12 -5l-53 7l-3 60l5 2l3 -3l31 35l22 14l36 34l6 1l95 -55l144 -68l50 -11l8 9l1 -31z" fill="#5a10ff" fill-rule="evenodd"/>
<path d="M459 832l-8 -10l-50 11l-144 68l-95 55l-5 -1l9 13l0 12l54 0l1 -20l38 -10l146 -73l41 -24l8 -1l3 -4z" fill="#ff8a20" fill-rule="evenodd"/>
<path d="M42 897l1 3l10 -1l32 9l11 -2l0 -3l-17 -15l-12 -16l-3 3l-5 -2l-4 11z" fill="#3a50ff" fill-rule="evenodd"/>
<path d="M0 903l0 47l60 3l1 27l104 0l0 -12l-8 -12l-37 -35l-23 -15l-12 3l-32 -9z" fill="#ff3020" fill-rule="evenodd"/>
<path d="M0 951l0 29l60 0l0 -26z" fill="#40ffd0" fill-rule="evenodd"/>
<path d="M270 746l89 -2l38 -13l-4 -27l3 -6l-13 -3l-6 -12l-50 -43l-7 0l-4 -3l-43 76z" fill="#ff30a0" fill-rule="evenodd"/>
<path d="M409 551l-30 1l-31 44l-18 11l-1 -8l-5 -2l3 42l46 41l40 -56l7 -2l6 -6l-2 -25l-10 -3z" fill="#3a40ff" fill-rule="evenodd"/>
<path d="M378 552l-42 5l-22 12l9 26l7 4l0 7l19 -12z" fill="#ff4020" fill-rule="evenodd"/>
<path d="M427 615l-7 8l-6 1l-38 54l7 16l18 4l27 -38l19 -8l-10 -30z" fill="#ff4a20" fill-rule="evenodd"/>
<path d="M447 653l-17 6l-28 39l5 4l26 2l2 10l14 3l14 -27l0 -23l-6 -9z" fill="#4050ff" fill-rule="evenodd"/>
<path d="M258 495l0 12l34 27l22 34l22 -12l31 -5l44 -1l-34 -46l1 -12l-41 -15l-4 11l-19 0l-6 -11l-29 13z" fill="#5a40ff" fill-rule="evenodd"/>
<path d="M455 497l-23 -6l-53 2l-1 11l34 44l34 -24z" fill="#ffb820" fill-rule="evenodd"/>
<path d="M472 488l-7 0l-4 10l-6 0l-8 26l-35 25l3 39l11 2l6 -7l36 -67l4 -13l-3 -2z" fill="#ffa040" fill-rule="evenodd"/>
<path d="M831 518l-6 4l-7 17l-57 0l-19 -22l-5 -14l-20 -1l-2 -14l-5 0l-11 10l-5 -9l-11 -2l-6 10l-2 10l-29 0l-3 -13l-8 -4l-2 -8l-25 5l-56 -5l-55 23l-4 -1l-3 -11l-4 0l-5 12l-9 -1l-12 30l-30 54l-5 3l2 23l11 8l10 30l9 5l7 10l0 23l-14 27l5 2l1 47l8 26l15 1l7 -4l36 18l37 41l15 33l33 29l9 -1l19 -13l10 0l11 -4l8 -28l31 -16l13 -3l0 -3l28 -4l5 -5l0 -4l-9 -19l-1 -40l-16 -3l-11 5l-11 -25l11 -5l-13 0l-1 -21l3 -10l-10 -6l-2 -43l7 -1l9 -7l12 0l1 -4l16 -6l15 6l18 -2l34 -19l38 -13l28 -20l23 -23l-7 2l-30 -17l-21 -34l5 -1zM548 630l-69 58l-11 -4l68 -62zM657 544l8 8l-37 62l-8 -8z" fill="#30ff30" fill-rule="evenodd"/>
<path d="M547 630l-11 -7l-67 61l10 3z" fill="#ffa090" fill-rule="evenodd"/>
<path d="M657 545l-36 61l7 7l36 -61z" fill="#ff4070" fill-rule="evenodd"/>
<path d="M464 793l-3 6l-3 49l-5 9l-2 19l17 8l81 17l15 -6l9 -15l-15 -32l-32 -36l-40 -22l-7 4z" fill="#9a60ff" fill-rule="evenodd"/>
<path d="M444 879l-2 46l-11 26l0 29l117 0l-1 -80l-71 -13l-17 -5l-7 -5z" fill="#d080ff" fill-rule="evenodd"/>
<path d="M574 882l-10 14l-15 6l0 78l64 0l0 -24l-8 -10l-3 -27l4 -9z" fill="#3a80ff" fill-rule="evenodd"/>
<path d="M658 891l-13 6l-10 0l-19 13l-10 1l-3 8l3 27l8 10l42 -3l12 -13l-3 -43z" fill="#ff3070" fill-rule="evenodd"/>
<path d="M720 843l-12 0l0 3l-13 3l-31 16l-5 25l7 7l3 43l-13 14l1 26l63 0l0 -49l-10 -5l8 -16l2 -24l-12 -37z" fill="#1a20ff" fill-rule="evenodd"/>
<path d="M639 480l7 26l29 0l6 -20l-19 -7z" fill="#ff2040" fill-rule="evenodd"/>
<path d="M394 701l4 30l27 2l6 -2l-2 -15l7 0l-3 -11l-26 -2l-5 -4z" fill="#ff80f0" fill-rule="evenodd"/>
<path d="M430 716l2 10l-2 8l4 5l3 23l18 0l-1 -43z" fill="#ffa090" fill-rule="evenodd"/>
<path d="M719 488l2 2l-1 12l17 0l4 12l20 24l57 0l6 -16l9 -7l-7 -18l-56 -3l-20 5l-4 -11z" fill="#ff30f0" fill-rule="evenodd"/>
<path d="M758 649l-17 2l-15 -6l-16 6l-1 4l-12 0l-9 7l-6 0l2 43l10 6l-3 10l1 21l13 0l-11 5l10 24l11 -5l17 4l53 -38l13 -6l5 -6l-1 -4l-19 -19l-17 -4l-9 5l-1 -40z" fill="#ff60e0" fill-rule="evenodd"/>
<path d="M884 574l-25 23l-28 20l-38 13l-32 17l-4 11l1 40l8 -6l11 4l12 -3l79 -79l23 -29z" fill="#ff3080" fill-rule="evenodd"/>
<path d="M829 718l-12 -1l-13 3l-6 7l-13 6l-53 38l1 39l9 21l8 7l35 -18l26 -20l28 -7l4 2l1 -26l9 -10l-1 -13z" fill="#5a20ff" fill-rule="evenodd"/>
<path d="M868 815l-10 -1l-16 -13l1 -5l-4 -2l-28 7l-23 18l-36 22l18 26l10 7l4 -8l12 -8l26 -12l38 -10z" fill="#ff7020" fill-rule="evenodd"/>
<path d="M887 756l-33 2l-9 11l-2 32l18 14l11 -2l4 -7l26 -20l0 -18z" fill="#ff4090" fill-rule="evenodd"/>
<path d="M1097 779l-57 -20l-14 1l-19 -7l-59 3l-45 12l0 18l-28 22l-15 29l-38 10l-37 19l-4 9l24 27l38 35l15 30l0 13l256 0l1 -20l18 -74l0 -30l-14 -5l-12 -55z" fill="#ff3030" fill-rule="evenodd"/>
<path d="M1231 638l-32 4l-17 8l0 31l-31 31l-54 64l11 20l12 55l15 3l28 -45l34 -42l81 -80l1 -3l-4 -6l-12 -10l-2 -5z" fill="#ff3a8a" fill-rule="evenodd"/>
<path d="M1358 752l-14 -2l-71 74l-38 50l0 10l6 7l80 1l1 -39l42 0l-5 -95l2 -3z" fill="#ff50a0" fill-rule="evenodd"/>
<path d="M1411 745l-13 0l-35 9l-3 3l5 96l46 0z" fill="#3080ff" fill-rule="evenodd"/>
<path d="M1411 689l-13 0l-54 28l-13 3l13 28l12 2l6 4l36 -10l13 0z" fill="#ff2020" fill-rule="evenodd"/>
<path d="M1411 652l-12 0l-26 16l-49 20l-4 4l0 7l10 20l14 -3l54 -28l13 0z" fill="#50a8ff" fill-rule="evenodd"/>
<path d="M1322 854l0 38l89 0l0 -38z" fill="#40ff40" fill-rule="evenodd"/>
<path d="M1276 527l-4 6l5 22l-6 75l-9 34l19 21l22 8l15 -1l9 -7l46 -18l26 -16l12 0l0 -102l-39 -3l-58 -13l-29 -2z" fill="#f4fff4" fill-rule="evenodd"/>
<path d="M1267 513l-8 7l-1 5l-56 14l-12 -5l-8 2l2 3l15 -1l4 36l-28 1l28 55l-8 4l0 8l36 -5l30 25l9 -32l6 -75l-5 -20l5 -10z" fill="#d0ffe0" fill-rule="evenodd"/>
<path d="M1264 503l2 9l5 3l6 11l8 4l29 2l58 13l39 3l0 -53l-17 5l-17 0l-37 -6l-30 6l-4 -12l-22 0l-5 11l-10 -4z" fill="#6a20ff" fill-rule="evenodd"/>
<path d="M1086 497l-22 9l-17 -1l-4 12l0 14l-23 10l4 9l-33 0l9 56l-13 1l-11 14l20 28l17 1l27 -9l4 -6l30 -13l-1 -20l19 -26l46 -3l2 9l0 -8l5 -1l4 -8l-10 -4l-7 -7l-14 -22l-17 -5l-3 -12l-8 -8z" fill="#a060ff" fill-rule="evenodd"/>
<path d="M961 550l4 27l-7 11l8 25l10 6l11 -13l12 0l-9 -56z" fill="#c090ff" fill-rule="evenodd"/>
<path d="M1138 574l-46 3l-18 25l2 20l63 3l1 -42z" fill="#ff8050" fill-rule="evenodd"/>
<path d="M1041 640l4 15l12 17l49 10l15 0l6 4l18 -8l6 -7l2 -20l-13 -14l0 -11l-62 -2l-3 -2l-31 14z" fill="#40ff40" fill-rule="evenodd"/>
<path d="M1000 664l3 23l7 9l21 10l16 2l13 6l15 16l16 -2l35 -36l0 -6l-5 -3l-15 0l-49 -10l-13 -18l-4 -13l-28 9z" fill="#ff4090" fill-rule="evenodd"/>
<path d="M983 721l1 12l20 19l22 7l14 -1l25 9l29 -25l-2 -13l-17 2l-15 -16l-18 -7l-13 -1l-38 6z" fill="#ff4090" fill-rule="evenodd"/>
<path d="M1150 566l-5 8l-4 0l0 63l12 13l15 0l7 -8l-11 -50l-6 -11l7 -5z" fill="#7040ff" fill-rule="evenodd"/>
<path d="M1159 581l6 11l11 53l6 4l12 -6l0 -9l8 -4l-28 -55z" fill="#ffa040" fill-rule="evenodd"/>
<path d="M825 524l22 35l28 15l9 -1l7 11l31 -5l10 -32l-5 -8l-92 -24l-6 9z" fill="#a0ff30" fill-rule="evenodd"/>
<path d="M827 497l2 9l7 9l28 5l61 18l3 -2l-2 -22l-24 -26l0 -8l-3 8l-14 0l-5 -11l-34 15z" fill="#30ffd0" fill-rule="evenodd"/>
<path d="M903 477l0 11l22 22l5 21l10 2l12 -4l1 -6l11 -1l-1 -12l-4 -7l0 -12l-18 -1z" fill="#ffd080" fill-rule="evenodd"/>
<path d="M960 491l0 12l4 7l1 11l6 5l39 4l9 11l23 -10l0 -14l4 -12l-15 -4l-4 10l-24 0l-2 -4l2 -17z" fill="#a0ff40" fill-rule="evenodd"/>
<path d="M953 524l0 6l8 1l0 18l63 0l-14 -18l-39 -4l-6 -5l-4 3z" fill="#30ffd0" fill-rule="evenodd"/>
<path d="M960 531l-9 -1l-11 4l-11 -2l-1 7l5 8l-10 31l5 8l30 1l4 -5l2 -9l-4 -23z" fill="#8a8aff" fill-rule="evenodd"/>
<path d="M1232 496l-5 -5l0 -14l-15 0l-41 11l-55 -3l-29 13l4 9l8 8l3 12l5 -1l12 5l3 -3l39 -2l2 -3l50 -20l12 -1z" fill="#70ff30" fill-rule="evenodd"/>
<path d="M1170 535l-6 -9l-42 3l-3 3l14 22l17 11l8 -8l-4 -15l11 -1z" fill="#ff8030" fill-rule="evenodd"/>
<path d="M1155 542l4 15l-7 8l11 9l39 0l-4 -36l-14 2l-5 -5l-8 0l-6 7z" fill="#60f0ff" fill-rule="evenodd"/>
<path d="M1268 495l-16 -9l-5 10l-16 1l-6 6l-12 1l-50 21l8 9l19 -1l12 5l56 -14l0 -4l7 -7l-2 -10z" fill="#ffffa0" fill-rule="evenodd"/>
<path d="M1063 493l-3 -5l-28 0l-7 10l-21 -8l-1 20l24 0l4 -10l17 5l15 0z" fill="#30ffd0" fill-rule="evenodd"/>
<path d="M1103 98l0 12l10 -2zM656 955l-42 2l0 23l42 0zM430 953l-20 15l0 12l20 0zM254 495l0 12l3 7l30 18l9 10l-6 -9l-33 -26l0 -12zM709 849l12 37l0 16l-10 24l10 5l0 49l136 0l0 -13l-15 -30l-23 -20l-39 -42l-11 -8l-18 -28l-9 -7l-6 7l-15 1l-1 6zM1319 692l-16 2l-23 -9l-82 82l-34 42l-30 47l0 30l-18 74l-1 20l296 0l0 -87l-168 0l-9 -9l1 -12l37 -48l72 -75l-25 -50zM1181 650l-6 -5l-7 6l-15 1l-2 21l-6 6l-17 7l-2 8l-33 31l1 19l-25 24l27 9l54 -65l31 -31zM784 697l20 22l13 -3l12 1l23 27l2 13l33 -2l15 12l46 -12l55 -3l-20 -19l0 -14l8 -7l39 -6l-20 -9l-6 -6l-5 -16l0 -11l12 -13l-13 0l-9 -8l-14 -23l-10 -7l-7 -24l-28 -1l-8 -8l-30 5l-23 29zM24 0l0 12l51 51l105 0l21 -3l8 -8l16 -26l4 -14l0 -12zM233 0l-3 0l0 12l-4 14l-16 25l21 -20l17 -6l-15 -13zM76 64l26 27l0 70l-29 28l4 10l109 39l45 27l56 47l27 7l4 -5l0 -20l35 -16l41 -41l30 -42l7 -6l-7 -6l-9 -1l-15 -36l-12 -51l-11 -4l-25 -18l-48 -43l-55 -6l-7 6l-11 2l-30 29l-21 3zM234 0l0 12l15 11l59 8l44 41l25 18l11 4l13 -2l29 -20l11 -4l2 -6l-7 -62zM468 186l6 0l0 -4l57 -55l76 -68l5 5l9 0l2 -20l-3 -12l7 -7l6 -12l0 -13l-196 0l7 57l-2 13l14 31l17 57l-4 11zM437 69l-36 24l-12 2l12 51l14 35l9 1l8 7l28 1l6 -4l6 -28l-17 -57l-14 -32zM622 67l-10 -2l-5 -5l-76 68l-56 54l0 4l16 5l6 -8l132 -99zM628 85l-136 103l0 3l35 37l4 8l33 -25l104 -65l-23 -29l6 -6l-17 -12zM634 0l0 13l-6 12l-7 7l3 12l0 14l-3 7l9 15l-1 5l6 14l16 11l14 1l28 -9l13 4l2 -14l31 -7l14 -14l-21 -47l-15 -8l4 -16zM710 158l-6 -6l-11 -2l-1 -3l-21 -2l-107 67l-33 25l8 31l9 1l6 -4l30 13l5 10l8 7l38 2l33 -67l20 -26l13 -9l-9 -21l11 -4l1 -11zM487 189l-20 -3l-7 5l-29 -1l-36 47l-41 40l28 41l22 23l43 15l24 -19l2 -16l63 -44l3 -8l-13 -41zM597 296l-9 -8l-4 -9l-30 -13l-6 4l-8 0l-5 9l-62 43l-1 15l7 -1l79 14l10 -5l2 -21l-3 -8l26 -12zM568 316l3 8l-2 22l18 23l10 7l46 17l17 9l9 2l4 -3l-5 -14l3 -29l-16 -23l-19 -37l-38 -2l-5 9zM449 355l4 9l0 50l31 5l-9 84l6 1l5 -12l5 1l3 11l58 -23l18 0l27 5l36 -5l3 9l6 2l-4 -12l16 -2l0 -14l12 -60l-69 -27l-14 -11l-15 -20l-12 5l-77 -14l-10 2zM78 201l-4 2l-2 36l17 53l25 38l4 99l14 25l-1 4l51 -2l5 -20l43 -33l0 -38l10 -5l4 -12l0 -11l40 -27l-53 -44l-45 -27zM0 0l0 432l116 -3l-3 -99l-25 -38l-17 -53l2 -36l4 -3l-8 -17l-17 -20l0 -122l-29 -29l0 -12zM53 42l0 121l21 25l27 -27l0 -70zM319 294l0 20l-4 6l9 10l4 13l13 1l10 -8l51 8l1 -3l-22 -23l-28 -39zM323 330l-10 -11l-28 -7l-5 1l-35 24l-3 20l5 2l12 -5l60 -3l8 -7zM231 365l0 38l-2 3l31 37l20 45l28 -12l6 11l19 0l3 -10l3 -1l35 14l2 -6l-1 -41l-22 -60l-22 -38l-3 -1l-9 8l-60 3l-12 5l-5 -2l-4 5zM332 345l13 19l13 28l17 50l7 -4l5 -28l64 -10l1 -36l-4 -8l-43 -14l-8 3l-46 -8l-10 8zM451 401l-64 10l-4 27l-7 5l0 48l23 2l33 -3l14 3l4 -10zM451 415l0 68l-4 10l13 5l5 -11l7 0l-2 14l3 1l3 -9l7 -74zM188 436l-5 21l13 38l15 -4l50 3l18 -5l-20 -46l-28 -35l-3 -1zM131 454l-14 -25l-117 4l0 46l39 7l38 -6l17 0l15 5l7 -24l14 -1zM195 495l-13 -38l-65 4l-7 23l22 13l6 -10l44 0l5 11zM714 401l-40 0l-7 5l-12 58l0 14l39 10l8 -36l-5 -34l11 -4l9 -9zM718 16l15 8l21 47l5 0l17 10l30 8l12 -3l43 -34l42 -11l54 6l11 4l4 -18l1 -33l-251 0zM974 0l-1 33l-4 18l9 12l46 0l69 5l0 -68zM737 164l-6 -13l8 -65l-31 7l-2 14l-13 -4l-28 9l-13 -1l-6 6l21 28l19 -1l6 2l1 3l11 2l7 7l15 7zM805 89l-29 -7l-17 -10l-6 0l-13 13l-8 66l6 13l11 1l17 -8l28 -29zM1102 107l-7 1l-7 5l-9 43l-6 8l-24 21l-35 6l58 3l21 -23l5 -30l-1 -18l6 -11zM969 52l-12 -4l-54 -6l-42 11l-43 34l-12 3l-11 38l-29 30l-19 10l1 12l9 16l34 41l23 -5l25 -10l9 7l20 -1l5 -16l43 -52l18 -8l19 5l59 34l-21 -24l-3 -50l-4 -1l-12 -13l-6 -36l10 -1l1 -3zM1092 109l-57 -2l-45 10l2 50l21 24l36 -7l28 -25l10 -46zM967 67l7 39l15 11l46 -11l42 2l25 -2l0 -11l-11 -26l-67 -5l-46 0l-2 3zM705 159l-1 11l-11 4l9 21l-13 9l-20 26l-33 67l20 38l16 23l-3 29l4 13l41 0l4 4l7 0l17 -7l25 -26l6 -1l0 -9l19 -40l8 -34l-7 -12l-3 -38l-34 -41l-9 -16l-1 -11l-7 -4l-13 1l-11 -6zM918 159l-44 53l-4 16l29 26l52 31l31 25l2 7l9 2l10 -4l6 14l9 2l81 -77l-1 -5l-18 -19l0 -17l-8 -18l-60 -3l-59 -34l-19 -5zM850 230l-5 6l-2 29l18 -7l22 26l-51 4l-8 -7l-23 6l-8 34l-19 40l0 9l33 19l12 1l10 -4l22 14l3 6l36 11l5 7l8 -1l40 -31l5 -12l0 -9l29 -49l6 -5l0 -4l-32 -27l-52 -31l-28 -25zM1129 257l-20 3l-10 -5l-4 2l-41 43l-39 34l-6 34l-35 44l-11 -1l5 4l6 25l21 -1l29 -7l20 5l25 -2l90 -95l6 0l2 -23l-52 -40l14 -12zM1073 193l8 20l0 17l18 19l1 6l9 4l12 -3l9 1l49 -29l-3 -5l-46 -22l-24 -5l-4 -18l-9 -5zM1112 109l-8 3l-6 11l1 18l-6 31l10 6l3 17l19 3l13 6l3 -14l2 -68l-7 -12zM1138 109l6 13l-2 68l-3 14l37 18l4 6l27 -2l1 -19l27 -47l8 -8l-6 -7l1 -6l-7 -14l-16 -14l-16 -5l-40 -1zM1094 0l-1 69l10 28l11 11l23 1l5 -3l17 -2l30 0l26 6l-1 -9l4 -20l16 -54l2 -27zM1159 20l-3 61l-25 12l-16 -47l16 -30zM1159 21l-28 -4l-15 29l15 46l24 -11zM1216 111l16 14l7 15l6 0l135 -97l19 -22l12 0l0 -21l-174 0l-2 27l-16 54l-4 20zM1411 22l-12 0l-19 22l-106 78l-29 19l-6 0l0 6l5 5l47 1l88 -12l32 3zM1411 145l-32 -3l-88 12l-48 -1l-7 7l-27 47l-1 18l6 7l30 12l78 -4l3 4l54 -15l32 -2zM1411 228l-32 2l-54 15l-6 6l-10 29l-19 22l-20 -23l-42 30l-3 8l62 115l2 13l11 1l8 -4l29 17l8 0l54 -31l12 0zM1269 280l-24 -35l-31 -12l-6 -7l-29 3l-47 27l-2 9l-14 12l51 39l18 -3l17 -9l9 8l13 4l5 -9zM1324 244l-2 -3l-54 4l-19 -2l-3 3l44 55l18 -21l10 -29zM1168 317l-2 25l15 23l24 24l50 59l13 11l9 -4l11 -10l0 -9l-63 -118l-14 -5l-9 -8l-17 9zM1070 435l4 8l0 41l6 15l36 -15l55 3l41 -11l15 0l1 15l5 5l14 -1l5 -10l12 7l3 -5l0 -28l-24 -22l-39 -48l-24 -24l-15 -24l-6 0zM975 441l0 48l24 -1l27 9l6 -10l28 0l4 6l0 12l15 -5l-6 -16l0 -41l-3 -7l-26 2l-20 -5l-29 7zM943 393l-37 29l-13 5l-1 30l3 3l2 27l5 -10l4 -1l35 13l33 0l0 -48l-3 -3l-4 -23l-14 -6zM893 422l-3 -4l-36 -11l-10 15l-4 14l-17 -1l-4 2l-7 18l13 9l62 -3l4 -4zM770 371l-28 27l-17 7l3 7l6 3l2 13l30 -2l10 36l3 4l5 1l26 -12l6 -16l-6 -6l-3 -43l-30 -18zM829 387l-22 5l3 36l6 10l7 -4l16 2l4 -14l10 -14l-2 -7zM718 405l-10 10l-10 3l5 27l-3 24l8 2l33 -1l-3 -7l-5 -48l-6 -3l-3 -7zM765 426l-29 3l4 39l38 -1zM810 468l-4 -10l-22 10l-53 4l-31 -2l-5 19l5 8l10 -10l5 0l3 3l0 12l1 -15l27 0l4 11l20 -5l40 3zM807 458l4 10l0 28l12 1l15 -3l39 -18l4 1l4 10l11 0l-3 -29l-6 4l-30 3l-32 0l-14 -10zM1411 429l-12 0l-54 31l-8 0l-29 -17l-8 4l-12 -1l-11 10l-9 4l-2 33l13 5l5 -11l22 0l4 12l30 -6l37 6l17 0l17 -5zM849 230l-10 -7l-25 10l-22 4l-2 10l3 18l51 -19l0 -10zM844 247l-51 19l3 16l4 4l25 -6l4 -8l12 -5zM882 284l-21 -25l-32 14l-3 7l6 7zM1003 316l-10 4l-10 -2l-5 4l-29 49l0 8l10 0l31 -33l18 -15zM1014 330l-5 0l-19 17l-31 33l-12 2l-3 11l9 15l21 3l36 -46zM0 480l0 111l25 0l7 -5l-8 -27l-4 -56l7 -6l0 -12zM182 488l-44 0l-6 10l-22 -12l-16 -5l-17 0l-34 6l-15 -2l0 12l-7 6l4 56l7 26l11 6l3 -1l1 5l8 9l9 -4l45 -4l31 -9l4 -28l21 -34l9 -10l-4 -12l16 -5zM253 495l-42 -3l-40 11l4 12l-9 10l-21 34l-4 27l0 25l9 6l52 -53l54 -49zM257 515l-55 50l-53 54l-5 18l-20 21l-5 20l-1 38l-4 4l4 1l46 44l-1 6l11 -15l148 -148l-1 -19l-8 -21l-26 -35zM323 609l-148 147l-13 17l-18 32l2 3l50 3l43 -19l28 -36l3 -8l-1 -21l3 -14l19 -37l17 -23l7 -16l11 2zM113 721l-5 11l4 63l4 10l11 4l16 -3l19 -34l1 -7l-45 -43zM140 588l-31 9l-45 4l-8 3l-6 15l1 11l-9 4l-1 12l2 2l75 -1l7 8l18 -18l6 -19l-9 -7zM118 648l-75 1l-3 3l0 24l18 4l0 30l3 7l46 0l5 4l5 -5l1 -38l6 -21zM60 717l-2 38l-9 2l4 34l7 6l1 13l10 1l43 -6l-4 -15l-3 -58l4 -11l-4 -3l-44 1zM46 591l-14 -4l-7 5l-25 0l0 38l33 3l17 -3l-1 -11l5 -15l-8 -9zM0 631l0 42l39 2l2 -41zM0 674l0 76l46 0l2 6l9 -1l2 -38l-2 -37l-25 -5zM0 751l0 43l47 1l5 -4l-6 -40zM59 797l-5 -5l-7 4l-47 -1l0 34l17 0l36 6l1 8l5 4l2 -35zM0 830l0 72l42 -1l-1 -4l13 -13l4 -10l0 -26l-5 -5l0 -7l-36 -6zM454 853l-8 1l-41 24l-146 73l-38 10l0 19l188 0l0 -12l21 -16l9 -18l4 -55l7 -3zM463 790l-6 -13l-2 -14l-19 -1l-3 -23l-4 -5l-30 -3l-40 14l-80 0l-9 4l-2 7l-31 39l-41 17l-50 -3l-1 -2l-18 3l-12 -5l-53 7l-3 60l5 2l3 -3l31 35l22 14l36 34l6 1l95 -55l144 -68l50 -11l8 9l1 -31zM459 832l-8 -10l-50 11l-144 68l-95 55l-5 -1l9 13l0 12l54 0l1 -20l38 -10l146 -73l41 -24l8 -1l3 -4zM42 897l1 3l10 -1l32 9l11 -2l0 -3l-17 -15l-12 -16l-3 3l-5 -2l-4 11zM0 903l0 47l60 3l1 27l104 0l0 -12l-8 -12l-37 -35l-23 -15l-12 3l-32 -9zM0 951l0 29l60 0l0 -26zM270 746l89 -2l38 -13l-4 -27l3 -6l-13 -3l-6 -12l-50 -43l-7 0l-4 -3l-43 76zM409 551l-30 1l-31 44l-18 11l-1 -8l-5 -2l3 42l46 41l40 -56l7 -2l6 -6l-2 -25l-10 -3zM378 552l-42 5l-22 12l9 26l7 4l0 7l19 -12zM427 615l-7 8l-6 1l-38 54l7 16l18 4l27 -38l19 -8l-10 -30zM447 653l-17 6l-28 39l5 4l26 2l2 10l14 3l14 -27l0 -23l-6 -9zM258 495l0 12l34 27l22 34l22 -12l31 -5l44 -1l-34 -46l1 -12l-41 -15l-4 11l-19 0l-6 -11l-29 13zM455 497l-23 -6l-53 2l-1 11l34 44l34 -24zM472 488l-7 0l-4 10l-6 0l-8 26l-35 25l3 39l11 2l6 -7l36 -67l4 -13l-3 -2zM831 518l-6 4l-7 17l-57 0l-19 -22l-5 -14l-20 -1l-2 -14l-5 0l-11 10l-5 -9l-11 -2l-6 10l-2 10l-29 0l-3 -13l-8 -4l-2 -8l-25 5l-56 -5l-55 23l-4 -1l-3 -11l-4 0l-5 12l-9 -1l-12 30l-30 54l-5 3l2 23l11 8l10 30l9 5l7 10l0 23l-14 27l5 2l1 47l8 26l15 1l7 -4l36 18l37 41l15 33l33 29l9 -1l19 -13l10 0l11 -4l8 -28l31 -16l13 -3l0 -3l28 -4l5 -5l0 -4l-9 -19l-1 -40l-16 -3l-11 5l-11 -25l11 -5l-13 0l-1 -21l3 -10l-10 -6l-2 -43l7 -1l9 -7l12 0l1 -4l16 -6l15 6l18 -2l34 -19l38 -13l28 -20l23 -23l-7 2l-30 -17l-21 -34l5 -1zM548 630l-69 58l-11 -4l68 -62zM657 544l8 8l-37 62l-8 -8zM547 630l-11 -7l-67 61l10 3zM657 545l-36 61l7 7l36 -61zM464 793l-3 6l-3 49l-5 9l-2 19l17 8l81 17l15 -6l9 -15l-15 -32l-32 -36l-40 -22l-7 4zM444 879l-2 46l-11 26l0 29l117 0l-1 -80l-71 -13l-17 -5l-7 -5zM574 882l-10 14l-15 6l0 78l64 0l0 -24l-8 -10l-3 -27l4 -9zM658 891l-13 6l-10 0l-19 13l-10 1l-3 8l3 27l8 10l42 -3l12 -13l-3 -43zM720 843l-12 0l0 3l-13 3l-31 16l-5 25l7 7l3 43l-13 14l1 26l63 0l0 -49l-10 -5l8 -16l2 -24l-12 -37zM639 480l7 26l29 0l6 -20l-19 -7zM394 701l4 30l27 2l6 -2l-2 -15l7 0l-3 -11l-26 -2l-5 -4zM430 716l2 10l-2 8l4 5l3 23l18 0l-1 -43zM719 488l2 2l-1 12l17 0l4 12l20 24l57 0l6 -16l9 -7l-7 -18l-56 -3l-20 5l-4 -11zM758 649l-17 2l-15 -6l-16 6l-1 4l-12 0l-9 7l-6 0l2 43l10 6l-3 10l1 21l13 0l-11 5l10 24l11 -5l17 4l53 -38l13 -6l5 -6l-1 -4l-19 -19l-17 -4l-9 5l-1 -40zM884 574l-25 23l-28 20l-38 13l-32 17l-4 11l1 40l8 -6l11 4l12 -3l79 -79l23 -29zM829 718l-12 -1l-13 3l-6 7l-13 6l-53 38l1 39l9 21l8 7l35 -18l26 -20l28 -7l4 2l1 -26l9 -10l-1 -13zM868 815l-10 -1l-16 -13l1 -5l-4 -2l-28 7l-23 18l-36 22l18 26l10 7l4 -8l12 -8l26 -12l38 -10zM887 756l-33 2l-9 11l-2 32l18 14l11 -2l4 -7l26 -20l0 -18zM1097 779l-57 -20l-14 1l-19 -7l-59 3l-45 12l0 18l-28 22l-15 29l-38 10l-37 19l-4 9l24 27l38 35l15 30l0 13l256 0l1 -20l18 -74l0 -30l-14 -5l-12 -55zM1231 638l-32 4l-17 8l0 31l-31 31l-54 64l11 20l12 55l15 3l28 -45l34 -42l81 -80l1 -3l-4 -6l-12 -10l-2 -5zM1358 752l-14 -2l-71 74l-38 50l0 10l6 7l80 1l1 -39l42 0l-5 -95l2 -3zM1411 745l-13 0l-35 9l-3 3l5 96l46 0zM1411 689l-13 0l-54 28l-13 3l13 28l12 2l6 4l36 -10l13 0zM1411 652l-12 0l-26 16l-49 20l-4 4l0 7l10 20l14 -3l54 -28l13 0zM1322 854l0 38l89 0l0 -38zM1276 527l-4 6l5 22l-6 75l-9 34l19 21l22 8l15 -1l9 -7l46 -18l26 -16l12 0l0 -102l-39 -3l-58 -13l-29 -2zM1267 513l-8 7l-1 5l-56 14l-12 -5l-8 2l2 3l15 -1l4 36l-28 1l28 55l-8 4l0 8l36 -5l30 25l9 -32l6 -75l-5 -20l5 -10zM1264 503l2 9l5 3l6 11l8 4l29 2l58 13l39 3l0 -53l-17 5l-17 0l-37 -6l-30 6l-4 -12l-22 0l-5 11l-10 -4zM1086 497l-22 9l-17 -1l-4 12l0 14l-23 10l4 9l-33 0l9 56l-13 1l-11 14l20 28l17 1l27 -9l4 -6l30 -13l-1 -20l19 -26l46 -3l2 9l0 -8l5 -1l4 -8l-10 -4l-7 -7l-14 -22l-17 -5l-3 -12l-8 -8zM961 550l4 27l-7 11l8 25l10 6l11 -13l12 0l-9 -56zM1138 574l-46 3l-18 25l2 20l63 3l1 -42zM1041 640l4 15l12 17l49 10l15 0l6 4l18 -8l6 -7l2 -20l-13 -14l0 -11l-62 -2l-3 -2l-31 14zM1000 664l3 23l7 9l21 10l16 2l13 6l15 16l16 -2l35 -36l0 -6l-5 -3l-15 0l-49 -10l-13 -18l-4 -13l-28 9zM983 721l1 12l20 19l22 7l14 -1l25 9l29 -25l-2 -13l-17 2l-15 -16l-18 -7l-13 -1l-38 6zM1150 566l-5 8l-4 0l0 63l12 13l15 0l7 -8l-11 -50l-6 -11l7 -5zM1159 581l6 11l11 53l6 4l12 -6l0 -9l8 -4l-28 -55zM825 524l22 35l28 15l9 -1l7 11l31 -5l10 -32l-5 -8l-92 -24l-6 9zM827 497l2 9l7 9l28 5l61 18l3 -2l-2 -22l-24 -26l0 -8l-3 8l-14 0l-5 -11l-34 15zM903 477l0 11l22 22l5 21l10 2l12 -4l1 -6l11 -1l-1 -12l-4 -7l0 -12l-18 -1zM960 491l0 12l4 7l1 11l6 5l39 4l9 11l23 -10l0 -14l4 -12l-15 -4l-4 10l-24 0l-2 -4l2 -17zM953 524l0 6l8 1l0 18l63 0l-14 -18l-39 -4l-6 -5l-4 3zM960 531l-9 -1l-11 4l-11 -2l-1 7l5 8l-10 31l5 8l30 1l4 -5l2 -9l-4 -23zM1232 496l-5 -5l0 -14l-15 0l-41 11l-55 -3l-29 13l4 9l8 8l3 12l5 -1l12 5l3 -3l39 -2l2 -3l50 -20l12 -1zM1170 535l-6 -9l-42 3l-3 3l14 22l17 11l8 -8l-4 -15l11 -1zM1155 542l4 15l-7 8l11 9l39 0l-4 -36l-14 2l-5 -5l-8 0l-6 7zM1268 495l-16 -9l-5 10l-16 1l-6 6l-12 1l-50 21l8 9l19 -1l12 5l56 -14l0 -4l7 -7l-2 -10zM1063 493l-3 -5l-28 0l-7 10l-21 -8l-1 20l24 0l4 -10l17 5l15 0z" fill="none" stroke="#000" stroke-width="2.8" stroke-opacity="0.85" stroke-linejoin="round"/>
</g>
</svg>
<svg x="936.2" y="517.6" width="694.3" height="478.7" viewBox="0 0 694.3 478.7" preserveAspectRatio="none" overflow="hidden">
<rect width="694.3" height="478.7" fill="#ffff00"/>
<g transform="translate(-5.75,-5.75) scale(0.5)">
<path d="M0 818l0 162l169 0l0 -13l-21 -27l-9 -19l-29 -8l-9 -23l-25 -7l-4 -29l-60 -36zM330 631l26 20l-23 -23zM1083 624l-15 5l15 -3zM386 560l-17 17l-16 26zM1082 443l-6 5l7 3zM997 150l-13 8l13 -3zM1031 115l-29 2l-1 6zM1101 98l-3 10l-28 3l-14 -5l13 7l32 -4l1 2l-10 30l-20 27l-19 19l-16 5l33 4l27 22l-7 -28l26 5l-13 -19l4 -29l7 -23zM0 0l0 524l34 -3l4 33l14 26l-4 12l-48 2l59 3l8 12l-7 33l75 6l1 10l20 -16l4 -74l14 -36l23 -25l-2 -9l2 -4l14 -3l29 2l0 13l14 3l7 -4l3 1l1 -3l2 2l0 -13l9 -2l6 10l1 -3l3 2l9 -3l3 -3l-3 -11l13 -6l6 11l19 0l3 -10l3 -1l30 13l21 4l0 -46l8 -36l20 -8l2 -6l33 0l1 6l14 1l34 19l-15 67l-13 1l-5 11l-5 -2l-13 31l-30 19l15 40l-3 26l-3 7l-35 42l36 -39l18 -3l13 24l14 45l-11 37l6 48l9 44l-4 33l-15 22l-3 104l107 0l-7 -79l23 -8l30 23l5 24l-2 -25l33 -15l26 -2l15 32l-23 16l-47 0l-1 -4l8 25l0 13l228 0l0 -12l-19 -21l-3 -10l25 -8l22 14l9 23l0 14l525 0l0 -101l-81 -1l42 -31l3 -18l-3 -38l-21 -60l-5 -34l-12 -2l-4 -19l29 -1l-1 6l40 -20l13 0l0 -422l-16 0l-35 6l-22 8l-62 0l-41 -7l-22 -18l3 -26l10 -20l-12 17l-7 26l-28 0l-55 35l-12 -12l-37 43l28 -6l34 14l-4 -4l-6 -23l66 -45l21 3l63 46l-5 15l-31 17l-34 7l-41 0l11 6l-7 17l-67 70l-15 26l78 -90l40 30l37 37l27 41l6 30l-4 12l2 5l-5 11l-48 -3l-27 23l21 13l-1 32l-42 0l-49 -42l-15 -2l30 18l22 19l-7 11l11 15l9 36l-3 24l-22 18l-16 9l-10 21l-25 22l-29 -12l-10 -31l-30 -2l-8 -11l18 -15l-11 -6l0 -21l18 -25l17 0l20 7l0 -9l15 -19l26 -7l-7 -16l-34 -27l0 -18l-7 -10l-12 4l-12 0l-1 7l-8 11l-15 15l-26 18l14 31l-15 19l-14 -4l-20 -24l-22 -1l0 -38l-13 18l-26 16l-28 11l2 2l-25 38l-22 26l-31 30l-8 22l-28 -7l-1 -42l13 -20l75 -21l15 -24l8 -3l-15 -16l-27 -20l-2 -22l-3 13l-52 3l-38 -33l-2 -8l-14 2l-7 -7l-8 1l-10 -4l-5 10l-24 6l-10 -19l-1 -14l5 -14l5 -52l48 -1l-36 -2l-48 -14l-36 -18l-19 -63l-11 0l-22 -21l-14 0l-45 39l4 -22l41 -34l18 0l13 11l-2 -18l33 -4l23 30l-20 9l19 -6l33 0l23 23l29 76l16 0l1 -5l39 -2l32 -19l36 19l23 2l31 17l23 26l12 24l-5 18l34 12l29 0l-1 22l3 -5l0 -16l8 -2l-1 -54l23 -2l-22 -7l-14 -15l0 -27l36 -37l33 -25l-20 -6l-29 -22l-40 -9l-56 -50l-4 -31l46 -45l2 1l5 -32l28 -18l27 6l-15 -5l-3 -41l15 -8l11 8l75 2l26 7l-2 -65l148 0l-2 19l-10 19l-11 38l21 58l-8 17l38 -10l33 -2l36 -8l47 -6l19 0l0 -113l-15 0l-17 4l-34 -4l-15 -11l81 -1l0 -13zM987 773l-2 19l-18 11l-5 -22zM740 774l-1 5l-12 2l1 -5zM856 767l17 3l14 10l32 1l-8 19l-26 12l-8 22l-15 -8zM1000 726l35 -3l21 -8l24 3l12 19l-7 20l20 21l4 10l-18 1l-15 -25l-68 -9l-11 -12zM839 691l10 3l22 29l2 42l-13 -3l-23 -27l-6 -20zM1279 678l26 -1l1 11l-22 5zM746 642l18 12l0 27l-20 -1l-15 -5l-4 13l10 5l-2 38l14 33l-21 12l-15 -36l1 -25l-11 -6l-8 -44l-13 0l-5 -12l38 -3zM1222 615l8 22l-19 4l-11 -22zM672 549l-29 68l-12 -12l29 -58zM332 292l37 -9l8 20l51 42l-66 -1l-22 -4l-8 -22zM1311 275l-5 28l-15 -2l-12 -22zM864 234l-7 25l-18 18l-17 10l-22 -15l-4 -15l-5 9l-14 -6l-5 -23l1 -4l18 -3l5 14l53 -21zM84 199l49 16l70 18l46 28l38 31l17 21l-37 20l-14 28l-7 44l-43 32l-24 24l-48 -1l0 -52l-8 -71l-24 -91l-16 -24zM65 160l53 0l-27 30zM863 33l8 32l-11 5l-5 -32zM405 98l36 -15l17 -23l-5 -47l279 0l7 3l-5 15l11 4l15 22l7 19l20 2l27 20l2 5l-4 28l-42 39l-10 14l-18 -7l-16 -13l-15 0l0 -6l-20 -1l-21 -18l13 15l-30 14l-42 25l-37 30l-34 21l-3 8l-11 -22l-26 -37l132 -100l27 34l-5 -20l-23 -38l1 -10l-45 32l-82 70l-30 29l-33 0l-23 -23l-11 -35z" fill="#ffff00" fill-rule="evenodd"/>
<path d="M420 167l22 22l33 0l30 -29l82 -70l45 -32l6 -44l-185 0l6 46l-18 24l-35 14l3 34z" fill="#0000ff" fill-rule="evenodd"/>
<path d="M632 94l-131 99l10 13l1 -7l13 10l17 28l-1 7l33 -22l40 -32l39 -23l30 -14l-23 -22z" fill="#0000ff" fill-rule="evenodd"/>
<path d="M639 14l-7 55l23 38l6 24l30 25l20 1l0 6l14 0l-1 -12l-10 -3l-1 -3l14 -39l-2 -52l13 -38l-6 -2z" fill="#0000ff" fill-rule="evenodd"/>
<path d="M66 160l25 29l26 -29z" fill="#0000ff" fill-rule="evenodd"/>
<path d="M84 200l0 22l16 24l24 91l8 71l0 52l47 0l24 -24l42 -31l7 -44l14 -28l37 -20l-16 -20l-38 -31l-46 -28l-70 -18z" fill="#0000ff" fill-rule="evenodd"/>
<path d="M333 292l0 26l7 21l22 4l66 3l-52 -43l-7 -19z" fill="#0000ff" fill-rule="evenodd"/>
<path d="M592 266l-33 4l3 18l13 11l4 9l35 -13z" fill="#0000ff" fill-rule="evenodd"/>
<path d="M580 309l2 4l-4 2l18 61l36 18l48 14l36 2l-1 -12l-18 -2l-28 -75l-22 -22l-33 0z" fill="#0000ff" fill-rule="evenodd"/>
<path d="M669 412l-5 52l-5 14l18 5l24 13l15 1l6 -38l0 -20l-6 -27z" fill="#0000ff" fill-rule="evenodd"/>
<path d="M398 412l-7 35l0 46l41 -3l37 11l5 -11l12 0l15 -67l-33 -18l-14 -1l-1 4l-33 0l-1 -5z" fill="#0000ff" fill-rule="evenodd"/>
<path d="M581 313l-7 -14l-26 -22l-18 0l-40 33l-4 22l44 -40l14 0l22 21z" fill="#ff0000" fill-rule="evenodd"/>
<path d="M512 200l0 11l15 19l10 21l4 -14l-17 -28z" fill="#ff0000" fill-rule="evenodd"/>
<path d="M420 398l0 9l33 0l0 -9z" fill="#ff0000" fill-rule="evenodd"/>
<path d="M733 31l-7 23l2 52l-14 41l11 4l0 11l13 11l22 10l9 -13l42 -39l4 -31l-28 -21l-20 -2l-8 -20l-15 -22z" fill="#0000ff" fill-rule="evenodd"/>
<path d="M977 69l3 41l18 6l37 -2l14 -12l21 8l28 -3l5 -28l-26 -7l-75 -2l-11 -8z" fill="#0000ff" fill-rule="evenodd"/>
<path d="M1001 117l-36 -6l-26 17l-4 31l36 2l14 -4l12 -8l0 -25l4 -2z" fill="#0000ff" fill-rule="evenodd"/>
<path d="M932 159l-45 44l4 31l55 49l40 9l29 22l21 6l34 -28l4 0l38 -45l-10 -11l-4 -17l-28 -22l-36 -4l-12 5l-15 -15l-10 -27l-26 6z" fill="#0000ff" fill-rule="evenodd"/>
<path d="M1101 14l3 52l-3 31l14 27l-8 28l-2 26l12 17l34 13l30 16l27 0l8 -29l12 -15l18 -31l-7 -26l-14 -34l11 -38l10 -19l3 -18z" fill="#0000ff" fill-rule="evenodd"/>
<path d="M1412 139l-19 0l-47 6l-36 8l-33 2l-41 10l-18 37l-3 26l21 17l41 7l62 0l22 -8l35 -6l16 0z" fill="#0000ff" fill-rule="evenodd"/>
<path d="M1332 14l14 10l34 4l17 -4l15 0l0 -10z" fill="#0000ff" fill-rule="evenodd"/>
<path d="M1091 190l12 46l22 23l55 -35l-58 -27z" fill="#0000ff" fill-rule="evenodd"/>
<path d="M863 234l-14 -10l-52 20l2 7l-2 7l4 14l21 14l14 -8l20 -19z" fill="#0000ff" fill-rule="evenodd"/>
<path d="M1177 321l-38 -21l-35 -14l-34 7l-68 54l-35 36l0 27l13 14l21 7l22 1l52 16l11 -10l17 -30l67 -70z" fill="#0000ff" fill-rule="evenodd"/>
<path d="M1084 441l1 46l4 8l27 -11l55 3l41 -11l24 2l36 18l4 -10l-6 -34l-27 -41l-36 -36l-40 -30z" fill="#0000ff" fill-rule="evenodd"/>
<path d="M716 393l0 16l7 30l0 20l-5 28l28 0l4 11l20 -5l53 4l23 -6l31 -15l4 1l4 10l14 0l11 -22l1 -6l-12 -24l-19 -22l-34 -20l-23 -2l-36 -19l-32 19zM741 424l25 9l26 36l-39 1z" fill="#0000ff" fill-rule="evenodd"/>
<path d="M742 424l11 45l38 0l-25 -35z" fill="#ffff00" fill-rule="evenodd"/>
<path d="M980 434l1 54l18 0l27 9l6 -10l48 0l5 10l3 -2l-4 -8l0 -35l-69 -21z" fill="#0000ff" fill-rule="evenodd"/>
<path d="M1311 276l-31 3l11 21l14 3z" fill="#0000ff" fill-rule="evenodd"/>
<path d="M863 34l-7 4l4 31l10 -4z" fill="#0000ff" fill-rule="evenodd"/>
<path d="M1101 110l-32 4l-20 -11l-14 12l-37 9l0 32l10 27l14 14l31 -11l18 -18l20 -27z" fill="#ff0000" fill-rule="evenodd"/>
<path d="M1129 272l7 25l27 17l45 0l34 -7l31 -17l4 -13l-62 -46l-21 -3z" fill="#ff0000" fill-rule="evenodd"/>
<path d="M773 234l4 25l14 6l7 -13l-7 -21z" fill="#ff0000" fill-rule="evenodd"/>
<path d="M0 595l0 222l12 0l60 36l5 30l24 6l9 23l30 9l9 19l21 27l0 13l287 0l3 -104l15 -22l4 -39l-8 -32l-7 -54l11 -37l-14 -45l-12 -23l-18 3l-47 52l-27 -27l-25 -19l5 5l-34 30l-13 25l-9 38l-51 80l-70 -1l21 -39l80 -73l71 -70l20 -24l16 -27l21 -22l33 -6l27 -17l14 -32l-31 -9l-53 2l-40 -16l-6 11l-19 0l-5 -11l-13 5l3 11l-4 4l-9 3l-3 -2l-1 3l-6 -10l-9 2l1 12l-3 -1l-1 3l-3 -1l-7 4l-15 -4l1 -12l-29 -2l-14 3l1 12l-23 25l-14 36l-4 74l-21 17l-1 -10l-75 -6l6 -34l-7 -11z" fill="#0000ff" fill-rule="evenodd"/>
<path d="M329 631l-68 68l-79 72l-21 39l70 -1l49 -78l9 -38l13 -25l34 -30z" fill="#ffff00" fill-rule="evenodd"/>
<path d="M420 550l-29 4l-28 39l-30 34l51 51l47 -58l4 -30z" fill="#ffff00" fill-rule="evenodd"/>
<path d="M660 479l0 13l9 18l24 -6l3 -10l-19 -10z" fill="#0000ff" fill-rule="evenodd"/>
<path d="M672 550l-11 -3l-29 58l11 11z" fill="#0000ff" fill-rule="evenodd"/>
<path d="M730 661l-1 -14l-16 4l-37 2l4 11z" fill="#0000ff" fill-rule="evenodd"/>
<path d="M33 521l-17 4l-16 0l0 68l36 -1l13 -3l2 -9l-14 -26z" fill="#ff0000" fill-rule="evenodd"/>
<path d="M730 662l-36 2l8 45l11 6l-2 20l3 9l10 -3l0 -23l-11 -5l13 -29z" fill="#ff0000" fill-rule="evenodd"/>
<path d="M559 901l7 79l58 0l0 -13l-6 -14l-8 -37l-29 -22z" fill="#ff0000" fill-rule="evenodd"/>
<path d="M672 898l-25 3l-33 15l4 29l47 0l21 -14z" fill="#ff0000" fill-rule="evenodd"/>
<path d="M718 488l-1 10l6 6l14 -2l3 9l37 32l52 -3l2 -44l-16 2l-23 -4l-22 0l-20 5l-4 -11z" fill="#0000ff" fill-rule="evenodd"/>
<path d="M970 490l-29 0l-38 -13l-4 11l-14 0l-5 -11l-48 19l3 54l26 19l16 16l25 -10l30 -18l13 -20l22 -22z" fill="#0000ff" fill-rule="evenodd"/>
<path d="M972 507l-4 8l-22 22l0 41l21 0l20 24l14 4l14 -18l-14 -31l22 -16l-22 14l-16 -23z" fill="#0000ff" fill-rule="evenodd"/>
<path d="M1274 497l-38 -18l-24 -2l-41 11l-55 -3l-31 13l-5 -10l-48 0l-6 10l-27 -9l-26 1l0 19l28 45l28 -17l19 -20l4 -12l12 0l12 -4l6 10l22 0l4 19l16 2l49 42l42 0l0 -31l-21 -13l28 -24l48 3z" fill="#0000ff" fill-rule="evenodd"/>
<path d="M880 585l-11 4l-16 25l-15 6l-58 13l-14 21l0 41l28 7l7 -21l49 -51z" fill="#0000ff" fill-rule="evenodd"/>
<path d="M1152 578l-30 -4l-24 7l-14 18l0 27l-27 7l-10 21l-7 -2l-18 16l6 9l31 3l11 32l28 11l24 -21l11 -22l16 -9l21 -17l3 -29l-9 -31z" fill="#0000ff" fill-rule="evenodd"/>
<path d="M839 692l-7 23l6 20l22 26l13 3l-3 -41l-20 -27z" fill="#0000ff" fill-rule="evenodd"/>
<path d="M1412 662l-13 0l-39 19l-6 14l-7 1l6 35l21 60l3 38l-3 18l-42 31l80 0z" fill="#0000ff" fill-rule="evenodd"/>
<path d="M739 774l-11 3l0 4l11 -3z" fill="#0000ff" fill-rule="evenodd"/>
<path d="M1084 512l0 18l34 27l7 17l29 3l6 -9l-21 -18l-30 -16l-5 -22z" fill="#ff0000" fill-rule="evenodd"/>
<path d="M1084 609l-21 -7l-17 0l-17 24l0 21l17 7l11 -22l27 -9z" fill="#ff0000" fill-rule="evenodd"/>
<path d="M1222 616l-21 3l10 21l18 -3z" fill="#ff0000" fill-rule="evenodd"/>
<path d="M725 689l-11 24l11 5l0 23l-11 5l12 29l20 -12l-14 -32l2 -38zM730 646l0 28l14 5l19 2l0 -27l-17 -11z" fill="#ff0000" fill-rule="evenodd"/>
<path d="M1001 726l-3 17l10 11l68 9l15 25l17 0l-4 -10l-20 -21l7 -20l-11 -18l-24 -3l-21 8z" fill="#ff0000" fill-rule="evenodd"/>
<path d="M856 768l7 58l14 7l7 -21l27 -13l7 -18l-31 0l-14 -10z" fill="#ff0000" fill-rule="evenodd"/>
<path d="M987 774l-24 7l4 21l17 -10z" fill="#ff0000" fill-rule="evenodd"/>
<path d="M1280 678l4 14l21 -4l0 -10z" fill="#ff0000" fill-rule="evenodd"/>
<path d="M1332 676l4 19l17 0l7 -19z" fill="#ff0000" fill-rule="evenodd"/>
<path d="M832 937l3 10l19 21l0 12l32 0l0 -14l-9 -23l-21 -13z" fill="#ff0000" fill-rule="evenodd"/>
<path d="M0 818l0 162l169 0l0 -13l-21 -27l-9 -19l-29 -8l-9 -23l-25 -7l-4 -29l-60 -36zM330 631l26 20l-23 -23zM1083 624l-15 5l15 -3zM386 560l-17 17l-16 26zM1082 443l-6 5l7 3zM997 150l-13 8l13 -3zM1031 115l-29 2l-1 6zM1101 98l-3 10l-28 3l-14 -5l13 7l32 -4l1 2l-10 30l-20 27l-19 19l-16 5l33 4l27 22l-7 -28l26 5l-13 -19l4 -29l7 -23zM0 0l0 524l34 -3l4 33l14 26l-4 12l-48 2l59 3l8 12l-7 33l75 6l1 10l20 -16l4 -74l14 -36l23 -25l-2 -9l2 -4l14 -3l29 2l0 13l14 3l7 -4l3 1l1 -3l2 2l0 -13l9 -2l6 10l1 -3l3 2l9 -3l3 -3l-3 -11l13 -6l6 11l19 0l3 -10l3 -1l30 13l21 4l0 -46l8 -36l20 -8l2 -6l33 0l1 6l14 1l34 19l-15 67l-13 1l-5 11l-5 -2l-13 31l-30 19l15 40l-3 26l-3 7l-35 42l36 -39l18 -3l13 24l14 45l-11 37l6 48l9 44l-4 33l-15 22l-3 104l107 0l-7 -79l23 -8l30 23l5 24l-2 -25l33 -15l26 -2l15 32l-23 16l-47 0l-1 -4l8 25l0 13l228 0l0 -12l-19 -21l-3 -10l25 -8l22 14l9 23l0 14l525 0l0 -101l-81 -1l42 -31l3 -18l-3 -38l-21 -60l-5 -34l-12 -2l-4 -19l29 -1l-1 6l40 -20l13 0l0 -422l-16 0l-35 6l-22 8l-62 0l-41 -7l-22 -18l3 -26l10 -20l-12 17l-7 26l-28 0l-55 35l-12 -12l-37 43l28 -6l34 14l-4 -4l-6 -23l66 -45l21 3l63 46l-5 15l-31 17l-34 7l-41 0l11 6l-7 17l-67 70l-15 26l78 -90l40 30l37 37l27 41l6 30l-4 12l2 5l-5 11l-48 -3l-27 23l21 13l-1 32l-42 0l-49 -42l-15 -2l30 18l22 19l-7 11l11 15l9 36l-3 24l-22 18l-16 9l-10 21l-25 22l-29 -12l-10 -31l-30 -2l-8 -11l18 -15l-11 -6l0 -21l18 -25l17 0l20 7l0 -9l15 -19l26 -7l-7 -16l-34 -27l0 -18l-7 -10l-12 4l-12 0l-1 7l-8 11l-15 15l-26 18l14 31l-15 19l-14 -4l-20 -24l-22 -1l0 -38l-13 18l-26 16l-28 11l2 2l-25 38l-22 26l-31 30l-8 22l-28 -7l-1 -42l13 -20l75 -21l15 -24l8 -3l-15 -16l-27 -20l-2 -22l-3 13l-52 3l-38 -33l-2 -8l-14 2l-7 -7l-8 1l-10 -4l-5 10l-24 6l-10 -19l-1 -14l5 -14l5 -52l48 -1l-36 -2l-48 -14l-36 -18l-19 -63l-11 0l-22 -21l-14 0l-45 39l4 -22l41 -34l18 0l13 11l-2 -18l33 -4l23 30l-20 9l19 -6l33 0l23 23l29 76l16 0l1 -5l39 -2l32 -19l36 19l23 2l31 17l23 26l12 24l-5 18l34 12l29 0l-1 22l3 -5l0 -16l8 -2l-1 -54l23 -2l-22 -7l-14 -15l0 -27l36 -37l33 -25l-20 -6l-29 -22l-40 -9l-56 -50l-4 -31l46 -45l2 1l5 -32l28 -18l27 6l-15 -5l-3 -41l15 -8l11 8l75 2l26 7l-2 -65l148 0l-2 19l-10 19l-11 38l21 58l-8 17l38 -10l33 -2l36 -8l47 -6l19 0l0 -113l-15 0l-17 4l-34 -4l-15 -11l81 -1l0 -13zM987 773l-2 19l-18 11l-5 -22zM740 774l-1 5l-12 2l1 -5zM856 767l17 3l14 10l32 1l-8 19l-26 12l-8 22l-15 -8zM1000 726l35 -3l21 -8l24 3l12 19l-7 20l20 21l4 10l-18 1l-15 -25l-68 -9l-11 -12zM839 691l10 3l22 29l2 42l-13 -3l-23 -27l-6 -20zM1279 678l26 -1l1 11l-22 5zM746 642l18 12l0 27l-20 -1l-15 -5l-4 13l10 5l-2 38l14 33l-21 12l-15 -36l1 -25l-11 -6l-8 -44l-13 0l-5 -12l38 -3zM1222 615l8 22l-19 4l-11 -22zM672 549l-29 68l-12 -12l29 -58zM332 292l37 -9l8 20l51 42l-66 -1l-22 -4l-8 -22zM1311 275l-5 28l-15 -2l-12 -22zM864 234l-7 25l-18 18l-17 10l-22 -15l-4 -15l-5 9l-14 -6l-5 -23l1 -4l18 -3l5 14l53 -21zM84 199l49 16l70 18l46 28l38 31l17 21l-37 20l-14 28l-7 44l-43 32l-24 24l-48 -1l0 -52l-8 -71l-24 -91l-16 -24zM65 160l53 0l-27 30zM863 33l8 32l-11 5l-5 -32zM405 98l36 -15l17 -23l-5 -47l279 0l7 3l-5 15l11 4l15 22l7 19l20 2l27 20l2 5l-4 28l-42 39l-10 14l-18 -7l-16 -13l-15 0l0 -6l-20 -1l-21 -18l13 15l-30 14l-42 25l-37 30l-34 21l-3 8l-11 -22l-26 -37l132 -100l27 34l-5 -20l-23 -38l1 -10l-45 32l-82 70l-30 29l-33 0l-23 -23l-11 -35zM420 167l22 22l33 0l30 -29l82 -70l45 -32l6 -44l-185 0l6 46l-18 24l-35 14l3 34zM632 94l-131 99l10 13l1 -7l13 10l17 28l-1 7l33 -22l40 -32l39 -23l30 -14l-23 -22zM639 14l-7 55l23 38l6 24l30 25l20 1l0 6l14 0l-1 -12l-10 -3l-1 -3l14 -39l-2 -52l13 -38l-6 -2zM66 160l25 29l26 -29zM84 200l0 22l16 24l24 91l8 71l0 52l47 0l24 -24l42 -31l7 -44l14 -28l37 -20l-16 -20l-38 -31l-46 -28l-70 -18zM333 292l0 26l7 21l22 4l66 3l-52 -43l-7 -19zM592 266l-33 4l3 18l13 11l4 9l35 -13zM580 309l2 4l-4 2l18 61l36 18l48 14l36 2l-1 -12l-18 -2l-28 -75l-22 -22l-33 0zM669 412l-5 52l-5 14l18 5l24 13l15 1l6 -38l0 -20l-6 -27zM398 412l-7 35l0 46l41 -3l37 11l5 -11l12 0l15 -67l-33 -18l-14 -1l-1 4l-33 0l-1 -5zM581 313l-7 -14l-26 -22l-18 0l-40 33l-4 22l44 -40l14 0l22 21zM512 200l0 11l15 19l10 21l4 -14l-17 -28zM420 398l0 9l33 0l0 -9zM733 31l-7 23l2 52l-14 41l11 4l0 11l13 11l22 10l9 -13l42 -39l4 -31l-28 -21l-20 -2l-8 -20l-15 -22zM977 69l3 41l18 6l37 -2l14 -12l21 8l28 -3l5 -28l-26 -7l-75 -2l-11 -8zM1001 117l-36 -6l-26 17l-4 31l36 2l14 -4l12 -8l0 -25l4 -2zM932 159l-45 44l4 31l55 49l40 9l29 22l21 6l34 -28l4 0l38 -45l-10 -11l-4 -17l-28 -22l-36 -4l-12 5l-15 -15l-10 -27l-26 6zM1101 14l3 52l-3 31l14 27l-8 28l-2 26l12 17l34 13l30 16l27 0l8 -29l12 -15l18 -31l-7 -26l-14 -34l11 -38l10 -19l3 -18zM1412 139l-19 0l-47 6l-36 8l-33 2l-41 10l-18 37l-3 26l21 17l41 7l62 0l22 -8l35 -6l16 0zM1332 14l14 10l34 4l17 -4l15 0l0 -10zM1091 190l12 46l22 23l55 -35l-58 -27zM863 234l-14 -10l-52 20l2 7l-2 7l4 14l21 14l14 -8l20 -19zM1177 321l-38 -21l-35 -14l-34 7l-68 54l-35 36l0 27l13 14l21 7l22 1l52 16l11 -10l17 -30l67 -70zM1084 441l1 46l4 8l27 -11l55 3l41 -11l24 2l36 18l4 -10l-6 -34l-27 -41l-36 -36l-40 -30zM716 393l0 16l7 30l0 20l-5 28l28 0l4 11l20 -5l53 4l23 -6l31 -15l4 1l4 10l14 0l11 -22l1 -6l-12 -24l-19 -22l-34 -20l-23 -2l-36 -19l-32 19zM741 424l25 9l26 36l-39 1zM742 424l11 45l38 0l-25 -35zM980 434l1 54l18 0l27 9l6 -10l48 0l5 10l3 -2l-4 -8l0 -35l-69 -21zM1311 276l-31 3l11 21l14 3zM863 34l-7 4l4 31l10 -4zM1101 110l-32 4l-20 -11l-14 12l-37 9l0 32l10 27l14 14l31 -11l18 -18l20 -27zM1129 272l7 25l27 17l45 0l34 -7l31 -17l4 -13l-62 -46l-21 -3zM773 234l4 25l14 6l7 -13l-7 -21zM0 595l0 222l12 0l60 36l5 30l24 6l9 23l30 9l9 19l21 27l0 13l287 0l3 -104l15 -22l4 -39l-8 -32l-7 -54l11 -37l-14 -45l-12 -23l-18 3l-47 52l-27 -27l-25 -19l5 5l-34 30l-13 25l-9 38l-51 80l-70 -1l21 -39l80 -73l71 -70l20 -24l16 -27l21 -22l33 -6l27 -17l14 -32l-31 -9l-53 2l-40 -16l-6 11l-19 0l-5 -11l-13 5l3 11l-4 4l-9 3l-3 -2l-1 3l-6 -10l-9 2l1 12l-3 -1l-1 3l-3 -1l-7 4l-15 -4l1 -12l-29 -2l-14 3l1 12l-23 25l-14 36l-4 74l-21 17l-1 -10l-75 -6l6 -34l-7 -11zM329 631l-68 68l-79 72l-21 39l70 -1l49 -78l9 -38l13 -25l34 -30zM420 550l-29 4l-28 39l-30 34l51 51l47 -58l4 -30zM660 479l0 13l9 18l24 -6l3 -10l-19 -10zM672 550l-11 -3l-29 58l11 11zM730 661l-1 -14l-16 4l-37 2l4 11zM33 521l-17 4l-16 0l0 68l36 -1l13 -3l2 -9l-14 -26zM730 662l-36 2l8 45l11 6l-2 20l3 9l10 -3l0 -23l-11 -5l13 -29zM559 901l7 79l58 0l0 -13l-6 -14l-8 -37l-29 -22zM672 898l-25 3l-33 15l4 29l47 0l21 -14zM718 488l-1 10l6 6l14 -2l3 9l37 32l52 -3l2 -44l-16 2l-23 -4l-22 0l-20 5l-4 -11zM970 490l-29 0l-38 -13l-4 11l-14 0l-5 -11l-48 19l3 54l26 19l16 16l25 -10l30 -18l13 -20l22 -22zM972 507l-4 8l-22 22l0 41l21 0l20 24l14 4l14 -18l-14 -31l22 -16l-22 14l-16 -23zM1274 497l-38 -18l-24 -2l-41 11l-55 -3l-31 13l-5 -10l-48 0l-6 10l-27 -9l-26 1l0 19l28 45l28 -17l19 -20l4 -12l12 0l12 -4l6 10l22 0l4 19l16 2l49 42l42 0l0 -31l-21 -13l28 -24l48 3zM880 585l-11 4l-16 25l-15 6l-58 13l-14 21l0 41l28 7l7 -21l49 -51zM1152 578l-30 -4l-24 7l-14 18l0 27l-27 7l-10 21l-7 -2l-18 16l6 9l31 3l11 32l28 11l24 -21l11 -22l16 -9l21 -17l3 -29l-9 -31zM839 692l-7 23l6 20l22 26l13 3l-3 -41l-20 -27zM1412 662l-13 0l-39 19l-6 14l-7 1l6 35l21 60l3 38l-3 18l-42 31l80 0zM739 774l-11 3l0 4l11 -3zM1084 512l0 18l34 27l7 17l29 3l6 -9l-21 -18l-30 -16l-5 -22zM1084 609l-21 -7l-17 0l-17 24l0 21l17 7l11 -22l27 -9zM1222 616l-21 3l10 21l18 -3zM725 689l-11 24l11 5l0 23l-11 5l12 29l20 -12l-14 -32l2 -38zM730 646l0 28l14 5l19 2l0 -27l-17 -11zM1001 726l-3 17l10 11l68 9l15 25l17 0l-4 -10l-20 -21l7 -20l-11 -18l-24 -3l-21 8zM856 768l7 58l14 7l7 -21l27 -13l7 -18l-31 0l-14 -10zM987 774l-24 7l4 21l17 -10zM1280 678l4 14l21 -4l0 -10zM1332 676l4 19l17 0l7 -19zM832 937l3 10l19 21l0 12l32 0l0 -14l-9 -23l-21 -13z" fill="none" stroke="#000" stroke-width="3.2" stroke-opacity="0.85" stroke-linejoin="round"/>
</g>
<g fill="none" stroke="#000" stroke-width="1.5" stroke-opacity="0.85" stroke-linejoin="round">
<polyline points="80.2,28.6 105.7,26.8 113.0,10.4 120.4,3.1"/>
<polyline points="124.0,10.4 156.9,12.2 167.8,21.3 189.8,23.1 226.3,23.1"/>
<polyline points="156.9,14.0 182.5,17.7 226.3,17.7"/>
<polyline points="167.8,23.1 189.8,39.6 200.7,41.4"/>
<polyline points="178.8,132.7 193.4,119.9 215.3,90.7"/>
<polyline points="182.5,145.5 208.0,167.4 228.1,172.9 229.9,200.3"/>
<polyline points="118.5,174.7 138.6,171.1 164.2,171.1 167.8,163.8 182.5,165.6"/>
<polyline points="116.7,196.7 116.7,174.7"/>
<polyline points="167.8,163.8 175.1,191.2 186.1,239.4"/>
<polyline points="228.1,169.3 255.5,163.8 270.1,171.1 284.7,171.1"/>
<polyline points="266.5,116.3 266.5,130.9"/>
<polyline points="317.6,141.9 334.1,127.3 350.5,79.8"/>
<polyline points="-0.2,205.8 12.6,213.1 27.2,209.4 60.1,209.4"/>
<polyline points="5.3,218.6 18.1,239.4"/>
<polyline points="63.7,224.1 54.6,239.4"/>
<polyline points="94.8,213.1 98.4,224.1 105.7,239.4"/>
<polyline points="118.5,205.8 127.7,218.6 138.6,239.4"/>
<polyline points="374.0,85.6 387.8,106.3 393.0,111.5"/>
<polyline points="422.3,14.9 424.1,30.4 408.5,39.1 401.6,42.5"/>
<polyline points="429.2,25.3 439.6,16.6 467.2,16.6 487.9,2.8"/>
<polyline points="401.6,133.9 384.4,171.8 384.4,180.4"/>
<polyline points="418.9,137.3 443.0,137.3 432.7,123.5"/>
<polyline points="453.4,209.7 468.9,194.2 481.0,185.6"/>
<polyline points="487.9,151.1 474.1,185.6"/>
<polyline points="613.7,151.1 615.5,171.8 639.6,206.3 667.2,223.5"/>
<polyline points="618.9,64.9 650.0,47.7 684.5,20.1"/>
<polyline points="691.4,206.3 667.2,228.7"/>
<polyline points="226.3,340.7 235.4,340.7 264.6,317.0 282.9,291.4 306.7,315.1 314.0,326.1 339.5,326.1"/>
<polyline points="233.6,333.4 273.8,307.8"/>
<polyline points="229.9,384.6 259.2,395.5 282.9,422.9 317.6,443.0"/>
<polyline points="282.9,422.9 282.9,441.2"/>
<polyline points="224.5,432.1 237.2,435.7 273.8,444.9"/>
<polyline points="330.4,430.2 357.8,402.8"/>
<polyline points="330.4,430.2 330.4,443.0"/>
<polyline points="237.2,242.1 284.7,243.9 321.3,243.9"/>
<polyline points="204.4,269.5 211.7,289.6 220.8,274.9 237.2,243.9"/>
<polyline points="310.3,315.1 357.8,318.8"/>
<polyline points="-0.2,454.0 18.1,444.9 45.5,450.3"/>
<polyline points="-0.2,466.8 36.3,475.9"/>
<polyline points="18.1,413.8 18.1,444.9"/>
<polyline points="61.9,324.3 61.9,351.7 60.1,366.3"/>
<polyline points="23.5,320.6 23.5,357.2 29.0,397.4 54.6,397.4"/>
<polyline points="54.6,362.6 56.4,395.5 72.9,399.2"/>
<polyline points="120.4,256.7 162.4,298.7"/>
<polyline points="32.7,435.7 32.7,413.8 54.6,410.2"/>
<polyline points="80.2,475.9 164.2,432.1 226.3,404.7"/>
<polyline points="109.4,479.4 182.5,439.4 226.3,422.9"/>
<polyline points="138.6,366.3 200.7,362.6 226.3,357.2"/>
<polyline points="432.7,286.7 453.4,286.7 474.1,283.2 487.9,295.3 491.3,303.9 501.7,314.3 508.6,314.3"/>
<polyline points="391.3,345.3 401.6,362.5 408.5,355.6 413.7,340.1"/>
<polyline points="363.7,376.3 398.2,362.5 413.7,359.1"/>
<polyline points="363.7,398.7 380.9,409.1 422.3,390.1"/>
<polyline points="382.7,424.6 401.6,417.7 432.7,410.8"/>
<polyline points="391.3,424.6 415.4,462.5 425.8,479.4"/>
<polyline points="356.8,402.2 367.1,398.7 380.9,424.6"/>
<polyline points="431.0,379.8 460.3,383.2 491.3,376.3 517.2,374.6 529.2,386.7"/>
<polyline points="549.9,384.9 553.4,414.2 560.3,433.2"/>
<polyline points="553.4,384.9 598.2,336.7 601.7,316.0"/>
<polyline points="560.3,417.7 632.7,336.7 622.4,319.4"/>
<polyline points="617.2,433.2 675.8,372.9"/>
<polyline points="632.7,334.9 667.2,336.7"/>
<polyline points="632.7,334.9 632.7,259.1"/>
<polyline points="601.7,316.0 612.0,314.3 629.3,331.5"/>
<polyline points="636.2,259.1 667.2,264.3 694.8,269.4"/>
<polyline points="536.1,305.6 570.6,305.6"/>
<polyline points="539.6,307.4 546.5,334.9"/>
</g>
</svg>
<svg x="237.5" y="1001.2" width="694.1" height="478.4" viewBox="0 0 694.1 478.4" preserveAspectRatio="none" overflow="hidden">
<rect width="694.1" height="478.4" fill="#8a50e0"/>
<g transform="translate(-5.75,-5.75) scale(0.5)">
<path d="M299 329l1 5l5 0zM0 0l0 150l160 -3l0 -147z" fill="#3a70ff" fill-rule="evenodd"/>
<path d="M1008 131l-20 -7l-51 1l-9 -10l-21 1l-5 16l-122 105l-7 5l-14 1l-7 6l-6 0l12 33l0 12l-12 29l-14 16l77 6l13 4l0 -6l18 -33l9 -8l29 1l19 26l5 2l95 0l2 -12l-3 -64l5 -6l-2 -31l18 -67z" fill="#9a20ff" fill-rule="evenodd"/>
<path d="M822 939l-3 41l21 0l0 -23zM1116 892l-3 88l298 0l0 -86l-221 0l-8 -7l-2 -7zM1255 797l2 5l3 -1zM978 753l0 7l3 1zM847 646l-31 20l-95 31l0 87l-12 4l1 19l16 3l9 13l6 4l37 -15l33 -2l1 -8l28 -24l3 -48l12 -68z" fill="#40ffa0" fill-rule="evenodd"/>
<path d="M161 0l0 101l14 0l78 12l7 15l93 11l-3 -7l37 -37l16 -11l29 -13l-3 -7l5 -5l3 -16l-18 3l-11 5l-42 -7l-29 -14l-18 -18l0 -12z" fill="#2a80ff" fill-rule="evenodd"/>
<path d="M320 0l0 12l17 17l29 14l42 7l11 -5l18 -3l11 -14l4 -16l0 -12z" fill="#50ffc0" fill-rule="evenodd"/>
<path d="M449 27l9 3l16 18l33 22l52 -11l44 -2l40 -28l1 -29l-191 0l0 12z" fill="#a0ff20" fill-rule="evenodd"/>
<path d="M449 28l-11 14l-3 17l-5 5l4 8l4 -1l3 16l5 9l29 21l14 5l12 -7l-1 -26l-4 -14l5 -1l3 -4l-30 -21l-16 -18z" fill="#ffc030" fill-rule="evenodd"/>
<path d="M601 57l-42 3l-51 10l-11 5l4 14l0 27l8 2l9 -5l23 6l32 1l0 -9l18 -16z" fill="#ffe020" fill-rule="evenodd"/>
<path d="M437 71l-28 11l-22 14l-36 36l12 22l38 -37l34 -21l8 -1z" fill="#ff3010" fill-rule="evenodd"/>
<path d="M574 111l0 10l63 45l54 33l10 -4l9 18l3 18l12 0l6 3l14 14l7 0l6 -5l-5 -12l5 -7l-32 -42l-16 -3l-13 4l-3 -2l0 -4l10 -3l0 -11l-13 -1l0 -9l-12 -3l-28 -14l-58 -40z" fill="#ff5a10" fill-rule="evenodd"/>
<path d="M492 120l-3 5l13 35l7 44l22 51l27 42l36 27l15 29l18 12l21 -2l16 -5l1 2l12 -1l22 -6l10 5l9 -21l12 2l15 -16l12 -29l-1 -15l-11 -30l-14 -14l-19 -4l-2 -15l-9 -20l-10 4l-57 -35l-61 -44l-32 -1l-23 -6l-9 5l-9 -2z" fill="#ff3010" fill-rule="evenodd"/>
<path d="M606 350l-13 -26l-37 -26l-51 36l-53 31l-97 69l21 11l4 -5l57 -11l32 4l9 -10l52 -15l48 -31z" fill="#ff2a10" fill-rule="evenodd"/>
<path d="M444 95l-9 2l-34 21l-37 37l-3 12l-28 34l-12 10l12 31l6 0l42 25l0 35l-6 7l-14 30l6 8l-4 16l-85 4l3 26l-2 4l58 21l17 13l50 -31l54 -40l47 -27l52 -36l-27 -42l-22 -51l-6 -40l-14 -41l-13 -5z" fill="#2a80ff" fill-rule="evenodd"/>
<path d="M161 102l0 45l7 7l16 7l25 2l13 10l20 7l8 -6l5 1l0 -47l4 0l-6 -14l-78 -12z" fill="#a020ff" fill-rule="evenodd"/>
<path d="M256 128l0 47l35 15l29 21l12 -10l30 -37l1 -9l-11 -16z" fill="#9a30ff" fill-rule="evenodd"/>
<path d="M265 253l-30 -24l-3 3l0 18l-5 11l-39 0l-3 -6l-11 27l-39 7l-16 -25l6 17l-20 38l-23 34l-40 14l-42 0l0 59l52 -5l51 4l10 14l5 0l40 -24l10 -1l4 -14l-3 -13l13 -7l6 -12l21 -6l10 4l23 3l26 -11l9 -1l2 -9l9 -1l11 -15l-15 -28l-2 -16l-2 1zM172 157l-11 -9l-161 3l0 16l12 0l21 15l21 48l-19 33l22 -22l47 0l-1 -4l25 -14l32 7l25 22l-1 -21l2 -2l-12 -17l-15 -37l12 -13z" fill="#6020ff" fill-rule="evenodd"/>
<path d="M0 168l0 125l12 0l22 -29l19 -34l-21 -48l-20 -14z" fill="#4a30ff" fill-rule="evenodd"/>
<path d="M105 242l-48 0l-26 26l-19 26l-12 0l0 44l35 2l4 22l3 4l40 -14l22 -33l20 -38l-6 -18z" fill="#ff6a40" fill-rule="evenodd"/>
<path d="M173 157l-1 5l-12 13l12 31l15 24l46 0l8 -50l-17 -5l-15 -11l-25 -2z" fill="#ff3080" fill-rule="evenodd"/>
<path d="M103 238l32 50l39 -7l11 -27l-25 -23l-32 -7z" fill="#ff3a6a" fill-rule="evenodd"/>
<path d="M250 175l-8 6l-6 26l-1 21l31 25l14 35l29 -29l23 -17l-15 -34l-36 -22z" fill="#d0d8ff" fill-rule="evenodd"/>
<path d="M337 242l-5 1l-23 17l-22 23l-4 8l2 13l17 27l8 4l41 8l10 -5l13 -29l6 -7l0 -35z" fill="#f0ffd0" fill-rule="evenodd"/>
<path d="M185 231l0 17l46 0l1 -17z" fill="#ff2040" fill-rule="evenodd"/>
<path d="M185 249l3 11l39 0l4 -10z" fill="#30ff80" fill-rule="evenodd"/>
<path d="M277 358l1 8l84 -3l4 -16l-6 -7l-9 4l-52 -9l-11 13l-8 0l0 7z" fill="#6a40ff" fill-rule="evenodd"/>
<path d="M276 358l-36 12l0 6l20 11l1 10l3 2l16 -4z" fill="#ffff20" fill-rule="evenodd"/>
<path d="M187 375l-5 6l-12 6l3 13l-4 15l37 66l3 11l14 -1l2 -13l-17 -40z" fill="#ff60f0" fill-rule="evenodd"/>
<path d="M188 369l-1 5l4 5l18 59l17 40l-2 13l28 3l11 -94l-3 -3l-1 -10l-16 -7l-4 -4l0 -6l-30 -7z" fill="#30ff60" fill-rule="evenodd"/>
<path d="M264 400l-11 94l-12 0l-2 13l40 10l50 17l35 19l10 10l12 -10l17 1l17 -35l-1 -28l-15 2l-3 -13l-15 -14l-11 -20l-20 -11l-18 -16l-57 -21z" fill="#ff1a8a" fill-rule="evenodd"/>
<path d="M0 427l0 27l12 0l8 8l44 3l5 17l25 -2l12 4l11 -28l-6 -13l1 -4l-9 -13l-51 -4z" fill="#30b0ff" fill-rule="evenodd"/>
<path d="M470 434l-33 -4l-57 11l-4 6l11 19l15 14l2 12l18 -2l0 -18l53 -3l2 -2l-2 -25z" fill="#30a8ff" fill-rule="evenodd"/>
<path d="M477 468l-2 2l-53 3l1 17l16 1l24 8l5 -11l9 0z" fill="#30ff60" fill-rule="evenodd"/>
<path d="M649 363l-22 3l-20 -14l-29 26l-48 31l-52 15l-8 9l7 15l1 40l-6 1l-6 24l20 47l29 21l34 -1l1 -3l64 -7l8 3l4 -15l-2 -33l5 -3l10 -18l-8 -10l-2 -12l17 -4l-3 -13l26 -2zM665 361l17 101l19 5l-6 20l6 13l25 3l1 10l13 8l68 -11l2 -37l20 -7l4 -5l3 -64l-4 -39l-12 -9l-12 -3l-91 -8l-9 21l-10 -5z" fill="#ff4a70" fill-rule="evenodd"/>
<path d="M664 359l-14 4l19 98l10 2l2 -5z" fill="#2a40ff" fill-rule="evenodd"/>
<path d="M700 467l-11 -4l-46 3l4 9l0 26l35 -3l6 -11l6 1z" fill="#ff4090" fill-rule="evenodd"/>
<path d="M646 479l-16 3l2 12l8 8l6 -1z" fill="#30ff60" fill-rule="evenodd"/>
<path d="M645 0l-1 28l23 -2l3 -3l0 -23z" fill="#ff2020" fill-rule="evenodd"/>
<path d="M671 0l0 23l-3 3l3 3l0 7l27 0l10 6l7 -19l-11 -5l0 -18z" fill="#30c0ff" fill-rule="evenodd"/>
<path d="M0 339l0 27l39 0l-4 -25z" fill="#f0fff0" fill-rule="evenodd"/>
<path d="M705 0l0 18l11 5l-10 27l0 22l10 -3l49 1l15 16l16 3l61 -4l37 16l-19 -32l-35 -27l-24 -28l-1 -14z" fill="#ff3a1a" fill-rule="evenodd"/>
<path d="M706 73l2 20l18 2l27 18l26 -26l-14 -16l-49 -1z" fill="#30a0ff" fill-rule="evenodd"/>
<path d="M592 93l59 42l28 14l12 3l0 9l12 0l2 13l-11 4l2 4l8 -4l22 3l33 43l-5 5l5 13l14 -1l121 -102l7 -7l5 -14l-8 -14l-41 -18l-61 4l-16 -3l-27 27l-27 -18l-19 -3l-3 -25l3 -26l-9 -5l-27 0l-3 -10l-23 1l-9 9l-34 21z" fill="#3a60ff" fill-rule="evenodd"/>
<path d="M816 0l1 14l23 27l36 28l19 33l12 13l21 -1l11 -13l1 -17l-11 -18l-41 -16l-5 -19l-2 -31z" fill="#5a40ff" fill-rule="evenodd"/>
<path d="M882 0l2 31l5 19l33 14l10 1l21 -16l7 -2l-1 -17l4 -30z" fill="#30ffb0" fill-rule="evenodd"/>
<path d="M961 48l-8 2l-16 14l-7 2l15 26l31 -4l-4 -27z" fill="#90ff40" fill-rule="evenodd"/>
<path d="M987 123l-2 -10l-5 -6l-3 -18l-29 4l-6 -2l-3 2l1 8l-11 13l8 10z" fill="#ff6070" fill-rule="evenodd"/>
<path d="M1128 81l-3 -2l-70 48l34 0l3 2l28 -38l8 -6zM1198 35l-52 29l-6 6l24 -3l19 -8l9 -9zM961 47l12 14l3 26l12 36l20 6l7 -6l9 -1l53 -44l69 -46l56 -18l1 10l3 -8l0 -16l-242 0l-4 30z" fill="#9a50ff" fill-rule="evenodd"/>
<path d="M1202 15l-56 18l-69 46l-53 44l-11 2l-5 5l10 18l10 -2l6 -5l4 -14l18 -1l69 -48l3 2l12 -8l-1 -4l58 -33l5 -9z" fill="#ff2a60" fill-rule="evenodd"/>
<path d="M1094 241l24 16l15 -2l7 3l19 1l4 -1l21 -24l90 -4l-6 -6l0 -42l60 -35l-20 0l-68 -20l-67 -23l-32 -19l-12 0l-8 6l-29 39zM1207 0l0 16l-14 34l-10 10l-18 7l0 8l109 36l63 13l7 13l-5 -97l-31 -14l-18 -12l-2 -14z" fill="#ff2060" fill-rule="evenodd"/>
<path d="M1129 79l0 5l12 0l32 19l135 43l21 1l15 -5l-7 -17l-63 -13l-109 -36l-2 -8l-12 0z" fill="#1a30ff" fill-rule="evenodd"/>
<path d="M1341 40l3 98l2 2l5 -2l5 12l43 16l12 0l0 -133z" fill="#a040ff" fill-rule="evenodd"/>
<path d="M1289 0l1 13l18 12l32 15l54 -8l17 0l0 -32z" fill="#ff9070" fill-rule="evenodd"/>
<path d="M1411 167l-12 0l-42 -16l2 6l-49 38l-32 42l3 25l-7 30l-62 3l-8 14l-6 3l-4 10l-25 28l2 45l38 20l27 20l25 32l31 -4l7 -8l29 -21l9 -1l-1 -10l63 -63l12 0z" fill="#c0ff20" fill-rule="evenodd"/>
<path d="M1351 139l-24 10l-58 33l0 42l9 12l32 -42l48 -37z" fill="#a0ff30" fill-rule="evenodd"/>
<path d="M1117 257l-23 -15l-51 3l-19 13l1 65l23 -8l44 -33l8 -2l0 -6z" fill="#40e0ff" fill-rule="evenodd"/>
<path d="M1117 258l-16 16l0 6l53 52l14 18l25 -28l4 -10l-13 -11l-11 -5l-32 -33l-2 -5l-6 -2z" fill="#40d0ff" fill-rule="evenodd"/>
<path d="M1280 262l-3 -26l-3 -5l-90 4l-20 21l1 3l5 1l10 -1l36 36l57 -3z" fill="#30f0ff" fill-rule="evenodd"/>
<path d="M1141 259l1 4l31 32l11 5l13 11l6 -2l9 -17l-32 -32z" fill="#ff2060" fill-rule="evenodd"/>
<path d="M1089 128l-51 0l-3 13l-7 6l-10 2l-18 69l2 31l15 10l8 -2l18 -13l50 -2l-1 -99z" fill="#8a30ff" fill-rule="evenodd"/>
<path d="M838 403l44 -2l28 14l25 -11l13 4l45 -36l11 -20l2 -9l-8 -11l-100 -1l-7 14l28 42l-8 18l-15 -2l-45 -41l-10 -4l-7 0z" fill="#ff6060" fill-rule="evenodd"/>
<path d="M847 304l-24 39l0 7l10 7l14 1l49 44l14 3l8 -18l-28 -42l7 -14l-13 -21l-8 -7z" fill="#2a50ff" fill-rule="evenodd"/>
<path d="M1101 281l-6 0l-55 39l-18 7l-23 1l-1 3l9 12l0 4l-11 22l-8 9l-39 30l8 13l31 25l29 35l-3 11l25 11l-4 15l23 10l22 -16l-3 -12l38 -15l-2 -8l1 -40l17 -16l38 -28l-1 -42l-15 -19zM1121 405l-33 5l-12 -19l37 -5zM999 365l25 -7l19 26l-12 15l-28 -11z" fill="#ff1a1a" fill-rule="evenodd"/>
<path d="M911 415l0 3l7 2l50 54l5 15l26 -1l5 2l-4 13l6 18l11 -1l6 4l11 -6l4 -15l-25 -11l3 -9l-25 -33l-29 -23l-15 -19l-12 -3z" fill="#2a50ff" fill-rule="evenodd"/>
<path d="M911 419l-11 24l19 15l6 13l-3 11l19 7l18 2l0 12l12 15l10 25l7 3l25 -1l9 -20l-5 -4l-12 0l-6 -18l4 -13l-30 0l-4 -13l-51 -56z" fill="#ff2020" fill-rule="evenodd"/>
<path d="M910 416l-28 -14l-46 3l-1 56l18 -3l36 -22l9 6l5 -5z" fill="#ff5a70" fill-rule="evenodd"/>
<path d="M1260 467l-24 -31l-27 -20l-40 -22l-54 43l-1 40l2 8l-39 16l4 11l-20 16l38 23l67 -27l63 -14l21 -13l5 -9l-3 -3l5 -8l0 -8z" fill="#3aa0ff" fill-rule="evenodd"/>
<path d="M1399 361l-62 62l1 11l53 43l20 0l0 -116z" fill="#ff5a40" fill-rule="evenodd"/>
<path d="M999 366l4 21l28 11l11 -14l-18 -25z" fill="#2a50ff" fill-rule="evenodd"/>
<path d="M1120 405l-7 -18l-36 4l11 18z" fill="#30ff90" fill-rule="evenodd"/>
<path d="M1001 250l-4 5l3 72l25 -2l-1 -66l-7 1l-11 -9z" fill="#e0ff90" fill-rule="evenodd"/>
<path d="M0 455l0 68l32 1l38 34l9 5l53 14l8 -1l-5 -18l-33 -55l5 -1l5 -15l-18 -6l-25 2l-5 -17l-44 -3l-8 -8z" fill="#ffff50" fill-rule="evenodd"/>
<path d="M112 488l-4 14l-5 1l33 55l5 18l4 1l17 -14l-35 -38l-12 -24l4 -10z" fill="#ff4070" fill-rule="evenodd"/>
<path d="M168 415l-8 0l-38 23l-9 2l-1 3l6 13l-11 26l1 3l12 6l-4 10l12 24l34 37l34 -21l40 -32l4 -15l-32 -2l-3 -11z" fill="#1a30ff" fill-rule="evenodd"/>
<path d="M0 524l0 77l13 0l26 -21l19 12l28 4l-22 15l-31 13l32 33l8 -1l5 -5l28 4l9 33l44 -28l2 -35l3 -10l-20 -29l-3 -9l-9 1l-53 -14l-9 -5l-38 -34z" fill="#5a20ff" fill-rule="evenodd"/>
<path d="M85 596l-27 -3l-19 -12l-26 21l-13 0l0 18l34 3l30 -13z" fill="#ff7020" fill-rule="evenodd"/>
<path d="M0 621l0 81l12 0l12 -10l32 -18l8 -17l-32 -33z" fill="#ffffc0" fill-rule="evenodd"/>
<path d="M106 656l-28 -4l-5 5l-8 1l-9 17l-32 18l-12 10l-12 0l0 24l12 0l6 6l64 0l3 4l27 -2l3 -46l-3 -4z" fill="#ffa080" fill-rule="evenodd"/>
<path d="M163 617l-3 43l-44 29l-2 45l3 3l7 0l52 19l27 -27l28 -21l4 0l-5 -6l0 -28l6 -5l-66 -44z" fill="#ff20c0" fill-rule="evenodd"/>
<path d="M142 578l28 46l51 32l17 14l21 5l40 -1l21 -21l31 -24l22 -5l1 -24l-3 -20l2 -17l-6 -7l-38 -21l-87 -27l-8 2l-38 32l-33 21l-16 14z" fill="#ff3a70" fill-rule="evenodd"/>
<path d="M386 554l-12 10l-2 5l3 31l-1 23l22 18l36 -9l2 -2l-6 -7l-24 -67z" fill="#ff30d0" fill-rule="evenodd"/>
<path d="M395 641l-23 -15l-21 4l-52 45l-40 1l-22 -6l-6 4l0 28l7 10l24 1l18 -5l37 4l53 -2l30 -36z" fill="#20ff20" fill-rule="evenodd"/>
<path d="M420 491l1 28l-17 36l26 70l5 5l19 0l52 42l28 14l14 -106l-33 2l-30 -22l-20 -47l6 -24l-5 2l-3 9l-24 -8z" fill="#60ff20" fill-rule="evenodd"/>
<path d="M614 571l-64 7l-2 5l-13 103l33 36l1 8l17 6l21 -7l12 -12l14 -21l11 -5l-15 -97l-7 -20z" fill="#ffb070" fill-rule="evenodd"/>
<path d="M434 631l-38 11l5 32l-30 37l11 13l21 15l54 84l-1 -9l-3 -2l107 -79l8 -3l0 -6l-33 -37l-29 -14l-52 -42z" fill="#ff3a5a" fill-rule="evenodd"/>
<path d="M706 688l-4 4l-27 -2l-31 2l-9 3l-15 22l-16 15l0 8l10 20l21 5l37 49l5 3l31 -1l0 -28l12 -4l0 -88z" fill="#40ffa0" fill-rule="evenodd"/>
<path d="M603 733l-17 4l-14 -6l-9 1l-108 79l3 12l85 -8l69 7l-5 -51l6 -12l-10 -19z" fill="#1a20ff" fill-rule="evenodd"/>
<path d="M614 761l-6 10l5 52l15 9l4 -3l32 -3l8 -11l-37 -49z" fill="#ff3060" fill-rule="evenodd"/>
<path d="M238 713l-5 6l2 41l-2 18l18 11l68 31l3 -1l7 -55l11 -51l-60 -4l-18 5z" fill="#ffc0a0" fill-rule="evenodd"/>
<path d="M341 713l-11 51l-7 54l44 90l44 4l20 -6l4 -3l1 -59l20 -21l-56 -86l-18 -12l-14 -15z" fill="#d080ff" fill-rule="evenodd"/>
<path d="M175 757l-51 -19l-7 0l-3 -3l-29 3l-20 41l3 85l3 3l28 -4l48 -16l5 -38l30 -31l-2 -11l-7 -8z" fill="#d0ffe0" fill-rule="evenodd"/>
<path d="M236 709l-5 0l-28 21l-29 29l7 8l2 11l8 4l11 0l31 -5l-1 -58l5 -6z" fill="#90ffff" fill-rule="evenodd"/>
<path d="M153 809l-5 34l1 11l6 17l23 37l-18 6l22 1l14 53l0 12l217 0l-2 -67l-45 -5l-43 -89l-4 2l-68 -31l-19 -12l-30 5l-11 0l-10 -4z" fill="#ff1a90" fill-rule="evenodd"/>
<path d="M628 833l-16 -10l-69 -7l-87 8l-19 20l-1 59l3 4l13 60l0 13l155 0l0 -13l28 -58l2 -34l-3 -2l-2 -33z" fill="#9a80ff" fill-rule="evenodd"/>
<path d="M437 904l-25 8l2 68l37 0l0 -13z" fill="#60f8ff" fill-rule="evenodd"/>
<path d="M667 826l-35 4l-3 3l4 7l2 33l15 0z" fill="#3a40ff" fill-rule="evenodd"/>
<path d="M0 728l0 167l66 -6l0 -16l5 -5l-4 -4l-3 -85l20 -42l-2 -3l-64 0l-6 -6z" fill="#ff7070" fill-rule="evenodd"/>
<path d="M147 848l-48 16l-27 4l-5 5l1 15l14 33l70 -6l25 -7l-23 -37z" fill="#e8ff20" fill-rule="evenodd"/>
<path d="M0 896l0 84l195 0l0 -12l-14 -53l-28 0l-71 7l-14 -33l-20 4z" fill="#40c0ff" fill-rule="evenodd"/>
<path d="M625 525l2 33l-4 18l9 28l13 87l30 -2l27 2l4 -4l16 9l30 -12l64 -19l31 -20l12 -53l4 -6l-30 -24l-3 -13l-7 -3l-9 -35l4 -13l-8 -1l-2 14l-68 11l-14 -9l0 -9l-23 -1l-8 -13l-7 -2l-6 11l-31 1l-11 3l-10 19z" fill="#ff2030" fill-rule="evenodd"/>
<path d="M854 458l-10 4l-10 0l-4 5l-19 6l0 23l8 2l-4 13l10 36l5 -1l8 -19l4 -18l-4 -15l21 -10l-5 -10z" fill="#d0ff30" fill-rule="evenodd"/>
<path d="M889 437l-34 21l0 16l5 10l-21 10l4 15l-5 21l-8 17l2 13l32 26l77 19l15 -12l4 -21l23 -27l-3 -2l-10 -25l-12 -15l0 -12l-17 -1l-18 -6l-2 -4l3 -9l-6 -13l-16 -11l-3 -5z" fill="#30fff0" fill-rule="evenodd"/>
<path d="M1030 520l-7 5l-10 21l11 53l4 5l14 -2l26 10l7 -4l24 -47l-1 -8l-37 -24l-26 -10z" fill="#ffa020" fill-rule="evenodd"/>
<path d="M984 546l-23 26l-4 21l8 5l9 -3l30 38l13 1l-1 -17l6 -4l5 -9l-4 -5l-11 -53z" fill="#1a20ff" fill-rule="evenodd"/>
<path d="M1274 497l-19 -8l-6 10l-20 12l-63 14l-68 27l2 9l-24 47l-7 4l2 6l4 2l-16 18l5 51l17 46l8 -1l58 -33l57 -49l69 -47l15 5l0 20l10 4l7 -20l-4 -32l-13 -48l-18 -25z" fill="#7a20ff" fill-rule="evenodd"/>
<path d="M1287 610l-14 -4l-69 47l-56 47l22 12l48 -12l41 -24l30 -24l0 -7l7 -10l-9 -5z" fill="#d040ff" fill-rule="evenodd"/>
<path d="M1289 534l12 43l5 36l-7 19l2 3l22 4l47 -8l6 -3l18 -40l5 -5l12 0l0 -29l-12 0l-6 -7l-32 0l-38 -18z" fill="#ff6a20" fill-rule="evenodd"/>
<path d="M1258 469l0 8l-5 9l22 11l-4 12l17 24l33 -4l-2 -31l-19 2l-3 -11l-4 -1l2 -20l-3 -4z" fill="#e0ff30" fill-rule="evenodd"/>
<path d="M1293 463l3 5l-2 20l4 1l3 11l19 -2l2 31l39 17l32 0l6 7l12 0l0 -75l-20 0l-54 -44l-9 1z" fill="#8a20ff" fill-rule="evenodd"/>
<path d="M1411 584l-12 0l-4 4l-19 41l-12 5l-41 6l-26 -5l-7 10l0 7l40 15l16 31l18 28l8 7l26 -16l13 0z" fill="#a0f0ff" fill-rule="evenodd"/>
<path d="M1287 653l-28 24l-41 24l9 12l92 59l-13 7l-1 6l3 0l43 -25l21 -26l-9 -8l-18 -28l-16 -31z" fill="#a0ff30" fill-rule="evenodd"/>
<path d="M1300 788l4 5l-2 -6zM1411 754l-12 0l-59 36l-67 30l-29 10l-2 -1l55 -32l-4 -6l-17 9l-19 3l-16 26l2 1l-5 18l-27 2l-16 7l-6 0l-1 12l-7 10l2 8l7 6l221 0zM1411 718l-13 0l-26 17l9 7l18 -11l12 0z" fill="#7a20ff" fill-rule="evenodd"/>
<path d="M1411 732l-12 0l-18 11l-9 -7l-21 25l-41 24l-6 1l0 8l-5 -5l-3 1l1 8l-56 32l32 -11l67 -30l59 -36l12 0z" fill="#c040ff" fill-rule="evenodd"/>
<path d="M1169 713l4 7l58 47l20 25l10 8l15 -1l27 -13l4 -9l12 -4l-92 -59l-10 -13z" fill="#50ffc0" fill-rule="evenodd"/>
<path d="M1130 712l11 36l26 60l-4 11l24 35l8 2l16 -7l26 -1l3 -19l16 -24l-2 -9l-23 -28l-58 -47l-5 -8l-19 -12z" fill="#ffe020" fill-rule="evenodd"/>
<path d="M1084 737l-8 24l55 32l18 21l13 4l4 -10l-26 -60l-11 -35z" fill="#b0ff30" fill-rule="evenodd"/>
<path d="M1014 635l7 137l10 6l42 -15l10 -26l-5 -4l-14 -40l-6 -53l-5 3l-32 -4z" fill="#2a90ff" fill-rule="evenodd"/>
<path d="M1011 634l-6 0l-43 18l-9 14l0 7l13 29l-1 7l15 48l21 18l17 -2l3 -3l-4 -28l-3 -100z" fill="#ffe040" fill-rule="evenodd"/>
<path d="M1074 620l-7 -8l-25 -9l-14 2l-11 12l1 18l3 3l32 4z" fill="#70ff30" fill-rule="evenodd"/>
<path d="M940 606l18 40l5 5l41 -17l-11 -11l-19 -27l-9 3l-9 -5z" fill="#a040ff" fill-rule="evenodd"/>
<path d="M863 587l-15 57l7 17l13 -3l3 -7l32 4l19 15l11 32l31 7l1 -7l-13 -29l0 -7l10 -15l-5 -5l-18 -40z" fill="#5a40ff" fill-rule="evenodd"/>
<path d="M855 663l-11 67l-3 47l13 1l14 -6l49 -6l29 -8l11 10l20 -7l-1 -16l-10 -34l-33 -8l-13 -34l-17 -13l-20 -4l-12 0l-3 7z" fill="#b060ff" fill-rule="evenodd"/>
<path d="M969 809l-10 -23l-2 -17l-11 -10l-29 8l-49 6l-14 6l-13 -1l-29 26l0 6l12 7l49 -8l30 -8l63 14z" fill="#ff2a2a" fill-rule="evenodd"/>
<path d="M1009 860l-44 -45l-62 -13l-45 11l-32 4l-5 11l19 41l-31 35l13 34l19 18l12 -5l29 -27l9 -2l3 -13l6 -6l53 -24l55 -15z" fill="#60ffff" fill-rule="evenodd"/>
<path d="M740 828l-3 15l6 22l33 14l32 23l31 -33l-19 -41l3 -11l-11 -6l-34 2z" fill="#ff6a80" fill-rule="evenodd"/>
<path d="M673 816l-7 9l2 2l-17 46l-13 2l-3 40l-27 52l0 13l210 0l3 -43l-13 -34l-32 -23l-32 -13l-9 -25l-5 3l0 29l-11 4l1 29l9 4l1 4l-12 -4l-3 6l-8 -2l-3 -3l0 -38l11 -5l-7 -20l-1 -12l19 -1l9 -12l-9 -13l-16 -3l-2 9l-31 1z" fill="#ff3a1a" fill-rule="evenodd"/>
<path d="M736 825l-10 12l-18 0l1 12l7 20l-11 5l0 38l8 4l5 -6l11 5l0 -3l-10 -5l-1 -29l11 -4l0 -29l7 -4l3 -12z" fill="#80ffff" fill-rule="evenodd"/>
<path d="M1035 884l-10 -2l-16 -18l-56 16l-47 21l-11 8l-3 13l9 10l9 3l4 8l96 -22l6 2l4 -15z" fill="#1a50ff" fill-rule="evenodd"/>
<path d="M1015 924l-5 -2l-62 16l-35 6l-4 9l-1 27l87 0l0 -33l20 -1z" fill="#ff1a2a" fill-rule="evenodd"/>
<path d="M910 936l-9 -3l-9 -10l-10 2l-29 27l-12 5l0 23l66 0l1 -27l5 -10z" fill="#40ff60" fill-rule="evenodd"/>
<path d="M957 770l3 16l10 23l-3 6l2 4l34 33l20 27l14 4l21 -14l57 -25l38 -27l-22 -23l-54 -32l-46 17l-10 -6l-20 3l-18 -14l-5 -1z" fill="#40ff9a" fill-rule="evenodd"/>
<path d="M1162 819l-8 -2l-39 28l-57 25l-22 14l-15 24l-5 16l1 20l19 3l0 33l76 0l3 -88l63 -12l9 -11l1 -13z" fill="#60ffb0" fill-rule="evenodd"/>
<path d="M1035 947l-18 -2l-2 2l-19 0l0 33l39 0z" fill="#3a40ff" fill-rule="evenodd"/>
<path d="M299 329l1 5l5 0zM0 0l0 150l160 -3l0 -147zM1008 131l-20 -7l-51 1l-9 -10l-21 1l-5 16l-122 105l-7 5l-14 1l-7 6l-6 0l12 33l0 12l-12 29l-14 16l77 6l13 4l0 -6l18 -33l9 -8l29 1l19 26l5 2l95 0l2 -12l-3 -64l5 -6l-2 -31l18 -67zM822 939l-3 41l21 0l0 -23zM1116 892l-3 88l298 0l0 -86l-221 0l-8 -7l-2 -7zM1255 797l2 5l3 -1zM978 753l0 7l3 1zM847 646l-31 20l-95 31l0 87l-12 4l1 19l16 3l9 13l6 4l37 -15l33 -2l1 -8l28 -24l3 -48l12 -68zM161 0l0 101l14 0l78 12l7 15l93 11l-3 -7l37 -37l16 -11l29 -13l-3 -7l5 -5l3 -16l-18 3l-11 5l-42 -7l-29 -14l-18 -18l0 -12zM320 0l0 12l17 17l29 14l42 7l11 -5l18 -3l11 -14l4 -16l0 -12zM449 27l9 3l16 18l33 22l52 -11l44 -2l40 -28l1 -29l-191 0l0 12zM449 28l-11 14l-3 17l-5 5l4 8l4 -1l3 16l5 9l29 21l14 5l12 -7l-1 -26l-4 -14l5 -1l3 -4l-30 -21l-16 -18zM601 57l-42 3l-51 10l-11 5l4 14l0 27l8 2l9 -5l23 6l32 1l0 -9l18 -16zM437 71l-28 11l-22 14l-36 36l12 22l38 -37l34 -21l8 -1zM574 111l0 10l63 45l54 33l10 -4l9 18l3 18l12 0l6 3l14 14l7 0l6 -5l-5 -12l5 -7l-32 -42l-16 -3l-13 4l-3 -2l0 -4l10 -3l0 -11l-13 -1l0 -9l-12 -3l-28 -14l-58 -40zM492 120l-3 5l13 35l7 44l22 51l27 42l36 27l15 29l18 12l21 -2l16 -5l1 2l12 -1l22 -6l10 5l9 -21l12 2l15 -16l12 -29l-1 -15l-11 -30l-14 -14l-19 -4l-2 -15l-9 -20l-10 4l-57 -35l-61 -44l-32 -1l-23 -6l-9 5l-9 -2zM606 350l-13 -26l-37 -26l-51 36l-53 31l-97 69l21 11l4 -5l57 -11l32 4l9 -10l52 -15l48 -31zM444 95l-9 2l-34 21l-37 37l-3 12l-28 34l-12 10l12 31l6 0l42 25l0 35l-6 7l-14 30l6 8l-4 16l-85 4l3 26l-2 4l58 21l17 13l50 -31l54 -40l47 -27l52 -36l-27 -42l-22 -51l-6 -40l-14 -41l-13 -5zM161 102l0 45l7 7l16 7l25 2l13 10l20 7l8 -6l5 1l0 -47l4 0l-6 -14l-78 -12zM256 128l0 47l35 15l29 21l12 -10l30 -37l1 -9l-11 -16zM265 253l-30 -24l-3 3l0 18l-5 11l-39 0l-3 -6l-11 27l-39 7l-16 -25l6 17l-20 38l-23 34l-40 14l-42 0l0 59l52 -5l51 4l10 14l5 0l40 -24l10 -1l4 -14l-3 -13l13 -7l6 -12l21 -6l10 4l23 3l26 -11l9 -1l2 -9l9 -1l11 -15l-15 -28l-2 -16l-2 1zM172 157l-11 -9l-161 3l0 16l12 0l21 15l21 48l-19 33l22 -22l47 0l-1 -4l25 -14l32 7l25 22l-1 -21l2 -2l-12 -17l-15 -37l12 -13zM0 168l0 125l12 0l22 -29l19 -34l-21 -48l-20 -14zM105 242l-48 0l-26 26l-19 26l-12 0l0 44l35 2l4 22l3 4l40 -14l22 -33l20 -38l-6 -18zM173 157l-1 5l-12 13l12 31l15 24l46 0l8 -50l-17 -5l-15 -11l-25 -2zM103 238l32 50l39 -7l11 -27l-25 -23l-32 -7zM250 175l-8 6l-6 26l-1 21l31 25l14 35l29 -29l23 -17l-15 -34l-36 -22zM337 242l-5 1l-23 17l-22 23l-4 8l2 13l17 27l8 4l41 8l10 -5l13 -29l6 -7l0 -35zM185 231l0 17l46 0l1 -17zM185 249l3 11l39 0l4 -10zM277 358l1 8l84 -3l4 -16l-6 -7l-9 4l-52 -9l-11 13l-8 0l0 7zM276 358l-36 12l0 6l20 11l1 10l3 2l16 -4zM187 375l-5 6l-12 6l3 13l-4 15l37 66l3 11l14 -1l2 -13l-17 -40zM188 369l-1 5l4 5l18 59l17 40l-2 13l28 3l11 -94l-3 -3l-1 -10l-16 -7l-4 -4l0 -6l-30 -7zM264 400l-11 94l-12 0l-2 13l40 10l50 17l35 19l10 10l12 -10l17 1l17 -35l-1 -28l-15 2l-3 -13l-15 -14l-11 -20l-20 -11l-18 -16l-57 -21zM0 427l0 27l12 0l8 8l44 3l5 17l25 -2l12 4l11 -28l-6 -13l1 -4l-9 -13l-51 -4zM470 434l-33 -4l-57 11l-4 6l11 19l15 14l2 12l18 -2l0 -18l53 -3l2 -2l-2 -25zM477 468l-2 2l-53 3l1 17l16 1l24 8l5 -11l9 0zM649 363l-22 3l-20 -14l-29 26l-48 31l-52 15l-8 9l7 15l1 40l-6 1l-6 24l20 47l29 21l34 -1l1 -3l64 -7l8 3l4 -15l-2 -33l5 -3l10 -18l-8 -10l-2 -12l17 -4l-3 -13l26 -2zM665 361l17 101l19 5l-6 20l6 13l25 3l1 10l13 8l68 -11l2 -37l20 -7l4 -5l3 -64l-4 -39l-12 -9l-12 -3l-91 -8l-9 21l-10 -5zM664 359l-14 4l19 98l10 2l2 -5zM700 467l-11 -4l-46 3l4 9l0 26l35 -3l6 -11l6 1zM646 479l-16 3l2 12l8 8l6 -1zM645 0l-1 28l23 -2l3 -3l0 -23zM671 0l0 23l-3 3l3 3l0 7l27 0l10 6l7 -19l-11 -5l0 -18zM0 339l0 27l39 0l-4 -25zM705 0l0 18l11 5l-10 27l0 22l10 -3l49 1l15 16l16 3l61 -4l37 16l-19 -32l-35 -27l-24 -28l-1 -14zM706 73l2 20l18 2l27 18l26 -26l-14 -16l-49 -1zM592 93l59 42l28 14l12 3l0 9l12 0l2 13l-11 4l2 4l8 -4l22 3l33 43l-5 5l5 13l14 -1l121 -102l7 -7l5 -14l-8 -14l-41 -18l-61 4l-16 -3l-27 27l-27 -18l-19 -3l-3 -25l3 -26l-9 -5l-27 0l-3 -10l-23 1l-9 9l-34 21zM816 0l1 14l23 27l36 28l19 33l12 13l21 -1l11 -13l1 -17l-11 -18l-41 -16l-5 -19l-2 -31zM882 0l2 31l5 19l33 14l10 1l21 -16l7 -2l-1 -17l4 -30zM961 48l-8 2l-16 14l-7 2l15 26l31 -4l-4 -27zM987 123l-2 -10l-5 -6l-3 -18l-29 4l-6 -2l-3 2l1 8l-11 13l8 10zM1128 81l-3 -2l-70 48l34 0l3 2l28 -38l8 -6zM1198 35l-52 29l-6 6l24 -3l19 -8l9 -9zM961 47l12 14l3 26l12 36l20 6l7 -6l9 -1l53 -44l69 -46l56 -18l1 10l3 -8l0 -16l-242 0l-4 30zM1202 15l-56 18l-69 46l-53 44l-11 2l-5 5l10 18l10 -2l6 -5l4 -14l18 -1l69 -48l3 2l12 -8l-1 -4l58 -33l5 -9zM1094 241l24 16l15 -2l7 3l19 1l4 -1l21 -24l90 -4l-6 -6l0 -42l60 -35l-20 0l-68 -20l-67 -23l-32 -19l-12 0l-8 6l-29 39zM1207 0l0 16l-14 34l-10 10l-18 7l0 8l109 36l63 13l7 13l-5 -97l-31 -14l-18 -12l-2 -14zM1129 79l0 5l12 0l32 19l135 43l21 1l15 -5l-7 -17l-63 -13l-109 -36l-2 -8l-12 0zM1341 40l3 98l2 2l5 -2l5 12l43 16l12 0l0 -133zM1289 0l1 13l18 12l32 15l54 -8l17 0l0 -32zM1411 167l-12 0l-42 -16l2 6l-49 38l-32 42l3 25l-7 30l-62 3l-8 14l-6 3l-4 10l-25 28l2 45l38 20l27 20l25 32l31 -4l7 -8l29 -21l9 -1l-1 -10l63 -63l12 0zM1351 139l-24 10l-58 33l0 42l9 12l32 -42l48 -37zM1117 257l-23 -15l-51 3l-19 13l1 65l23 -8l44 -33l8 -2l0 -6zM1117 258l-16 16l0 6l53 52l14 18l25 -28l4 -10l-13 -11l-11 -5l-32 -33l-2 -5l-6 -2zM1280 262l-3 -26l-3 -5l-90 4l-20 21l1 3l5 1l10 -1l36 36l57 -3zM1141 259l1 4l31 32l11 5l13 11l6 -2l9 -17l-32 -32zM1089 128l-51 0l-3 13l-7 6l-10 2l-18 69l2 31l15 10l8 -2l18 -13l50 -2l-1 -99zM838 403l44 -2l28 14l25 -11l13 4l45 -36l11 -20l2 -9l-8 -11l-100 -1l-7 14l28 42l-8 18l-15 -2l-45 -41l-10 -4l-7 0zM847 304l-24 39l0 7l10 7l14 1l49 44l14 3l8 -18l-28 -42l7 -14l-13 -21l-8 -7zM1101 281l-6 0l-55 39l-18 7l-23 1l-1 3l9 12l0 4l-11 22l-8 9l-39 30l8 13l31 25l29 35l-3 11l25 11l-4 15l23 10l22 -16l-3 -12l38 -15l-2 -8l1 -40l17 -16l38 -28l-1 -42l-15 -19zM1121 405l-33 5l-12 -19l37 -5zM999 365l25 -7l19 26l-12 15l-28 -11zM911 415l0 3l7 2l50 54l5 15l26 -1l5 2l-4 13l6 18l11 -1l6 4l11 -6l4 -15l-25 -11l3 -9l-25 -33l-29 -23l-15 -19l-12 -3zM911 419l-11 24l19 15l6 13l-3 11l19 7l18 2l0 12l12 15l10 25l7 3l25 -1l9 -20l-5 -4l-12 0l-6 -18l4 -13l-30 0l-4 -13l-51 -56zM910 416l-28 -14l-46 3l-1 56l18 -3l36 -22l9 6l5 -5zM1260 467l-24 -31l-27 -20l-40 -22l-54 43l-1 40l2 8l-39 16l4 11l-20 16l38 23l67 -27l63 -14l21 -13l5 -9l-3 -3l5 -8l0 -8zM1399 361l-62 62l1 11l53 43l20 0l0 -116zM999 366l4 21l28 11l11 -14l-18 -25zM1120 405l-7 -18l-36 4l11 18zM1001 250l-4 5l3 72l25 -2l-1 -66l-7 1l-11 -9zM0 455l0 68l32 1l38 34l9 5l53 14l8 -1l-5 -18l-33 -55l5 -1l5 -15l-18 -6l-25 2l-5 -17l-44 -3l-8 -8zM112 488l-4 14l-5 1l33 55l5 18l4 1l17 -14l-35 -38l-12 -24l4 -10zM168 415l-8 0l-38 23l-9 2l-1 3l6 13l-11 26l1 3l12 6l-4 10l12 24l34 37l34 -21l40 -32l4 -15l-32 -2l-3 -11zM0 524l0 77l13 0l26 -21l19 12l28 4l-22 15l-31 13l32 33l8 -1l5 -5l28 4l9 33l44 -28l2 -35l3 -10l-20 -29l-3 -9l-9 1l-53 -14l-9 -5l-38 -34zM85 596l-27 -3l-19 -12l-26 21l-13 0l0 18l34 3l30 -13zM0 621l0 81l12 0l12 -10l32 -18l8 -17l-32 -33zM106 656l-28 -4l-5 5l-8 1l-9 17l-32 18l-12 10l-12 0l0 24l12 0l6 6l64 0l3 4l27 -2l3 -46l-3 -4zM163 617l-3 43l-44 29l-2 45l3 3l7 0l52 19l27 -27l28 -21l4 0l-5 -6l0 -28l6 -5l-66 -44zM142 578l28 46l51 32l17 14l21 5l40 -1l21 -21l31 -24l22 -5l1 -24l-3 -20l2 -17l-6 -7l-38 -21l-87 -27l-8 2l-38 32l-33 21l-16 14zM386 554l-12 10l-2 5l3 31l-1 23l22 18l36 -9l2 -2l-6 -7l-24 -67zM395 641l-23 -15l-21 4l-52 45l-40 1l-22 -6l-6 4l0 28l7 10l24 1l18 -5l37 4l53 -2l30 -36zM420 491l1 28l-17 36l26 70l5 5l19 0l52 42l28 14l14 -106l-33 2l-30 -22l-20 -47l6 -24l-5 2l-3 9l-24 -8zM614 571l-64 7l-2 5l-13 103l33 36l1 8l17 6l21 -7l12 -12l14 -21l11 -5l-15 -97l-7 -20zM434 631l-38 11l5 32l-30 37l11 13l21 15l54 84l-1 -9l-3 -2l107 -79l8 -3l0 -6l-33 -37l-29 -14l-52 -42zM706 688l-4 4l-27 -2l-31 2l-9 3l-15 22l-16 15l0 8l10 20l21 5l37 49l5 3l31 -1l0 -28l12 -4l0 -88zM603 733l-17 4l-14 -6l-9 1l-108 79l3 12l85 -8l69 7l-5 -51l6 -12l-10 -19zM614 761l-6 10l5 52l15 9l4 -3l32 -3l8 -11l-37 -49zM238 713l-5 6l2 41l-2 18l18 11l68 31l3 -1l7 -55l11 -51l-60 -4l-18 5zM341 713l-11 51l-7 54l44 90l44 4l20 -6l4 -3l1 -59l20 -21l-56 -86l-18 -12l-14 -15zM175 757l-51 -19l-7 0l-3 -3l-29 3l-20 41l3 85l3 3l28 -4l48 -16l5 -38l30 -31l-2 -11l-7 -8zM236 709l-5 0l-28 21l-29 29l7 8l2 11l8 4l11 0l31 -5l-1 -58l5 -6zM153 809l-5 34l1 11l6 17l23 37l-18 6l22 1l14 53l0 12l217 0l-2 -67l-45 -5l-43 -89l-4 2l-68 -31l-19 -12l-30 5l-11 0l-10 -4zM628 833l-16 -10l-69 -7l-87 8l-19 20l-1 59l3 4l13 60l0 13l155 0l0 -13l28 -58l2 -34l-3 -2l-2 -33zM437 904l-25 8l2 68l37 0l0 -13zM667 826l-35 4l-3 3l4 7l2 33l15 0zM0 728l0 167l66 -6l0 -16l5 -5l-4 -4l-3 -85l20 -42l-2 -3l-64 0l-6 -6zM147 848l-48 16l-27 4l-5 5l1 15l14 33l70 -6l25 -7l-23 -37zM0 896l0 84l195 0l0 -12l-14 -53l-28 0l-71 7l-14 -33l-20 4zM625 525l2 33l-4 18l9 28l13 87l30 -2l27 2l4 -4l16 9l30 -12l64 -19l31 -20l12 -53l4 -6l-30 -24l-3 -13l-7 -3l-9 -35l4 -13l-8 -1l-2 14l-68 11l-14 -9l0 -9l-23 -1l-8 -13l-7 -2l-6 11l-31 1l-11 3l-10 19zM854 458l-10 4l-10 0l-4 5l-19 6l0 23l8 2l-4 13l10 36l5 -1l8 -19l4 -18l-4 -15l21 -10l-5 -10zM889 437l-34 21l0 16l5 10l-21 10l4 15l-5 21l-8 17l2 13l32 26l77 19l15 -12l4 -21l23 -27l-3 -2l-10 -25l-12 -15l0 -12l-17 -1l-18 -6l-2 -4l3 -9l-6 -13l-16 -11l-3 -5zM1030 520l-7 5l-10 21l11 53l4 5l14 -2l26 10l7 -4l24 -47l-1 -8l-37 -24l-26 -10zM984 546l-23 26l-4 21l8 5l9 -3l30 38l13 1l-1 -17l6 -4l5 -9l-4 -5l-11 -53zM1274 497l-19 -8l-6 10l-20 12l-63 14l-68 27l2 9l-24 47l-7 4l2 6l4 2l-16 18l5 51l17 46l8 -1l58 -33l57 -49l69 -47l15 5l0 20l10 4l7 -20l-4 -32l-13 -48l-18 -25zM1287 610l-14 -4l-69 47l-56 47l22 12l48 -12l41 -24l30 -24l0 -7l7 -10l-9 -5zM1289 534l12 43l5 36l-7 19l2 3l22 4l47 -8l6 -3l18 -40l5 -5l12 0l0 -29l-12 0l-6 -7l-32 0l-38 -18zM1258 469l0 8l-5 9l22 11l-4 12l17 24l33 -4l-2 -31l-19 2l-3 -11l-4 -1l2 -20l-3 -4zM1293 463l3 5l-2 20l4 1l3 11l19 -2l2 31l39 17l32 0l6 7l12 0l0 -75l-20 0l-54 -44l-9 1zM1411 584l-12 0l-4 4l-19 41l-12 5l-41 6l-26 -5l-7 10l0 7l40 15l16 31l18 28l8 7l26 -16l13 0zM1287 653l-28 24l-41 24l9 12l92 59l-13 7l-1 6l3 0l43 -25l21 -26l-9 -8l-18 -28l-16 -31zM1300 788l4 5l-2 -6zM1411 754l-12 0l-59 36l-67 30l-29 10l-2 -1l55 -32l-4 -6l-17 9l-19 3l-16 26l2 1l-5 18l-27 2l-16 7l-6 0l-1 12l-7 10l2 8l7 6l221 0zM1411 718l-13 0l-26 17l9 7l18 -11l12 0zM1411 732l-12 0l-18 11l-9 -7l-21 25l-41 24l-6 1l0 8l-5 -5l-3 1l1 8l-56 32l32 -11l67 -30l59 -36l12 0zM1169 713l4 7l58 47l20 25l10 8l15 -1l27 -13l4 -9l12 -4l-92 -59l-10 -13zM1130 712l11 36l26 60l-4 11l24 35l8 2l16 -7l26 -1l3 -19l16 -24l-2 -9l-23 -28l-58 -47l-5 -8l-19 -12zM1084 737l-8 24l55 32l18 21l13 4l4 -10l-26 -60l-11 -35zM1014 635l7 137l10 6l42 -15l10 -26l-5 -4l-14 -40l-6 -53l-5 3l-32 -4zM1011 634l-6 0l-43 18l-9 14l0 7l13 29l-1 7l15 48l21 18l17 -2l3 -3l-4 -28l-3 -100zM1074 620l-7 -8l-25 -9l-14 2l-11 12l1 18l3 3l32 4zM940 606l18 40l5 5l41 -17l-11 -11l-19 -27l-9 3l-9 -5zM863 587l-15 57l7 17l13 -3l3 -7l32 4l19 15l11 32l31 7l1 -7l-13 -29l0 -7l10 -15l-5 -5l-18 -40zM855 663l-11 67l-3 47l13 1l14 -6l49 -6l29 -8l11 10l20 -7l-1 -16l-10 -34l-33 -8l-13 -34l-17 -13l-20 -4l-12 0l-3 7zM969 809l-10 -23l-2 -17l-11 -10l-29 8l-49 6l-14 6l-13 -1l-29 26l0 6l12 7l49 -8l30 -8l63 14zM1009 860l-44 -45l-62 -13l-45 11l-32 4l-5 11l19 41l-31 35l13 34l19 18l12 -5l29 -27l9 -2l3 -13l6 -6l53 -24l55 -15zM740 828l-3 15l6 22l33 14l32 23l31 -33l-19 -41l3 -11l-11 -6l-34 2zM673 816l-7 9l2 2l-17 46l-13 2l-3 40l-27 52l0 13l210 0l3 -43l-13 -34l-32 -23l-32 -13l-9 -25l-5 3l0 29l-11 4l1 29l9 4l1 4l-12 -4l-3 6l-8 -2l-3 -3l0 -38l11 -5l-7 -20l-1 -12l19 -1l9 -12l-9 -13l-16 -3l-2 9l-31 1zM736 825l-10 12l-18 0l1 12l7 20l-11 5l0 38l8 4l5 -6l11 5l0 -3l-10 -5l-1 -29l11 -4l0 -29l7 -4l3 -12zM1035 884l-10 -2l-16 -18l-56 16l-47 21l-11 8l-3 13l9 10l9 3l4 8l96 -22l6 2l4 -15zM1015 924l-5 -2l-62 16l-35 6l-4 9l-1 27l87 0l0 -33l20 -1zM910 936l-9 -3l-9 -10l-10 2l-29 27l-12 5l0 23l66 0l1 -27l5 -10zM957 770l3 16l10 23l-3 6l2 4l34 33l20 27l14 4l21 -14l57 -25l38 -27l-22 -23l-54 -32l-46 17l-10 -6l-20 3l-18 -14l-5 -1zM1162 819l-8 -2l-39 28l-57 25l-22 14l-15 24l-5 16l1 20l19 3l0 33l76 0l3 -88l63 -12l9 -11l1 -13zM1035 947l-18 -2l-2 2l-19 0l0 33l39 0z" fill="none" stroke="#000" stroke-width="2.8" stroke-opacity="0.85" stroke-linejoin="round"/>
</g>
</svg>
<svg x="936.2" y="1001.2" width="694.3" height="478.4" viewBox="0 0 694.3 478.4" preserveAspectRatio="none" overflow="hidden">
<rect width="694.3" height="478.4" fill="#ffff00"/>
<g transform="translate(-5.75,-5.75) scale(0.5)">
<path d="M0 892l0 88l178 0l0 -66l-49 2l-45 9l-15 -23l-2 -18l-1 8zM39 687l-20 5l17 -2zM0 0l0 340l13 0l13 6l19 19l-12 12l-19 7l-14 0l0 213l13 0l24 -18l11 -3l4 18l32 -4l0 13l-24 7l-16 8l-16 0l13 10l19 36l-16 18l15 -15l25 -15l18 0l12 30l-1 49l-29 4l-37 -5l-47 -2l0 38l40 0l20 15l7 91l72 -22l17 3l-3 -50l24 -19l-13 -25l26 -8l8 27l-10 4l42 -9l31 23l42 14l20 16l25 28l15 52l9 2l51 -2l11 -52l15 -19l15 4l3 81l0 -81l-15 -32l35 -28l70 -45l39 -1l12 19l3 59l22 25l6 34l30 -46l36 -7l10 4l13 0l0 7l90 -9l22 60l31 14l7 32l-21 26l-7 17l0 12l60 0l0 -12l-13 -30l-4 -35l39 -22l34 -6l35 -11l21 3l15 22l-7 33l7 58l375 0l0 -267l-13 0l-16 -7l1 -14l15 -6l13 0l0 -138l-16 0l-71 -13l-6 -37l-23 4l-9 -2l3 -10l0 -20l21 -25l21 -14l35 20l21 19l0 29l24 -5l0 -454l-49 0l-58 -14l-20 -14l0 -12l-108 0l-1 13l-69 52l-71 47l-18 7l-31 -3l-14 -21l-34 14l-41 -4l-45 -48l-20 -16l-18 -28l0 -13l-87 0l0 11l11 6l-11 28l-2 17l13 0l27 10l12 15l-13 20l-16 9l-9 -10l-13 -4l0 -10l-12 0l-11 -8l0 -22l-44 -29l-7 -21l0 -12l-188 0l-4 33l-48 19l-37 -3l-36 -15l-23 -16l-43 -2l-1 -16zM1185 858l2 22l-35 -1l1 -8zM954 755l6 39l-28 6l-33 3l-36 11l-34 4l-8 -12l18 -18l31 -14l62 -20zM1126 717l-22 25l-21 -1l0 -11l26 -17zM1129 709l17 -7l28 22l27 12l19 22l20 28l7 29l-8 30l-48 11l-18 -27l-35 -84zM450 675l4 8l-37 23l-9 -5zM229 668l23 3l1 15l-19 9zM174 614l-1 18l-7 1l-2 -16zM929 598l-42 -1l-15 -11l46 -5zM112 487l14 7l-4 11l14 28l22 29l-12 16l-20 -24l-21 -36l-4 -18l8 -2zM244 479l30 -5l6 14l20 -9l3 9l16 23l-4 18l-26 -2l-44 -15l-5 -19zM691 463l5 15l-4 12l4 5l-4 8l-22 8l-23 19l-16 -19l-2 -29l4 -1l-2 -13l23 -9zM373 445l40 -15l36 -3l27 4l7 40l-3 20l-4 3l-6 21l18 48l13 24l44 -10l4 35l-12 79l-32 -13l-29 -23l-28 -27l-14 -28l-4 -46l2 59l8 15l-20 12l-27 -13l-17 -26l-8 -24l24 -20l25 -29l10 0l-7 -23l0 -14l-21 3l-1 -13l-9 -7zM183 372l48 77l6 29l-5 15l-23 -1l0 -13l-38 -66l-4 -26zM849 314l7 6l14 -3l17 31l26 30l12 25l28 0l48 -38l36 19l74 2l8 21l-10 21l11 56l-48 19l1 12l-16 15l34 17l14 21l-12 24l-23 26l-13 23l4 49l17 39l3 22l-59 36l-8 -12l-13 -8l18 19l-28 39l-29 -32l0 -31l21 -6l-17 -13l2 15l-13 0l-3 -28l7 -2l-7 -14l2 -4l-25 -13l-8 -22l-20 -17l-24 -9l-25 -20l3 -9l15 -18l52 0l42 46l-14 17l3 4l14 -22l26 -13l-6 -13l-21 -15l-7 -21l7 -27l45 -25l44 -3l-34 -5l-34 17l-29 -37l-1 -14l-16 -1l-29 -11l5 -11l-14 -22l-2 -11l-45 22l-22 -1l0 -114zM1109 252l-16 24l-37 33l-46 19l1 -70l17 -6l8 -11l55 -3zM112 238l16 -16l29 7l28 19l49 0l1 2l-5 11l-40 0l-25 21l-30 8l-19 -16l4 -22zM565 117l16 -8l31 27l43 29l-16 4l-36 -14zM172 98l30 12l50 6l15 11l44 0l36 11l19 27l-23 30l-20 18l11 25l8 4l-3 -4l12 -5l19 23l-4 2l11 9l4 33l-17 32l-17 5l-57 -22l-8 39l-7 3l7 20l-8 22l-14 0l-20 -26l2 -1l-4 2l-38 -16l0 -18l60 -56l21 7l-15 -10l-6 -19l-15 -27l-15 0l-1 -7l-35 0l-38 -49l11 -21zM1180 65l115 43l47 9l4 21l15 14l-22 33l-15 -1l0 -19l-2 9l-51 3l-4 52l-58 3l-36 21l-28 5l28 0l28 18l15 21l-15 15l-31 -19l-23 -18l-6 -16l-30 -6l-18 -14l-3 -104l14 -15l12 -25l16 -19zM430 59l38 -27l4 19l21 3l9 31l11 21l-9 16l-25 -4l-30 -18l-7 -24l-8 1z" fill="#ffff00" fill-rule="evenodd"/>
<path d="M274 0l0 15l43 2l23 16l36 15l37 3l47 -18l4 -20l0 -13z" fill="#0000ff" fill-rule="evenodd"/>
<path d="M471 52l-22 22l-6 1l5 22l31 20l25 4l8 -15l-11 -21l-7 -28z" fill="#0000ff" fill-rule="evenodd"/>
<path d="M654 0l0 12l7 21l44 29l1 23l9 6l12 0l-2 -37l13 -37l-11 -6l0 -11z" fill="#0000ff" fill-rule="evenodd"/>
<path d="M172 99l-4 59l-11 21l37 48l35 0l1 7l15 0l16 28l6 19l14 8l9 25l57 22l15 -3l18 -33l-4 -33l-11 -9l-7 3l-15 -18l-9 -4l-12 -26l20 -18l23 -30l-17 -25l-37 -12l-44 0l-15 -11l-50 -6z" fill="#0000ff" fill-rule="evenodd"/>
<path d="M113 238l8 14l-4 22l18 15l30 -8l25 -21l40 0l4 -10l-49 -1l-28 -19l-29 -7z" fill="#0000ff" fill-rule="evenodd"/>
<path d="M0 341l0 42l14 0l19 -7l11 -11l-18 -18l-13 -6z" fill="#0000ff" fill-rule="evenodd"/>
<path d="M183 373l-15 14l4 26l38 66l0 13l22 0l4 -14l-6 -29z" fill="#0000ff" fill-rule="evenodd"/>
<path d="M274 358l-33 15l19 25l14 0l7 -23z" fill="#0000ff" fill-rule="evenodd"/>
<path d="M566 117l37 37l36 14l15 -3l-42 -28l-31 -27z" fill="#0000ff" fill-rule="evenodd"/>
<path d="M468 33l-37 26l4 18l14 -4l22 -22z" fill="#ff0000" fill-rule="evenodd"/>
<path d="M281 292l-21 -7l-59 55l0 18l37 15l43 -19l8 -38z" fill="#ff0000" fill-rule="evenodd"/>
<path d="M340 238l18 22l11 -4l-18 -22z" fill="#ff0000" fill-rule="evenodd"/>
<path d="M816 0l0 13l18 28l19 15l45 48l41 4l34 -14l14 21l31 3l18 -7l71 -47l69 -52l0 -12z" fill="#0000ff" fill-rule="evenodd"/>
<path d="M726 63l2 39l12 3l9 10l14 -7l14 -21l-9 -12l-29 -12z" fill="#0000ff" fill-rule="evenodd"/>
<path d="M1342 118l-47 -9l-115 -43l-48 11l-15 18l-12 25l-14 15l3 104l17 13l28 7l34 -7l36 -21l58 -3l3 -51l52 -4l2 -17l21 -17z" fill="#0000ff" fill-rule="evenodd"/>
<path d="M1346 139l-21 17l0 28l14 0l21 -32z" fill="#0000ff" fill-rule="evenodd"/>
<path d="M1286 0l0 12l19 13l58 14l49 0l0 -39z" fill="#0000ff" fill-rule="evenodd"/>
<path d="M1108 252l-17 -13l-55 3l-8 11l-17 6l0 69l45 -20l36 -32z" fill="#0000ff" fill-rule="evenodd"/>
<path d="M1142 259l5 15l54 37l14 -14l-14 -20l-26 -17z" fill="#0000ff" fill-rule="evenodd"/>
<path d="M870 318l-14 3l-7 -6l-14 27l0 114l21 0l43 -21l25 -31l-12 -26l-26 -30z" fill="#0000ff" fill-rule="evenodd"/>
<path d="M1111 387l-74 -2l-36 -19l-46 37l-30 1l-24 28l3 14l14 22l-5 11l28 10l16 1l2 15l28 36l34 -17l36 5l15 -14l-2 -9l2 -4l31 -14l16 -4l-11 -56l10 -20z" fill="#0000ff" fill-rule="evenodd"/>
<path d="M112 488l-2 10l-8 2l4 18l21 36l19 23l11 -15l-22 -29l-14 -28l4 -11z" fill="#0000ff" fill-rule="evenodd"/>
<path d="M245 479l-4 11l4 21l44 15l25 3l4 -18l-16 -23l-2 -8l-20 9l-6 -14z" fill="#0000ff" fill-rule="evenodd"/>
<path d="M84 591l-32 4l-4 -18l-11 3l-24 18l-13 0l0 15l44 4l16 -8l24 -7z" fill="#0000ff" fill-rule="evenodd"/>
<path d="M0 614l0 79l15 0l25 -7l19 -22l-19 -36l-14 -11z" fill="#0000ff" fill-rule="evenodd"/>
<path d="M427 529l-10 0l-19 23l-29 25l6 20l19 30l26 12l19 -11l-8 -15z" fill="#0000ff" fill-rule="evenodd"/>
<path d="M373 446l17 28l9 7l0 12l22 -2l0 14l8 29l6 66l14 28l56 49l32 13l3 -35l8 -43l-4 -35l-43 11l-14 -25l-18 -48l6 -21l4 -3l3 -20l-7 -40l-26 -3l-36 3z" fill="#0000ff" fill-rule="evenodd"/>
<path d="M691 464l-37 -4l-22 8l2 13l-4 1l2 29l15 18l23 -19l21 -7l4 -8l-4 -4l4 -8z" fill="#0000ff" fill-rule="evenodd"/>
<path d="M230 668l4 26l18 -8l0 -14z" fill="#0000ff" fill-rule="evenodd"/>
<path d="M154 803l3 50l16 23l7 35l-1 69l288 0l-3 -140l-15 -4l-14 18l-12 53l-51 2l-10 -3l-14 -50l-25 -29l-20 -16l-42 -14l-31 -23l-55 11z" fill="#0000ff" fill-rule="evenodd"/>
<path d="M158 855l-19 -4l-72 22l3 29l13 21l46 -8l50 -2l-7 -37z" fill="#0000ff" fill-rule="evenodd"/>
<path d="M0 767l0 124l66 0l0 -41l-7 -69l-19 -14z" fill="#0000ff" fill-rule="evenodd"/>
<path d="M453 807l15 32l0 141l250 0l0 -25l16 -35l-10 -6l0 -41l11 -5l-7 -22l0 -24l-13 0l-10 -4l-36 7l-30 46l-7 -35l-22 -25l-3 -59l-11 -18l-39 1l-70 45z" fill="#0000ff" fill-rule="evenodd"/>
<path d="M449 675l-40 26l8 4l36 -22z" fill="#0000ff" fill-rule="evenodd"/>
<path d="M102 653l-20 1l-23 14l-23 23l-36 3l0 33l35 1l49 6l29 -4l0 -48z" fill="#ff0000" fill-rule="evenodd"/>
<path d="M190 752l-25 7l14 26l18 -7z" fill="#ff0000" fill-rule="evenodd"/>
<path d="M174 615l-9 2l1 15l6 0z" fill="#ff0000" fill-rule="evenodd"/>
<path d="M1056 530l-45 4l-44 24l-7 27l7 21l21 15l6 13l-27 14l-13 18l2 8l18 25l-3 4l-15 6l-3 5l6 13l5 0l3 17l14 10l6 0l10 10l17 10l8 12l58 -35l-3 -22l-17 -39l-4 -49l13 -23l23 -26l12 -24l-13 -20z" fill="#0000ff" fill-rule="evenodd"/>
<path d="M929 599l-11 -17l-45 4l14 10z" fill="#0000ff" fill-rule="evenodd"/>
<path d="M953 755l-21 0l-62 20l-31 14l-17 17l7 11l34 -4l36 -11l33 -3l28 -6z" fill="#0000ff" fill-rule="evenodd"/>
<path d="M1291 470l0 20l-3 10l31 -3l5 15l1 22l71 13l16 0l0 -52l-24 5l-1 -30l-20 -18l-35 -20l-21 14z" fill="#0000ff" fill-rule="evenodd"/>
<path d="M1129 710l10 35l29 71l22 38l49 -10l7 -26l-8 -34l-37 -47l-27 -12l-28 -22z" fill="#0000ff" fill-rule="evenodd"/>
<path d="M1125 717l-16 -3l-25 16l0 11l20 0z" fill="#0000ff" fill-rule="evenodd"/>
<path d="M818 820l-90 9l1 17l7 22l-11 5l0 41l10 6l-16 35l0 25l130 0l0 -12l7 -17l21 -26l-7 -32l-31 -14z" fill="#0000ff" fill-rule="evenodd"/>
<path d="M1023 869l-22 -4l-35 11l-34 6l-38 21l4 35l13 30l0 12l125 0l0 -14l-7 -39l7 -38z" fill="#0000ff" fill-rule="evenodd"/>
<path d="M1184 858l-31 14l0 7l34 0z" fill="#0000ff" fill-rule="evenodd"/>
<path d="M858 617l-5 13l24 18l20 6l22 18l10 24l24 14l20 -11l-24 -34l14 -17l-41 -45l-52 0z" fill="#ff0000" fill-rule="evenodd"/>
<path d="M987 755l-24 7l0 31l16 15l12 16l27 -38z" fill="#ff0000" fill-rule="evenodd"/>
<path d="M963 727l-10 3l3 28l11 0z" fill="#ff0000" fill-rule="evenodd"/>
<path d="M1384 693l0 13l15 6l13 0l0 -25l-13 0z" fill="#ff0000" fill-rule="evenodd"/>
<path d="M0 892l0 88l178 0l0 -66l-49 2l-45 9l-15 -23l-2 -18l-1 8zM39 687l-20 5l17 -2zM0 0l0 340l13 0l13 6l19 19l-12 12l-19 7l-14 0l0 213l13 0l24 -18l11 -3l4 18l32 -4l0 13l-24 7l-16 8l-16 0l13 10l19 36l-16 18l15 -15l25 -15l18 0l12 30l-1 49l-29 4l-37 -5l-47 -2l0 38l40 0l20 15l7 91l72 -22l17 3l-3 -50l24 -19l-13 -25l26 -8l8 27l-10 4l42 -9l31 23l42 14l20 16l25 28l15 52l9 2l51 -2l11 -52l15 -19l15 4l3 81l0 -81l-15 -32l35 -28l70 -45l39 -1l12 19l3 59l22 25l6 34l30 -46l36 -7l10 4l13 0l0 7l90 -9l22 60l31 14l7 32l-21 26l-7 17l0 12l60 0l0 -12l-13 -30l-4 -35l39 -22l34 -6l35 -11l21 3l15 22l-7 33l7 58l375 0l0 -267l-13 0l-16 -7l1 -14l15 -6l13 0l0 -138l-16 0l-71 -13l-6 -37l-23 4l-9 -2l3 -10l0 -20l21 -25l21 -14l35 20l21 19l0 29l24 -5l0 -454l-49 0l-58 -14l-20 -14l0 -12l-108 0l-1 13l-69 52l-71 47l-18 7l-31 -3l-14 -21l-34 14l-41 -4l-45 -48l-20 -16l-18 -28l0 -13l-87 0l0 11l11 6l-11 28l-2 17l13 0l27 10l12 15l-13 20l-16 9l-9 -10l-13 -4l0 -10l-12 0l-11 -8l0 -22l-44 -29l-7 -21l0 -12l-188 0l-4 33l-48 19l-37 -3l-36 -15l-23 -16l-43 -2l-1 -16zM1185 858l2 22l-35 -1l1 -8zM954 755l6 39l-28 6l-33 3l-36 11l-34 4l-8 -12l18 -18l31 -14l62 -20zM1126 717l-22 25l-21 -1l0 -11l26 -17zM1129 709l17 -7l28 22l27 12l19 22l20 28l7 29l-8 30l-48 11l-18 -27l-35 -84zM450 675l4 8l-37 23l-9 -5zM229 668l23 3l1 15l-19 9zM174 614l-1 18l-7 1l-2 -16zM929 598l-42 -1l-15 -11l46 -5zM112 487l14 7l-4 11l14 28l22 29l-12 16l-20 -24l-21 -36l-4 -18l8 -2zM244 479l30 -5l6 14l20 -9l3 9l16 23l-4 18l-26 -2l-44 -15l-5 -19zM691 463l5 15l-4 12l4 5l-4 8l-22 8l-23 19l-16 -19l-2 -29l4 -1l-2 -13l23 -9zM373 445l40 -15l36 -3l27 4l7 40l-3 20l-4 3l-6 21l18 48l13 24l44 -10l4 35l-12 79l-32 -13l-29 -23l-28 -27l-14 -28l-4 -46l2 59l8 15l-20 12l-27 -13l-17 -26l-8 -24l24 -20l25 -29l10 0l-7 -23l0 -14l-21 3l-1 -13l-9 -7zM183 372l48 77l6 29l-5 15l-23 -1l0 -13l-38 -66l-4 -26zM849 314l7 6l14 -3l17 31l26 30l12 25l28 0l48 -38l36 19l74 2l8 21l-10 21l11 56l-48 19l1 12l-16 15l34 17l14 21l-12 24l-23 26l-13 23l4 49l17 39l3 22l-59 36l-8 -12l-13 -8l18 19l-28 39l-29 -32l0 -31l21 -6l-17 -13l2 15l-13 0l-3 -28l7 -2l-7 -14l2 -4l-25 -13l-8 -22l-20 -17l-24 -9l-25 -20l3 -9l15 -18l52 0l42 46l-14 17l3 4l14 -22l26 -13l-6 -13l-21 -15l-7 -21l7 -27l45 -25l44 -3l-34 -5l-34 17l-29 -37l-1 -14l-16 -1l-29 -11l5 -11l-14 -22l-2 -11l-45 22l-22 -1l0 -114zM1109 252l-16 24l-37 33l-46 19l1 -70l17 -6l8 -11l55 -3zM112 238l16 -16l29 7l28 19l49 0l1 2l-5 11l-40 0l-25 21l-30 8l-19 -16l4 -22zM565 117l16 -8l31 27l43 29l-16 4l-36 -14zM172 98l30 12l50 6l15 11l44 0l36 11l19 27l-23 30l-20 18l11 25l8 4l-3 -4l12 -5l19 23l-4 2l11 9l4 33l-17 32l-17 5l-57 -22l-8 39l-7 3l7 20l-8 22l-14 0l-20 -26l2 -1l-4 2l-38 -16l0 -18l60 -56l21 7l-15 -10l-6 -19l-15 -27l-15 0l-1 -7l-35 0l-38 -49l11 -21zM1180 65l115 43l47 9l4 21l15 14l-22 33l-15 -1l0 -19l-2 9l-51 3l-4 52l-58 3l-36 21l-28 5l28 0l28 18l15 21l-15 15l-31 -19l-23 -18l-6 -16l-30 -6l-18 -14l-3 -104l14 -15l12 -25l16 -19zM430 59l38 -27l4 19l21 3l9 31l11 21l-9 16l-25 -4l-30 -18l-7 -24l-8 1zM274 0l0 15l43 2l23 16l36 15l37 3l47 -18l4 -20l0 -13zM471 52l-22 22l-6 1l5 22l31 20l25 4l8 -15l-11 -21l-7 -28zM654 0l0 12l7 21l44 29l1 23l9 6l12 0l-2 -37l13 -37l-11 -6l0 -11zM172 99l-4 59l-11 21l37 48l35 0l1 7l15 0l16 28l6 19l14 8l9 25l57 22l15 -3l18 -33l-4 -33l-11 -9l-7 3l-15 -18l-9 -4l-12 -26l20 -18l23 -30l-17 -25l-37 -12l-44 0l-15 -11l-50 -6zM113 238l8 14l-4 22l18 15l30 -8l25 -21l40 0l4 -10l-49 -1l-28 -19l-29 -7zM0 341l0 42l14 0l19 -7l11 -11l-18 -18l-13 -6zM183 373l-15 14l4 26l38 66l0 13l22 0l4 -14l-6 -29zM274 358l-33 15l19 25l14 0l7 -23zM566 117l37 37l36 14l15 -3l-42 -28l-31 -27zM468 33l-37 26l4 18l14 -4l22 -22zM281 292l-21 -7l-59 55l0 18l37 15l43 -19l8 -38zM340 238l18 22l11 -4l-18 -22zM816 0l0 13l18 28l19 15l45 48l41 4l34 -14l14 21l31 3l18 -7l71 -47l69 -52l0 -12zM726 63l2 39l12 3l9 10l14 -7l14 -21l-9 -12l-29 -12zM1342 118l-47 -9l-115 -43l-48 11l-15 18l-12 25l-14 15l3 104l17 13l28 7l34 -7l36 -21l58 -3l3 -51l52 -4l2 -17l21 -17zM1346 139l-21 17l0 28l14 0l21 -32zM1286 0l0 12l19 13l58 14l49 0l0 -39zM1108 252l-17 -13l-55 3l-8 11l-17 6l0 69l45 -20l36 -32zM1142 259l5 15l54 37l14 -14l-14 -20l-26 -17zM870 318l-14 3l-7 -6l-14 27l0 114l21 0l43 -21l25 -31l-12 -26l-26 -30zM1111 387l-74 -2l-36 -19l-46 37l-30 1l-24 28l3 14l14 22l-5 11l28 10l16 1l2 15l28 36l34 -17l36 5l15 -14l-2 -9l2 -4l31 -14l16 -4l-11 -56l10 -20zM112 488l-2 10l-8 2l4 18l21 36l19 23l11 -15l-22 -29l-14 -28l4 -11zM245 479l-4 11l4 21l44 15l25 3l4 -18l-16 -23l-2 -8l-20 9l-6 -14zM84 591l-32 4l-4 -18l-11 3l-24 18l-13 0l0 15l44 4l16 -8l24 -7zM0 614l0 79l15 0l25 -7l19 -22l-19 -36l-14 -11zM427 529l-10 0l-19 23l-29 25l6 20l19 30l26 12l19 -11l-8 -15zM373 446l17 28l9 7l0 12l22 -2l0 14l8 29l6 66l14 28l56 49l32 13l3 -35l8 -43l-4 -35l-43 11l-14 -25l-18 -48l6 -21l4 -3l3 -20l-7 -40l-26 -3l-36 3zM691 464l-37 -4l-22 8l2 13l-4 1l2 29l15 18l23 -19l21 -7l4 -8l-4 -4l4 -8zM230 668l4 26l18 -8l0 -14zM154 803l3 50l16 23l7 35l-1 69l288 0l-3 -140l-15 -4l-14 18l-12 53l-51 2l-10 -3l-14 -50l-25 -29l-20 -16l-42 -14l-31 -23l-55 11zM158 855l-19 -4l-72 22l3 29l13 21l46 -8l50 -2l-7 -37zM0 767l0 124l66 0l0 -41l-7 -69l-19 -14zM453 807l15 32l0 141l250 0l0 -25l16 -35l-10 -6l0 -41l11 -5l-7 -22l0 -24l-13 0l-10 -4l-36 7l-30 46l-7 -35l-22 -25l-3 -59l-11 -18l-39 1l-70 45zM449 675l-40 26l8 4l36 -22zM102 653l-20 1l-23 14l-23 23l-36 3l0 33l35 1l49 6l29 -4l0 -48zM190 752l-25 7l14 26l18 -7zM174 615l-9 2l1 15l6 0zM1056 530l-45 4l-44 24l-7 27l7 21l21 15l6 13l-27 14l-13 18l2 8l18 25l-3 4l-15 6l-3 5l6 13l5 0l3 17l14 10l6 0l10 10l17 10l8 12l58 -35l-3 -22l-17 -39l-4 -49l13 -23l23 -26l12 -24l-13 -20zM929 599l-11 -17l-45 4l14 10zM953 755l-21 0l-62 20l-31 14l-17 17l7 11l34 -4l36 -11l33 -3l28 -6zM1291 470l0 20l-3 10l31 -3l5 15l1 22l71 13l16 0l0 -52l-24 5l-1 -30l-20 -18l-35 -20l-21 14zM1129 710l10 35l29 71l22 38l49 -10l7 -26l-8 -34l-37 -47l-27 -12l-28 -22zM1125 717l-16 -3l-25 16l0 11l20 0zM818 820l-90 9l1 17l7 22l-11 5l0 41l10 6l-16 35l0 25l130 0l0 -12l7 -17l21 -26l-7 -32l-31 -14zM1023 869l-22 -4l-35 11l-34 6l-38 21l4 35l13 30l0 12l125 0l0 -14l-7 -39l7 -38zM1184 858l-31 14l0 7l34 0zM858 617l-5 13l24 18l20 6l22 18l10 24l24 14l20 -11l-24 -34l14 -17l-41 -45l-52 0zM987 755l-24 7l0 31l16 15l12 16l27 -38zM963 727l-10 3l3 28l11 0zM1384 693l0 13l15 6l13 0l0 -25l-13 0z" fill="none" stroke="#000" stroke-width="3.2" stroke-opacity="0.85" stroke-linejoin="round"/>
</g>
<g fill="none" stroke="#000" stroke-width="1.5" stroke-opacity="0.85" stroke-linejoin="round">
<polyline points="167.8,63.7 171.5,60.1 182.5,41.8 200.7,32.7 215.3,30.9"/>
<polyline points="169.7,67.4 193.4,54.6 215.3,43.6"/>
<polyline points="240.9,52.8 242.7,63.7 248.2,76.5 246.4,94.8 253.7,118.5 273.8,142.3 251.9,155.1 219.0,173.3 173.3,206.2"/>
<polyline points="273.8,142.3 299.4,167.8 299.4,175.1 328.6,175.1 346.8,167.8 357.8,158.7"/>
<polyline points="244.6,36.3 259.2,52.8 277.4,54.6"/>
<polyline points="248.2,45.5 270.1,23.5 292.0,21.7 299.4,10.8 314.0,7.1 321.3,-0.2"/>
<polyline points="292.0,21.7 293.9,40.0 321.3,54.6 357.8,83.8"/>
<polyline points="284.7,47.3 332.2,80.2 357.8,102.1"/>
<polyline points="135.0,171.5 178.8,169.7 135.0,178.8"/>
<polyline points="133.1,193.4 145.9,195.2 175.1,208.0"/>
<polyline points="175.1,208.0 233.6,208.0 284.7,184.3 295.7,175.1"/>
<polyline points="125.8,193.4 125.8,239.8"/>
<polyline points="89.3,177.0 135.0,178.8"/>
<polyline points="-0.2,76.5 23.5,113.0 45.5,113.0 54.6,105.7"/>
<polyline points="23.5,113.0 3.5,140.4"/>
<polyline points="58.2,138.6 27.2,173.3 14.4,177.0"/>
<polyline points="-0.2,198.9 10.8,206.2 47.3,206.2 50.9,213.5 47.3,239.8"/>
<polyline points="-0.2,226.3 18.1,239.8"/>
<polyline points="321.3,175.1 328.6,239.8"/>
<polyline points="328.6,175.1 335.9,239.8"/>
<polyline points="120.4,52.8 116.7,85.6 109.4,109.4"/>
<polyline points="116.7,85.6 156.9,100.3"/>
<polyline points="127.7,135.0 160.5,113.0"/>
<polyline points="356.8,86.0 374.0,106.7 387.8,103.2 408.5,86.0 439.6,51.5 443.0,46.4"/>
<polyline points="356.8,103.2 363.7,110.1 374.0,106.7"/>
<polyline points="356.8,113.6 360.2,120.5 365.4,137.7 356.8,155.0"/>
<polyline points="356.8,170.5 394.7,172.2 410.3,175.7"/>
<polyline points="431.0,163.6 498.2,165.3 499.9,155.0"/>
<polyline points="498.2,165.3 499.9,173.9 481.0,196.4 470.6,196.4"/>
<polyline points="512.0,67.0 503.4,96.4 494.8,120.5 481.0,148.1 491.3,158.4"/>
<polyline points="501.7,53.2 512.0,67.0 518.9,58.4 539.6,58.4"/>
<polyline points="543.0,134.3 577.5,170.5 591.3,149.8"/>
<polyline points="577.5,170.5 577.5,189.5 546.5,206.7"/>
<polyline points="577.5,189.5 601.7,206.7 620.6,227.4 639.6,229.1"/>
<polyline points="632.7,110.1 634.4,137.7 624.1,141.2 643.1,155.0"/>
<polyline points="632.7,110.1 655.1,80.8"/>
<polyline points="674.1,70.5 694.8,80.8"/>
<polyline points="694.8,168.8 660.3,210.1"/>
<polyline points="663.8,13.6 665.5,51.5"/>
<polyline points="546.5,27.4 587.9,10.1 596.5,3.2"/>
<polyline points="520.6,49.8 555.1,25.7 593.1,6.7"/>
<polyline points="356.8,3.2 363.7,3.2 365.4,13.6 356.8,20.5"/>
<polyline points="398.2,239.8 408.5,223.9 422.3,222.2"/>
<polyline points="429.2,213.6 446.5,213.6"/>
<polyline points="-0.2,255.2 10.8,255.2 36.3,279.0 65.6,282.6 76.5,277.2 102.1,251.6 116.7,249.8"/>
<polyline points="23.5,238.8 45.5,246.1"/>
<polyline points="65.6,282.6 69.2,297.2 78.3,302.7 72.9,315.5 67.4,330.1 52.8,337.4"/>
<polyline points="78.3,304.6 94.8,308.2 118.5,330.1 140.4,332.0 171.5,308.2 177.0,297.2 180.6,282.6"/>
<polyline points="151.4,260.7 173.3,264.4 178.8,275.3"/>
<polyline points="50.9,359.3 76.5,370.3 91.1,355.7 109.4,348.4 120.4,350.2 142.3,346.6 164.2,348.4 177.0,348.4 197.1,335.6 195.2,319.2 171.5,308.2"/>
<polyline points="109.4,348.4 109.4,381.3"/>
<polyline points="166.0,348.4 155.1,399.5"/>
<polyline points="178.8,348.4 195.2,366.7 209.9,394.1 220.8,397.7"/>
<polyline points="197.1,319.2 224.5,310.0"/>
<polyline points="233.6,322.8 261.0,339.3 279.3,355.7 292.0,361.2"/>
<polyline points="268.3,282.6 306.7,277.2 310.3,260.7"/>
<polyline points="306.7,277.2 312.1,311.9 315.8,337.4 357.8,337.4"/>
<polyline points="315.8,337.4 314.0,348.4 295.7,363.0"/>
<polyline points="297.5,375.8 332.2,403.2"/>
<polyline points="228.1,249.8 284.7,242.5 310.3,258.9"/>
<polyline points="25.4,381.3 34.5,366.7 50.9,359.3"/>
<polyline points="25.4,428.8 36.3,426.9 65.6,419.6"/>
<polyline points="-0.2,441.5 29.0,443.4"/>
<polyline points="356.8,256.0 367.1,256.0 398.2,247.4 399.9,238.8"/>
<polyline points="399.9,238.8 408.5,269.8 425.8,285.4 431.0,287.1"/>
<polyline points="356.8,335.4 380.9,326.7 418.9,312.9 422.3,307.8"/>
<polyline points="429.2,318.1 422.3,342.2 420.6,381.9"/>
<polyline points="458.5,294.0 463.7,299.1 487.9,304.3"/>
<polyline points="546.5,278.5 632.7,266.4 643.1,259.5"/>
<polyline points="522.4,259.5 546.5,244.0 612.0,238.8"/>
<polyline points="632.7,266.4 636.2,242.2"/>
<polyline points="636.2,264.7 641.3,295.7 656.9,312.9 681.0,316.4"/>
<polyline points="522.4,340.5 560.3,344.0 603.4,319.8 636.2,295.7"/>
<polyline points="568.9,342.2 601.7,330.2 636.2,321.6 658.6,331.9 675.8,356.0 694.8,349.1"/>
<polyline points="579.3,347.4 598.2,345.7 653.4,387.1"/>
<polyline points="601.7,345.7 636.2,369.8 670.7,381.9"/>
<polyline points="615.5,394.0 674.1,352.6"/>
<polyline points="612.0,411.2 694.8,371.6"/>
<polyline points="508.6,390.5 532.7,375.0"/>
<polyline points="494.8,406.0 508.6,425.0 512.0,435.4 568.9,400.9 587.9,421.6"/>
<polyline points="406.8,404.3 467.2,399.1 491.3,407.8 512.0,435.4"/>
<polyline points="356.8,423.3 396.5,445.7 422.3,469.8"/>
<polyline points="396.5,445.7 393.0,478.8"/>
<polyline points="681.0,316.4 684.5,345.7"/>
<polyline points="656.9,312.9 660.3,335.4"/>
<polyline points="499.9,261.2 501.7,381.9"/>
<polyline points="477.5,318.1 522.4,314.7"/>
</g>
</svg>
<rect x="236.5" y="34.0" width="81.5" height="74.5" fill="#fff"/><text x="256.5" y="89.5" font-family="'Liberation Serif', 'Times New Roman', serif" font-weight="bold" font-size="57">a<tspan font-size="36" dy="10">1</tspan></text>
<rect x="935.2" y="34.0" width="81.5" height="74.5" fill="#fff"/><text x="955.2" y="89.5" font-family="'Liberation Serif', 'Times New Roman', serif" font-weight="bold" font-size="57">a<tspan font-size="36" dy="10">2</tspan></text>
<rect x="236.5" y="516.6" width="81.5" height="74.5" fill="#fff"/><text x="256.5" y="572.1" font-family="'Liberation Serif', 'Times New Roman', serif" font-weight="bold" font-size="57">b<tspan font-size="36" dy="10">1</tspan></text>
<rect x="935.2" y="516.6" width="81.5" height="74.5" fill="#fff"/><text x="955.2" y="572.1" font-family="'Liberation Serif', 'Times New Roman', serif" font-weight="bold" font-size="57">b<tspan font-size="36" dy="10">2</tspan></text>
<rect x="236.5" y="1000.2" width="81.5" height="74.5" fill="#fff"/><text x="256.5" y="1055.7" font-family="'Liberation Serif', 'Times New Roman', serif" font-weight="bold" font-size="57">c<tspan font-size="36" dy="10">1</tspan></text>
<rect x="935.2" y="1000.2" width="81.5" height="74.5" fill="#fff"/><text x="955.2" y="1055.7" font-family="'Liberation Serif', 'Times New Roman', serif" font-weight="bold" font-size="57">c<tspan font-size="36" dy="10">2</tspan></text>
<rect x="782.1" y="468.5" width="151" height="46" fill="#fff"/><text x="857.1" y="492.0" text-anchor="middle" font-family="'Liberation Serif', 'Times New Roman', serif" font-weight="bold" font-size="19.5">20μm</text><rect x="804.1" y="501.7" width="106" height="4.2" fill="#000"/>
<rect x="1481.0" y="468.5" width="151" height="46" fill="#fff"/><text x="1556.0" y="492.0" text-anchor="middle" font-family="'Liberation Serif', 'Times New Roman', serif" font-weight="bold" font-size="19.5">20μm</text><rect x="1503.0" y="501.7" width="106" height="4.2" fill="#000"/>
<rect x="782.1" y="951.8" width="151" height="46" fill="#fff"/><text x="857.1" y="975.3" text-anchor="middle" font-family="'Liberation Serif', 'Times New Roman', serif" font-weight="bold" font-size="19.5">15μm</text><rect x="804.1" y="985.0" width="106" height="4.2" fill="#000"/>
<rect x="1481.0" y="951.8" width="151" height="46" fill="#fff"/><text x="1556.0" y="975.3" text-anchor="middle" font-family="'Liberation Serif', 'Times New Roman', serif" font-weight="bold" font-size="19.5">15μm</text><rect x="1503.0" y="985.0" width="106" height="4.2" fill="#000"/>
<rect x="782.1" y="1435.1" width="151" height="46" fill="#fff"/><text x="857.1" y="1458.6" text-anchor="middle" font-family="'Liberation Serif', 'Times New Roman', serif" font-weight="bold" font-size="19.5">20μm</text><rect x="804.1" y="1468.3" width="106" height="4.2" fill="#000"/>
<rect x="1481.0" y="1435.1" width="151" height="46" fill="#fff"/><text x="1556.0" y="1458.6" text-anchor="middle" font-family="'Liberation Serif', 'Times New Roman', serif" font-weight="bold" font-size="19.5">20μm</text><rect x="1503.0" y="1468.3" width="106" height="4.2" fill="#000"/>
<rect x="236.2" y="291.3" width="256.2" height="221.5" fill="#fff"/>
<rect x="236.2" y="299.3" width="1.6" height="205.5" fill="#dcdcff"/>
<g shape-rendering="crispEdges">
<polygon points="255.50,488.70 263.88,488.70 262.55,482.00" fill="#ff0707" stroke="#ff0707" stroke-width="0.9"/>
<polygon points="263.88,488.70 270.98,481.99 262.55,482.00" fill="#ff0e0e" stroke="#ff0e0e" stroke-width="0.9"/>
<polygon points="262.55,482.00 270.98,481.99 269.59,475.29" fill="#ff0818" stroke="#ff0818" stroke-width="0.9"/>
<polygon points="270.98,481.99 278.07,475.27 269.59,475.29" fill="#ff0e1e" stroke="#ff0e1e" stroke-width="0.9"/>
<polygon points="269.59,475.29 278.07,475.27 276.64,468.59" fill="#ff0828" stroke="#ff0828" stroke-width="0.9"/>
<polygon points="278.07,475.27 285.17,468.56 276.64,468.59" fill="#ff0f2e" stroke="#ff0f2e" stroke-width="0.9"/>
<polygon points="276.64,468.59 285.17,468.56 283.68,461.88" fill="#ff0837" stroke="#ff0837" stroke-width="0.9"/>
<polygon points="285.17,468.56 292.27,461.84 283.68,461.88" fill="#ff0f3d" stroke="#ff0f3d" stroke-width="0.9"/>
<polygon points="283.68,461.88 292.27,461.84 290.73,455.18" fill="#ff0947" stroke="#ff0947" stroke-width="0.9"/>
<polygon points="292.27,461.84 299.37,455.13 290.73,455.18" fill="#ff104d" stroke="#ff104d" stroke-width="0.9"/>
<polygon points="290.73,455.18 299.37,455.13 297.78,448.48" fill="#ff0957" stroke="#ff0957" stroke-width="0.9"/>
<polygon points="299.37,455.13 306.47,448.41 297.78,448.48" fill="#ff115e" stroke="#ff115e" stroke-width="0.9"/>
<polygon points="297.78,448.48 306.47,448.41 304.82,441.77" fill="#ff0968" stroke="#ff0968" stroke-width="0.9"/>
<polygon points="306.47,448.41 313.57,441.70 304.82,441.77" fill="#ff116f" stroke="#ff116f" stroke-width="0.9"/>
<polygon points="304.82,441.77 313.57,441.70 311.87,435.07" fill="#ff0a7a" stroke="#ff0a7a" stroke-width="0.9"/>
<polygon points="313.57,441.70 320.66,434.99 311.87,435.07" fill="#ff1282" stroke="#ff1282" stroke-width="0.9"/>
<polygon points="311.87,435.07 320.66,434.99 318.92,428.37" fill="#ff0a8d" stroke="#ff0a8d" stroke-width="0.9"/>
<polygon points="320.66,434.99 327.76,428.27 318.92,428.37" fill="#ff1397" stroke="#ff1397" stroke-width="0.9"/>
<polygon points="318.92,428.37 327.76,428.27 325.96,421.66" fill="#ff0ba2" stroke="#ff0ba2" stroke-width="0.9"/>
<polygon points="327.76,428.27 334.86,421.56 325.96,421.66" fill="#ff14ad" stroke="#ff14ad" stroke-width="0.9"/>
<polygon points="325.96,421.66 334.86,421.56 333.01,414.96" fill="#ff0bb9" stroke="#ff0bb9" stroke-width="0.9"/>
<polygon points="334.86,421.56 341.96,414.84 333.01,414.96" fill="#ff15c5" stroke="#ff15c5" stroke-width="0.9"/>
<polygon points="333.01,414.96 341.96,414.84 340.05,408.25" fill="#ff0cd3" stroke="#ff0cd3" stroke-width="0.9"/>
<polygon points="341.96,414.84 349.06,408.13 340.05,408.25" fill="#ff16e0" stroke="#ff16e0" stroke-width="0.9"/>
<polygon points="340.05,408.25 349.06,408.13 347.10,401.55" fill="#ff0def" stroke="#ff0def" stroke-width="0.9"/>
<polygon points="349.06,408.13 356.16,401.42 347.10,401.55" fill="#fe18ff" stroke="#fe18ff" stroke-width="0.9"/>
<polygon points="347.10,401.55 356.16,401.42 354.15,394.85" fill="#ef0dff" stroke="#ef0dff" stroke-width="0.9"/>
<polygon points="356.16,401.42 363.25,394.70 354.15,394.85" fill="#e016ff" stroke="#e016ff" stroke-width="0.9"/>
<polygon points="354.15,394.85 363.25,394.70 361.19,388.14" fill="#d30cff" stroke="#d30cff" stroke-width="0.9"/>
<polygon points="363.25,394.70 370.35,387.99 361.19,388.14" fill="#c515ff" stroke="#c515ff" stroke-width="0.9"/>
<polygon points="361.19,388.14 370.35,387.99 368.24,381.44" fill="#b90bff" stroke="#b90bff" stroke-width="0.9"/>
<polygon points="370.35,387.99 377.45,381.27 368.24,381.44" fill="#ad14ff" stroke="#ad14ff" stroke-width="0.9"/>
<polygon points="368.24,381.44 377.45,381.27 375.28,374.73" fill="#a20bff" stroke="#a20bff" stroke-width="0.9"/>
<polygon points="377.45,381.27 384.55,374.56 375.28,374.73" fill="#9713ff" stroke="#9713ff" stroke-width="0.9"/>
<polygon points="375.28,374.73 384.55,374.56 382.33,368.03" fill="#8d0aff" stroke="#8d0aff" stroke-width="0.9"/>
<polygon points="384.55,374.56 391.65,367.84 382.33,368.03" fill="#8212ff" stroke="#8212ff" stroke-width="0.9"/>
<polygon points="382.33,368.03 391.65,367.84 389.38,361.33" fill="#7a0aff" stroke="#7a0aff" stroke-width="0.9"/>
<polygon points="391.65,367.84 398.75,361.13 389.38,361.33" fill="#6f11ff" stroke="#6f11ff" stroke-width="0.9"/>
<polygon points="389.38,361.33 398.75,361.13 396.42,354.62" fill="#6809ff" stroke="#6809ff" stroke-width="0.9"/>
<polygon points="398.75,361.13 405.84,354.42 396.42,354.62" fill="#5e11ff" stroke="#5e11ff" stroke-width="0.9"/>
<polygon points="396.42,354.62 405.84,354.42 403.47,347.92" fill="#5709ff" stroke="#5709ff" stroke-width="0.9"/>
<polygon points="405.84,354.42 412.94,347.70 403.47,347.92" fill="#4d10ff" stroke="#4d10ff" stroke-width="0.9"/>
<polygon points="403.47,347.92 412.94,347.70 410.52,341.22" fill="#4709ff" stroke="#4709ff" stroke-width="0.9"/>
<polygon points="412.94,347.70 420.04,340.99 410.52,341.22" fill="#3d0fff" stroke="#3d0fff" stroke-width="0.9"/>
<polygon points="410.52,341.22 420.04,340.99 417.56,334.51" fill="#3708ff" stroke="#3708ff" stroke-width="0.9"/>
<polygon points="420.04,340.99 427.14,334.27 417.56,334.51" fill="#2e0fff" stroke="#2e0fff" stroke-width="0.9"/>
<polygon points="417.56,334.51 427.14,334.27 424.61,327.81" fill="#2808ff" stroke="#2808ff" stroke-width="0.9"/>
<polygon points="427.14,334.27 434.24,327.56 424.61,327.81" fill="#1e0eff" stroke="#1e0eff" stroke-width="0.9"/>
<polygon points="424.61,327.81 434.24,327.56 431.65,321.10" fill="#1808ff" stroke="#1808ff" stroke-width="0.9"/>
<polygon points="434.24,327.56 441.34,320.84 431.65,321.10" fill="#0e0eff" stroke="#0e0eff" stroke-width="0.9"/>
<polygon points="431.65,321.10 441.34,320.84 438.70,314.40" fill="#0707ff" stroke="#0707ff" stroke-width="0.9"/>
<polygon points="263.88,488.70 272.25,488.70 270.98,481.99" fill="#ff1808" stroke="#ff1808" stroke-width="0.9"/>
<polygon points="272.25,488.70 279.40,481.98 270.98,481.99" fill="#ff1e0e" stroke="#ff1e0e" stroke-width="0.9"/>
<polygon points="270.98,481.99 279.40,481.98 278.07,475.27" fill="#ff1919" stroke="#ff1919" stroke-width="0.9"/>
<polygon points="279.40,481.98 286.56,475.25 278.07,475.27" fill="#ff1f1f" stroke="#ff1f1f" stroke-width="0.9"/>
<polygon points="278.07,475.27 286.56,475.25 285.17,468.56" fill="#ff1a29" stroke="#ff1a29" stroke-width="0.9"/>
<polygon points="286.56,475.25 293.71,468.53 285.17,468.56" fill="#ff202f" stroke="#ff202f" stroke-width="0.9"/>
<polygon points="285.17,468.56 293.71,468.53 292.27,461.84" fill="#ff1b39" stroke="#ff1b39" stroke-width="0.9"/>
<polygon points="293.71,468.53 300.86,461.80 292.27,461.84" fill="#ff223f" stroke="#ff223f" stroke-width="0.9"/>
<polygon points="292.27,461.84 300.86,461.80 299.37,455.13" fill="#ff1c4a" stroke="#ff1c4a" stroke-width="0.9"/>
<polygon points="300.86,461.80 308.01,455.08 299.37,455.13" fill="#ff2350" stroke="#ff2350" stroke-width="0.9"/>
<polygon points="299.37,455.13 308.01,455.08 306.47,448.41" fill="#ff1e5b" stroke="#ff1e5b" stroke-width="0.9"/>
<polygon points="308.01,455.08 315.16,448.35 306.47,448.41" fill="#ff2462" stroke="#ff2462" stroke-width="0.9"/>
<polygon points="306.47,448.41 315.16,448.35 313.57,441.70" fill="#ff1f6c" stroke="#ff1f6c" stroke-width="0.9"/>
<polygon points="315.16,448.35 322.31,441.63 313.57,441.70" fill="#ff2674" stroke="#ff2674" stroke-width="0.9"/>
<polygon points="313.57,441.70 322.31,441.63 320.66,434.99" fill="#ff2080" stroke="#ff2080" stroke-width="0.9"/>
<polygon points="322.31,441.63 329.46,434.90 320.66,434.99" fill="#ff2889" stroke="#ff2889" stroke-width="0.9"/>
<polygon points="320.66,434.99 329.46,434.90 327.76,428.27" fill="#ff2294" stroke="#ff2294" stroke-width="0.9"/>
<polygon points="329.46,434.90 336.61,428.18 327.76,428.27" fill="#ff2a9e" stroke="#ff2a9e" stroke-width="0.9"/>
<polygon points="327.76,428.27 336.61,428.18 334.86,421.56" fill="#ff24ab" stroke="#ff24ab" stroke-width="0.9"/>
<polygon points="336.61,428.18 343.76,421.45 334.86,421.56" fill="#ff2cb6" stroke="#ff2cb6" stroke-width="0.9"/>
<polygon points="334.86,421.56 343.76,421.45 341.96,414.84" fill="#ff26c4" stroke="#ff26c4" stroke-width="0.9"/>
<polygon points="343.76,421.45 350.91,414.73 341.96,414.84" fill="#ff2fd1" stroke="#ff2fd1" stroke-width="0.9"/>
<polygon points="341.96,414.84 350.91,414.73 349.06,408.13" fill="#ff28df" stroke="#ff28df" stroke-width="0.9"/>
<polygon points="350.91,414.73 358.06,408.00 349.06,408.13" fill="#ff32ee" stroke="#ff32ee" stroke-width="0.9"/>
<polygon points="349.06,408.13 358.06,408.00 356.16,401.42" fill="#fe2bff" stroke="#fe2bff" stroke-width="0.9"/>
<polygon points="358.06,408.00 365.21,401.28 356.16,401.42" fill="#ee32ff" stroke="#ee32ff" stroke-width="0.9"/>
<polygon points="356.16,401.42 365.21,401.28 363.25,394.70" fill="#df28ff" stroke="#df28ff" stroke-width="0.9"/>
<polygon points="365.21,401.28 372.36,394.56 363.25,394.70" fill="#d12fff" stroke="#d12fff" stroke-width="0.9"/>
<polygon points="363.25,394.70 372.36,394.56 370.35,387.99" fill="#c426ff" stroke="#c426ff" stroke-width="0.9"/>
<polygon points="372.36,394.56 379.51,387.83 370.35,387.99" fill="#b62cff" stroke="#b62cff" stroke-width="0.9"/>
<polygon points="370.35,387.99 379.51,387.83 377.45,381.27" fill="#ab24ff" stroke="#ab24ff" stroke-width="0.9"/>
<polygon points="379.51,387.83 386.66,381.11 377.45,381.27" fill="#9e2aff" stroke="#9e2aff" stroke-width="0.9"/>
<polygon points="377.45,381.27 386.66,381.11 384.55,374.56" fill="#9422ff" stroke="#9422ff" stroke-width="0.9"/>
<polygon points="386.66,381.11 393.81,374.38 384.55,374.56" fill="#8928ff" stroke="#8928ff" stroke-width="0.9"/>
<polygon points="384.55,374.56 393.81,374.38 391.65,367.84" fill="#8020ff" stroke="#8020ff" stroke-width="0.9"/>
<polygon points="393.81,374.38 400.97,367.66 391.65,367.84" fill="#7426ff" stroke="#7426ff" stroke-width="0.9"/>
<polygon points="391.65,367.84 400.97,367.66 398.75,361.13" fill="#6c1fff" stroke="#6c1fff" stroke-width="0.9"/>
<polygon points="400.97,367.66 408.12,360.93 398.75,361.13" fill="#6224ff" stroke="#6224ff" stroke-width="0.9"/>
<polygon points="398.75,361.13 408.12,360.93 405.84,354.42" fill="#5b1eff" stroke="#5b1eff" stroke-width="0.9"/>
<polygon points="408.12,360.93 415.27,354.21 405.84,354.42" fill="#5023ff" stroke="#5023ff" stroke-width="0.9"/>
<polygon points="405.84,354.42 415.27,354.21 412.94,347.70" fill="#4a1cff" stroke="#4a1cff" stroke-width="0.9"/>
<polygon points="415.27,354.21 422.42,347.48 412.94,347.70" fill="#3f22ff" stroke="#3f22ff" stroke-width="0.9"/>
<polygon points="412.94,347.70 422.42,347.48 420.04,340.99" fill="#391bff" stroke="#391bff" stroke-width="0.9"/>
<polygon points="422.42,347.48 429.57,340.76 420.04,340.99" fill="#2f20ff" stroke="#2f20ff" stroke-width="0.9"/>
<polygon points="420.04,340.99 429.57,340.76 427.14,334.27" fill="#291aff" stroke="#291aff" stroke-width="0.9"/>
<polygon points="429.57,340.76 436.72,334.03 427.14,334.27" fill="#1f1fff" stroke="#1f1fff" stroke-width="0.9"/>
<polygon points="427.14,334.27 436.72,334.03 434.24,327.56" fill="#1919ff" stroke="#1919ff" stroke-width="0.9"/>
<polygon points="436.72,334.03 443.87,327.31 434.24,327.56" fill="#0e1eff" stroke="#0e1eff" stroke-width="0.9"/>
<polygon points="434.24,327.56 443.87,327.31 441.34,320.84" fill="#0818ff" stroke="#0818ff" stroke-width="0.9"/>
<polygon points="272.25,488.70 280.63,488.70 279.40,481.98" fill="#ff2808" stroke="#ff2808" stroke-width="0.9"/>
<polygon points="280.63,488.70 287.83,481.97 279.40,481.98" fill="#ff2e0f" stroke="#ff2e0f" stroke-width="0.9"/>
<polygon points="279.40,481.98 287.83,481.97 286.56,475.25" fill="#ff291a" stroke="#ff291a" stroke-width="0.9"/>
<polygon points="287.83,481.97 295.04,475.23 286.56,475.25" fill="#ff2f20" stroke="#ff2f20" stroke-width="0.9"/>
<polygon points="286.56,475.25 295.04,475.23 293.71,468.53" fill="#ff2b2b" stroke="#ff2b2b" stroke-width="0.9"/>
<polygon points="295.04,475.23 302.24,468.50 293.71,468.53" fill="#ff3131" stroke="#ff3131" stroke-width="0.9"/>
<polygon points="293.71,468.53 302.24,468.50 300.86,461.80" fill="#ff2d3c" stroke="#ff2d3c" stroke-width="0.9"/>
<polygon points="302.24,468.50 309.44,461.76 300.86,461.80" fill="#ff3342" stroke="#ff3342" stroke-width="0.9"/>
<polygon points="300.86,461.80 309.44,461.76 308.01,455.08" fill="#ff2e4d" stroke="#ff2e4d" stroke-width="0.9"/>
<polygon points="309.44,461.76 316.65,455.03 308.01,455.08" fill="#ff3554" stroke="#ff3554" stroke-width="0.9"/>
<polygon points="308.01,455.08 316.65,455.03 315.16,448.35" fill="#ff315e" stroke="#ff315e" stroke-width="0.9"/>
<polygon points="316.65,455.03 323.85,448.29 315.16,448.35" fill="#ff3866" stroke="#ff3866" stroke-width="0.9"/>
<polygon points="315.16,448.35 323.85,448.29 322.31,441.63" fill="#ff3371" stroke="#ff3371" stroke-width="0.9"/>
<polygon points="323.85,448.29 331.05,441.56 322.31,441.63" fill="#ff3a7a" stroke="#ff3a7a" stroke-width="0.9"/>
<polygon points="322.31,441.63 331.05,441.56 329.46,434.90" fill="#ff3586" stroke="#ff3586" stroke-width="0.9"/>
<polygon points="331.05,441.56 338.25,434.82 329.46,434.90" fill="#ff3d8f" stroke="#ff3d8f" stroke-width="0.9"/>
<polygon points="329.46,434.90 338.25,434.82 336.61,428.18" fill="#ff389c" stroke="#ff389c" stroke-width="0.9"/>
<polygon points="338.25,434.82 345.46,428.09 336.61,428.18" fill="#ff41a7" stroke="#ff41a7" stroke-width="0.9"/>
<polygon points="336.61,428.18 345.46,428.09 343.76,421.45" fill="#ff3bb4" stroke="#ff3bb4" stroke-width="0.9"/>
<polygon points="345.46,428.09 352.66,421.35 343.76,421.45" fill="#ff44c1" stroke="#ff44c1" stroke-width="0.9"/>
<polygon points="343.76,421.45 352.66,421.35 350.91,414.73" fill="#ff3fcf" stroke="#ff3fcf" stroke-width="0.9"/>
<polygon points="352.66,421.35 359.86,414.62 350.91,414.73" fill="#ff49de" stroke="#ff49de" stroke-width="0.9"/>
<polygon points="350.91,414.73 359.86,414.62 358.06,408.00" fill="#ff43ee" stroke="#ff43ee" stroke-width="0.9"/>
<polygon points="359.86,414.62 367.07,407.88 358.06,408.00" fill="#ff4eff" stroke="#ff4eff" stroke-width="0.9"/>
<polygon points="358.06,408.00 367.07,407.88 365.21,401.28" fill="#ee43ff" stroke="#ee43ff" stroke-width="0.9"/>
<polygon points="367.07,407.88 374.27,401.15 365.21,401.28" fill="#de49ff" stroke="#de49ff" stroke-width="0.9"/>
<polygon points="365.21,401.28 374.27,401.15 372.36,394.56" fill="#cf3fff" stroke="#cf3fff" stroke-width="0.9"/>
<polygon points="374.27,401.15 381.47,394.41 372.36,394.56" fill="#c144ff" stroke="#c144ff" stroke-width="0.9"/>
<polygon points="372.36,394.56 381.47,394.41 379.51,387.83" fill="#b43bff" stroke="#b43bff" stroke-width="0.9"/>
<polygon points="381.47,394.41 388.67,387.68 379.51,387.83" fill="#a741ff" stroke="#a741ff" stroke-width="0.9"/>
<polygon points="379.51,387.83 388.67,387.68 386.66,381.11" fill="#9c38ff" stroke="#9c38ff" stroke-width="0.9"/>
<polygon points="388.67,387.68 395.88,380.94 386.66,381.11" fill="#8f3dff" stroke="#8f3dff" stroke-width="0.9"/>
<polygon points="386.66,381.11 395.88,380.94 393.81,374.38" fill="#8635ff" stroke="#8635ff" stroke-width="0.9"/>
<polygon points="395.88,380.94 403.08,374.21 393.81,374.38" fill="#7a3aff" stroke="#7a3aff" stroke-width="0.9"/>
<polygon points="393.81,374.38 403.08,374.21 400.97,367.66" fill="#7133ff" stroke="#7133ff" stroke-width="0.9"/>
<polygon points="403.08,374.21 410.28,367.47 400.97,367.66" fill="#6638ff" stroke="#6638ff" stroke-width="0.9"/>
<polygon points="400.97,367.66 410.28,367.47 408.12,360.93" fill="#5e31ff" stroke="#5e31ff" stroke-width="0.9"/>
<polygon points="410.28,367.47 417.49,360.74 408.12,360.93" fill="#5435ff" stroke="#5435ff" stroke-width="0.9"/>
<polygon points="408.12,360.93 417.49,360.74 415.27,354.21" fill="#4d2eff" stroke="#4d2eff" stroke-width="0.9"/>
<polygon points="417.49,360.74 424.69,354.00 415.27,354.21" fill="#4233ff" stroke="#4233ff" stroke-width="0.9"/>
<polygon points="415.27,354.21 424.69,354.00 422.42,347.48" fill="#3c2dff" stroke="#3c2dff" stroke-width="0.9"/>
<polygon points="424.69,354.00 431.89,347.27 422.42,347.48" fill="#3131ff" stroke="#3131ff" stroke-width="0.9"/>
<polygon points="422.42,347.48 431.89,347.27 429.57,340.76" fill="#2b2bff" stroke="#2b2bff" stroke-width="0.9"/>
<polygon points="431.89,347.27 439.09,340.53 429.57,340.76" fill="#202fff" stroke="#202fff" stroke-width="0.9"/>
<polygon points="429.57,340.76 439.09,340.53 436.72,334.03" fill="#1a29ff" stroke="#1a29ff" stroke-width="0.9"/>
<polygon points="439.09,340.53 446.30,333.80 436.72,334.03" fill="#0f2eff" stroke="#0f2eff" stroke-width="0.9"/>
<polygon points="436.72,334.03 446.30,333.80 443.87,327.31" fill="#0828ff" stroke="#0828ff" stroke-width="0.9"/>
<polygon points="280.63,488.70 289.01,488.70 287.83,481.97" fill="#ff3708" stroke="#ff3708" stroke-width="0.9"/>
<polygon points="289.01,488.70 296.26,481.95 287.83,481.97" fill="#ff3d0f" stroke="#ff3d0f" stroke-width="0.9"/>
<polygon points="287.83,481.97 296.26,481.95 295.04,475.23" fill="#ff391b" stroke="#ff391b" stroke-width="0.9"/>
<polygon points="296.26,481.95 303.52,475.21 295.04,475.23" fill="#ff3f22" stroke="#ff3f22" stroke-width="0.9"/>
<polygon points="295.04,475.23 303.52,475.21 302.24,468.50" fill="#ff3c2d" stroke="#ff3c2d" stroke-width="0.9"/>
<polygon points="303.52,475.21 310.77,468.46 302.24,468.50" fill="#ff4233" stroke="#ff4233" stroke-width="0.9"/>
<polygon points="302.24,468.50 310.77,468.46 309.44,461.76" fill="#ff3e3e" stroke="#ff3e3e" stroke-width="0.9"/>
<polygon points="310.77,468.46 318.03,461.72 309.44,461.76" fill="#ff4545" stroke="#ff4545" stroke-width="0.9"/>
<polygon points="309.44,461.76 318.03,461.72 316.65,455.03" fill="#ff4150" stroke="#ff4150" stroke-width="0.9"/>
<polygon points="318.03,461.72 325.28,454.97 316.65,455.03" fill="#ff4857" stroke="#ff4857" stroke-width="0.9"/>
<polygon points="316.65,455.03 325.28,454.97 323.85,448.29" fill="#ff4463" stroke="#ff4463" stroke-width="0.9"/>
<polygon points="325.28,454.97 332.54,448.23 323.85,448.29" fill="#ff4b6b" stroke="#ff4b6b" stroke-width="0.9"/>
<polygon points="323.85,448.29 332.54,448.23 331.05,441.56" fill="#ff4777" stroke="#ff4777" stroke-width="0.9"/>
<polygon points="332.54,448.23 339.79,441.48 331.05,441.56" fill="#ff4f80" stroke="#ff4f80" stroke-width="0.9"/>
<polygon points="331.05,441.56 339.79,441.48 338.25,434.82" fill="#ff4b8d" stroke="#ff4b8d" stroke-width="0.9"/>
<polygon points="339.79,441.48 347.05,434.74 338.25,434.82" fill="#ff5497" stroke="#ff5497" stroke-width="0.9"/>
<polygon points="338.25,434.82 347.05,434.74 345.46,428.09" fill="#ff4fa5" stroke="#ff4fa5" stroke-width="0.9"/>
<polygon points="347.05,434.74 354.30,427.99 345.46,428.09" fill="#ff59b1" stroke="#ff59b1" stroke-width="0.9"/>
<polygon points="345.46,428.09 354.30,427.99 352.66,421.35" fill="#ff54bf" stroke="#ff54bf" stroke-width="0.9"/>
<polygon points="354.30,427.99 361.56,421.25 352.66,421.35" fill="#ff5ecd" stroke="#ff5ecd" stroke-width="0.9"/>
<polygon points="352.66,421.35 361.56,421.25 359.86,414.62" fill="#ff59dd" stroke="#ff59dd" stroke-width="0.9"/>
<polygon points="361.56,421.25 368.81,414.50 359.86,414.62" fill="#ff65ed" stroke="#ff65ed" stroke-width="0.9"/>
<polygon points="359.86,414.62 368.81,414.50 367.07,407.88" fill="#ff5fff" stroke="#ff5fff" stroke-width="0.9"/>
<polygon points="368.81,414.50 376.07,407.76 367.07,407.88" fill="#ed65ff" stroke="#ed65ff" stroke-width="0.9"/>
<polygon points="367.07,407.88 376.07,407.76 374.27,401.15" fill="#dd59ff" stroke="#dd59ff" stroke-width="0.9"/>
<polygon points="376.07,407.76 383.32,401.01 374.27,401.15" fill="#cd5eff" stroke="#cd5eff" stroke-width="0.9"/>
<polygon points="374.27,401.15 383.32,401.01 381.47,394.41" fill="#bf54ff" stroke="#bf54ff" stroke-width="0.9"/>
<polygon points="383.32,401.01 390.58,394.27 381.47,394.41" fill="#b159ff" stroke="#b159ff" stroke-width="0.9"/>
<polygon points="381.47,394.41 390.58,394.27 388.67,387.68" fill="#a54fff" stroke="#a54fff" stroke-width="0.9"/>
<polygon points="390.58,394.27 397.83,387.52 388.67,387.68" fill="#9754ff" stroke="#9754ff" stroke-width="0.9"/>
<polygon points="388.67,387.68 397.83,387.52 395.88,380.94" fill="#8d4bff" stroke="#8d4bff" stroke-width="0.9"/>
<polygon points="397.83,387.52 405.09,380.77 395.88,380.94" fill="#804fff" stroke="#804fff" stroke-width="0.9"/>
<polygon points="395.88,380.94 405.09,380.77 403.08,374.21" fill="#7747ff" stroke="#7747ff" stroke-width="0.9"/>
<polygon points="405.09,380.77 412.34,374.03 403.08,374.21" fill="#6b4bff" stroke="#6b4bff" stroke-width="0.9"/>
<polygon points="403.08,374.21 412.34,374.03 410.28,367.47" fill="#6344ff" stroke="#6344ff" stroke-width="0.9"/>
<polygon points="412.34,374.03 419.60,367.28 410.28,367.47" fill="#5748ff" stroke="#5748ff" stroke-width="0.9"/>
<polygon points="410.28,367.47 419.60,367.28 417.49,360.74" fill="#5041ff" stroke="#5041ff" stroke-width="0.9"/>
<polygon points="419.60,367.28 426.85,360.54 417.49,360.74" fill="#4545ff" stroke="#4545ff" stroke-width="0.9"/>
<polygon points="417.49,360.74 426.85,360.54 424.69,354.00" fill="#3e3eff" stroke="#3e3eff" stroke-width="0.9"/>
<polygon points="426.85,360.54 434.11,353.79 424.69,354.00" fill="#3342ff" stroke="#3342ff" stroke-width="0.9"/>
<polygon points="424.69,354.00 434.11,353.79 431.89,347.27" fill="#2d3cff" stroke="#2d3cff" stroke-width="0.9"/>
<polygon points="434.11,353.79 441.36,347.05 431.89,347.27" fill="#223fff" stroke="#223fff" stroke-width="0.9"/>
<polygon points="431.89,347.27 441.36,347.05 439.09,340.53" fill="#1b39ff" stroke="#1b39ff" stroke-width="0.9"/>
<polygon points="441.36,347.05 448.62,340.30 439.09,340.53" fill="#0f3dff" stroke="#0f3dff" stroke-width="0.9"/>
<polygon points="439.09,340.53 448.62,340.30 446.30,333.80" fill="#0837ff" stroke="#0837ff" stroke-width="0.9"/>
<polygon points="289.01,488.70 297.38,488.70 296.26,481.95" fill="#ff4709" stroke="#ff4709" stroke-width="0.9"/>
<polygon points="297.38,488.70 304.69,481.94 296.26,481.95" fill="#ff4d10" stroke="#ff4d10" stroke-width="0.9"/>
<polygon points="296.26,481.95 304.69,481.94 303.52,475.21" fill="#ff4a1c" stroke="#ff4a1c" stroke-width="0.9"/>
<polygon points="304.69,481.94 312.00,475.19 303.52,475.21" fill="#ff5023" stroke="#ff5023" stroke-width="0.9"/>
<polygon points="303.52,475.21 312.00,475.19 310.77,468.46" fill="#ff4d2e" stroke="#ff4d2e" stroke-width="0.9"/>
<polygon points="312.00,475.19 319.31,468.43 310.77,468.46" fill="#ff5435" stroke="#ff5435" stroke-width="0.9"/>
<polygon points="310.77,468.46 319.31,468.43 318.03,461.72" fill="#ff5041" stroke="#ff5041" stroke-width="0.9"/>
<polygon points="319.31,468.43 326.61,461.68 318.03,461.72" fill="#ff5748" stroke="#ff5748" stroke-width="0.9"/>
<polygon points="318.03,461.72 326.61,461.68 325.28,454.97" fill="#ff5454" stroke="#ff5454" stroke-width="0.9"/>
<polygon points="326.61,461.68 333.92,454.92 325.28,454.97" fill="#ff5c5c" stroke="#ff5c5c" stroke-width="0.9"/>
<polygon points="325.28,454.97 333.92,454.92 332.54,448.23" fill="#ff5868" stroke="#ff5868" stroke-width="0.9"/>
<polygon points="333.92,454.92 341.23,448.17 332.54,448.23" fill="#ff6071" stroke="#ff6071" stroke-width="0.9"/>
<polygon points="332.54,448.23 341.23,448.17 339.79,441.48" fill="#ff5c7d" stroke="#ff5c7d" stroke-width="0.9"/>
<polygon points="341.23,448.17 348.54,441.41 339.79,441.48" fill="#ff6687" stroke="#ff6687" stroke-width="0.9"/>
<polygon points="339.79,441.48 348.54,441.41 347.05,434.74" fill="#ff6195" stroke="#ff6195" stroke-width="0.9"/>
<polygon points="348.54,441.41 355.84,434.65 347.05,434.74" fill="#ff6ba0" stroke="#ff6ba0" stroke-width="0.9"/>
<polygon points="347.05,434.74 355.84,434.65 354.30,427.99" fill="#ff67af" stroke="#ff67af" stroke-width="0.9"/>
<polygon points="355.84,434.65 363.15,427.90 354.30,427.99" fill="#ff72bc" stroke="#ff72bc" stroke-width="0.9"/>
<polygon points="354.30,427.99 363.15,427.90 361.56,421.25" fill="#ff6ecc" stroke="#ff6ecc" stroke-width="0.9"/>
<polygon points="363.15,427.90 370.46,421.14 361.56,421.25" fill="#ff7adb" stroke="#ff7adb" stroke-width="0.9"/>
<polygon points="361.56,421.25 370.46,421.14 368.81,414.50" fill="#ff76ec" stroke="#ff76ec" stroke-width="0.9"/>
<polygon points="370.46,421.14 377.77,414.39 368.81,414.50" fill="#fe83ff" stroke="#fe83ff" stroke-width="0.9"/>
<polygon points="368.81,414.50 377.77,414.39 376.07,407.76" fill="#ec76ff" stroke="#ec76ff" stroke-width="0.9"/>
<polygon points="377.77,414.39 385.07,407.63 376.07,407.76" fill="#db7aff" stroke="#db7aff" stroke-width="0.9"/>
<polygon points="376.07,407.76 385.07,407.63 383.32,401.01" fill="#cc6eff" stroke="#cc6eff" stroke-width="0.9"/>
<polygon points="385.07,407.63 392.38,400.88 383.32,401.01" fill="#bc72ff" stroke="#bc72ff" stroke-width="0.9"/>
<polygon points="383.32,401.01 392.38,400.88 390.58,394.27" fill="#af67ff" stroke="#af67ff" stroke-width="0.9"/>
<polygon points="392.38,400.88 399.69,394.12 390.58,394.27" fill="#a06bff" stroke="#a06bff" stroke-width="0.9"/>
<polygon points="390.58,394.27 399.69,394.12 397.83,387.52" fill="#9561ff" stroke="#9561ff" stroke-width="0.9"/>
<polygon points="399.69,394.12 406.99,387.36 397.83,387.52" fill="#8766ff" stroke="#8766ff" stroke-width="0.9"/>
<polygon points="397.83,387.52 406.99,387.36 405.09,380.77" fill="#7d5cff" stroke="#7d5cff" stroke-width="0.9"/>
<polygon points="406.99,387.36 414.30,380.61 405.09,380.77" fill="#7160ff" stroke="#7160ff" stroke-width="0.9"/>
<polygon points="405.09,380.77 414.30,380.61 412.34,374.03" fill="#6858ff" stroke="#6858ff" stroke-width="0.9"/>
<polygon points="414.30,380.61 421.61,373.85 412.34,374.03" fill="#5c5cff" stroke="#5c5cff" stroke-width="0.9"/>
<polygon points="412.34,374.03 421.61,373.85 419.60,367.28" fill="#5454ff" stroke="#5454ff" stroke-width="0.9"/>
<polygon points="421.61,373.85 428.92,367.10 419.60,367.28" fill="#4857ff" stroke="#4857ff" stroke-width="0.9"/>
<polygon points="419.60,367.28 428.92,367.10 426.85,360.54" fill="#4150ff" stroke="#4150ff" stroke-width="0.9"/>
<polygon points="428.92,367.10 436.22,360.34 426.85,360.54" fill="#3554ff" stroke="#3554ff" stroke-width="0.9"/>
<polygon points="426.85,360.54 436.22,360.34 434.11,353.79" fill="#2e4dff" stroke="#2e4dff" stroke-width="0.9"/>
<polygon points="436.22,360.34 443.53,353.59 434.11,353.79" fill="#2350ff" stroke="#2350ff" stroke-width="0.9"/>
<polygon points="434.11,353.79 443.53,353.59 441.36,347.05" fill="#1c4aff" stroke="#1c4aff" stroke-width="0.9"/>
<polygon points="443.53,353.59 450.84,346.83 441.36,347.05" fill="#104dff" stroke="#104dff" stroke-width="0.9"/>
<polygon points="441.36,347.05 450.84,346.83 448.62,340.30" fill="#0947ff" stroke="#0947ff" stroke-width="0.9"/>
<polygon points="297.38,488.70 305.76,488.70 304.69,481.94" fill="#ff5709" stroke="#ff5709" stroke-width="0.9"/>
<polygon points="305.76,488.70 313.12,481.93 304.69,481.94" fill="#ff5e11" stroke="#ff5e11" stroke-width="0.9"/>
<polygon points="304.69,481.94 313.12,481.93 312.00,475.19" fill="#ff5b1e" stroke="#ff5b1e" stroke-width="0.9"/>
<polygon points="313.12,481.93 320.48,475.17 312.00,475.19" fill="#ff6224" stroke="#ff6224" stroke-width="0.9"/>
<polygon points="312.00,475.19 320.48,475.17 319.31,468.43" fill="#ff5e31" stroke="#ff5e31" stroke-width="0.9"/>
<polygon points="320.48,475.17 327.84,468.40 319.31,468.43" fill="#ff6638" stroke="#ff6638" stroke-width="0.9"/>
<polygon points="319.31,468.43 327.84,468.40 326.61,461.68" fill="#ff6344" stroke="#ff6344" stroke-width="0.9"/>
<polygon points="327.84,468.40 335.20,461.64 326.61,461.68" fill="#ff6b4b" stroke="#ff6b4b" stroke-width="0.9"/>
<polygon points="326.61,461.68 335.20,461.64 333.92,454.92" fill="#ff6858" stroke="#ff6858" stroke-width="0.9"/>
<polygon points="335.20,461.64 342.56,454.87 333.92,454.92" fill="#ff7160" stroke="#ff7160" stroke-width="0.9"/>
<polygon points="333.92,454.92 342.56,454.87 341.23,448.17" fill="#ff6d6d" stroke="#ff6d6d" stroke-width="0.9"/>
<polygon points="342.56,454.87 349.92,448.10 341.23,448.17" fill="#ff7777" stroke="#ff7777" stroke-width="0.9"/>
<polygon points="341.23,448.17 349.92,448.10 348.54,441.41" fill="#ff7384" stroke="#ff7384" stroke-width="0.9"/>
<polygon points="349.92,448.10 357.28,441.34 348.54,441.41" fill="#ff7e8f" stroke="#ff7e8f" stroke-width="0.9"/>
<polygon points="348.54,441.41 357.28,441.34 355.84,434.65" fill="#ff7a9e" stroke="#ff7a9e" stroke-width="0.9"/>
<polygon points="357.28,441.34 364.64,434.57 355.84,434.65" fill="#ff85aa" stroke="#ff85aa" stroke-width="0.9"/>
<polygon points="355.84,434.65 364.64,434.57 363.15,427.90" fill="#ff82ba" stroke="#ff82ba" stroke-width="0.9"/>
<polygon points="364.64,434.57 372.00,427.81 363.15,427.90" fill="#ff8fc9" stroke="#ff8fc9" stroke-width="0.9"/>
<polygon points="363.15,427.90 372.00,427.81 370.46,421.14" fill="#ff8bda" stroke="#ff8bda" stroke-width="0.9"/>
<polygon points="372.00,427.81 379.36,421.04 370.46,421.14" fill="#ff99eb" stroke="#ff99eb" stroke-width="0.9"/>
<polygon points="370.46,421.14 379.36,421.04 377.77,414.39" fill="#ff96ff" stroke="#ff96ff" stroke-width="0.9"/>
<polygon points="379.36,421.04 386.72,414.27 377.77,414.39" fill="#eb99ff" stroke="#eb99ff" stroke-width="0.9"/>
<polygon points="377.77,414.39 386.72,414.27 385.07,407.63" fill="#da8bff" stroke="#da8bff" stroke-width="0.9"/>
<polygon points="386.72,414.27 394.08,407.51 385.07,407.63" fill="#c98fff" stroke="#c98fff" stroke-width="0.9"/>
<polygon points="385.07,407.63 394.08,407.51 392.38,400.88" fill="#ba82ff" stroke="#ba82ff" stroke-width="0.9"/>
<polygon points="394.08,407.51 401.44,400.74 392.38,400.88" fill="#aa85ff" stroke="#aa85ff" stroke-width="0.9"/>
<polygon points="392.38,400.88 401.44,400.74 399.69,394.12" fill="#9e7aff" stroke="#9e7aff" stroke-width="0.9"/>
<polygon points="401.44,400.74 408.80,393.98 399.69,394.12" fill="#8f7eff" stroke="#8f7eff" stroke-width="0.9"/>
<polygon points="399.69,394.12 408.80,393.98 406.99,387.36" fill="#8473ff" stroke="#8473ff" stroke-width="0.9"/>
<polygon points="408.80,393.98 416.16,387.21 406.99,387.36" fill="#7777ff" stroke="#7777ff" stroke-width="0.9"/>
<polygon points="406.99,387.36 416.16,387.21 414.30,380.61" fill="#6d6dff" stroke="#6d6dff" stroke-width="0.9"/>
<polygon points="416.16,387.21 423.51,380.44 414.30,380.61" fill="#6071ff" stroke="#6071ff" stroke-width="0.9"/>
<polygon points="414.30,380.61 423.51,380.44 421.61,373.85" fill="#5868ff" stroke="#5868ff" stroke-width="0.9"/>
<polygon points="423.51,380.44 430.87,373.68 421.61,373.85" fill="#4b6bff" stroke="#4b6bff" stroke-width="0.9"/>
<polygon points="421.61,373.85 430.87,373.68 428.92,367.10" fill="#4463ff" stroke="#4463ff" stroke-width="0.9"/>
<polygon points="430.87,373.68 438.23,366.91 428.92,367.10" fill="#3866ff" stroke="#3866ff" stroke-width="0.9"/>
<polygon points="428.92,367.10 438.23,366.91 436.22,360.34" fill="#315eff" stroke="#315eff" stroke-width="0.9"/>
<polygon points="438.23,366.91 445.59,360.14 436.22,360.34" fill="#2462ff" stroke="#2462ff" stroke-width="0.9"/>
<polygon points="436.22,360.34 445.59,360.14 443.53,353.59" fill="#1e5bff" stroke="#1e5bff" stroke-width="0.9"/>
<polygon points="445.59,360.14 452.95,353.38 443.53,353.59" fill="#115eff" stroke="#115eff" stroke-width="0.9"/>
<polygon points="443.53,353.59 452.95,353.38 450.84,346.83" fill="#0957ff" stroke="#0957ff" stroke-width="0.9"/>
<polygon points="305.76,488.70 314.14,488.70 313.12,481.93" fill="#ff6809" stroke="#ff6809" stroke-width="0.9"/>
<polygon points="314.14,488.70 321.55,481.92 313.12,481.93" fill="#ff6f11" stroke="#ff6f11" stroke-width="0.9"/>
<polygon points="313.12,481.93 321.55,481.92 320.48,475.17" fill="#ff6c1f" stroke="#ff6c1f" stroke-width="0.9"/>
<polygon points="321.55,481.92 328.96,475.15 320.48,475.17" fill="#ff7426" stroke="#ff7426" stroke-width="0.9"/>
<polygon points="320.48,475.17 328.96,475.15 327.84,468.40" fill="#ff7133" stroke="#ff7133" stroke-width="0.9"/>
<polygon points="328.96,475.15 336.37,468.37 327.84,468.40" fill="#ff7a3a" stroke="#ff7a3a" stroke-width="0.9"/>
<polygon points="327.84,468.40 336.37,468.37 335.20,461.64" fill="#ff7747" stroke="#ff7747" stroke-width="0.9"/>
<polygon points="336.37,468.37 343.79,461.59 335.20,461.64" fill="#ff804f" stroke="#ff804f" stroke-width="0.9"/>
<polygon points="335.20,461.64 343.79,461.59 342.56,454.87" fill="#ff7d5c" stroke="#ff7d5c" stroke-width="0.9"/>
<polygon points="343.79,461.59 351.20,454.82 342.56,454.87" fill="#ff8766" stroke="#ff8766" stroke-width="0.9"/>
<polygon points="342.56,454.87 351.20,454.82 349.92,448.10" fill="#ff8473" stroke="#ff8473" stroke-width="0.9"/>
<polygon points="351.20,454.82 358.61,448.04 349.92,448.10" fill="#ff8f7e" stroke="#ff8f7e" stroke-width="0.9"/>
<polygon points="349.92,448.10 358.61,448.04 357.28,441.34" fill="#ff8c8c" stroke="#ff8c8c" stroke-width="0.9"/>
<polygon points="358.61,448.04 366.02,441.26 357.28,441.34" fill="#ff9898" stroke="#ff9898" stroke-width="0.9"/>
<polygon points="357.28,441.34 366.02,441.26 364.64,434.57" fill="#ff95a8" stroke="#ff95a8" stroke-width="0.9"/>
<polygon points="366.02,441.26 373.43,434.49 364.64,434.57" fill="#ffa2b6" stroke="#ffa2b6" stroke-width="0.9"/>
<polygon points="364.64,434.57 373.43,434.49 372.00,427.81" fill="#ffa0c7" stroke="#ffa0c7" stroke-width="0.9"/>
<polygon points="373.43,434.49 380.84,427.71 372.00,427.81" fill="#ffafd7" stroke="#ffafd7" stroke-width="0.9"/>
<polygon points="372.00,427.81 380.84,427.71 379.36,421.04" fill="#ffaceb" stroke="#ffaceb" stroke-width="0.9"/>
<polygon points="380.84,427.71 388.26,420.94 379.36,421.04" fill="#ffbdff" stroke="#ffbdff" stroke-width="0.9"/>
<polygon points="379.36,421.04 388.26,420.94 386.72,414.27" fill="#ebacff" stroke="#ebacff" stroke-width="0.9"/>
<polygon points="388.26,420.94 395.67,414.16 386.72,414.27" fill="#d7afff" stroke="#d7afff" stroke-width="0.9"/>
<polygon points="386.72,414.27 395.67,414.16 394.08,407.51" fill="#c7a0ff" stroke="#c7a0ff" stroke-width="0.9"/>
<polygon points="395.67,414.16 403.08,407.38 394.08,407.51" fill="#b6a2ff" stroke="#b6a2ff" stroke-width="0.9"/>
<polygon points="394.08,407.51 403.08,407.38 401.44,400.74" fill="#a895ff" stroke="#a895ff" stroke-width="0.9"/>
<polygon points="403.08,407.38 410.49,400.61 401.44,400.74" fill="#9898ff" stroke="#9898ff" stroke-width="0.9"/>
<polygon points="401.44,400.74 410.49,400.61 408.80,393.98" fill="#8c8cff" stroke="#8c8cff" stroke-width="0.9"/>
<polygon points="410.49,400.61 417.90,393.83 408.80,393.98" fill="#7e8fff" stroke="#7e8fff" stroke-width="0.9"/>
<polygon points="408.80,393.98 417.90,393.83 416.16,387.21" fill="#7384ff" stroke="#7384ff" stroke-width="0.9"/>
<polygon points="417.90,393.83 425.32,387.05 416.16,387.21" fill="#6687ff" stroke="#6687ff" stroke-width="0.9"/>
<polygon points="416.16,387.21 425.32,387.05 423.51,380.44" fill="#5c7dff" stroke="#5c7dff" stroke-width="0.9"/>
<polygon points="425.32,387.05 432.73,380.28 423.51,380.44" fill="#4f80ff" stroke="#4f80ff" stroke-width="0.9"/>
<polygon points="423.51,380.44 432.73,380.28 430.87,373.68" fill="#4777ff" stroke="#4777ff" stroke-width="0.9"/>
<polygon points="432.73,380.28 440.14,373.50 430.87,373.68" fill="#3a7aff" stroke="#3a7aff" stroke-width="0.9"/>
<polygon points="430.87,373.68 440.14,373.50 438.23,366.91" fill="#3371ff" stroke="#3371ff" stroke-width="0.9"/>
<polygon points="440.14,373.50 447.55,366.72 438.23,366.91" fill="#2674ff" stroke="#2674ff" stroke-width="0.9"/>
<polygon points="438.23,366.91 447.55,366.72 445.59,360.14" fill="#1f6cff" stroke="#1f6cff" stroke-width="0.9"/>
<polygon points="447.55,366.72 454.96,359.95 445.59,360.14" fill="#116fff" stroke="#116fff" stroke-width="0.9"/>
<polygon points="445.59,360.14 454.96,359.95 452.95,353.38" fill="#0968ff" stroke="#0968ff" stroke-width="0.9"/>
<polygon points="314.14,488.70 322.52,488.70 321.55,481.92" fill="#ff7a0a" stroke="#ff7a0a" stroke-width="0.9"/>
<polygon points="322.52,488.70 329.98,481.91 321.55,481.92" fill="#ff8212" stroke="#ff8212" stroke-width="0.9"/>
<polygon points="321.55,481.92 329.98,481.91 328.96,475.15" fill="#ff8020" stroke="#ff8020" stroke-width="0.9"/>
<polygon points="329.98,481.91 337.44,475.13 328.96,475.15" fill="#ff8928" stroke="#ff8928" stroke-width="0.9"/>
<polygon points="328.96,475.15 337.44,475.13 336.37,468.37" fill="#ff8635" stroke="#ff8635" stroke-width="0.9"/>
<polygon points="337.44,475.13 344.91,468.34 336.37,468.37" fill="#ff8f3d" stroke="#ff8f3d" stroke-width="0.9"/>
<polygon points="336.37,468.37 344.91,468.34 343.79,461.59" fill="#ff8d4b" stroke="#ff8d4b" stroke-width="0.9"/>
<polygon points="344.91,468.34 352.37,461.55 343.79,461.59" fill="#ff9754" stroke="#ff9754" stroke-width="0.9"/>
<polygon points="343.79,461.59 352.37,461.55 351.20,454.82" fill="#ff9561" stroke="#ff9561" stroke-width="0.9"/>
<polygon points="352.37,461.55 359.84,454.77 351.20,454.82" fill="#ffa06b" stroke="#ffa06b" stroke-width="0.9"/>
<polygon points="351.20,454.82 359.84,454.77 358.61,448.04" fill="#ff9e7a" stroke="#ff9e7a" stroke-width="0.9"/>
<polygon points="359.84,454.77 367.30,447.98 358.61,448.04" fill="#ffaa85" stroke="#ffaa85" stroke-width="0.9"/>
<polygon points="358.61,448.04 367.30,447.98 366.02,441.26" fill="#ffa895" stroke="#ffa895" stroke-width="0.9"/>
<polygon points="367.30,447.98 374.76,441.19 366.02,441.26" fill="#ffb6a2" stroke="#ffb6a2" stroke-width="0.9"/>
<polygon points="366.02,441.26 374.76,441.19 373.43,434.49" fill="#ffb4b4" stroke="#ffb4b4" stroke-width="0.9"/>
<polygon points="374.76,441.19 382.23,434.41 373.43,434.49" fill="#ffc3c3" stroke="#ffc3c3" stroke-width="0.9"/>
<polygon points="373.43,434.49 382.23,434.41 380.84,427.71" fill="#ffc1d6" stroke="#ffc1d6" stroke-width="0.9"/>
<polygon points="382.23,434.41 389.69,427.62 380.84,427.71" fill="#ffd3e9" stroke="#ffd3e9" stroke-width="0.9"/>
<polygon points="380.84,427.71 389.69,427.62 388.26,420.94" fill="#ffd2ff" stroke="#ffd2ff" stroke-width="0.9"/>
<polygon points="389.69,427.62 397.16,420.83 388.26,420.94" fill="#e9d3ff" stroke="#e9d3ff" stroke-width="0.9"/>
<polygon points="388.26,420.94 397.16,420.83 395.67,414.16" fill="#d6c1ff" stroke="#d6c1ff" stroke-width="0.9"/>
<polygon points="397.16,420.83 404.62,414.05 395.67,414.16" fill="#c3c3ff" stroke="#c3c3ff" stroke-width="0.9"/>
<polygon points="395.67,414.16 404.62,414.05 403.08,407.38" fill="#b4b4ff" stroke="#b4b4ff" stroke-width="0.9"/>
<polygon points="404.62,414.05 412.08,407.26 403.08,407.38" fill="#a2b6ff" stroke="#a2b6ff" stroke-width="0.9"/>
<polygon points="403.08,407.38 412.08,407.26 410.49,400.61" fill="#95a8ff" stroke="#95a8ff" stroke-width="0.9"/>
<polygon points="412.08,407.26 419.55,400.47 410.49,400.61" fill="#85aaff" stroke="#85aaff" stroke-width="0.9"/>
<polygon points="410.49,400.61 419.55,400.47 417.90,393.83" fill="#7a9eff" stroke="#7a9eff" stroke-width="0.9"/>
<polygon points="419.55,400.47 427.01,393.68 417.90,393.83" fill="#6ba0ff" stroke="#6ba0ff" stroke-width="0.9"/>
<polygon points="417.90,393.83 427.01,393.68 425.32,387.05" fill="#6195ff" stroke="#6195ff" stroke-width="0.9"/>
<polygon points="427.01,393.68 434.48,386.90 425.32,387.05" fill="#5497ff" stroke="#5497ff" stroke-width="0.9"/>
<polygon points="425.32,387.05 434.48,386.90 432.73,380.28" fill="#4b8dff" stroke="#4b8dff" stroke-width="0.9"/>
<polygon points="434.48,386.90 441.94,380.11 432.73,380.28" fill="#3d8fff" stroke="#3d8fff" stroke-width="0.9"/>
<polygon points="432.73,380.28 441.94,380.11 440.14,373.50" fill="#3586ff" stroke="#3586ff" stroke-width="0.9"/>
<polygon points="441.94,380.11 449.40,373.32 440.14,373.50" fill="#2889ff" stroke="#2889ff" stroke-width="0.9"/>
<polygon points="440.14,373.50 449.40,373.32 447.55,366.72" fill="#2080ff" stroke="#2080ff" stroke-width="0.9"/>
<polygon points="449.40,373.32 456.87,366.54 447.55,366.72" fill="#1282ff" stroke="#1282ff" stroke-width="0.9"/>
<polygon points="447.55,366.72 456.87,366.54 454.96,359.95" fill="#0a7aff" stroke="#0a7aff" stroke-width="0.9"/>
<polygon points="322.52,488.70 330.89,488.70 329.98,481.91" fill="#ff8d0a" stroke="#ff8d0a" stroke-width="0.9"/>
<polygon points="330.89,488.70 338.41,481.90 329.98,481.91" fill="#ff9713" stroke="#ff9713" stroke-width="0.9"/>
<polygon points="329.98,481.91 338.41,481.90 337.44,475.13" fill="#ff9422" stroke="#ff9422" stroke-width="0.9"/>
<polygon points="338.41,481.90 345.92,475.11 337.44,475.13" fill="#ff9e2a" stroke="#ff9e2a" stroke-width="0.9"/>
<polygon points="337.44,475.13 345.92,475.11 344.91,468.34" fill="#ff9c38" stroke="#ff9c38" stroke-width="0.9"/>
<polygon points="345.92,475.11 353.44,468.31 344.91,468.34" fill="#ffa741" stroke="#ffa741" stroke-width="0.9"/>
<polygon points="344.91,468.34 353.44,468.31 352.37,461.55" fill="#ffa54f" stroke="#ffa54f" stroke-width="0.9"/>
<polygon points="353.44,468.31 360.96,461.51 352.37,461.55" fill="#ffb159" stroke="#ffb159" stroke-width="0.9"/>
<polygon points="352.37,461.55 360.96,461.51 359.84,454.77" fill="#ffaf67" stroke="#ffaf67" stroke-width="0.9"/>
<polygon points="360.96,461.51 368.47,454.71 359.84,454.77" fill="#ffbc72" stroke="#ffbc72" stroke-width="0.9"/>
<polygon points="359.84,454.77 368.47,454.71 367.30,447.98" fill="#ffba82" stroke="#ffba82" stroke-width="0.9"/>
<polygon points="368.47,454.71 375.99,447.92 367.30,447.98" fill="#ffc98f" stroke="#ffc98f" stroke-width="0.9"/>
<polygon points="367.30,447.98 375.99,447.92 374.76,441.19" fill="#ffc7a0" stroke="#ffc7a0" stroke-width="0.9"/>
<polygon points="375.99,447.92 383.51,441.12 374.76,441.19" fill="#ffd7af" stroke="#ffd7af" stroke-width="0.9"/>
<polygon points="374.76,441.19 383.51,441.12 382.23,434.41" fill="#ffd6c1" stroke="#ffd6c1" stroke-width="0.9"/>
<polygon points="383.51,441.12 391.02,434.32 382.23,434.41" fill="#ffe9d3" stroke="#ffe9d3" stroke-width="0.9"/>
<polygon points="382.23,434.41 391.02,434.32 389.69,427.62" fill="#ffe8e8" stroke="#ffe8e8" stroke-width="0.9"/>
<polygon points="391.02,434.32 398.54,427.53 389.69,427.62" fill="#fffefe" stroke="#fffefe" stroke-width="0.9"/>
<polygon points="389.69,427.62 398.54,427.53 397.16,420.83" fill="#e8e8ff" stroke="#e8e8ff" stroke-width="0.9"/>
<polygon points="398.54,427.53 406.06,420.73 397.16,420.83" fill="#d3e9ff" stroke="#d3e9ff" stroke-width="0.9"/>
<polygon points="397.16,420.83 406.06,420.73 404.62,414.05" fill="#c1d6ff" stroke="#c1d6ff" stroke-width="0.9"/>
<polygon points="406.06,420.73 413.57,413.93 404.62,414.05" fill="#afd7ff" stroke="#afd7ff" stroke-width="0.9"/>
<polygon points="404.62,414.05 413.57,413.93 412.08,407.26" fill="#a0c7ff" stroke="#a0c7ff" stroke-width="0.9"/>
<polygon points="413.57,413.93 421.09,407.13 412.08,407.26" fill="#8fc9ff" stroke="#8fc9ff" stroke-width="0.9"/>
<polygon points="412.08,407.26 421.09,407.13 419.55,400.47" fill="#82baff" stroke="#82baff" stroke-width="0.9"/>
<polygon points="421.09,407.13 428.60,400.34 419.55,400.47" fill="#72bcff" stroke="#72bcff" stroke-width="0.9"/>
<polygon points="419.55,400.47 428.60,400.34 427.01,393.68" fill="#67afff" stroke="#67afff" stroke-width="0.9"/>
<polygon points="428.60,400.34 436.12,393.54 427.01,393.68" fill="#59b1ff" stroke="#59b1ff" stroke-width="0.9"/>
<polygon points="427.01,393.68 436.12,393.54 434.48,386.90" fill="#4fa5ff" stroke="#4fa5ff" stroke-width="0.9"/>
<polygon points="436.12,393.54 443.64,386.74 434.48,386.90" fill="#41a7ff" stroke="#41a7ff" stroke-width="0.9"/>
<polygon points="434.48,386.90 443.64,386.74 441.94,380.11" fill="#389cff" stroke="#389cff" stroke-width="0.9"/>
<polygon points="443.64,386.74 451.15,379.95 441.94,380.11" fill="#2a9eff" stroke="#2a9eff" stroke-width="0.9"/>
<polygon points="441.94,380.11 451.15,379.95 449.40,373.32" fill="#2294ff" stroke="#2294ff" stroke-width="0.9"/>
<polygon points="451.15,379.95 458.67,373.15 449.40,373.32" fill="#1397ff" stroke="#1397ff" stroke-width="0.9"/>
<polygon points="449.40,373.32 458.67,373.15 456.87,366.54" fill="#0a8dff" stroke="#0a8dff" stroke-width="0.9"/>
<polygon points="330.89,488.70 339.27,488.70 338.41,481.90" fill="#ffa20b" stroke="#ffa20b" stroke-width="0.9"/>
<polygon points="339.27,488.70 346.84,481.89 338.41,481.90" fill="#ffad14" stroke="#ffad14" stroke-width="0.9"/>
<polygon points="338.41,481.90 346.84,481.89 345.92,475.11" fill="#ffab24" stroke="#ffab24" stroke-width="0.9"/>
<polygon points="346.84,481.89 354.41,475.08 345.92,475.11" fill="#ffb62c" stroke="#ffb62c" stroke-width="0.9"/>
<polygon points="345.92,475.11 354.41,475.08 353.44,468.31" fill="#ffb43b" stroke="#ffb43b" stroke-width="0.9"/>
<polygon points="354.41,475.08 361.97,468.28 353.44,468.31" fill="#ffc144" stroke="#ffc144" stroke-width="0.9"/>
<polygon points="353.44,468.31 361.97,468.28 360.96,461.51" fill="#ffbf54" stroke="#ffbf54" stroke-width="0.9"/>
<polygon points="361.97,468.28 369.54,461.47 360.96,461.51" fill="#ffcd5e" stroke="#ffcd5e" stroke-width="0.9"/>
<polygon points="360.96,461.51 369.54,461.47 368.47,454.71" fill="#ffcc6e" stroke="#ffcc6e" stroke-width="0.9"/>
<polygon points="369.54,461.47 377.11,454.66 368.47,454.71" fill="#ffdb7a" stroke="#ffdb7a" stroke-width="0.9"/>
<polygon points="368.47,454.71 377.11,454.66 375.99,447.92" fill="#ffda8b" stroke="#ffda8b" stroke-width="0.9"/>
<polygon points="377.11,454.66 384.68,447.85 375.99,447.92" fill="#ffeb99" stroke="#ffeb99" stroke-width="0.9"/>
<polygon points="375.99,447.92 384.68,447.85 383.51,441.12" fill="#ffebac" stroke="#ffebac" stroke-width="0.9"/>
<polygon points="384.68,447.85 392.25,441.05 383.51,441.12" fill="#ffffbd" stroke="#ffffbd" stroke-width="0.9"/>
<polygon points="383.51,441.12 392.25,441.05 391.02,434.32" fill="#feffd2" stroke="#feffd2" stroke-width="0.9"/>
<polygon points="392.25,441.05 399.82,434.24 391.02,434.32" fill="#e9ffd3" stroke="#e9ffd3" stroke-width="0.9"/>
<polygon points="391.02,434.32 399.82,434.24 398.54,427.53" fill="#e8ffe8" stroke="#e8ffe8" stroke-width="0.9"/>
<polygon points="399.82,434.24 407.39,427.43 398.54,427.53" fill="#d3ffe9" stroke="#d3ffe9" stroke-width="0.9"/>
<polygon points="398.54,427.53 407.39,427.43 406.06,420.73" fill="#d2ffff" stroke="#d2ffff" stroke-width="0.9"/>
<polygon points="407.39,427.43 414.95,420.62 406.06,420.73" fill="#bdffff" stroke="#bdffff" stroke-width="0.9"/>
<polygon points="406.06,420.73 414.95,420.62 413.57,413.93" fill="#acebff" stroke="#acebff" stroke-width="0.9"/>
<polygon points="414.95,420.62 422.52,413.82 413.57,413.93" fill="#99ebff" stroke="#99ebff" stroke-width="0.9"/>
<polygon points="413.57,413.93 422.52,413.82 421.09,407.13" fill="#8bdaff" stroke="#8bdaff" stroke-width="0.9"/>
<polygon points="422.52,413.82 430.09,407.01 421.09,407.13" fill="#7adbff" stroke="#7adbff" stroke-width="0.9"/>
<polygon points="421.09,407.13 430.09,407.01 428.60,400.34" fill="#6eccff" stroke="#6eccff" stroke-width="0.9"/>
<polygon points="430.09,407.01 437.66,400.20 428.60,400.34" fill="#5ecdff" stroke="#5ecdff" stroke-width="0.9"/>
<polygon points="428.60,400.34 437.66,400.20 436.12,393.54" fill="#54bfff" stroke="#54bfff" stroke-width="0.9"/>
<polygon points="437.66,400.20 445.23,393.39 436.12,393.54" fill="#44c1ff" stroke="#44c1ff" stroke-width="0.9"/>
<polygon points="436.12,393.54 445.23,393.39 443.64,386.74" fill="#3bb4ff" stroke="#3bb4ff" stroke-width="0.9"/>
<polygon points="445.23,393.39 452.80,386.59 443.64,386.74" fill="#2cb6ff" stroke="#2cb6ff" stroke-width="0.9"/>
<polygon points="443.64,386.74 452.80,386.59 451.15,379.95" fill="#24abff" stroke="#24abff" stroke-width="0.9"/>
<polygon points="452.80,386.59 460.37,379.78 451.15,379.95" fill="#14adff" stroke="#14adff" stroke-width="0.9"/>
<polygon points="451.15,379.95 460.37,379.78 458.67,373.15" fill="#0ba2ff" stroke="#0ba2ff" stroke-width="0.9"/>
<polygon points="339.27,488.70 347.65,488.70 346.84,481.89" fill="#ffb90b" stroke="#ffb90b" stroke-width="0.9"/>
<polygon points="347.65,488.70 355.27,481.88 346.84,481.89" fill="#ffc515" stroke="#ffc515" stroke-width="0.9"/>
<polygon points="346.84,481.89 355.27,481.88 354.41,475.08" fill="#ffc426" stroke="#ffc426" stroke-width="0.9"/>
<polygon points="355.27,481.88 362.89,475.06 354.41,475.08" fill="#ffd12f" stroke="#ffd12f" stroke-width="0.9"/>
<polygon points="354.41,475.08 362.89,475.06 361.97,468.28" fill="#ffcf3f" stroke="#ffcf3f" stroke-width="0.9"/>
<polygon points="362.89,475.06 370.51,468.25 361.97,468.28" fill="#ffde49" stroke="#ffde49" stroke-width="0.9"/>
<polygon points="361.97,468.28 370.51,468.25 369.54,461.47" fill="#ffdd59" stroke="#ffdd59" stroke-width="0.9"/>
<polygon points="370.51,468.25 378.13,461.43 369.54,461.47" fill="#ffed65" stroke="#ffed65" stroke-width="0.9"/>
<polygon points="369.54,461.47 378.13,461.43 377.11,454.66" fill="#ffec76" stroke="#ffec76" stroke-width="0.9"/>
<polygon points="378.13,461.43 385.75,454.61 377.11,454.66" fill="#feff83" stroke="#feff83" stroke-width="0.9"/>
<polygon points="377.11,454.66 385.75,454.61 384.68,447.85" fill="#fffe96" stroke="#fffe96" stroke-width="0.9"/>
<polygon points="385.75,454.61 393.37,447.79 384.68,447.85" fill="#ebff99" stroke="#ebff99" stroke-width="0.9"/>
<polygon points="384.68,447.85 393.37,447.79 392.25,441.05" fill="#ebffac" stroke="#ebffac" stroke-width="0.9"/>
<polygon points="393.37,447.79 400.99,440.97 392.25,441.05" fill="#d7ffaf" stroke="#d7ffaf" stroke-width="0.9"/>
<polygon points="392.25,441.05 400.99,440.97 399.82,434.24" fill="#d6ffc1" stroke="#d6ffc1" stroke-width="0.9"/>
<polygon points="400.99,440.97 408.61,434.16 399.82,434.24" fill="#c3ffc3" stroke="#c3ffc3" stroke-width="0.9"/>
<polygon points="399.82,434.24 408.61,434.16 407.39,427.43" fill="#c1ffd6" stroke="#c1ffd6" stroke-width="0.9"/>
<polygon points="408.61,434.16 416.23,427.34 407.39,427.43" fill="#afffd7" stroke="#afffd7" stroke-width="0.9"/>
<polygon points="407.39,427.43 416.23,427.34 414.95,420.62" fill="#acffeb" stroke="#acffeb" stroke-width="0.9"/>
<polygon points="416.23,427.34 423.85,420.52 414.95,420.62" fill="#99ffeb" stroke="#99ffeb" stroke-width="0.9"/>
<polygon points="414.95,420.62 423.85,420.52 422.52,413.82" fill="#96ffff" stroke="#96ffff" stroke-width="0.9"/>
<polygon points="423.85,420.52 431.47,413.70 422.52,413.82" fill="#83ffff" stroke="#83ffff" stroke-width="0.9"/>
<polygon points="422.52,413.82 431.47,413.70 430.09,407.01" fill="#76ecff" stroke="#76ecff" stroke-width="0.9"/>
<polygon points="431.47,413.70 439.10,406.89 430.09,407.01" fill="#65edff" stroke="#65edff" stroke-width="0.9"/>
<polygon points="430.09,407.01 439.10,406.89 437.66,400.20" fill="#59ddff" stroke="#59ddff" stroke-width="0.9"/>
<polygon points="439.10,406.89 446.72,400.07 437.66,400.20" fill="#49deff" stroke="#49deff" stroke-width="0.9"/>
<polygon points="437.66,400.20 446.72,400.07 445.23,393.39" fill="#3fcfff" stroke="#3fcfff" stroke-width="0.9"/>
<polygon points="446.72,400.07 454.34,393.25 445.23,393.39" fill="#2fd1ff" stroke="#2fd1ff" stroke-width="0.9"/>
<polygon points="445.23,393.39 454.34,393.25 452.80,386.59" fill="#26c4ff" stroke="#26c4ff" stroke-width="0.9"/>
<polygon points="454.34,393.25 461.96,386.43 452.80,386.59" fill="#15c5ff" stroke="#15c5ff" stroke-width="0.9"/>
<polygon points="452.80,386.59 461.96,386.43 460.37,379.78" fill="#0bb9ff" stroke="#0bb9ff" stroke-width="0.9"/>
<polygon points="347.65,488.70 356.02,488.70 355.27,481.88" fill="#ffd30c" stroke="#ffd30c" stroke-width="0.9"/>
<polygon points="356.02,488.70 363.70,481.87 355.27,481.88" fill="#ffe016" stroke="#ffe016" stroke-width="0.9"/>
<polygon points="355.27,481.88 363.70,481.87 362.89,475.06" fill="#ffdf28" stroke="#ffdf28" stroke-width="0.9"/>
<polygon points="363.70,481.87 371.37,475.04 362.89,475.06" fill="#ffee32" stroke="#ffee32" stroke-width="0.9"/>
<polygon points="362.89,475.06 371.37,475.04 370.51,468.25" fill="#ffee43" stroke="#ffee43" stroke-width="0.9"/>
<polygon points="371.37,475.04 379.04,468.22 370.51,468.25" fill="#ffff4e" stroke="#ffff4e" stroke-width="0.9"/>
<polygon points="370.51,468.25 379.04,468.22 378.13,461.43" fill="#ffff5f" stroke="#ffff5f" stroke-width="0.9"/>
<polygon points="379.04,468.22 386.71,461.39 378.13,461.43" fill="#edff65" stroke="#edff65" stroke-width="0.9"/>
<polygon points="378.13,461.43 386.71,461.39 385.75,454.61" fill="#ecff76" stroke="#ecff76" stroke-width="0.9"/>
<polygon points="386.71,461.39 394.39,454.56 385.75,454.61" fill="#dbff7a" stroke="#dbff7a" stroke-width="0.9"/>
<polygon points="385.75,454.61 394.39,454.56 393.37,447.79" fill="#daff8b" stroke="#daff8b" stroke-width="0.9"/>
<polygon points="394.39,454.56 402.06,447.73 393.37,447.79" fill="#c9ff8f" stroke="#c9ff8f" stroke-width="0.9"/>
<polygon points="393.37,447.79 402.06,447.73 400.99,440.97" fill="#c7ffa0" stroke="#c7ffa0" stroke-width="0.9"/>
<polygon points="402.06,447.73 409.73,440.90 400.99,440.97" fill="#b6ffa2" stroke="#b6ffa2" stroke-width="0.9"/>
<polygon points="400.99,440.97 409.73,440.90 408.61,434.16" fill="#b4ffb4" stroke="#b4ffb4" stroke-width="0.9"/>
<polygon points="409.73,440.90 417.41,434.07 408.61,434.16" fill="#a2ffb6" stroke="#a2ffb6" stroke-width="0.9"/>
<polygon points="408.61,434.16 417.41,434.07 416.23,427.34" fill="#a0ffc7" stroke="#a0ffc7" stroke-width="0.9"/>
<polygon points="417.41,434.07 425.08,427.25 416.23,427.34" fill="#8fffc9" stroke="#8fffc9" stroke-width="0.9"/>
<polygon points="416.23,427.34 425.08,427.25 423.85,420.52" fill="#8bffda" stroke="#8bffda" stroke-width="0.9"/>
<polygon points="425.08,427.25 432.75,420.42 423.85,420.52" fill="#7affdb" stroke="#7affdb" stroke-width="0.9"/>
<polygon points="423.85,420.52 432.75,420.42 431.47,413.70" fill="#76ffec" stroke="#76ffec" stroke-width="0.9"/>
<polygon points="432.75,420.42 440.43,413.59 431.47,413.70" fill="#65ffed" stroke="#65ffed" stroke-width="0.9"/>
<polygon points="431.47,413.70 440.43,413.59 439.10,406.89" fill="#5fffff" stroke="#5fffff" stroke-width="0.9"/>
<polygon points="440.43,413.59 448.10,406.76 439.10,406.89" fill="#4effff" stroke="#4effff" stroke-width="0.9"/>
<polygon points="439.10,406.89 448.10,406.76 446.72,400.07" fill="#43eeff" stroke="#43eeff" stroke-width="0.9"/>
<polygon points="448.10,406.76 455.77,399.93 446.72,400.07" fill="#32eeff" stroke="#32eeff" stroke-width="0.9"/>
<polygon points="446.72,400.07 455.77,399.93 454.34,393.25" fill="#28dfff" stroke="#28dfff" stroke-width="0.9"/>
<polygon points="455.77,399.93 463.44,393.10 454.34,393.25" fill="#16e0ff" stroke="#16e0ff" stroke-width="0.9"/>
<polygon points="454.34,393.25 463.44,393.10 461.96,386.43" fill="#0cd3ff" stroke="#0cd3ff" stroke-width="0.9"/>
<polygon points="356.02,488.70 364.40,488.70 363.70,481.87" fill="#ffef0d" stroke="#ffef0d" stroke-width="0.9"/>
<polygon points="364.40,488.70 372.13,481.86 363.70,481.87" fill="#feff18" stroke="#feff18" stroke-width="0.9"/>
<polygon points="363.70,481.87 372.13,481.86 371.37,475.04" fill="#feff2b" stroke="#feff2b" stroke-width="0.9"/>
<polygon points="372.13,481.86 379.85,475.02 371.37,475.04" fill="#eeff32" stroke="#eeff32" stroke-width="0.9"/>
<polygon points="371.37,475.04 379.85,475.02 379.04,468.22" fill="#eeff43" stroke="#eeff43" stroke-width="0.9"/>
<polygon points="379.85,475.02 387.58,468.18 379.04,468.22" fill="#deff49" stroke="#deff49" stroke-width="0.9"/>
<polygon points="379.04,468.22 387.58,468.18 386.71,461.39" fill="#ddff59" stroke="#ddff59" stroke-width="0.9"/>
<polygon points="387.58,468.18 395.30,461.35 386.71,461.39" fill="#cdff5e" stroke="#cdff5e" stroke-width="0.9"/>
<polygon points="386.71,461.39 395.30,461.35 394.39,454.56" fill="#ccff6e" stroke="#ccff6e" stroke-width="0.9"/>
<polygon points="395.30,461.35 403.03,454.51 394.39,454.56" fill="#bcff72" stroke="#bcff72" stroke-width="0.9"/>
<polygon points="394.39,454.56 403.03,454.51 402.06,447.73" fill="#baff82" stroke="#baff82" stroke-width="0.9"/>
<polygon points="403.03,454.51 410.75,447.67 402.06,447.73" fill="#aaff85" stroke="#aaff85" stroke-width="0.9"/>
<polygon points="402.06,447.73 410.75,447.67 409.73,440.90" fill="#a8ff95" stroke="#a8ff95" stroke-width="0.9"/>
<polygon points="410.75,447.67 418.48,440.83 409.73,440.90" fill="#98ff98" stroke="#98ff98" stroke-width="0.9"/>
<polygon points="409.73,440.90 418.48,440.83 417.41,434.07" fill="#95ffa8" stroke="#95ffa8" stroke-width="0.9"/>
<polygon points="418.48,440.83 426.20,433.99 417.41,434.07" fill="#85ffaa" stroke="#85ffaa" stroke-width="0.9"/>
<polygon points="417.41,434.07 426.20,433.99 425.08,427.25" fill="#82ffba" stroke="#82ffba" stroke-width="0.9"/>
<polygon points="426.20,433.99 433.93,427.15 425.08,427.25" fill="#72ffbc" stroke="#72ffbc" stroke-width="0.9"/>
<polygon points="425.08,427.25 433.93,427.15 432.75,420.42" fill="#6effcc" stroke="#6effcc" stroke-width="0.9"/>
<polygon points="433.93,427.15 441.65,420.31 432.75,420.42" fill="#5effcd" stroke="#5effcd" stroke-width="0.9"/>
<polygon points="432.75,420.42 441.65,420.31 440.43,413.59" fill="#59ffdd" stroke="#59ffdd" stroke-width="0.9"/>
<polygon points="441.65,420.31 449.38,413.47 440.43,413.59" fill="#49ffde" stroke="#49ffde" stroke-width="0.9"/>
<polygon points="440.43,413.59 449.38,413.47 448.10,406.76" fill="#43ffee" stroke="#43ffee" stroke-width="0.9"/>
<polygon points="449.38,413.47 457.10,406.64 448.10,406.76" fill="#32ffee" stroke="#32ffee" stroke-width="0.9"/>
<polygon points="448.10,406.76 457.10,406.64 455.77,399.93" fill="#2bffff" stroke="#2bffff" stroke-width="0.9"/>
<polygon points="457.10,406.64 464.83,399.80 455.77,399.93" fill="#18ffff" stroke="#18ffff" stroke-width="0.9"/>
<polygon points="455.77,399.93 464.83,399.80 463.44,393.10" fill="#0defff" stroke="#0defff" stroke-width="0.9"/>
<polygon points="364.40,488.70 372.78,488.70 372.13,481.86" fill="#efff0d" stroke="#efff0d" stroke-width="0.9"/>
<polygon points="372.78,488.70 380.55,481.85 372.13,481.86" fill="#e0ff16" stroke="#e0ff16" stroke-width="0.9"/>
<polygon points="372.13,481.86 380.55,481.85 379.85,475.02" fill="#dfff28" stroke="#dfff28" stroke-width="0.9"/>
<polygon points="380.55,481.85 388.33,475.00 379.85,475.02" fill="#d1ff2f" stroke="#d1ff2f" stroke-width="0.9"/>
<polygon points="379.85,475.02 388.33,475.00 387.58,468.18" fill="#cfff3f" stroke="#cfff3f" stroke-width="0.9"/>
<polygon points="388.33,475.00 396.11,468.15 387.58,468.18" fill="#c1ff44" stroke="#c1ff44" stroke-width="0.9"/>
<polygon points="387.58,468.18 396.11,468.15 395.30,461.35" fill="#bfff54" stroke="#bfff54" stroke-width="0.9"/>
<polygon points="396.11,468.15 403.89,461.30 395.30,461.35" fill="#b1ff59" stroke="#b1ff59" stroke-width="0.9"/>
<polygon points="395.30,461.35 403.89,461.30 403.03,454.51" fill="#afff67" stroke="#afff67" stroke-width="0.9"/>
<polygon points="403.89,461.30 411.66,454.45 403.03,454.51" fill="#a0ff6b" stroke="#a0ff6b" stroke-width="0.9"/>
<polygon points="403.03,454.51 411.66,454.45 410.75,447.67" fill="#9eff7a" stroke="#9eff7a" stroke-width="0.9"/>
<polygon points="411.66,454.45 419.44,447.61 410.75,447.67" fill="#8fff7e" stroke="#8fff7e" stroke-width="0.9"/>
<polygon points="410.75,447.67 419.44,447.61 418.48,440.83" fill="#8cff8c" stroke="#8cff8c" stroke-width="0.9"/>
<polygon points="419.44,447.61 427.22,440.76 418.48,440.83" fill="#7eff8f" stroke="#7eff8f" stroke-width="0.9"/>
<polygon points="418.48,440.83 427.22,440.76 426.20,433.99" fill="#7aff9e" stroke="#7aff9e" stroke-width="0.9"/>
<polygon points="427.22,440.76 435.00,433.91 426.20,433.99" fill="#6bffa0" stroke="#6bffa0" stroke-width="0.9"/>
<polygon points="426.20,433.99 435.00,433.91 433.93,427.15" fill="#67ffaf" stroke="#67ffaf" stroke-width="0.9"/>
<polygon points="435.00,433.91 442.77,427.06 433.93,427.15" fill="#59ffb1" stroke="#59ffb1" stroke-width="0.9"/>
<polygon points="433.93,427.15 442.77,427.06 441.65,420.31" fill="#54ffbf" stroke="#54ffbf" stroke-width="0.9"/>
<polygon points="442.77,427.06 450.55,420.21 441.65,420.31" fill="#44ffc1" stroke="#44ffc1" stroke-width="0.9"/>
<polygon points="441.65,420.31 450.55,420.21 449.38,413.47" fill="#3fffcf" stroke="#3fffcf" stroke-width="0.9"/>
<polygon points="450.55,420.21 458.33,413.36 449.38,413.47" fill="#2fffd1" stroke="#2fffd1" stroke-width="0.9"/>
<polygon points="449.38,413.47 458.33,413.36 457.10,406.64" fill="#28ffdf" stroke="#28ffdf" stroke-width="0.9"/>
<polygon points="458.33,413.36 466.11,406.51 457.10,406.64" fill="#16ffe0" stroke="#16ffe0" stroke-width="0.9"/>
<polygon points="457.10,406.64 466.11,406.51 464.83,399.80" fill="#0dffef" stroke="#0dffef" stroke-width="0.9"/>
<polygon points="372.78,488.70 381.15,488.70 380.55,481.85" fill="#d3ff0c" stroke="#d3ff0c" stroke-width="0.9"/>
<polygon points="381.15,488.70 388.98,481.84 380.55,481.85" fill="#c5ff15" stroke="#c5ff15" stroke-width="0.9"/>
<polygon points="380.55,481.85 388.98,481.84 388.33,475.00" fill="#c4ff26" stroke="#c4ff26" stroke-width="0.9"/>
<polygon points="388.98,481.84 396.81,474.98 388.33,475.00" fill="#b6ff2c" stroke="#b6ff2c" stroke-width="0.9"/>
<polygon points="388.33,475.00 396.81,474.98 396.11,468.15" fill="#b4ff3b" stroke="#b4ff3b" stroke-width="0.9"/>
<polygon points="396.81,474.98 404.64,468.12 396.11,468.15" fill="#a7ff41" stroke="#a7ff41" stroke-width="0.9"/>
<polygon points="396.11,468.15 404.64,468.12 403.89,461.30" fill="#a5ff4f" stroke="#a5ff4f" stroke-width="0.9"/>
<polygon points="404.64,468.12 412.47,461.26 403.89,461.30" fill="#97ff54" stroke="#97ff54" stroke-width="0.9"/>
<polygon points="403.89,461.30 412.47,461.26 411.66,454.45" fill="#95ff61" stroke="#95ff61" stroke-width="0.9"/>
<polygon points="412.47,461.26 420.30,454.40 411.66,454.45" fill="#87ff66" stroke="#87ff66" stroke-width="0.9"/>
<polygon points="411.66,454.45 420.30,454.40 419.44,447.61" fill="#84ff73" stroke="#84ff73" stroke-width="0.9"/>
<polygon points="420.30,454.40 428.13,447.54 419.44,447.61" fill="#77ff77" stroke="#77ff77" stroke-width="0.9"/>
<polygon points="419.44,447.61 428.13,447.54 427.22,440.76" fill="#73ff84" stroke="#73ff84" stroke-width="0.9"/>
<polygon points="428.13,447.54 435.96,440.68 427.22,440.76" fill="#66ff87" stroke="#66ff87" stroke-width="0.9"/>
<polygon points="427.22,440.76 435.96,440.68 435.00,433.91" fill="#61ff95" stroke="#61ff95" stroke-width="0.9"/>
<polygon points="435.96,440.68 443.79,433.82 435.00,433.91" fill="#54ff97" stroke="#54ff97" stroke-width="0.9"/>
<polygon points="435.00,433.91 443.79,433.82 442.77,427.06" fill="#4fffa5" stroke="#4fffa5" stroke-width="0.9"/>
<polygon points="443.79,433.82 451.62,426.97 442.77,427.06" fill="#41ffa7" stroke="#41ffa7" stroke-width="0.9"/>
<polygon points="442.77,427.06 451.62,426.97 450.55,420.21" fill="#3bffb4" stroke="#3bffb4" stroke-width="0.9"/>
<polygon points="451.62,426.97 459.45,420.11 450.55,420.21" fill="#2cffb6" stroke="#2cffb6" stroke-width="0.9"/>
<polygon points="450.55,420.21 459.45,420.11 458.33,413.36" fill="#26ffc4" stroke="#26ffc4" stroke-width="0.9"/>
<polygon points="459.45,420.11 467.28,413.25 458.33,413.36" fill="#15ffc5" stroke="#15ffc5" stroke-width="0.9"/>
<polygon points="458.33,413.36 467.28,413.25 466.11,406.51" fill="#0cffd3" stroke="#0cffd3" stroke-width="0.9"/>
<polygon points="381.15,488.70 389.53,488.70 388.98,481.84" fill="#b9ff0b" stroke="#b9ff0b" stroke-width="0.9"/>
<polygon points="389.53,488.70 397.41,481.83 388.98,481.84" fill="#adff14" stroke="#adff14" stroke-width="0.9"/>
<polygon points="388.98,481.84 397.41,481.83 396.81,474.98" fill="#abff24" stroke="#abff24" stroke-width="0.9"/>
<polygon points="397.41,481.83 405.29,474.96 396.81,474.98" fill="#9eff2a" stroke="#9eff2a" stroke-width="0.9"/>
<polygon points="396.81,474.98 405.29,474.96 404.64,468.12" fill="#9cff38" stroke="#9cff38" stroke-width="0.9"/>
<polygon points="405.29,474.96 413.18,468.09 404.64,468.12" fill="#8fff3d" stroke="#8fff3d" stroke-width="0.9"/>
<polygon points="404.64,468.12 413.18,468.09 412.47,461.26" fill="#8dff4b" stroke="#8dff4b" stroke-width="0.9"/>
<polygon points="413.18,468.09 421.06,461.22 412.47,461.26" fill="#80ff4f" stroke="#80ff4f" stroke-width="0.9"/>
<polygon points="412.47,461.26 421.06,461.22 420.30,454.40" fill="#7dff5c" stroke="#7dff5c" stroke-width="0.9"/>
<polygon points="421.06,461.22 428.94,454.35 420.30,454.40" fill="#71ff60" stroke="#71ff60" stroke-width="0.9"/>
<polygon points="420.30,454.40 428.94,454.35 428.13,447.54" fill="#6dff6d" stroke="#6dff6d" stroke-width="0.9"/>
<polygon points="428.94,454.35 436.82,447.48 428.13,447.54" fill="#60ff71" stroke="#60ff71" stroke-width="0.9"/>
<polygon points="428.13,447.54 436.82,447.48 435.96,440.68" fill="#5cff7d" stroke="#5cff7d" stroke-width="0.9"/>
<polygon points="436.82,447.48 444.70,440.61 435.96,440.68" fill="#4fff80" stroke="#4fff80" stroke-width="0.9"/>
<polygon points="435.96,440.68 444.70,440.61 443.79,433.82" fill="#4bff8d" stroke="#4bff8d" stroke-width="0.9"/>
<polygon points="444.70,440.61 452.59,433.74 443.79,433.82" fill="#3dff8f" stroke="#3dff8f" stroke-width="0.9"/>
<polygon points="443.79,433.82 452.59,433.74 451.62,426.97" fill="#38ff9c" stroke="#38ff9c" stroke-width="0.9"/>
<polygon points="452.59,433.74 460.47,426.87 451.62,426.97" fill="#2aff9e" stroke="#2aff9e" stroke-width="0.9"/>
<polygon points="451.62,426.97 460.47,426.87 459.45,420.11" fill="#24ffab" stroke="#24ffab" stroke-width="0.9"/>
<polygon points="460.47,426.87 468.35,420.00 459.45,420.11" fill="#14ffad" stroke="#14ffad" stroke-width="0.9"/>
<polygon points="459.45,420.11 468.35,420.00 467.28,413.25" fill="#0bffb9" stroke="#0bffb9" stroke-width="0.9"/>
<polygon points="389.53,488.70 397.91,488.70 397.41,481.83" fill="#a2ff0b" stroke="#a2ff0b" stroke-width="0.9"/>
<polygon points="397.91,488.70 405.84,481.82 397.41,481.83" fill="#97ff13" stroke="#97ff13" stroke-width="0.9"/>
<polygon points="397.41,481.83 405.84,481.82 405.29,474.96" fill="#94ff22" stroke="#94ff22" stroke-width="0.9"/>
<polygon points="405.84,481.82 413.78,474.94 405.29,474.96" fill="#89ff28" stroke="#89ff28" stroke-width="0.9"/>
<polygon points="405.29,474.96 413.78,474.94 413.18,468.09" fill="#86ff35" stroke="#86ff35" stroke-width="0.9"/>
<polygon points="413.78,474.94 421.71,468.06 413.18,468.09" fill="#7aff3a" stroke="#7aff3a" stroke-width="0.9"/>
<polygon points="413.18,468.09 421.71,468.06 421.06,461.22" fill="#77ff47" stroke="#77ff47" stroke-width="0.9"/>
<polygon points="421.71,468.06 429.64,461.18 421.06,461.22" fill="#6bff4b" stroke="#6bff4b" stroke-width="0.9"/>
<polygon points="421.06,461.22 429.64,461.18 428.94,454.35" fill="#68ff58" stroke="#68ff58" stroke-width="0.9"/>
<polygon points="429.64,461.18 437.58,454.30 428.94,454.35" fill="#5cff5c" stroke="#5cff5c" stroke-width="0.9"/>
<polygon points="428.94,454.35 437.58,454.30 436.82,447.48" fill="#58ff68" stroke="#58ff68" stroke-width="0.9"/>
<polygon points="437.58,454.30 445.51,447.42 436.82,447.48" fill="#4bff6b" stroke="#4bff6b" stroke-width="0.9"/>
<polygon points="436.82,447.48 445.51,447.42 444.70,440.61" fill="#47ff77" stroke="#47ff77" stroke-width="0.9"/>
<polygon points="445.51,447.42 453.45,440.54 444.70,440.61" fill="#3aff7a" stroke="#3aff7a" stroke-width="0.9"/>
<polygon points="444.70,440.61 453.45,440.54 452.59,433.74" fill="#35ff86" stroke="#35ff86" stroke-width="0.9"/>
<polygon points="453.45,440.54 461.38,433.66 452.59,433.74" fill="#28ff89" stroke="#28ff89" stroke-width="0.9"/>
<polygon points="452.59,433.74 461.38,433.66 460.47,426.87" fill="#22ff94" stroke="#22ff94" stroke-width="0.9"/>
<polygon points="461.38,433.66 469.32,426.78 460.47,426.87" fill="#13ff97" stroke="#13ff97" stroke-width="0.9"/>
<polygon points="460.47,426.87 469.32,426.78 468.35,420.00" fill="#0bffa2" stroke="#0bffa2" stroke-width="0.9"/>
<polygon points="397.91,488.70 406.28,488.70 405.84,481.82" fill="#8dff0a" stroke="#8dff0a" stroke-width="0.9"/>
<polygon points="406.28,488.70 414.27,481.81 405.84,481.82" fill="#82ff12" stroke="#82ff12" stroke-width="0.9"/>
<polygon points="405.84,481.82 414.27,481.81 413.78,474.94" fill="#80ff20" stroke="#80ff20" stroke-width="0.9"/>
<polygon points="414.27,481.81 422.26,474.92 413.78,474.94" fill="#74ff26" stroke="#74ff26" stroke-width="0.9"/>
<polygon points="413.78,474.94 422.26,474.92 421.71,468.06" fill="#71ff33" stroke="#71ff33" stroke-width="0.9"/>
<polygon points="422.26,474.92 430.24,468.03 421.71,468.06" fill="#66ff38" stroke="#66ff38" stroke-width="0.9"/>
<polygon points="421.71,468.06 430.24,468.03 429.64,461.18" fill="#63ff44" stroke="#63ff44" stroke-width="0.9"/>
<polygon points="430.24,468.03 438.23,461.14 429.64,461.18" fill="#57ff48" stroke="#57ff48" stroke-width="0.9"/>
<polygon points="429.64,461.18 438.23,461.14 437.58,454.30" fill="#54ff54" stroke="#54ff54" stroke-width="0.9"/>
<polygon points="438.23,461.14 446.22,454.25 437.58,454.30" fill="#48ff57" stroke="#48ff57" stroke-width="0.9"/>
<polygon points="437.58,454.30 446.22,454.25 445.51,447.42" fill="#44ff63" stroke="#44ff63" stroke-width="0.9"/>
<polygon points="446.22,454.25 454.20,447.36 445.51,447.42" fill="#38ff66" stroke="#38ff66" stroke-width="0.9"/>
<polygon points="445.51,447.42 454.20,447.36 453.45,440.54" fill="#33ff71" stroke="#33ff71" stroke-width="0.9"/>
<polygon points="454.20,447.36 462.19,440.47 453.45,440.54" fill="#26ff74" stroke="#26ff74" stroke-width="0.9"/>
<polygon points="453.45,440.54 462.19,440.47 461.38,433.66" fill="#20ff80" stroke="#20ff80" stroke-width="0.9"/>
<polygon points="462.19,440.47 470.18,433.58 461.38,433.66" fill="#12ff82" stroke="#12ff82" stroke-width="0.9"/>
<polygon points="461.38,433.66 470.18,433.58 469.32,426.78" fill="#0aff8d" stroke="#0aff8d" stroke-width="0.9"/>
<polygon points="406.28,488.70 414.66,488.70 414.27,481.81" fill="#7aff0a" stroke="#7aff0a" stroke-width="0.9"/>
<polygon points="414.66,488.70 422.70,481.80 414.27,481.81" fill="#6fff11" stroke="#6fff11" stroke-width="0.9"/>
<polygon points="414.27,481.81 422.70,481.80 422.26,474.92" fill="#6cff1f" stroke="#6cff1f" stroke-width="0.9"/>
<polygon points="422.70,481.80 430.74,474.90 422.26,474.92" fill="#62ff24" stroke="#62ff24" stroke-width="0.9"/>
<polygon points="422.26,474.92 430.74,474.90 430.24,468.03" fill="#5eff31" stroke="#5eff31" stroke-width="0.9"/>
<polygon points="430.74,474.90 438.78,468.00 430.24,468.03" fill="#54ff35" stroke="#54ff35" stroke-width="0.9"/>
<polygon points="430.24,468.03 438.78,468.00 438.23,461.14" fill="#50ff41" stroke="#50ff41" stroke-width="0.9"/>
<polygon points="438.78,468.00 446.82,461.10 438.23,461.14" fill="#45ff45" stroke="#45ff45" stroke-width="0.9"/>
<polygon points="438.23,461.14 446.82,461.10 446.22,454.25" fill="#41ff50" stroke="#41ff50" stroke-width="0.9"/>
<polygon points="446.82,461.10 454.85,454.20 446.22,454.25" fill="#35ff54" stroke="#35ff54" stroke-width="0.9"/>
<polygon points="446.22,454.25 454.85,454.20 454.20,447.36" fill="#31ff5e" stroke="#31ff5e" stroke-width="0.9"/>
<polygon points="454.85,454.20 462.89,447.29 454.20,447.36" fill="#24ff62" stroke="#24ff62" stroke-width="0.9"/>
<polygon points="454.20,447.36 462.89,447.29 462.19,440.47" fill="#1fff6c" stroke="#1fff6c" stroke-width="0.9"/>
<polygon points="462.89,447.29 470.93,440.39 462.19,440.47" fill="#11ff6f" stroke="#11ff6f" stroke-width="0.9"/>
<polygon points="462.19,440.47 470.93,440.39 470.18,433.58" fill="#0aff7a" stroke="#0aff7a" stroke-width="0.9"/>
<polygon points="414.66,488.70 423.04,488.70 422.70,481.80" fill="#68ff09" stroke="#68ff09" stroke-width="0.9"/>
<polygon points="423.04,488.70 431.13,481.79 422.70,481.80" fill="#5eff11" stroke="#5eff11" stroke-width="0.9"/>
<polygon points="422.70,481.80 431.13,481.79 430.74,474.90" fill="#5bff1e" stroke="#5bff1e" stroke-width="0.9"/>
<polygon points="431.13,481.79 439.22,474.88 430.74,474.90" fill="#50ff23" stroke="#50ff23" stroke-width="0.9"/>
<polygon points="430.74,474.90 439.22,474.88 438.78,468.00" fill="#4dff2e" stroke="#4dff2e" stroke-width="0.9"/>
<polygon points="439.22,474.88 447.31,467.97 438.78,468.00" fill="#42ff33" stroke="#42ff33" stroke-width="0.9"/>
<polygon points="438.78,468.00 447.31,467.97 446.82,461.10" fill="#3eff3e" stroke="#3eff3e" stroke-width="0.9"/>
<polygon points="447.31,467.97 455.40,461.06 446.82,461.10" fill="#33ff42" stroke="#33ff42" stroke-width="0.9"/>
<polygon points="446.82,461.10 455.40,461.06 454.85,454.20" fill="#2eff4d" stroke="#2eff4d" stroke-width="0.9"/>
<polygon points="455.40,461.06 463.49,454.14 454.85,454.20" fill="#23ff50" stroke="#23ff50" stroke-width="0.9"/>
<polygon points="454.85,454.20 463.49,454.14 462.89,447.29" fill="#1eff5b" stroke="#1eff5b" stroke-width="0.9"/>
<polygon points="463.49,454.14 471.58,447.23 462.89,447.29" fill="#11ff5e" stroke="#11ff5e" stroke-width="0.9"/>
<polygon points="462.89,447.29 471.58,447.23 470.93,440.39" fill="#09ff68" stroke="#09ff68" stroke-width="0.9"/>
<polygon points="423.04,488.70 431.42,488.70 431.13,481.79" fill="#57ff09" stroke="#57ff09" stroke-width="0.9"/>
<polygon points="431.42,488.70 439.56,481.78 431.13,481.79" fill="#4dff10" stroke="#4dff10" stroke-width="0.9"/>
<polygon points="431.13,481.79 439.56,481.78 439.22,474.88" fill="#4aff1c" stroke="#4aff1c" stroke-width="0.9"/>
<polygon points="439.56,481.78 447.70,474.86 439.22,474.88" fill="#3fff22" stroke="#3fff22" stroke-width="0.9"/>
<polygon points="439.22,474.88 447.70,474.86 447.31,467.97" fill="#3cff2d" stroke="#3cff2d" stroke-width="0.9"/>
<polygon points="447.70,474.86 455.84,467.94 447.31,467.97" fill="#31ff31" stroke="#31ff31" stroke-width="0.9"/>
<polygon points="447.31,467.97 455.84,467.94 455.40,461.06" fill="#2dff3c" stroke="#2dff3c" stroke-width="0.9"/>
<polygon points="455.84,467.94 463.99,461.01 455.40,461.06" fill="#22ff3f" stroke="#22ff3f" stroke-width="0.9"/>
<polygon points="455.40,461.06 463.99,461.01 463.49,454.14" fill="#1cff4a" stroke="#1cff4a" stroke-width="0.9"/>
<polygon points="463.99,461.01 472.13,454.09 463.49,454.14" fill="#10ff4d" stroke="#10ff4d" stroke-width="0.9"/>
<polygon points="463.49,454.14 472.13,454.09 471.58,447.23" fill="#09ff57" stroke="#09ff57" stroke-width="0.9"/>
<polygon points="431.42,488.70 439.79,488.70 439.56,481.78" fill="#47ff09" stroke="#47ff09" stroke-width="0.9"/>
<polygon points="439.79,488.70 447.99,481.77 439.56,481.78" fill="#3dff0f" stroke="#3dff0f" stroke-width="0.9"/>
<polygon points="439.56,481.78 447.99,481.77 447.70,474.86" fill="#39ff1b" stroke="#39ff1b" stroke-width="0.9"/>
<polygon points="447.99,481.77 456.18,474.84 447.70,474.86" fill="#2fff20" stroke="#2fff20" stroke-width="0.9"/>
<polygon points="447.70,474.86 456.18,474.84 455.84,467.94" fill="#2bff2b" stroke="#2bff2b" stroke-width="0.9"/>
<polygon points="456.18,474.84 464.38,467.90 455.84,467.94" fill="#20ff2f" stroke="#20ff2f" stroke-width="0.9"/>
<polygon points="455.84,467.94 464.38,467.90 463.99,461.01" fill="#1bff39" stroke="#1bff39" stroke-width="0.9"/>
<polygon points="464.38,467.90 472.57,460.97 463.99,461.01" fill="#0fff3d" stroke="#0fff3d" stroke-width="0.9"/>
<polygon points="463.99,461.01 472.57,460.97 472.13,454.09" fill="#09ff47" stroke="#09ff47" stroke-width="0.9"/>
<polygon points="439.79,488.70 448.17,488.70 447.99,481.77" fill="#37ff08" stroke="#37ff08" stroke-width="0.9"/>
<polygon points="448.17,488.70 456.42,481.76 447.99,481.77" fill="#2eff0f" stroke="#2eff0f" stroke-width="0.9"/>
<polygon points="447.99,481.77 456.42,481.76 456.18,474.84" fill="#29ff1a" stroke="#29ff1a" stroke-width="0.9"/>
<polygon points="456.42,481.76 464.66,474.82 456.18,474.84" fill="#1fff1f" stroke="#1fff1f" stroke-width="0.9"/>
<polygon points="456.18,474.84 464.66,474.82 464.38,467.90" fill="#1aff29" stroke="#1aff29" stroke-width="0.9"/>
<polygon points="464.66,474.82 472.91,467.87 464.38,467.90" fill="#0fff2e" stroke="#0fff2e" stroke-width="0.9"/>
<polygon points="464.38,467.90 472.91,467.87 472.57,460.97" fill="#08ff37" stroke="#08ff37" stroke-width="0.9"/>
<polygon points="448.17,488.70 456.55,488.70 456.42,481.76" fill="#28ff08" stroke="#28ff08" stroke-width="0.9"/>
<polygon points="456.55,488.70 464.85,481.75 456.42,481.76" fill="#1eff0e" stroke="#1eff0e" stroke-width="0.9"/>
<polygon points="456.42,481.76 464.85,481.75 464.66,474.82" fill="#19ff19" stroke="#19ff19" stroke-width="0.9"/>
<polygon points="464.85,481.75 473.15,474.79 464.66,474.82" fill="#0eff1e" stroke="#0eff1e" stroke-width="0.9"/>
<polygon points="464.66,474.82 473.15,474.79 472.91,467.87" fill="#08ff28" stroke="#08ff28" stroke-width="0.9"/>
<polygon points="456.55,488.70 464.92,488.70 464.85,481.75" fill="#18ff08" stroke="#18ff08" stroke-width="0.9"/>
<polygon points="464.92,488.70 473.28,481.74 464.85,481.75" fill="#0eff0e" stroke="#0eff0e" stroke-width="0.9"/>
<polygon points="464.85,481.75 473.28,481.74 473.15,474.79" fill="#08ff18" stroke="#08ff18" stroke-width="0.9"/>
<polygon points="464.92,488.70 473.30,488.70 473.28,481.74" fill="#07ff07" stroke="#07ff07" stroke-width="0.9"/>
</g>
<polyline points="255.5,488.7 473.30,488.70 473.25,479.65 473.02,470.64 472.61,461.66 472.03,452.72 471.27,443.81 470.34,434.94 469.22,426.10 467.93,417.30 466.47,408.53 464.83,399.80 463.01,391.10 461.01,382.44 458.84,373.81 456.50,365.22 453.97,356.66 451.27,348.14 448.39,339.65 445.34,331.20 442.11,322.78 438.70,314.40 255.5,488.7" fill="none" stroke="#222" stroke-width="1.1"/>
<line x1="255.5" y1="489.5" x2="473.3" y2="489.5" stroke="#7a7a7a" stroke-width="1.8"/>
<text x="239.2" y="306.4" textLength="14.2" lengthAdjust="spacingAndGlyphs" font-family="'Liberation Sans', Arial, sans-serif" font-size="12.5" fill="#3a3a3a">20</text>
<text x="429.6" y="309.8" textLength="19.3" lengthAdjust="spacingAndGlyphs" font-family="'Liberation Sans', Arial, sans-serif" font-size="11.8" fill="#3a3a3a">111</text>
<text x="245.0" y="504.6" textLength="20" lengthAdjust="spacingAndGlyphs" font-family="'Liberation Sans', Arial, sans-serif" font-size="16" fill="#3a3a3a">001</text>
<text x="458.6" y="504.6" textLength="19.4" lengthAdjust="spacingAndGlyphs" font-family="'Liberation Sans', Arial, sans-serif" font-size="16" fill="#3a3a3a">101</text>
<text transform="translate(15.8,294.3) scale(1,1.06)" x="0" y="0" font-family="'Liberation Serif', 'Times New Roman', serif" font-weight="bold" font-size="62">1050 °C</text>
<text transform="translate(17.6,777.1) scale(1,1.06)" x="0" y="0" font-family="'Liberation Serif', 'Times New Roman', serif" font-weight="bold" font-size="62">1100 °C</text>
<text transform="translate(15.2,1262.2) scale(1,1.06)" x="0" y="0" font-family="'Liberation Serif', 'Times New Roman', serif" font-weight="bold" font-size="62">1150 °C</text>
<path d="M1896.60,273.70 L1896.60,53.70 A222,220 0 0 1 2064.68,417.42 Z" fill="#0000ff"/>
<path d="M1896.60,273.70 L2064.68,417.42 A222,220 0 1 1 1779.42,86.85 Z" fill="#ffff00"/>
<path d="M1896.60,273.70 L1779.42,86.85 A222,220 0 0 1 1896.60,53.70 Z" fill="#ff0000"/>
<text x="1998.4" y="226.2" text-anchor="middle" font-family="'Liberation Serif', 'Times New Roman', serif" font-weight="bold" font-size="23.5">36.33 %</text>
<text x="1838.0" y="348.6" text-anchor="middle" font-family="'Liberation Serif', 'Times New Roman', serif" font-weight="bold" font-size="23.5">54.82 %</text>
<text x="1857.6" y="138.8" text-anchor="middle" font-family="'Liberation Serif', 'Times New Roman', serif" font-weight="bold" font-size="23.5">8.85 %</text>
<path d="M1896.80,756.90 L1896.80,536.70 A222,220.2 0 0 1 2057.96,908.34 Z" fill="#0000ff"/>
<path d="M1896.80,756.90 L2057.96,908.34 A222,220.2 0 1 1 1846.47,542.43 Z" fill="#ffff00"/>
<path d="M1896.80,756.90 L1846.47,542.43 A222,220.2 0 0 1 1896.80,536.70 Z" fill="#ff0000"/>
<text x="2012.7" y="716.6" text-anchor="middle" font-family="'Liberation Serif', 'Times New Roman', serif" font-weight="bold" font-size="23.5">37.07 %</text>
<text x="1799.5" y="797.4" text-anchor="middle" font-family="'Liberation Serif', 'Times New Roman', serif" font-weight="bold" font-size="23.5">59.29 %</text>
<text x="1874.6" y="562.8" text-anchor="middle" font-family="'Liberation Serif', 'Times New Roman', serif" font-weight="bold" font-size="23.5">3.64 %</text>
<path d="M1896.70,1245.40 L1896.70,1024.40 A222,221 0 0 1 2114.92,1285.99 Z" fill="#0000ff"/>
<path d="M1896.70,1245.40 L2114.92,1285.99 A222,221 0 1 1 1868.46,1026.20 Z" fill="#ffff00"/>
<path d="M1896.70,1245.40 L1868.46,1026.20 A222,221 0 0 1 1896.70,1024.40 Z" fill="#ff0000"/>
<text x="2003.6" y="1178.3" text-anchor="middle" font-family="'Liberation Serif', 'Times New Roman', serif" font-weight="bold" font-size="23.5">27.94 %</text>
<text x="1850.6" y="1328.2" text-anchor="middle" font-family="'Liberation Serif', 'Times New Roman', serif" font-weight="bold" font-size="23.5">70.03 %</text>
<text x="1891.5" y="1084.5" text-anchor="middle" font-family="'Liberation Serif', 'Times New Roman', serif" font-weight="bold" font-size="23.5">2.03 %</text>
<text x="1658" y="89.8" font-family="'Liberation Serif', 'Times New Roman', serif" font-weight="bold" font-size="57">a<tspan font-size="36" dy="10">3</tspan></text>
<text x="1658" y="574" font-family="'Liberation Serif', 'Times New Roman', serif" font-weight="bold" font-size="57">b<tspan font-size="36" dy="10">3</tspan></text>
<text x="1658" y="1051.5" font-family="'Liberation Serif', 'Times New Roman', serif" font-weight="bold" font-size="57">c<tspan font-size="36" dy="10">3</tspan></text>
<rect x="359.4" y="1511.5" width="224.2" height="25.3" fill="#0000ff"/>
<text x="595.0" y="1535.4" textLength="190.5" lengthAdjust="spacingAndGlyphs" font-family="'Liberation Serif', 'Times New Roman', serif" font-weight="bold" font-size="33">Recrystallized</text>
<rect x="807" y="1511.2" width="224.2" height="25.3" fill="#ffff00"/>
<text x="1043.5" y="1537.3" textLength="193.5" lengthAdjust="spacingAndGlyphs" font-family="'Liberation Serif', 'Times New Roman', serif" font-weight="bold" font-size="33">Substructured</text>
<rect x="1254.6" y="1509.6" width="224.2" height="25.3" fill="#ff0000"/>
<text x="1492.8" y="1534.3" textLength="134.5" lengthAdjust="spacingAndGlyphs" font-family="'Liberation Serif', 'Times New Roman', serif" font-weight="bold" font-size="33">Deformed</text>
<text x="503" y="998.5" textLength="56" lengthAdjust="spacingAndGlyphs" font-family="'Liberation Sans', Arial, sans-serif" font-size="15.5" fill="#111">1000°C</text>
<rect x="290.55" y="1683.11" width="26.39" height="281.49" fill="#7dc17f"/>
<rect x="319.53" y="1683.11" width="26.39" height="281.49" fill="#7dc17f"/>
<rect x="348.52" y="1777.27" width="26.39" height="187.33" fill="#7dc17f"/>
<rect x="377.51" y="1804.90" width="26.39" height="159.70" fill="#7dc17f"/>
<rect x="406.49" y="1762.86" width="26.39" height="201.74" fill="#7dc17f"/>
<rect x="435.48" y="1856.42" width="26.39" height="108.18" fill="#7dc17f"/>
<rect x="464.47" y="1847.54" width="26.39" height="117.06" fill="#7dc17f"/>
<rect x="493.45" y="1870.24" width="26.39" height="94.36" fill="#7dc17f"/>
<rect x="522.44" y="1898.08" width="26.39" height="66.52" fill="#7dc17f"/>
<rect x="551.42" y="1892.75" width="26.39" height="71.85" fill="#7dc17f"/>
<rect x="580.41" y="1884.26" width="26.39" height="80.34" fill="#7dc17f"/>
<rect x="609.40" y="1888.60" width="26.39" height="76.00" fill="#7dc17f"/>
<rect x="638.38" y="1902.02" width="26.39" height="62.58" fill="#7dc17f"/>
<rect x="667.37" y="1932.03" width="26.39" height="32.57" fill="#7dc17f"/>
<rect x="696.36" y="1907.75" width="26.39" height="56.85" fill="#7dc17f"/>
<rect x="725.34" y="1922.16" width="26.39" height="42.44" fill="#7dc17f"/>
<rect x="754.33" y="1932.03" width="26.39" height="32.57" fill="#7dc17f"/>
<rect x="783.31" y="1941.90" width="26.39" height="22.70" fill="#7dc17f"/>
<polyline points="281.50,1820.77 285.91,1816.74 290.32,1812.69 294.74,1808.62 299.15,1804.55 303.56,1800.48 307.98,1796.40 312.39,1792.34 316.80,1788.28 321.21,1784.24 325.62,1780.23 330.04,1776.24 334.45,1772.29 338.86,1768.38 343.28,1764.52 347.69,1760.70 352.10,1756.95 356.51,1753.25 360.93,1749.63 365.34,1746.08 369.75,1742.61 374.16,1739.23 378.57,1735.94 382.99,1732.75 387.40,1729.66 391.81,1726.68 396.23,1723.81 400.64,1721.05 405.05,1718.43 409.46,1715.92 413.88,1713.56 418.29,1711.32 422.70,1709.23 427.11,1707.28 431.52,1705.48 435.94,1703.83 440.35,1702.33 444.76,1700.99 449.18,1699.81 453.59,1698.79 458.00,1697.94 462.41,1697.24 466.83,1696.72 471.24,1696.36 475.65,1696.17 480.06,1696.15 484.48,1696.29 488.89,1696.61 493.30,1697.09 497.71,1697.73 502.12,1698.55 506.54,1699.52 510.95,1700.66 515.36,1701.96 519.77,1703.41 524.19,1705.02 528.60,1706.78 533.01,1708.69 537.42,1710.75 541.84,1712.94 546.25,1715.28 550.66,1717.74 555.08,1720.34 559.49,1723.06 563.90,1725.89 568.31,1728.85 572.73,1731.91 577.14,1735.07 581.55,1738.34 585.96,1741.70 590.38,1745.14 594.79,1748.67 599.20,1752.28 603.61,1755.95 608.03,1759.69 612.44,1763.49 616.85,1767.34 621.26,1771.24 625.67,1775.18 630.09,1779.16 634.50,1783.16 638.91,1787.20 643.33,1791.25 647.74,1795.31 652.15,1799.38 656.56,1803.46 660.97,1807.53 665.39,1811.60 669.80,1815.65 674.21,1819.69 678.62,1823.71 683.04,1827.70 687.45,1831.66 691.86,1835.59 696.27,1839.48 700.69,1843.33 705.10,1847.13 709.51,1850.89 713.92,1854.59 718.34,1858.24 722.75,1861.83 727.16,1865.37 731.58,1868.84 735.99,1872.25 740.40,1875.60 744.81,1878.87 749.23,1882.08 753.64,1885.22 758.05,1888.28 762.46,1891.28 766.88,1894.20 771.29,1897.04 775.70,1899.81 780.11,1902.51 784.53,1905.13 788.94,1907.68 793.35,1910.15 797.76,1912.55 802.17,1914.87 806.59,1917.12 811.00,1919.30" fill="none" stroke="#1f7a1f" stroke-width="2.2"/>
<rect x="281.5" y="1569.8" width="529.5" height="394.8" fill="none" stroke="#777" stroke-width="2"/>
<line x1="281.5" y1="1964.6" x2="287.5" y2="1964.6" stroke="#666" stroke-width="1.5"/>
<text x="275.5" y="1969.6" text-anchor="end" font-family="'Liberation Serif', 'Times New Roman', serif" font-weight="bold" font-size="16">0</text>
<line x1="281.5" y1="1865.9" x2="287.5" y2="1865.9" stroke="#666" stroke-width="1.5"/>
<text x="275.5" y="1870.9" text-anchor="end" font-family="'Liberation Serif', 'Times New Roman', serif" font-weight="bold" font-size="16">5</text>
<line x1="281.5" y1="1767.2" x2="287.5" y2="1767.2" stroke="#666" stroke-width="1.5"/>
<text x="275.5" y="1772.2" text-anchor="end" font-family="'Liberation Serif', 'Times New Roman', serif" font-weight="bold" font-size="16">10</text>
<line x1="281.5" y1="1668.5" x2="287.5" y2="1668.5" stroke="#666" stroke-width="1.5"/>
<text x="275.5" y="1673.5" text-anchor="end" font-family="'Liberation Serif', 'Times New Roman', serif" font-weight="bold" font-size="16">15</text>
<line x1="281.5" y1="1569.8" x2="287.5" y2="1569.8" stroke="#666" stroke-width="1.5"/>
<text x="275.5" y="1574.8" text-anchor="end" font-family="'Liberation Serif', 'Times New Roman', serif" font-weight="bold" font-size="16">20</text>
<line x1="281.5" y1="1915.2" x2="284.5" y2="1915.2" stroke="#666" stroke-width="1.2"/>
<line x1="281.5" y1="1816.5" x2="284.5" y2="1816.5" stroke="#666" stroke-width="1.2"/>
<line x1="281.5" y1="1717.8" x2="284.5" y2="1717.8" stroke="#666" stroke-width="1.2"/>
<line x1="281.5" y1="1619.1" x2="284.5" y2="1619.1" stroke="#666" stroke-width="1.2"/>
<line x1="294.4" y1="1964.6" x2="294.4" y2="1958.6" stroke="#444" stroke-width="1.8"/>
<text x="294.4" y="1986.6" text-anchor="middle" font-family="'Liberation Serif', 'Times New Roman', serif" font-weight="bold" font-size="17">2</text>
<line x1="359.0" y1="1964.6" x2="359.0" y2="1958.6" stroke="#444" stroke-width="1.8"/>
<text x="359.0" y="1986.6" text-anchor="middle" font-family="'Liberation Serif', 'Times New Roman', serif" font-weight="bold" font-size="17">3</text>
<line x1="423.6" y1="1964.6" x2="423.6" y2="1958.6" stroke="#444" stroke-width="1.8"/>
<text x="423.6" y="1986.6" text-anchor="middle" font-family="'Liberation Serif', 'Times New Roman', serif" font-weight="bold" font-size="17">4</text>
<line x1="488.1" y1="1964.6" x2="488.1" y2="1958.6" stroke="#444" stroke-width="1.8"/>
<text x="488.1" y="1986.6" text-anchor="middle" font-family="'Liberation Serif', 'Times New Roman', serif" font-weight="bold" font-size="17">5</text>
<line x1="552.7" y1="1964.6" x2="552.7" y2="1958.6" stroke="#444" stroke-width="1.8"/>
<text x="552.7" y="1986.6" text-anchor="middle" font-family="'Liberation Serif', 'Times New Roman', serif" font-weight="bold" font-size="17">6</text>
<line x1="617.3" y1="1964.6" x2="617.3" y2="1958.6" stroke="#444" stroke-width="1.8"/>
<text x="617.3" y="1986.6" text-anchor="middle" font-family="'Liberation Serif', 'Times New Roman', serif" font-weight="bold" font-size="17">7</text>
<line x1="681.9" y1="1964.6" x2="681.9" y2="1958.6" stroke="#444" stroke-width="1.8"/>
<text x="681.9" y="1986.6" text-anchor="middle" font-family="'Liberation Serif', 'Times New Roman', serif" font-weight="bold" font-size="17">8</text>
<line x1="746.4" y1="1964.6" x2="746.4" y2="1958.6" stroke="#444" stroke-width="1.8"/>
<text x="746.4" y="1986.6" text-anchor="middle" font-family="'Liberation Serif', 'Times New Roman', serif" font-weight="bold" font-size="17">9</text>
<line x1="811.0" y1="1964.6" x2="811.0" y2="1958.6" stroke="#444" stroke-width="1.8"/>
<text x="811.0" y="1986.6" text-anchor="middle" font-family="'Liberation Serif', 'Times New Roman', serif" font-weight="bold" font-size="17">10</text>
<line x1="326.7" y1="1964.6" x2="326.7" y2="1961.6" stroke="#444" stroke-width="1.5"/>
<line x1="391.3" y1="1964.6" x2="391.3" y2="1961.6" stroke="#444" stroke-width="1.5"/>
<line x1="455.8" y1="1964.6" x2="455.8" y2="1961.6" stroke="#444" stroke-width="1.5"/>
<line x1="520.4" y1="1964.6" x2="520.4" y2="1961.6" stroke="#444" stroke-width="1.5"/>
<line x1="585.0" y1="1964.6" x2="585.0" y2="1961.6" stroke="#444" stroke-width="1.5"/>
<line x1="649.6" y1="1964.6" x2="649.6" y2="1961.6" stroke="#444" stroke-width="1.5"/>
<line x1="714.1" y1="1964.6" x2="714.1" y2="1961.6" stroke="#444" stroke-width="1.5"/>
<line x1="778.7" y1="1964.6" x2="778.7" y2="1961.6" stroke="#444" stroke-width="1.5"/>
<text x="546" y="2014" text-anchor="middle" font-family="'Liberation Serif', 'Times New Roman', serif" font-weight="bold" font-size="17">Grain size(μm)</text>
<text transform="translate(253,1768) rotate(-90)" text-anchor="middle" font-family="'Liberation Serif', 'Times New Roman', serif" font-weight="bold" font-size="17">Frequency(%)</text>
<text x="495" y="1671.8" font-family="'Liberation Serif', 'Times New Roman', serif" font-weight="bold" font-size="44">d=4.83μm</text>
<rect x="496" y="1632.8" width="23" height="3.2" fill="#000"/>
<text x="748" y="1629" font-family="'Liberation Serif', 'Times New Roman', serif" font-weight="bold" font-size="50">a<tspan font-size="34" dy="10">4</tspan></text>
<rect x="894.80" y="1776.62" width="23.80" height="190.38" fill="#7dc17f"/>
<rect x="921.20" y="1754.42" width="23.80" height="212.58" fill="#7dc17f"/>
<rect x="947.61" y="1824.50" width="23.80" height="142.50" fill="#7dc17f"/>
<rect x="974.01" y="1808.59" width="23.80" height="158.41" fill="#7dc17f"/>
<rect x="1000.42" y="1835.31" width="23.80" height="131.69" fill="#7dc17f"/>
<rect x="1026.83" y="1922.62" width="23.80" height="44.38" fill="#7dc17f"/>
<rect x="1053.23" y="1889.04" width="23.80" height="77.96" fill="#7dc17f"/>
<rect x="1079.63" y="1884.07" width="23.80" height="82.93" fill="#7dc17f"/>
<rect x="1106.04" y="1884.07" width="23.80" height="82.93" fill="#7dc17f"/>
<rect x="1132.44" y="1911.23" width="23.80" height="55.77" fill="#7dc17f"/>
<rect x="1158.85" y="1917.65" width="23.80" height="49.35" fill="#7dc17f"/>
<rect x="1185.25" y="1928.02" width="23.80" height="38.98" fill="#7dc17f"/>
<rect x="1211.66" y="1899.55" width="23.80" height="67.45" fill="#7dc17f"/>
<rect x="1238.06" y="1939.70" width="23.80" height="27.30" fill="#7dc17f"/>
<rect x="1264.47" y="1944.81" width="23.80" height="22.19" fill="#7dc17f"/>
<rect x="1290.87" y="1933.42" width="23.80" height="33.58" fill="#7dc17f"/>
<rect x="1317.28" y="1939.70" width="23.80" height="27.30" fill="#7dc17f"/>
<rect x="1370.09" y="1943.93" width="23.80" height="23.07" fill="#7dc17f"/>
<rect x="1396.49" y="1955.61" width="23.80" height="11.39" fill="#7dc17f"/>
<polyline points="893.50,1857.03 897.90,1853.38 902.30,1849.71 906.70,1846.03 911.10,1842.33 915.50,1838.64 919.90,1834.94 924.31,1831.26 928.71,1827.60 933.11,1823.96 937.51,1820.35 941.91,1816.78 946.31,1813.26 950.71,1809.78 955.11,1806.37 959.51,1803.03 963.91,1799.76 968.31,1796.57 972.72,1793.47 977.12,1790.46 981.52,1787.56 985.92,1784.76 990.32,1782.09 994.72,1779.53 999.12,1777.10 1003.52,1774.81 1007.92,1772.65 1012.32,1770.64 1016.72,1768.79 1021.12,1767.08 1025.53,1765.53 1029.93,1764.15 1034.33,1762.93 1038.73,1761.88 1043.13,1761.01 1047.53,1760.31 1051.93,1759.78 1056.33,1759.43 1060.73,1759.26 1065.13,1759.27 1069.53,1759.46 1073.93,1759.82 1078.34,1760.36 1082.74,1761.08 1087.14,1761.97 1091.54,1763.04 1095.94,1764.27 1100.34,1765.67 1104.74,1767.23 1109.14,1768.95 1113.54,1770.82 1117.94,1772.84 1122.34,1775.01 1126.74,1777.32 1131.14,1779.76 1135.55,1782.32 1139.95,1785.01 1144.35,1787.82 1148.75,1790.73 1153.15,1793.74 1157.55,1796.85 1161.95,1800.05 1166.35,1803.33 1170.75,1806.68 1175.15,1810.10 1179.55,1813.57 1183.95,1817.10 1188.36,1820.68 1192.76,1824.29 1197.16,1827.93 1201.56,1831.60 1205.96,1835.28 1210.36,1838.97 1214.76,1842.67 1219.16,1846.36 1223.56,1850.05 1227.96,1853.72 1232.36,1857.36 1236.76,1860.99 1241.17,1864.58 1245.57,1868.13 1249.97,1871.64 1254.37,1875.11 1258.77,1878.53 1263.17,1881.89 1267.57,1885.20 1271.97,1888.44 1276.37,1891.62 1280.77,1894.74 1285.17,1897.78 1289.57,1900.76 1293.98,1903.66 1298.38,1906.49 1302.78,1909.24 1307.18,1911.91 1311.58,1914.50 1315.98,1917.02 1320.38,1919.45 1324.78,1921.81 1329.18,1924.08 1333.58,1926.28 1337.98,1928.40 1342.38,1930.43 1346.79,1932.39 1351.19,1934.28 1355.59,1936.09 1359.99,1937.82 1364.39,1939.48 1368.79,1941.07 1373.19,1942.58 1377.59,1944.03 1381.99,1945.41 1386.39,1946.73 1390.79,1947.98 1395.19,1949.17 1399.60,1950.30 1404.00,1951.37 1408.40,1952.38 1412.80,1953.34 1417.20,1954.25 1421.60,1955.11" fill="none" stroke="#1f7a1f" stroke-width="2.2"/>
<rect x="893.5" y="1572.8" width="528.1" height="394.2" fill="none" stroke="#777" stroke-width="2"/>
<line x1="893.5" y1="1967.0" x2="899.5" y2="1967.0" stroke="#666" stroke-width="1.5"/>
<text x="887.5" y="1972.0" text-anchor="end" font-family="'Liberation Serif', 'Times New Roman', serif" font-weight="bold" font-size="16">0</text>
<line x1="893.5" y1="1894.0" x2="899.5" y2="1894.0" stroke="#666" stroke-width="1.5"/>
<text x="887.5" y="1899.0" text-anchor="end" font-family="'Liberation Serif', 'Times New Roman', serif" font-weight="bold" font-size="16">5</text>
<line x1="893.5" y1="1821.0" x2="899.5" y2="1821.0" stroke="#666" stroke-width="1.5"/>
<text x="887.5" y="1826.0" text-anchor="end" font-family="'Liberation Serif', 'Times New Roman', serif" font-weight="bold" font-size="16">10</text>
<line x1="893.5" y1="1748.0" x2="899.5" y2="1748.0" stroke="#666" stroke-width="1.5"/>
<text x="887.5" y="1753.0" text-anchor="end" font-family="'Liberation Serif', 'Times New Roman', serif" font-weight="bold" font-size="16">15</text>
<line x1="893.5" y1="1675.0" x2="899.5" y2="1675.0" stroke="#666" stroke-width="1.5"/>
<text x="887.5" y="1680.0" text-anchor="end" font-family="'Liberation Serif', 'Times New Roman', serif" font-weight="bold" font-size="16">20</text>
<line x1="893.5" y1="1602.0" x2="899.5" y2="1602.0" stroke="#666" stroke-width="1.5"/>
<text x="887.5" y="1607.0" text-anchor="end" font-family="'Liberation Serif', 'Times New Roman', serif" font-weight="bold" font-size="16">25</text>
<line x1="893.5" y1="1930.5" x2="896.5" y2="1930.5" stroke="#666" stroke-width="1.2"/>
<line x1="893.5" y1="1857.5" x2="896.5" y2="1857.5" stroke="#666" stroke-width="1.2"/>
<line x1="893.5" y1="1784.5" x2="896.5" y2="1784.5" stroke="#666" stroke-width="1.2"/>
<line x1="893.5" y1="1711.5" x2="896.5" y2="1711.5" stroke="#666" stroke-width="1.2"/>
<line x1="893.5" y1="1638.5" x2="896.5" y2="1638.5" stroke="#666" stroke-width="1.2"/>
<line x1="901.5" y1="1967" x2="901.5" y2="1961" stroke="#444" stroke-width="1.8"/>
<text x="901.5" y="1989" text-anchor="middle" font-family="'Liberation Serif', 'Times New Roman', serif" font-weight="bold" font-size="17">2</text>
<line x1="981.5" y1="1967" x2="981.5" y2="1961" stroke="#444" stroke-width="1.8"/>
<text x="981.5" y="1989" text-anchor="middle" font-family="'Liberation Serif', 'Times New Roman', serif" font-weight="bold" font-size="17">4</text>
<line x1="1061.5" y1="1967" x2="1061.5" y2="1961" stroke="#444" stroke-width="1.8"/>
<text x="1061.5" y="1989" text-anchor="middle" font-family="'Liberation Serif', 'Times New Roman', serif" font-weight="bold" font-size="17">6</text>
<line x1="1141.5" y1="1967" x2="1141.5" y2="1961" stroke="#444" stroke-width="1.8"/>
<text x="1141.5" y="1989" text-anchor="middle" font-family="'Liberation Serif', 'Times New Roman', serif" font-weight="bold" font-size="17">8</text>
<line x1="1221.6" y1="1967" x2="1221.6" y2="1961" stroke="#444" stroke-width="1.8"/>
<text x="1221.6" y="1989" text-anchor="middle" font-family="'Liberation Serif', 'Times New Roman', serif" font-weight="bold" font-size="17">10</text>
<line x1="1301.6" y1="1967" x2="1301.6" y2="1961" stroke="#444" stroke-width="1.8"/>
<text x="1301.6" y="1989" text-anchor="middle" font-family="'Liberation Serif', 'Times New Roman', serif" font-weight="bold" font-size="17">12</text>
<line x1="1381.6" y1="1967" x2="1381.6" y2="1961" stroke="#444" stroke-width="1.8"/>
<text x="1381.6" y="1989" text-anchor="middle" font-family="'Liberation Serif', 'Times New Roman', serif" font-weight="bold" font-size="17">14</text>
<line x1="941.5" y1="1967" x2="941.5" y2="1964" stroke="#444" stroke-width="1.5"/>
<line x1="1021.5" y1="1967" x2="1021.5" y2="1964" stroke="#444" stroke-width="1.5"/>
<line x1="1101.5" y1="1967" x2="1101.5" y2="1964" stroke="#444" stroke-width="1.5"/>
<line x1="1181.6" y1="1967" x2="1181.6" y2="1964" stroke="#444" stroke-width="1.5"/>
<line x1="1261.6" y1="1967" x2="1261.6" y2="1964" stroke="#444" stroke-width="1.5"/>
<line x1="1341.6" y1="1967" x2="1341.6" y2="1964" stroke="#444" stroke-width="1.5"/>
<text x="1157" y="2016" text-anchor="middle" font-family="'Liberation Serif', 'Times New Roman', serif" font-weight="bold" font-size="17">Grain size(μm)</text>
<text transform="translate(864,1768) rotate(-90)" text-anchor="middle" font-family="'Liberation Serif', 'Times New Roman', serif" font-weight="bold" font-size="17">Frequency(%)</text>
<text x="1073.6" y="1720.8" font-family="'Liberation Serif', 'Times New Roman', serif" font-weight="bold" font-size="44">d=6.02μm</text>
<rect x="1074.6" y="1681.8" width="23" height="3.2" fill="#000"/>
<text x="1357" y="1629" font-family="'Liberation Serif', 'Times New Roman', serif" font-weight="bold" font-size="50">b<tspan font-size="34" dy="10">4</tspan></text>
<rect x="1510.36" y="1658.20" width="28.10" height="299.30" fill="#7dc17f"/>
<rect x="1541.05" y="1806.85" width="28.10" height="150.65" fill="#7dc17f"/>
<rect x="1571.75" y="1679.13" width="28.10" height="278.37" fill="#7dc17f"/>
<rect x="1602.44" y="1700.37" width="28.10" height="257.13" fill="#7dc17f"/>
<rect x="1633.14" y="1881.64" width="28.10" height="75.86" fill="#7dc17f"/>
<rect x="1663.84" y="1860.09" width="28.10" height="97.41" fill="#7dc17f"/>
<rect x="1694.53" y="1870.56" width="28.10" height="86.94" fill="#7dc17f"/>
<rect x="1725.23" y="1891.64" width="28.10" height="65.86" fill="#7dc17f"/>
<rect x="1755.92" y="1913.80" width="28.10" height="43.70" fill="#7dc17f"/>
<rect x="1786.62" y="1881.64" width="28.10" height="75.86" fill="#7dc17f"/>
<rect x="1817.31" y="1925.19" width="28.10" height="32.31" fill="#7dc17f"/>
<rect x="1848.01" y="1913.80" width="28.10" height="43.70" fill="#7dc17f"/>
<rect x="1909.40" y="1935.34" width="28.10" height="22.16" fill="#7dc17f"/>
<rect x="1940.10" y="1946.42" width="28.10" height="11.08" fill="#7dc17f"/>
<rect x="1970.79" y="1946.42" width="28.10" height="11.08" fill="#7dc17f"/>
<polyline points="1495.50,1810.98 1499.50,1805.35 1503.50,1799.71 1507.49,1794.08 1511.49,1788.46 1515.49,1782.89 1519.49,1777.37 1523.48,1771.91 1527.48,1766.55 1531.48,1761.28 1535.48,1756.14 1539.48,1751.13 1543.47,1746.27 1547.47,1741.59 1551.47,1737.09 1555.47,1732.79 1559.47,1728.71 1563.46,1724.86 1567.46,1721.26 1571.46,1717.92 1575.46,1714.84 1579.45,1712.06 1583.45,1709.56 1587.45,1707.37 1591.45,1705.49 1595.45,1703.93 1599.44,1702.70 1603.44,1701.79 1607.44,1701.22 1611.44,1700.99 1615.43,1701.09 1619.43,1701.53 1623.43,1702.30 1627.43,1703.41 1631.43,1704.84 1635.42,1706.60 1639.42,1708.67 1643.42,1711.05 1647.42,1713.72 1651.41,1716.68 1655.41,1719.92 1659.41,1723.42 1663.41,1727.18 1667.41,1731.17 1671.40,1735.39 1675.40,1739.81 1679.40,1744.42 1683.40,1749.21 1687.40,1754.16 1691.39,1759.26 1695.39,1764.48 1699.39,1769.80 1703.39,1775.23 1707.38,1780.72 1711.38,1786.28 1715.38,1791.88 1719.38,1797.51 1723.38,1803.15 1727.37,1808.78 1731.37,1814.40 1735.37,1819.99 1739.37,1825.53 1743.36,1831.01 1747.36,1836.43 1751.36,1841.77 1755.36,1847.01 1759.36,1852.16 1763.35,1857.20 1767.35,1862.12 1771.35,1866.92 1775.35,1871.60 1779.35,1876.13 1783.34,1880.53 1787.34,1884.79 1791.34,1888.90 1795.34,1892.87 1799.33,1896.68 1803.33,1900.35 1807.33,1903.86 1811.33,1907.23 1815.33,1910.44 1819.32,1913.51 1823.32,1916.43 1827.32,1919.21 1831.32,1921.85 1835.31,1924.35 1839.31,1926.71 1843.31,1928.95 1847.31,1931.05 1851.31,1933.03 1855.30,1934.90 1859.30,1936.65 1863.30,1938.29 1867.30,1939.82 1871.30,1941.25 1875.29,1942.59 1879.29,1943.83 1883.29,1944.99 1887.29,1946.06 1891.28,1947.06 1895.28,1947.98 1899.28,1948.83 1903.28,1949.62 1907.28,1950.34 1911.27,1951.01 1915.27,1951.62 1919.27,1952.18 1923.27,1952.69 1927.26,1953.16 1931.26,1953.59 1935.26,1953.98 1939.26,1954.34 1943.26,1954.66 1947.25,1954.96 1951.25,1955.23 1955.25,1955.47 1959.25,1955.68 1963.24,1955.88 1967.24,1956.06 1971.24,1956.22 1975.24,1956.36" fill="none" stroke="#1f7a1f" stroke-width="2.2"/>
<rect x="1495.5" y="1572.8" width="516.5" height="384.7" fill="none" stroke="#777" stroke-width="2"/>
<line x1="1495.5" y1="1957.5" x2="1501.5" y2="1957.5" stroke="#666" stroke-width="1.5"/>
<text x="1489.5" y="1962.5" text-anchor="end" font-family="'Liberation Serif', 'Times New Roman', serif" font-weight="bold" font-size="16">0</text>
<line x1="1495.5" y1="1880.6" x2="1501.5" y2="1880.6" stroke="#666" stroke-width="1.5"/>
<text x="1489.5" y="1885.6" text-anchor="end" font-family="'Liberation Serif', 'Times New Roman', serif" font-weight="bold" font-size="16">5</text>
<line x1="1495.5" y1="1803.6" x2="1501.5" y2="1803.6" stroke="#666" stroke-width="1.5"/>
<text x="1489.5" y="1808.6" text-anchor="end" font-family="'Liberation Serif', 'Times New Roman', serif" font-weight="bold" font-size="16">10</text>
<line x1="1495.5" y1="1726.7" x2="1501.5" y2="1726.7" stroke="#666" stroke-width="1.5"/>
<text x="1489.5" y="1731.7" text-anchor="end" font-family="'Liberation Serif', 'Times New Roman', serif" font-weight="bold" font-size="16">15</text>
<line x1="1495.5" y1="1649.7" x2="1501.5" y2="1649.7" stroke="#666" stroke-width="1.5"/>
<text x="1489.5" y="1654.7" text-anchor="end" font-family="'Liberation Serif', 'Times New Roman', serif" font-weight="bold" font-size="16">20</text>
<line x1="1495.5" y1="1572.8" x2="1501.5" y2="1572.8" stroke="#666" stroke-width="1.5"/>
<text x="1489.5" y="1577.8" text-anchor="end" font-family="'Liberation Serif', 'Times New Roman', serif" font-weight="bold" font-size="16">25</text>
<line x1="1495.5" y1="1919.0" x2="1498.5" y2="1919.0" stroke="#666" stroke-width="1.2"/>
<line x1="1495.5" y1="1842.1" x2="1498.5" y2="1842.1" stroke="#666" stroke-width="1.2"/>
<line x1="1495.5" y1="1765.2" x2="1498.5" y2="1765.2" stroke="#666" stroke-width="1.2"/>
<line x1="1495.5" y1="1688.2" x2="1498.5" y2="1688.2" stroke="#666" stroke-width="1.2"/>
<line x1="1495.5" y1="1611.3" x2="1498.5" y2="1611.3" stroke="#666" stroke-width="1.2"/>
<line x1="1506.5" y1="1957.5" x2="1506.5" y2="1951.5" stroke="#444" stroke-width="1.8"/>
<text x="1506.5" y="1979.5" text-anchor="middle" font-family="'Liberation Serif', 'Times New Roman', serif" font-weight="bold" font-size="17">3</text>
<line x1="1575.5" y1="1957.5" x2="1575.5" y2="1951.5" stroke="#444" stroke-width="1.8"/>
<text x="1575.5" y="1979.5" text-anchor="middle" font-family="'Liberation Serif', 'Times New Roman', serif" font-weight="bold" font-size="17">6</text>
<line x1="1644.4" y1="1957.5" x2="1644.4" y2="1951.5" stroke="#444" stroke-width="1.8"/>
<text x="1644.4" y="1979.5" text-anchor="middle" font-family="'Liberation Serif', 'Times New Roman', serif" font-weight="bold" font-size="17">9</text>
<line x1="1713.3" y1="1957.5" x2="1713.3" y2="1951.5" stroke="#444" stroke-width="1.8"/>
<text x="1713.3" y="1979.5" text-anchor="middle" font-family="'Liberation Serif', 'Times New Roman', serif" font-weight="bold" font-size="17">12</text>
<line x1="1782.2" y1="1957.5" x2="1782.2" y2="1951.5" stroke="#444" stroke-width="1.8"/>
<text x="1782.2" y="1979.5" text-anchor="middle" font-family="'Liberation Serif', 'Times New Roman', serif" font-weight="bold" font-size="17">15</text>
<line x1="1851.2" y1="1957.5" x2="1851.2" y2="1951.5" stroke="#444" stroke-width="1.8"/>
<text x="1851.2" y="1979.5" text-anchor="middle" font-family="'Liberation Serif', 'Times New Roman', serif" font-weight="bold" font-size="17">18</text>
<line x1="1920.1" y1="1957.5" x2="1920.1" y2="1951.5" stroke="#444" stroke-width="1.8"/>
<text x="1920.1" y="1979.5" text-anchor="middle" font-family="'Liberation Serif', 'Times New Roman', serif" font-weight="bold" font-size="17">21</text>
<line x1="1989.0" y1="1957.5" x2="1989.0" y2="1951.5" stroke="#444" stroke-width="1.8"/>
<text x="1989.0" y="1979.5" text-anchor="middle" font-family="'Liberation Serif', 'Times New Roman', serif" font-weight="bold" font-size="17">24</text>
<line x1="1541.0" y1="1957.5" x2="1541.0" y2="1954.5" stroke="#444" stroke-width="1.5"/>
<line x1="1609.9" y1="1957.5" x2="1609.9" y2="1954.5" stroke="#444" stroke-width="1.5"/>
<line x1="1678.8" y1="1957.5" x2="1678.8" y2="1954.5" stroke="#444" stroke-width="1.5"/>
<line x1="1747.8" y1="1957.5" x2="1747.8" y2="1954.5" stroke="#444" stroke-width="1.5"/>
<line x1="1816.7" y1="1957.5" x2="1816.7" y2="1954.5" stroke="#444" stroke-width="1.5"/>
<line x1="1885.6" y1="1957.5" x2="1885.6" y2="1954.5" stroke="#444" stroke-width="1.5"/>
<line x1="1954.6" y1="1957.5" x2="1954.6" y2="1954.5" stroke="#444" stroke-width="1.5"/>
<text x="1753" y="2005" text-anchor="middle" font-family="'Liberation Serif', 'Times New Roman', serif" font-weight="bold" font-size="17">Grain size(μm)</text>
<text transform="translate(1466,1765) rotate(-90)" text-anchor="middle" font-family="'Liberation Serif', 'Times New Roman', serif" font-weight="bold" font-size="17">Frequency(%)</text>
<text x="1675.7" y="1660.7" font-family="'Liberation Serif', 'Times New Roman', serif" font-weight="bold" font-size="44">d=8.61μm</text>
<rect x="1676.7" y="1621.7" width="23" height="3.2" fill="#000"/>
<text x="1946" y="1629" font-family="'Liberation Serif', 'Times New Roman', serif" font-weight="bold" font-size="50">c<tspan font-size="34" dy="10">4</tspan></text>
</svg>
</body></html>
